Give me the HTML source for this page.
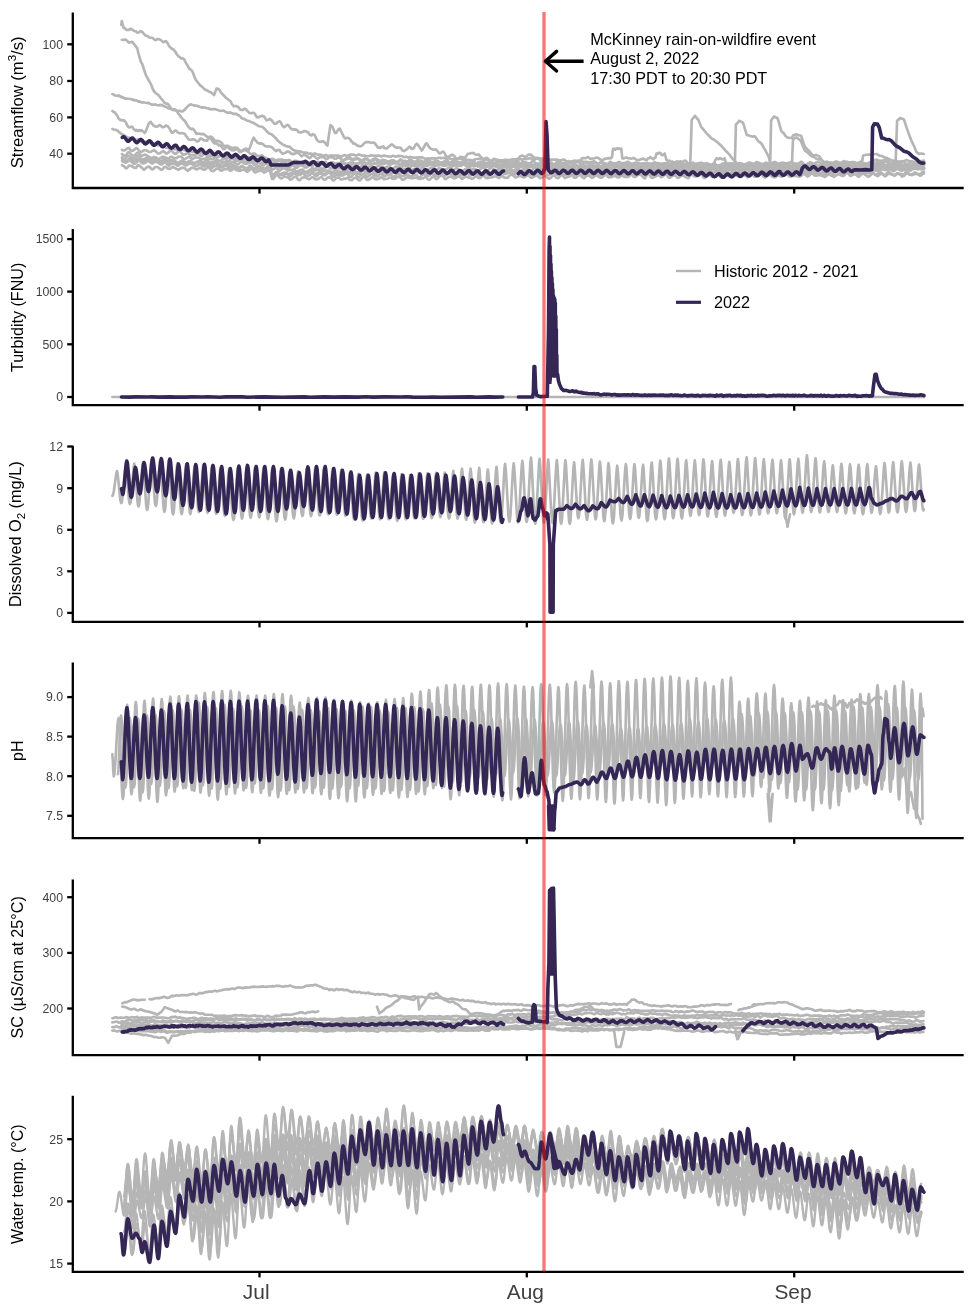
<!DOCTYPE html>
<html lang="en"><head><meta charset="utf-8"><title>Water quality time series</title>
<style>html,body{margin:0;padding:0;background:#fff}svg{display:block}</style></head>
<body>
<svg width="968" height="1306" viewBox="0 0 968 1306" font-family="'Liberation Sans', sans-serif">
<rect width="968" height="1306" fill="#fff"/>
<path d="M72.8,12.4 L72.8,188.0 L963.7,188.0" fill="none" stroke="#000000" stroke-width="2.3" stroke-linejoin="miter"/>
<line x1="67.2" y1="44.3" x2="72.8" y2="44.3" stroke="#000000" stroke-width="2.3"/>
<text x="63" y="48.6" text-anchor="end" font-size="12.3" fill="#404040">100</text>
<line x1="67.2" y1="81.0" x2="72.8" y2="81.0" stroke="#000000" stroke-width="2.3"/>
<text x="63" y="85.3" text-anchor="end" font-size="12.3" fill="#404040">80</text>
<line x1="67.2" y1="117.4" x2="72.8" y2="117.4" stroke="#000000" stroke-width="2.3"/>
<text x="63" y="121.7" text-anchor="end" font-size="12.3" fill="#404040">60</text>
<line x1="67.2" y1="153.7" x2="72.8" y2="153.7" stroke="#000000" stroke-width="2.3"/>
<text x="63" y="158.0" text-anchor="end" font-size="12.3" fill="#404040">40</text>
<line x1="259.5" y1="188.0" x2="259.5" y2="193.6" stroke="#000000" stroke-width="2.3"/>
<line x1="526.8" y1="188.0" x2="526.8" y2="193.6" stroke="#000000" stroke-width="2.3"/>
<line x1="794.2" y1="188.0" x2="794.2" y2="193.6" stroke="#000000" stroke-width="2.3"/>
<path d="M72.8,229.0 L72.8,405.1 L963.7,405.1" fill="none" stroke="#000000" stroke-width="2.3" stroke-linejoin="miter"/>
<line x1="67.2" y1="239.1" x2="72.8" y2="239.1" stroke="#000000" stroke-width="2.3"/>
<text x="63" y="243.4" text-anchor="end" font-size="12.3" fill="#404040">1500</text>
<line x1="67.2" y1="291.6" x2="72.8" y2="291.6" stroke="#000000" stroke-width="2.3"/>
<text x="63" y="295.9" text-anchor="end" font-size="12.3" fill="#404040">1000</text>
<line x1="67.2" y1="344.3" x2="72.8" y2="344.3" stroke="#000000" stroke-width="2.3"/>
<text x="63" y="348.6" text-anchor="end" font-size="12.3" fill="#404040">500</text>
<line x1="67.2" y1="397.0" x2="72.8" y2="397.0" stroke="#000000" stroke-width="2.3"/>
<text x="63" y="401.3" text-anchor="end" font-size="12.3" fill="#404040">0</text>
<line x1="259.5" y1="405.1" x2="259.5" y2="410.70000000000005" stroke="#000000" stroke-width="2.3"/>
<line x1="526.8" y1="405.1" x2="526.8" y2="410.70000000000005" stroke="#000000" stroke-width="2.3"/>
<line x1="794.2" y1="405.1" x2="794.2" y2="410.70000000000005" stroke="#000000" stroke-width="2.3"/>
<path d="M72.8,445.7 L72.8,621.8 L963.7,621.8" fill="none" stroke="#000000" stroke-width="2.3" stroke-linejoin="miter"/>
<line x1="67.2" y1="446.5" x2="72.8" y2="446.5" stroke="#000000" stroke-width="2.3"/>
<text x="63" y="450.8" text-anchor="end" font-size="12.3" fill="#404040">12</text>
<line x1="67.2" y1="488.2" x2="72.8" y2="488.2" stroke="#000000" stroke-width="2.3"/>
<text x="63" y="492.5" text-anchor="end" font-size="12.3" fill="#404040">9</text>
<line x1="67.2" y1="529.8" x2="72.8" y2="529.8" stroke="#000000" stroke-width="2.3"/>
<text x="63" y="534.1" text-anchor="end" font-size="12.3" fill="#404040">6</text>
<line x1="67.2" y1="571.3" x2="72.8" y2="571.3" stroke="#000000" stroke-width="2.3"/>
<text x="63" y="575.6" text-anchor="end" font-size="12.3" fill="#404040">3</text>
<line x1="67.2" y1="612.9" x2="72.8" y2="612.9" stroke="#000000" stroke-width="2.3"/>
<text x="63" y="617.2" text-anchor="end" font-size="12.3" fill="#404040">0</text>
<line x1="259.5" y1="621.8" x2="259.5" y2="627.4" stroke="#000000" stroke-width="2.3"/>
<line x1="526.8" y1="621.8" x2="526.8" y2="627.4" stroke="#000000" stroke-width="2.3"/>
<line x1="794.2" y1="621.8" x2="794.2" y2="627.4" stroke="#000000" stroke-width="2.3"/>
<path d="M72.8,662.4 L72.8,838.2 L963.7,838.2" fill="none" stroke="#000000" stroke-width="2.3" stroke-linejoin="miter"/>
<line x1="67.2" y1="697.1" x2="72.8" y2="697.1" stroke="#000000" stroke-width="2.3"/>
<text x="63" y="701.4" text-anchor="end" font-size="12.3" fill="#404040">9.0</text>
<line x1="67.2" y1="736.6" x2="72.8" y2="736.6" stroke="#000000" stroke-width="2.3"/>
<text x="63" y="740.9" text-anchor="end" font-size="12.3" fill="#404040">8.5</text>
<line x1="67.2" y1="776.2" x2="72.8" y2="776.2" stroke="#000000" stroke-width="2.3"/>
<text x="63" y="780.5" text-anchor="end" font-size="12.3" fill="#404040">8.0</text>
<line x1="67.2" y1="815.8" x2="72.8" y2="815.8" stroke="#000000" stroke-width="2.3"/>
<text x="63" y="820.1" text-anchor="end" font-size="12.3" fill="#404040">7.5</text>
<line x1="259.5" y1="838.2" x2="259.5" y2="843.8000000000001" stroke="#000000" stroke-width="2.3"/>
<line x1="526.8" y1="838.2" x2="526.8" y2="843.8000000000001" stroke="#000000" stroke-width="2.3"/>
<line x1="794.2" y1="838.2" x2="794.2" y2="843.8000000000001" stroke="#000000" stroke-width="2.3"/>
<path d="M72.8,879.5 L72.8,1055.1 L963.7,1055.1" fill="none" stroke="#000000" stroke-width="2.3" stroke-linejoin="miter"/>
<line x1="67.2" y1="897.2" x2="72.8" y2="897.2" stroke="#000000" stroke-width="2.3"/>
<text x="63" y="901.5" text-anchor="end" font-size="12.3" fill="#404040">400</text>
<line x1="67.2" y1="952.9" x2="72.8" y2="952.9" stroke="#000000" stroke-width="2.3"/>
<text x="63" y="957.2" text-anchor="end" font-size="12.3" fill="#404040">300</text>
<line x1="67.2" y1="1008.5" x2="72.8" y2="1008.5" stroke="#000000" stroke-width="2.3"/>
<text x="63" y="1012.8" text-anchor="end" font-size="12.3" fill="#404040">200</text>
<line x1="259.5" y1="1055.1" x2="259.5" y2="1060.6999999999998" stroke="#000000" stroke-width="2.3"/>
<line x1="526.8" y1="1055.1" x2="526.8" y2="1060.6999999999998" stroke="#000000" stroke-width="2.3"/>
<line x1="794.2" y1="1055.1" x2="794.2" y2="1060.6999999999998" stroke="#000000" stroke-width="2.3"/>
<path d="M72.8,1095.7 L72.8,1271.8 L963.7,1271.8" fill="none" stroke="#000000" stroke-width="2.3" stroke-linejoin="miter"/>
<line x1="67.2" y1="1139.2" x2="72.8" y2="1139.2" stroke="#000000" stroke-width="2.3"/>
<text x="63" y="1143.5" text-anchor="end" font-size="12.3" fill="#404040">25</text>
<line x1="67.2" y1="1201.4" x2="72.8" y2="1201.4" stroke="#000000" stroke-width="2.3"/>
<text x="63" y="1205.7" text-anchor="end" font-size="12.3" fill="#404040">20</text>
<line x1="67.2" y1="1263.6" x2="72.8" y2="1263.6" stroke="#000000" stroke-width="2.3"/>
<text x="63" y="1267.9" text-anchor="end" font-size="12.3" fill="#404040">15</text>
<line x1="259.5" y1="1271.8" x2="259.5" y2="1277.3999999999999" stroke="#000000" stroke-width="2.3"/>
<line x1="526.8" y1="1271.8" x2="526.8" y2="1277.3999999999999" stroke="#000000" stroke-width="2.3"/>
<line x1="794.2" y1="1271.8" x2="794.2" y2="1277.3999999999999" stroke="#000000" stroke-width="2.3"/>
<text x="256.2" y="1298.6" text-anchor="middle" font-size="20.9" fill="#404040">Jul</text>
<text x="525.4" y="1298.6" text-anchor="middle" font-size="20.9" fill="#404040">Aug</text>
<text x="793.0" y="1298.6" text-anchor="middle" font-size="20.9" fill="#404040">Sep</text>
<text transform="translate(23.3,102.4) rotate(-90)" text-anchor="middle" font-size="16.6" fill="#000">Streamflow (m<tspan dy="-7" font-size="11.5">3</tspan><tspan dy="7">/s)</tspan></text>
<text transform="translate(23.4,317.4) rotate(-90)" text-anchor="middle" font-size="16.1" fill="#000">Turbidity (FNU)</text>
<text transform="translate(21.0,534.2) rotate(-90)" text-anchor="middle" font-size="16.3" fill="#000">Dissolved O<tspan dy="3.5" font-size="11.5">2</tspan><tspan dy="-3.5"> (mg/L)</tspan></text>
<text transform="translate(23.4,750.6) rotate(-90)" text-anchor="middle" font-size="16.1" fill="#000">pH</text>
<text transform="translate(23.4,967.3) rotate(-90)" text-anchor="middle" font-size="16.15" fill="#000">SC (µS/cm at 25°C)</text>
<text transform="translate(23.4,1184.2) rotate(-90)" text-anchor="middle" font-size="16.0" fill="#000">Water temp. (°C)</text>
<path d="M122,149.8l1,.6 1,.1 2-.8 1-1.5 1,0 1-.3 1,1.8 2,1.1 1-.2 2-1.5 1-1 1,.2 1,1 1,1.6 2,1.2 2-1.1 1-.8 2,.1 2,.9 1,.8 2-.2 1-.8 1-.2 1-.7 2,1.5 2,1.9 2-.1 1-1 2-1.3 1,.4 2,2 1,0 2-1.6 1-1.2 2,.5 1,1.2 2,1.5 1-.2 2-2 1-.7 1,.2 3,3.6 1-.5 1,.3 1-.9 2-.6 3,2.2 1-.1 1,.3 1-.5 1-.2 1-.8 1,.4 1-.5 2,1.3 1,1 1-.2 2-1.9 1-.2 1,.8 1,1.3 1,.5 2-.4 1,.4 2-1.4 1-.4 2,1.5 1,.3 2-.1 1-.8 1,0 1-.6 2,1.5 1,1.3 2,.5 1-.1 1-.5 1-1.2 1-.9 1-.1 1,1.3 1,.1 1,.9 1-.3 1,.4 3-1.1 1,.6 1,0 1,.9 1,0 1,.7 1-.4 2-1.5 1,.1 2,1.7 2,2.1 1-.4 1-1.2 1-.6 2,.4 1-.2 2,1 2,.1 3-2.1 2,1.1 2,2 1,1.7 1,1.1 1-.9 1-.7 1-.2 1,.3 1,1 1,.4 1,.8 2-1.2 1-1.2 1-.6 2,1 1,1.4 1,.2 1-.4 2-2.1 1,0 1,.4 1,1.1 2,.6 1,.7 1,.4 1-.4 1-1 4,1 1,.5 1-.1 3-2.5 1,0 1,.3 1,1.7 2,1 1-.8 1-.2 1-.4 1-.7 2-.8 1,.6 2,2 1-.3 2-1.6 2,0 1,.5 1,.1 2,1.2 2-.7 1-1 2,.3 3,2.1 2-1.3 1-.9 2-.2 2,2.2 1,.4 1,.2 2-.5 1-.4 1-.9 1-.3 3,1.2 2-.6 1-1.5 1-.6 1-.1 2,2.4 1,1 1,0 3-2.3 1-.3 1,.2 1,.6 1,.3 1-.1 2-1 3-.8 1,0 2,1.9 1,.1 1-.7 2-.8 1-.2 1,.2 3,1.8 1-.5 2-1.6 1-.5 2-.3 1,.4 2,1.8 1,.4 3-2 1-1.3 1-.3 1,.5 1,1.1 1,.7 1,.3 1-.5 1-1.2 1-.3 1-.1 2,.6 1,.9 1,.4 1-.2 2-1.8 1-.5 1,.4 2,1.6 1,.2 1,1.1 1-.8 1-.4 1-1.5 2,.2 2,2.2 1,.2 1-.6 1-1.2 1-.7 1-.2 2,1.2 2,1.6 1,.1 3-3.9 1,.6 1,.3 1,1.5 1,.5 1,1.2 1-.1 1-.8 1-1.3 1-.9 1,0 1,.3 1,.7 1,1.2 2-.3 1-1.4 2-.5 1,.4 1,.8 1,0 1,1 1-.4 1,.3 2-2.4 1-.6 1,.3 1,2 1,1 1,.5 1-1 3-.7 2-1.1 1,1 1,1.6 1,.9 1-.2 2-2.6 2-.7 1,.8 1,.5 1,1.2 1,.2 1-.5 2-2.4 1-.3 1,.4 1,.7 2,.8 1-.4 1-.6 1-1.1 1,.1 1,.5 1,1.7 2,.6 2-.2 1-.6 2-.9 2-.2 2,1.9 1-.1 2-1.6 2,0 1,.4 1,.8 1,.3 1,.1 2-.7 1-1.3 1-.6 1,.5 1,1.7 1,.2 1,1.2 1-.8 1,.5 1-1.1 1-.1 2-.9 2,1.1 1,0 1,.6 1-.2 1,.5 1-1.6 1,.1 1,.5 1,1.5 1,.2 2-1.4 1-1.4 1-.9 1-.3 1,.6 1,1.1 1,.7 1,1.4 1,.4 1-.4 2-2.3 1-.3 1,.3 2,1.4 1-.3 1,.2 1-.1 3-1.8 2,.8 2,2.6 1,.1 2-2.6 1-.6 2,1.3 1,1 1,.4 1-.3 1-.8 1-1.5 2-.9 1,.9 1,.6 1,1.1 1,.5 1-.4 2-2.1 1,.2 2,2 2,1 1-.7 1,.1 2-2.4 1,.1 2,2.2 2-.1 1,.2 2-2 1-.4 1,.5 1,1 1,.7 1,1.3 2-.6 1-2 1-.9 1-.1 1,.5 1,1.2 2,.8 1-.2 2-1.2 1-.2 1,.1 1,.5 1,.2 2,1.2 2,.3 1-.5 2-1.7 1,0 1,.7 2,.5 2-.5 3-1.2 1,1.4 1,.9 1,1.6 2-.5 1-1.5 1-.6 1,.3 1,0 1,.8 1,.4 1,1 1-.2 1-.7 1-1.1 2-1 2,1 1,.8 1,.2 1-.3 1-1.3 2-.1 1,.9 1,.1 1,.5 2,.5 1-1.2 1-.7 2,.3 1,.6 1,.1 1,1.2 1,.3 3-2.3 1-.1 2,.6 1,.7 1,1.1 2-.5 1-1.7 1-.1 1-.5 1,0 2,1 1,1 1,.3 1-.6 1-1.1 1-.6 1,.4 1,1.3 2,.8 1-.5 2-.5 2-1.2 1-.2 1,.4 1,1.6 1,.4 1-.2 1-1.2 1-.6 1-.2 2-.2 1,.6 1,.2 2,0 1-.5 2-.5 2,.9 1,1 1,.6 1-.1 3-2.6 1-.4 2,.5 1,.6 2,.7 2-1.9 1-.4 1,.6 1,.1 1,1 2,.9 1-.2 3-1.8 1,.3 1,.8 1,.5 1,.9 1-.4 1-.9 1-1.4 1-.4 1,0 1,.4 1,1.1 2,1.1 1-.1 1-.6 1-1 1,0 5,1.4 1-.2 2-1.6 1-.2 1,.4 1,.8 1,.1 1,.3 1-.3 1,.4 2-1.3 1-.9 1,.5 3,3 2-.8 1-1.3 1-.3 1-.8 2,1.1 1,.9 1-.5 1-.2 1-.9 1-.1 1-.6 1,.4 1,.9 1,.4 1,.2 2-.4 2-1.4 1-.3 1,.6 1,1.3 2,1.2 2-1 2-2 2-.2 2,2 1,.2 1-.4 1-1.3 1-.3 1-.7 3,2.1 1,.1 2-.7 3-.5 2,.5 1,1 1-.2 1,.2 1-1 2-1 1,.8 2,1.9 2,.4 1-.5 1-.9 2-1 1,.5 1,.1 2,1 2-.8 1-.9 1,0 1-.7 1,.4 2,1.9 1,.1 1-1.4 1-.3 1-.9 1,.7 1-.4 1,1.1 1,.4 1,1.2 2-1.4 2-.9 2-.3 1,.7 1,1.2 1,.8 1-.2 1-1.7 1-.9 1,.3 1,1.1 1,.7 2,.4 3-2.1 1-.3 1,.9 1,.3 1,.7 1,.3 1,.9 1,.2 2-2.4 1-.2 2,.6 1,.8" fill="none" stroke="#B5B5B5" stroke-width="2.65" stroke-linejoin="round" stroke-linecap="round" />
<path d="M122,154l1,1 1,.6 1,0 1-.3 2-2.7 1-.4 1,.6 2,2.6 1,.6 1-.3 1-.6 2-2.3 1,0 1,.7 1,1.2 1,.9 1,.2 2-.9 1-.3 2,.9 4,2.7 1-.5 1-.1 1-.7 1,.6 1-.2 1,1.1 2,.8 1-1 1-.4 1-.8 1-.3 1,.2 4,1.6 1,.2 1-1.4 1-.5 1-.1 1,1 1,.1 1,.6 2-.5 1-1.1 1-.3 1,0 1,.2 1,.6 2,2.3 5-2.9 1,.4 1,1.3 1,.6 1-.3 1-.8 1-.5 2,.1 2,.4 1,.8 2,.7 1-.5 1,.3 2-.9 1-.8 1,.3 2,1.2 1,.1 1,.4 3-2.1 1,.3 3,3.6 2-.5 1-1.2 1-.3 1-.7 1,.1 1,.7 1,1.7 1,.7 1-.4 1-1.3 2-1.7 1,.5 2,1.9 1,.2 1,0 1-.4 1-.9 2-.6 2,1.6 1,1.1 1,.4 1-.5 1-1.2 1-.7 1-1.2 1,.7 1,.2 1,1.7 2,.8 2-1 1-.1 2,.9 1,.6 1,.2 1,.7 2-.9 2-1.5 1,0 2,1.4 1,.3 1,2.5 1,1.2 3-2.2 1,.2 1,.5 1,1.1 1,1.6 1-.8 1,.7 1-.9 1,.4 1-.6 2,.2 1,1.2 2-.1 1-.6 1-.9 1-.6 1,0 1,.4 1,1.2 1,.7 1-.1 2-1.9 1-.6 1-.2 1,.2 1,1.1 1,.2 1,.9 1,.1 1-.1 1-1.1 2-1.3 1,.7 1,1.2 1,1.9 1,.6 1-.6 2-2.1 1-.3 3,2 2,.2 1-.2 2-1.3 1-.4 2,.4 1,.5 1,1 2-.6 1-1.2 1-.1 1,.1 1,.7 1,0 1,.8 1-.2 1,.3 1-.6 1-.3 2,.2 1,.9 1,.5 2,.4 1-.2 1-1.3 1-.8 1-.3 1,1 2,.9 1-.3 2-.1 2-2.1 1-.1 1,.3 2,0 1,.8 1,.2 1-.2 1-.8 1,.1 1-.4 2,.7 1,.8 2-.6 1-.5 1-.8 1-.2 2,2 1,.4 1-.1 2,.5 1-1.3 2-.6 1,.6 1,.2 1,.9 1,.6 1-.3 3-2.1 1,.4 1-.2 1,.2 1,.4 1,0 1-.4 1-1.1 2-.4 1,.8 1,0 1,1.1 2,.7 2-2.5 1,.2 1-.2 1,.4 1,0 1,.9 1,0 1-.4 1-1 2-1.5 1,.3 2,1.7 2,.3 1-.5 2-1.8 1-.3 1,1.1 1,.4 1,1.2 1,0 2-1.4 1,0 1-.9 1,.4 1,0 1,1.1 1-.1 1,.5 1-.3 1,.2 1-1.1 2,0 1,.6 1,1.2 1,.1 1-.3 1-.9 3-.8 1,0 1,.5 1,.7 1,.3 1-1 2-1.3 2,.5 1,1 1,.4 1,1.4 2-1 2-3.5 1-.1 1,.9 1,2.2 1,.3 1,.8 1-.9 1-.1 1-2 2-.3 1,1.7 1,1 2,.5 2-.5 1-.6 2,0 2-.4 2,1.7 1,0 2-1.9 1,0 2,1.1 1,1.2 1,.3 1-.4 1-1.8 1-.9 1,0 2,1.9 1,.6 1,.3 3-1.3 1,.5 1-.7 1,.4 1,.2 1,.8 1,0 1-.9 2-.8 1-.2 2,1.1 1,1 1,.3 3-1.1 2-1.1 1-.2 2,.5 2,1.3 1,.3 1-1.2 1-.6 1-.1 1,.7 2,.7 1,.1 2-1.1 2-.6 1,.6 1,.1 1,.8 2-.1 1-.3 1-.8 1,.1 1-.2 1,.5 1,.2 2,.1 1-.4 1,.1 1-.8 1,.3 1,.1 1,.9 1,.3 1,.7 1,.3 1-.1 2-2.1 1,0 2,.9 2-.3 1,.4 3-1 1,.8 1,.3 1,.6 1,0 1,.6 2-1.6 2-.7 2,.8 2,1.4 1,.1 1-.3 3-2.5 2,.6 2,1.6 3-1.8 1,0 1-.3 3,1.8 1-.4 3-.2 2-.8 1,.3 1,.5 1,.9 2-.5 1-.7 3-.5 2,.8 1,1.1 1,.5 1-.7 2-1.7 2,1 1,.7 1,.3 2-.8 1-1.3 1-.5 1-.1 2,1.2 1,1.1 1,.4 1-.1 1-.9 2-.6 1-1 1-.1 3,3.1 1-.9 1-.4 1-1.4 1,.3 1,.1 1,1.1 1,.2 1,0 3-1.3 2,.7 1,.7 1,0 2,.4 1,.5 2-1.2 1-1.2 1-.7 2,.6 1,1.3 1,.5 1-.1 1-.9 1-.1 1-.6 2,.2 2,1.6 2,.4 1-1.2 2-1.6 4,2.9 1-.4 1-.6 1-1.2 1-.4 1,.1 3,2.5 1-.1 1-.8 2-2 2,.4 3,2.3 2-.2 1-.9 1,0 1-.4 2,1.2 1,.9 2-.3 1-1.2 1-.8 1-.3 1,.1 1,1.7 2,.8 1-.4 1,0 2-2.1 1-.3 3,2.6 1,.3 1-.3 1-1.4 2-1.6 1,.1 2,1 1,1.3 1,.9 1-.3 1-1 1-1.5 2,.5 1,.8 2,.7 2-.6 1-1.2 2-.7 3,2.4 2-.3 1-1.1 2-1 1,.4 1-.1 1,.8 1,0 1,1.1 1-1 1-.7 1-1.6 1,.9 1,.3 1,1.2 2,.5 4-1.1 1-.5 2,1 2,1.8 1-.1 1-.7 1-1.6 1-.8 3,1.7 2,.3 1,.5 1-1.7 2-.9 3,1.9 1,1.2 1-.1 2-2.3 1,.2 1,.4 1-.4 2,1.4 1,1.2 2-1.4 1-1.5 1,.1 1,.8 2,0 2,1.2 1-.8 1-1.4 1-.5 2,.4 3,1.9 1-.3 2-1.4 2,.5 4,2 5-2.3 1,.4 1,1 1,.5 1-.6 1-1.3 1-.7 1,0 1,.7 1,.1 1,.8 1,.2 1,.9 1-.6 2-1.7 1-1.2 2,.4 1,1.7 2,1.7 1-.6 1-1.2 1-.7 1-.4 2,1.3 1,.4 1,.2 1-.1 2-.9 3,.3 1-.4 1,.5 1,.2 1-.3 2-1.1 3,.3 1,1.1 2,.4 2-.5 2-1.2 1,.4 2,1.5 1,.4 1-.1 1-.6 1-.2 1-1.1 1-.6 1-.3 1,1.4 2,1.9 2-2.4 1-.9 2,.4 1,.7" fill="none" stroke="#B5B5B5" stroke-width="2.65" stroke-linejoin="round" stroke-linecap="round" />
<path d="M122,157.3l2,1.6 1-.2 1-.4 1-2.2 2-.4 1,1.7 2,1.5 1-.7 1,.5 2-.8 1-1.9 1-.1 1,.7 1,1.4 1,.7 2,.8 2-.7 1-.9 1-.4 2,.4 1,.5 2,1.6 1-.6 2-1.8 1,.4 1,.9 1,1.8 2,.4 1,0 2-1.4 1-1.2 1-.1 3,3.5 3-1.8 1,.5 2,.2 1,.7 2,2 1-.7 1-.2 1-1.1 1-.1 1-1.1 2,1.1 1,1.1 1,.2 2-.8 1-.9 1,.2 1-.1 1,.6 1,1.1 1,.3 2-.1 1-1.1 1-.2 1-.7 1-.1 1,.5 1,.8 1,.6 1-.1 1-1.4 2-1.7 1,1.3 2,1.9 1-.4 1,.4 2-.9 1-1.6 2,1.1 1,1.9 1,.7 1,0 2-1.3 2-.9 1,.1 1,.4 1,1.2 1,.7 1,.2 1,0 1-1.5 1-.7 1-.2 1,.8 1,.2 2,1.4 1,0 1-.7 1-1.2 1-.6 1-.1 2,1.5 1,.5 2-.1 1-.8 1,0 1-.4 2-.1 1,.9 1,1.3 1,.6 1-.7 2-2.1 2,.7 1,1.4 2,1 1-.3 1-1.2 1-.5 1-.2 1,1.8 2,1.4 1,1.2 1,2.3 1-.7 1-.4 1-1 1-.3 3,3.1 1-.2 2-1.8 1-.6 3,1 2,1.5 1-.3 2-.4 1,0 2-.7 1,.9 1,1.3 1,.3 1-.4 1-.8 1,.2 1-.8 2-.3 1,1.8 1,.7 1,.4 1-.9 1-.4 2-1.5 1-.4 1-.1 1,.9 1,.1 1,.4 3-1 3,1.1 1,.8 2-.5 1-.5 1,0 1,.3 2-.3 1,.5 1,1 1,.5 1-.5 1-1.3 1-.8 1,0 2,1.3 2,.3 1,.6 1-.2 1-.7 1-1.5 1-.3 1,.4 1,1.5 1,.7 1,.3 2-.6 2-1.6 1,.1 2,2.1 1,.2 1-.2 2-1.3 1-1 2,0 1,1.1 1,.4 1,1 1-.1 2-.9 1-1 1-.5 1-.2 2,2.3 1,0 2-1.8 2-1.2 1,.8 1,0 1,1.1 1,.1 1,.4 2-1.9 1-.4 2,.1 1,1 1,.4 1,1.3 2-.4 1-1 2-1.1 1-.2 1,.5 2,2.2 3-3.1 1-.2 1,.1 1,.9 1,1.6 1,.3 1-.3 1-.6 1-.3 1-.9 2-1 1,.5 1,1 2,.9 1-1 2-3 1,.1 2,2.3 2,1 1-.6 1-.3 1-1.1 1-.7 1,.3 1,0 1,.8 1,.1 1,.7 1,.2 1-1 1-.5 2,.3 1,.8 3,.3 1-.2 1-.5 1-1 1,0 1,.1 1,.9 2,1.1 1-.2 2-1.5 1,0 1,.8 1,1.2 2,.7 2-.4 1-.4 1-.9 2-.9 2,0 1,.5 1,1 1-.3 1-.7 1-.3 1,.1 2,1.5 1,1 3-2.6 2-1.1 1,.3 1,1.3 2,1.8 1-.4 2-2.4 1-.5 1,0 1,1.4 1,.4 1,.9 1-.4 1-.1 1-.4 1-1.1 1-.4 1,.4 1,1 1,.6 2,.5 1-.3 1-1.8 2-2 3,3.8 1,.7 1-.3 1-.8 2-1.1 1,0 1,.5 1,1.1 2-.1 1-1 3-.3 1,.2 2,1.5 1,.5 1-.3 3-2.4 1-.3 2,.8 1,1 1,.3 1,0 2-1.8 1-.3 2,.8 1,1.2 2,.9 1-1.3 2-1.5 5,2.9 1-1 1-.5 1-.9 3,1.3 1,1.2 1,.2 1-.3 1-1.5 2-.2 1,.3 1-.4 1,.3 1,1.5 2,1.6 1-1 1-1.6 1-.9 1-.3 2,2.2 2,1.5 2-1.4 1-1.2 1-.5 2,1.4 1,1.2 1,.5 1,0 2-1.4 1-1 1,0 1-.4 2,1.7 1,.3 1-.3 1-.9 1-.3 1-.6 1,.2 1,.5 1,1 1,.2 2-.2 3-1.3 2,.4 1,.4 2,.3 1-.1 3-1.7 1,.5 2,.4 1,0 1,.3 3-1.8 1,.3 3,1.3 1-.1 1,.4 3-1.8 2,1.1 1,1.1 1,.5 1,.3 1-.6 1-1.1 2-.7 1,1.1 1-.1 1,.7 1,.2 1-.1 1-.4 3-1.7 1,.6 1,1.2 1,.6 1,.2 1-.3 3-3.5 1,.7 2,2.3 1,.1 3-2.1 2-1.1 1,.2 3,2.7 3-2.8 2,.1 1,.8 1,1.4 1,.9 1-.3 1-1.3 2-1.1 1,.4 3,.9 2-.5 2-1.5 1-.1 1,.2 1,.6 2,.7 1,.6 1-.9 1-.5 1-1.3 1,.2 1,.5 2,1.5 1,.4 1-.7 1-.2 1-.9 1-.3 1,0 1,.5 1,1 1,.4 1-.1 1-.5 2-1.6 2-.4 1,.9 1,.2 1,.5 1,.2 1-.3 1-.7 1-1.5 2,.1 1,.8 1,.1 2,1.2 2-1.1 1-1.1 1,.8 1,.5 1,1.5 1-.3 1,.4 1-1.4 1-.2 1-.8 2-.8 1,.2 2,1.3 1,0 3-1.2 2,0 1,.5 1,1.3 1,.3 2-.3 1-.4 1-.7 1,.4 2,1.5 2,.2 2-.9 1-.9 1-.4 1,0 1,.2 1,.8 1,0 1,1.3 1,0 1,.3 1-1.2 1-.1 1,.4 2,1.7 2-.7 3-2.8 1,.3 1,1.2 2,1.6 1,.3 1-.1 1-1.6 1-1.1 2,.1 2,.9 2,.3 1-.3 1,0 2-.8 2,1.1 1,.3 1,0 1-.4 2-.1 2-.6 1-.1 1,.6 1,1.2 1,.4 1-.5 1-1.2 1-.5 1-.2 1,.6 1,.3 1,1.2 2,.6 3-2.2 1-.4 3,1.1 1,.6 3-1.2 1-1.3 1,.2 1-.1 1,1.7 1,0 1,.6 1-.2 1-1.1 2-1.2 1,.4 3,2.2 1-.6 1,.2 2-1.8 1-1.2 1,.6 2,2.1 2-.3 3-2.4 1,.3 2,2.5 1,.5 2-1 1-.1 1-.9 1,0 1,0 2,1.6 1,.2 1-.2 1-.7 1-.4 2-.1 1,.3 1,1.3 1,.4 1,0 1-1 1-.3 2-1.1 3,2.1 1,.2 1-.5 3-2.2 1,.2 1,1.1 1,1.7 1,.8 2-.8 1-1.3 2-.7 1-.1 1,.9 1,.2 1,.7 2-1.2 1-1 1,0 2,.3" fill="none" stroke="#B5B5B5" stroke-width="2.65" stroke-linejoin="round" stroke-linecap="round" />
<path d="M122,158.8l1-.2 1,1.1 2,1.1 1-.3 2-1.3 1,.2 1-.5 1,1.1 2,1.3 1-.8 2-1 2-.4 2,1.7 1,.2 1,.5 2-.4 1-1.5 1-.5 1,.2 2,2.1 1-.1 1,.9 1-1.2 1,.2 1-1 1-.2 1,0 1,.8 1,1.1 1,.6 2-1.1 1-.9 1-.3 2,0 1,1 1,1.4 1,.2 1-.9 1-.4 1-.9 1,.2 1-.4 4,2.7 1,.4 1-.9 2-1 2,.7 1,.8 1,.3 1,.1 1-1.4 2-1 1,.7 1,1.2 1,.6 1-.1 1-.3 1-.8 1-.3 1,0 1,1.1 1,.5 2,.7 1-.4 1-.1 1-.3 1,.3 2-1.6 1,.6 2,2.4 1,.1 1-.5 1-1.1 1-.5 1,0 1,.6 1,.2 1,1.1 1,.4 1,.8 1-.7 1-.2 1-.9 1,0 1-.5 1,.7 1,1.1 1,1.9 1-.3 1-1.2 1-1.7 4,1.7 3,1.7 2-1.6 1-.6 2,1.7 3,.7 1-.6 1-1.4 1-.6 1,.2 1,1.3 1,.7 1,.3 1-.1 3-1.9 1-.3 1,.9 1,.5 1,.9 1,0 1,.7 1-.3 2-1.5 1-.2 1,.3 1,.9 2,7.1 1,0 1-.6 2-2.5 2,.4 1,1.3 1,.4 1,.1 1-.8 1-.5 2-.3 1,.1 2,1.4 1,.2 1-.9 1-.1 2-1 1-.9 1-.1 2,2.2 1,0 1-.4 2-1.5 1-.4 2,.5 2,1.4 1,.2 2-1.2 1-.9 1-.4 1,.5 2,2.6 2,0 2-1.1 1-.7 1,.1 1,1 2,1.1 2-.5 2-.9 1-.7 1-.4 2,.9 1,.9 1-.2 1,.2 1-.9 3-.2 2,1.3 1,.2 1-1.2 1-.1 1-.4 2-.1 4,1.2 1,0 1-.1 1-1.2 2-1 1,1.3 1,.5 1,.9 2-.1 1-1 1-1.7 2-.5 1,1.4 1,.9 1,.5 1,0 4-2.8 1,.7 1,1.7 1,.8 1,.2 1-1.4 1-.3 3-1.6 1,.4 1,1.2 1,.8 1,.1 1-.8 1-1.3 1-.7 1,.3 1,.9 2,1.2 1,.1 1-.1 1-1 1-1.4 1-.6 1,0 2,1.8 1,.6 1,.2 2-.9 1-1.2 1-.9 1,.6 2,2.2 2,.3 2-.7 1-1.1 1-.1 1,.4 1,1.1 2,.6 1-.9 1,.6 1-.2 1,.6 2,.3 1,.6 2,.5 3-2.7 2,1.1 1,1.4 1,.9 1,.2 1-.9 1-1.8 1-.2 1-.6 1,.3 2,2.2 1,.7 1-.3 3-2.2 1-.2 1,.6 1,.2 2,1.9 1,.1 2-2.2 2-1.3 1,.2 1,1.1 1,1.8 1,.8 2-1.1 1-1.4 1-1 1,.4 1,1.5 1,.6 1,.3 1-.1 2-2.3 1-.7 1,.4 1,.8 1,0 1,.7 1,.1 1,.7 1-.9 2-.9 1-.2 3,3.1 1,.2 3-2.9 1-.7 1-.2 2,1.3 2,.8 2-1.6 1-1.4 1,.1 1,.8 1,1.4 1,.7 1-.3 3-2.8 1-.6 2,1.2 1,1.7 1-.2 1,.5 1-1.5 1-.5 1-1.2 1,0 1,0 1,.7 2,1.9 2-.5 1-1.2 1-.3 1,.4 1,0 1,.6 1-.5 1,.7 1-.2 1,1 1-.7 1,.3 1-.5 3,1.5 1,.3 1-.7 2-2.5 1-.6 1,0 1,1.2 1,.5 1,.1 2-.8 2-.6 1,.1 1-.3 2,1.1 2,0 1-.9 1-.4 1-.1 1,.3 3,1.7 1,1 1-1.3 1-.9 1-1.4 1,1.1 2,.5 1,.9 1-.2 1,.3 1-1.6 1-.7 1-.3 3,2.8 1,.2 2-.5 1-.8 2-.6 1,.2 1,.6 1,.9 2,.6 2-1 1-1 1,.6 1-.3 1,1.4 1,.3 1,.6 1-1.1 2-.3 1-1 1-.6 2,1.7 1,.5 1-.5 1,.6 1-.8 1-.2 1-1.2 2,1 1,1.2 2,0 1-.7 2-.9 1-.1 2,1.3 2,.9 2-1.3 1-1.1 2,.4 1,.8 2,2.3 1,.6 1-1.2 2-1.9 1,.2 1,0 1,.7 1,1 1,.7 1-.4 2-2.6 1,.1 1,.7 1,.2 1,.4 1-.1 1,.2 2-.8 2-1.4 1,.4 2,2.4 1,0 1-.5 3-2.3 1-.2 3,2.6 1,.1 1-.3 2-2 1,0 1,.4 2,.3 2,.8 1,.1 1-1 1,0 1-.6 1,.6 1,0 1,1.4 1,.4 2-1.3 1-1.2 1-.2 1-.1 1,.3 3,2.2 1-.3 1-1.3 1-.5 1,.3 1,.8 1-.3 2,.7 2,0 1-.8 1-.2 1-.7 2,.6 1,1 1,.5 1-.1 2-1.4 2-.2 2,.6 1,1.1 1,.2 1-.4 1-1.3 1-.5 1-.1 1,.2 1,.5 2,2.3 1,.3 1-.6 2-2.2 1,0 1,.4 1,.8 1-.1 1,.5 3-1.6 1-.3 2,.9 2,1.8 2-.5 1-1.6 1-.6 1-.2 2,1.4 2,1.9 1,0 1-.7 1-1.4 1,.2 2,1.4 3,.1 4-2.9 1,.3 1,1.1 2,.8 1,.1 1-.2 1-.8 1-1.4 1,.4 1,.1 1,.8 1,.3 1,1.3 1,0 2-2.4 1-.2 1,.9 3,0 1,.5 1,0 1-.4 1-1.2 1-.5 1-.1 1,1.6 1,1.1 1,.4 2-1.3 1-.3 1,.6 1-.5 1,.7 1-.5 1,.5 2-.7 2-1.7 1-.1 1,.3 1,1 1,.7 1,.5 1,.2 1-.5 1-.7 1-1.1 1-.3 2,1.1 1,1.1 1,.7 1,.4 1-1.2 1-1.8 1-.9 1,.2 1,1.1 1,.8 2,.7 1-.7 1-.2 2-1.4 2,.6 1,.8 1-.1 3-1.1 1,0 1-.5 3,1.7 3-.5 2-1 1,.4 1,1.4 2,1 1,0 1-.2 1-.5 1-2.3 1,.2 1-.2 4,3 1-.6 2-2.3 1-.7 1,.5 1,1 1,.6 1,0 1-.1 1-.7 2,0 2-.8 1,0 2,.9 1-.3 2-1.6 1,.4 2,1.1 2,1.5 1-.1 1-.6 1-1.2 2-1 2,2 2,.6 1-1.1 1-.2 1-1 2-.6 1,.6 2,1.7 1,.2 1-1.1 2-1.3 1-.4 3,1.4 3-.2 1-.8 2,.3" fill="none" stroke="#B5B5B5" stroke-width="2.65" stroke-linejoin="round" stroke-linecap="round" />
<path d="M122,160.9l1,.7 1,.2 1,.6 1,.3 1-.9 2-.9 1-.1 1,.2 2,2.3 1,.5 1-.1 2-1.7 1-1.2 1-.2 1,.6 2,2.1 1,.2 2-.6 2-1.5 1-.3 2,.9 1,1.1 1,.4 1-.2 2-1.6 1-.2 1,.4 1,.9 1,.4 1,.8 1,.4 1,0 1-1 1-.7 1-.4 1,.2 1,1.6 2,1.6 1-1 1-.6 2-.8 2,.6 1,.6 1,1 1,.1 1-.6 1-1.4 1,.1 1-.2 4,2 3-1.6 1-.3 1,.1 1,.4 3,1.9 1-.1 2-.7 1-1 1,0 1,.2 1,1.3 2,.9 2-1.5 1,.3 1-.1 2,.7 2,2 2-1.7 2-.2 1,.2 1-.6 1,1.3 2,.6 1-.4 1-.1 2-1.3 2-.2 1,1.1 1,.2 1,1 3-1 1-.6 4,2.5 1-.1 2-1.9 1-.3 1,.3 1,.9 1,1 1,1.6 2-.5 1-1.8 2-1.2 3,2.4 1,.3 1,0 2-1 1-.1 1,.1 1,.7 4,.2 1-.2 1-.6 2-.4 1,.7 2,6.7 2-.1 1-.3 1-.7 1-.1 1-.4 2,.8 2,.2 1-.4 1,0 1-.9 1,0 1,.2 2,2.3 1,.3 1-.4 1-1.2 2-1.4 1,.1 1,.8 1,.2 1,.6 2-.2 1-.7 1-1.2 1,.2 1,.7 1,1.4 1,.8 1-.1 3-1.2 1-1.3 1-.2 1-.6 1,1.8 2,1.5 1-.2 2-2 1-.5 1,.2 2,1.5 1-.1 1,.2 2-1.6 1-1 1-.1 1,.6 2,2.8 1,.9 1,0 2-2 1-.4 1,1 3-.2 1,.4 1-.1 3-2.1 1,.1 1,1 1,1.5 1,.8 1,.1 1-.9 2-2.5 1-.1 1,1.1 2,2.9 1-.2 2-2.1 2-.6 1-.4 1,.3 1,1.6 1,.7 1-.1 1-1 1-.5 1-1 1,0 1,.5 1,.9 1-.2 1,1.1 2-.3 1-1.6 2-.8 1,.8 1,.5 1,1.4 1-.3 1-.6 1-1 1,.3 1-.7 2,.5 1,1.4 1,.7 1,0 3-2.5 2-.2 1,.9 2,1.2 2-.3 1-.6 1-.2 1-.7 2,1.3 1,1.1 5-2 1,.2 1,.5 1,1.4 1,.7 1-.2 2-2.3 1-.5 1-.1 2,.9 1,.7 2-.2 1-.8 1-1.6 2,.1 1,1.2 2,1.2 2-.2 1-.9 2-.4 2,.5 1-.1 1,.8 2-1 1-.9 2,0 2,1 1,1.8 1,.2 1-.6 2-3.2 1,0 1,.2 1,1.2 1,.8 1,0 3-.6 1-.3 1-.6 1,.1 1,.9 1,.2 1,.5 1-.5 1-.2 1-1.6 1,0 1,.3 1,.6 1,1.1 2,.8 1-1.3 2-.9 2,.2 1,.4 1,.8 2,.3 1-1.4 2-2 1,.6 1,.3 4,2.6 1-.4 3-2.5 1,.1 1,.4 1,1.1 1-.1 1-.5 1-.9 1-.1 1,.2 2,1.1 1,.9 1,.2 1-.2 1-1.1 1-.5 1-.2 2,.8 1,.7 1,1.2 1,.1 1-.9 1-1.7 1-.5 1,.3 2,1.4 1,.5 1-.1 1-.6 1-1.2 1-.4 1-.9 3,1.6 2,1.5 1,0 2-1.7 1-.1 2,.7 1,1.1 1,.5 1-.1 1-.7 4-1.8 1,.4 2,1.6 1,.1 1-.6 1-1 1-.4 1,.4 1,.9 2,.9 2-.5 3-2.3 1-.5 1,.9 1,1.5 1,1.1 1,.2 1-1 1-.3 1-.9 1-.2 2,.8 1,1 1,.3 1-.2 2-1.5 2,0 3,1.4 1,0 1,.5 1,0 2-1.9 1-.2 2,2 2,.4 1-.2 1-.8 1-1.7 1-.5 1,.9 1,1.4 1,1.1 2-.5 3-1.5 1,0 2,1.1 1,.4 1-.2 1,.2 2-1.4 1-.5 4,2 1,0 1-.9 1-1.6 1,0 1-.9 1,.3 1,.8 1,1.5 1,.8 1-.1 2-1.2 2-.5 1,.3 2,2.8 1,.4 1-1.4 2-2.1 2,0 2,1.9 1-.3 1,.1 1-1.8 2-1.1 1,.3 3,1.8 2-.9 1-1.2 1-.2 1-.5 1,.8 1,.4 1,1.1 1,.6 1,0 2-2 1-1.5 2,.6 1,1.2 1,.7 1,.3 1,.7 1-.8 1-.2 1-.4 1,.1 1-.3 2,1.4 1,.3 2-2.2 1-.9 1-.4 1,.4 1,.7 2,3.3 1,0 2-2.4 2-.1 2,.4 2,1.8 1-.4 1-1.7 1-1.2 1-.1 3,2.2 1,.2 1-.9 2-1.2 1,0 1-.5 1,.6 1,.3 1,.8 2,.6 1-.3 2-1.5 1,.1 1,.7 1,1.4 2,.7 1-.4 1-.8 2-2.1 1,.1 1,.5 1,1.1 1,.7 1,0 1-.5 2-2.1 1,.3 2,1.8 2,1 1,0 2-2.5 1-.6 1,1.1 2,1.6 1-.4 1,.2 1-.2 1-1 1-1.5 1-.1 2,2.3 2,1.4 3-2.3 2-.3 1,.5 1,.9 1,.3 1-.3 1-.8 1-.4 1-1.1 1,.5 1-.5 1,1.3 1,.1 1,.8 1,.5 1,.3 1-.3 1-.9 2-.4 1,1 2,1.4 2-.7 1-1 2-1 2,.6 1,.7 2,.2 1-.9 1,.4 1-.4 1,.8 2,.1 2-.3 2-1 1-1.4 4,2.2 1-.1 1,.1 1-.5 1,.5 1-.1 1,.2 1-.4 3,1.4 1-.2 1-.7 1-1.1 1,.3 1-.5 1,.9 1,.2 1,.8 1-.6 2-2.1 2-.4 1,.3 1,.7 1,1.4 1,.3 1-.5 1-1.4 1,.2 1-.2 2,.9 1,1.4 1,.9 1-.7 2-2.5 2-.7 2,1 1,1.2 1,.4 1-.2 2-2.3 1,.2 2,1.3 1-.4 1,.5 1-.1 1,.4 1-1.1 2-.9 1,1.5 2,1.8 1-.2 2-.9 1-.7 1-.5 1,.1 3,2.5 1,0 1-.5 1-1.4 1-1 1-.1 1,.8 1,1.3 1,.6 3,.2 1-.6 1-.9 1-.1 2,.9 1-.3 1,.8 2-.1 2-2.6 1,.1 1,.6 1,1.5 1,.2 1,.7 1-.7 1,0 1-1.5 1-.3 1,.3 1,.9 3,.4 1-.5 1-1.2 1-.6 1-.1" fill="none" stroke="#B5B5B5" stroke-width="2.65" stroke-linejoin="round" stroke-linecap="round" />
<path d="M122,164.9l1,.9 1,.3 1,1.3 1,.9 1-.4 2-2.4 1,.4 1-.1 1,.6 1,.2 1,1.2 1-.1 1,.3 1-1.7 1-1 1,.1 2,1.6 3,2.9 1-1.1 3-2.2 2,.5 1,1.6 1,.5 1,.1 1-1.2 1-.8 1-.3 1,0 1,.3 3,2.5 1-.2 1-.9 1-1.5 1-.4 1,.2 1,1 1,.5 2,.5 1-1.1 1-.4 1-.9 1,1 1,.3 1,.9 1,.2 1,.8 2-.8 1-1.2 1,.1 1-.2 2,.4 1,1.6 2,1.2 1-1.6 1,.2 1-1.7 2-.1 1,.6 1,.1 1,1 1-.3 1,0 1-1 1-.4 1,.4 2,1.3 1,.4 1-.2 3-2.6 1,.2 2,3.1 1,.7 1,.2 2-1.2 1-.9 2-.6 1,.4 1,1.3 2,.5 1-1.3 3-.2 1-.7 1,.4 2,1.9 1-.3 1-.6 1-1.1 1-.1 1,0 1,1.3 4,.9 1-.9 1,.1 2-.7 2,1.4 1,1 1-.4 1-1.1 1-.5 1-1.2 1,.2 1,.9 1,1.9 1,.9 3-1.3 1-.2 1-.5 1-.2 1,.8 1,.1 1,1.4 1-.6 1-.2 1-1.3 1-.1 1,.3 1,.4 2,7.7 1,.2 1-1.1 2-2.9 1-.1 1,.6 1,1.3 1,1 1,.6 1-.1 2-1.9 1,.2 1,.5 1,.1 1,.4 1,.6 1,1.5 2-.7 2-1.9 2-.4 1,1.1 1,1.7 1,.6 1,0 1-1.4 1-.9 1-.4 2,.1 1,.2 2,1.2 1,.5 3-2 1-.1 1,.7 1,1.1 1,.4 3-1 1-.9 1-.5 1,.4 1,1.3 1,.8 1,0 1-.4 1-1.2 2-1 2,1.2 2,2.3 1,0 2-2.3 1-.6 2,.1 2,1.8 2-.4 1-.5 1,.3 2-1.1 1,.5 2,1.7 2,.1 1-.8 1-1.3 1-.3 1,0 3,2.8 1-.1 2-2.5 2-1.2 1,.7 2,2.6 1,0 1-.4 1-.6 2-1.6 1-.4 2,2 1,.4 1-.3 1,.1 2-1.2 1-1 3,2.3 4-.8 1-1 2,.2 1,.8 1,.3 1,.2 1-.2 1-.9 1-.6 2-.7 2,1.5 1,1.5 2,0 1-1.1 2-1.1 1-.1 1,.4 1,0 1,.6 1-.1 1,.1 2-.7 2,0 1,.9 2,.6 2-.8 1,0 2-1.3 1,.2 2,2.3 1,.3 1-.4 1-1 2-2.4 1,.7 2,2.4 1-.2 1-.7 1-1.2 2-1.7 1,0 1,1 2,2.6 1,.2 2-1.7 1-.6 1-.2 2,.6 2,1.2 2-.4 1-1.3 1-.1 1-.9 1,1.3 2,1.8 1-.4 1-.9 2-.9 1,.6 1-.3 1,.9 1-.2 1,1 2-.1 2-1.8 1-.4 1,.2 1,1.1 2,.5 3-2.3 1,.2 2,2 2,.1 1-.6 1,.2 4-1.1 2-.3 3,1.8 2-1.7 1-.5 2,1.5 2,.5 2-.2 1-1.7 2-1.5 1,.3 1,.6 2,2 1,.1 1-.7 1-.2 1-1.1 1,.6 1-.1 1,1 1,0 1,.5 1-.4 1-1.1 2-1.2 3,2.9 1,.1 1-.7 1-.4 1-.9 1,0 1-.5 1,1.2 1,.4 1,1.3 1-.4 1,0 1-1.2 2-.8 2,1.5 1,.9 1,.6 2-1 1-1.3 1-.8 1-.3 1,.4 1,1.7 2,.7 1-.8 1-1.2 2-1.3 3,3.2 3-1.3 1-.1 2-1.4 1,.1 1,.6 1,1.6 1,.2 1-.2 2-2.1 1-.5 1,0 3,2.7 1,.4 1-.7 1-1.3 1-.6 1-.1 2,.8 1,1.1 1,.4 1-.1 1-1 2-1.5 1,.7 1,.3 1,1 2,.6 1-.1 3-2.7 1-.1 1,1.1 2,1.6 1-.4 2-.1 1-.9 2-.5 2,1.6 2,.2 2-1.4 1-.4 1,.2 1,1.1 1-.1 1,.3 1-.5 1,.3 1-.4 1-1.2 2-.7 1,1.4 1,.9 1,0 1-.3 1-1 2-1 1-.1 1,.7 1,.3 1,1.6 1,.8 1,.5 2-3.8 1-1 1,.3 1,2 1,1.4 1,.6 2-.6 3-1.8 2-.1 1,.7 1,1.1 1-.2 3-2.9 1,.9 1,.1 1,1.8 1,.7 1,0 2-1.4 2-.6 1-.5 2,2.2 1,.6 1-.4 2-1.6 2-.4 1,.8 1,0 1,.9 2,.9 1-.7 1-1.6 1-1.2 1-.1 2,1.7 1,.3 3-.3 1-.9 2-1.3 1,.9 1,2 1,1 1,.1 1-1.8 2-2.3 1,0 1,.7 1,1.7 1,.2 1,.6 1-.3 2-1.4 1-1.5 2,1.6 1,1.3 1,.5 5-2.3 1,0 1,1 2,.6 1-.5 1,.1 2-.8 1,.1 1-.2 1,.6 1-.1 1,.6 1-.1 1-.5 1-1.1 1-.5 1,0 1,1.2 1,.7 1,1 1,0 3-3.4 2,1.5 1,1.1 1,.6 1-.5 2-1.8 2-.7 1,.1 1,.7 2,2.5 1,.4 1-.7 1-1.2 2-1.4 2,1.3 1,1 1,0 1,.8 2-.5 1-1.2 1-.2 3,.7 1,.5 1-.9 1-.3 1-.8 1-.5 1,.5 1,0 1,1.6 1-.1 1,.5 1-.9 1,.2 1-.5 1,.4 1-.3 1,.6 2,.4 1-.1 1-.6 1-.8 1-1.2 1-.2 1,.7 2,1.9 1,0 1-.5 2-2 1-.2 1,.3 1,1.2 1,.5 2-.1 3-.5 5,1.9 2-1.5 1-1.3 1,.2 3,1.7 1,.1 1,.8 1-.9 1-.3 1-1.2 2-.4 2,1.4 1,.1 1,.4 1-.5 1-.9 1-1.8 1-1 1,.8 1,1.8 1,1.1 1,.4 1-1.2 1,.2 1-.6 2,.3 2,2 1,0 1-.8 2-2.2 1,.2 1,0 1,.8 1,.2 1,1.4 2,.5 1-1.1 1-.7 1-1.5 2,.3 1,1.2 2,1 1,.2 1-1 2-1.4 1,.3 2,1.4 1,.9 1-.4 2-2 2-.2 1,.2 1,.3 1,.9 1,.5 1,.1 1-1.2 2-.7 2,.7 1,.7 1,1.4 1-.6 1-.1 2-2.1 1-.6 1,0 1,1 1,.5 1,0 1,.5 1-.6 2-.6 1-.1 1,.2 1,0 2,1.6 1-.2 2-1.7 1-.4" fill="none" stroke="#B5B5B5" stroke-width="2.65" stroke-linejoin="round" stroke-linecap="round" />
<path d="M121.3,25l.5-4 1.8,6.9 1,.1 2.1,1.9 2.1,.1 2.1-1.3 1,1 1.1,.4 1,.9 2.1,.4 1.1,1.2 1-.1 1.1-.3 1-1.2 2.1,1 1,1.4 2.1,2.1 1,.2 2.1,1 1,.8 3.2,.5 1,1.2 1.1,.7 1.1,.2 1-1 1.1,0 1.1,.2 1.1,.5 3.2,2.4 2.2-1.1 1.1,1 1.1,1.6 1.1,2.3 2.1,2.1 1.1,.8 1.1,.4 2.2,2.6 1.1,2.3 2.2,2.4 1.1,.6 1.1,1.3 1.1-.3 2.2,1.3 1.1,2.6 4.2,6.9 2.1,1.4 1.1,1.9 2,5.6 1.1,2.1 3.1,4 2.2,2.2 1.1,.7 2.2,2.3 3.2,1.5 1,.8 2.2,.8 3.2,2.8 2.4-6.5 1.1,0 1.1,.7 1,1 1.1,2.1 5.4,5.6 4.4,3.3 1.1,2.5 2.2,2.5 2.2-.2 1.1,.4 1.1,.6 2.2,2.7 1.1,.2 1.1,0 1.1-1 1.1-.3 1.1,.5 1.1,1.4 2.2,2.1 1.1,.5 1.1,.1 1.1-.6 1.1,0 1.1,1 2.1,3.5 1.1,.2 1-.2 1.1-1 2.1-.3 1.1,.2 1.1,1 2.1,3.2 1-.1 2.2-1.3 2.2,1.7 2.2,2.9 1.1,.3 1.1-.1 1.1-1.4 1.1-.6 1.1-.3 1.1,.9 2.2,4 1.1,.9 1.1-.6 1.1-1.2 1.1-.5 1.1,.3 2.2,3 1.2,.9 2.2,.5 1.1-.3 1.1,.6 1.1,.2 1.1,2 1.1,0 1.1,.5 1.1-.5 1.1-.2 1.1-.8 2.2,.1 1.1,1 1.1,0 1,2 1.1,.9 1.1,.4 1-1.3 1.1,.2 1.1,.7 2.1,4.6 1.1,1.3 1,.7 1.1,.2 3.2-.7 2.1,1.9 1.1,1.8 1,.6 3-20.4 1.1,.7 1.1,1.3 2.3,5.8 1.2,.1 2.5-3.9 1.2-.4 3.8,7.8 1.2,1.8 1.1,.1 1-.5 1.1-.1 1,.6 1.1,.7 1.1,2.3 1,.5 1.3,1.7 1.2-.1 2.5,2 1.1,.5 1,0 1.1,.4 1-.5 1.1-.6 1.1-1.5 2.3-1.7 2.5,0 1.2,.2 1.1,.6 3.1-.4 1.1,.9 3.2,4.3 1.1-.2 1,.4 1.1-1 1,0 1.1-.5 1.1,1.8 1,0 1.1,.4 2.1-1.9 1.1-.7 1-1.1 1.1-.6 1.1,.7 1.1,1.4 2.2,1.3 1.1-.2 3.3,.2 1.1,1.9 1.1,1.1 1.1,.4 3.3-2.2 2.2-2.3 1.1,.7 1.1,1.7 1.3-.2 1.2-1.3 1.3-2.6 1.2-1.2 1.2,1 3.8,5.9 1.2-1.7 2.5-4.6 1.2-1.1 2.1,3.3 2.2,2.3 1,.3 1.1,.5 2.1-.1 1.1,.1 3.2,3.8 1-.1 2.2-1.7 1,.4 1.1,1.3 1,2.2 1.1,1.3 1.1,.4 1-.5 1.1-.9 2.2-1.1 1.1,.5 1.1,.8 1.1,1.9 1.2,.8 1.1,0 1.1-.4 1.1-1.4 2.2,.1 1.1,.7 1.1,.4 2.2-2.4 1.1-1.9 2.3-.3 1.3-.4 1.2,.1 1.2-.3 1.3,1.6 2.5,.2 1.2-.4 3.7,4.5 1.2,.2 2.3-1 1.1-.1 1.1,.8 1.1,1.6 1.1,1 1.1,.2 1.1-1.5 1.1-.9 1-.2 1.1,.9 2.1,2.2 1.1-.1 1,.2 1.1-.3 1.1-.1 2.1-1.6 2.1,.6 1.1,1.6 1-.2 2.2-1.9 2.1-.7 1.1,.3 1-.3 1.1,.5 1-1.1 1.1-.1 2.1-2.4 1.1-.6 1.1-.3 1,.8 1.1,.1 1,.8 3.2-2.7 1.1,.3 1.1-.3 1.2,1.3 2.5,2 2.3,0 1,.5 1.1,.7 1.1,1.2 1,.9 1.1,.7 1.1-1.1 2.2,0 2.3,3.1 2.2,1.6 1.1-.1 1,.2 1.1-.8 2.1-1 1.1-.9 1.1-.3 2.1,.9 2.1,0 1.1-.5 1,.3 1.1-.5 1.1,.5 1-.6 1.1,.2 3.2-1.3 1,.1 1.1,.9 1.1,.2 1-.3 1.1-.4 1-1.1 1.1-.3 1.1,.3 1.2-1.1 1.3-1.8 3.1,.3 2.2-1.2 1,.2 1.1,1.1 1.1,.6 2.1-.5 2.1-.3 1.1-.6 2.1,.2 3.2,2.3 1,0 1.1-.3 1.1-.9 1,.1 1.1-.6 1.1,.1 1-.4 1.1,.3 1-.2 1.1-1 1.2-8.4 1.1,0 1,.8 1-1.1 1,.3 1.1-.5 1,.6 2-.3 1,9.8 1.1,.1 2.1-.9 1-.1 1.1,.6 2.1,.2 1.1,.4 1-.2 1.1-.5 1,0 1.1,.9 2.1,1.2 1-.1 1.1,.2 2-1.1 1-.1 1-.4 2,1.2 2,.1 1-1.6 1.1-.4 1-.9 1,1.3 1,.2 1,.8 1-1.4 1,.1 1.2-4.5 1.1,.5 1-1.1 1-.1 1,.5 1.1,1.7 1,.2 2-1.7 1.8,6.6 2,.8 1-.2 1,.7 1,.3 1-.1 1.1,1 1-.3 1,.3 1-1.2 3,.4 1.1-.5 2,.6 1-.4 1-.9 1,.1 2.1,2.6 1-.1 1,.2 1-.4 1.1,.1 1-.4 3.1,1.8 2.1-.6 1-.9 2.1-.3 1,.3 3.1,1.9 1-.1 1.1,.2 1-.4 1,.2 1.1-.3 1,.4 1-.2 1.1-.3 1.5-3.7 1.4-2.4 2.1,.9 1-.8 1-.2 1.1,1.1 1-.1 1,.2 1-1.2 1.3,5.7 1-.6 1-.2 2.1,1 1,.8 1.1-.2 2,.4 1.1,.6 1-.6 1-1.6 1.1,.3 2,1.9 1.1,.2 1-.5 1,.1 1.1-1 1,.4 1,0 3.1,1.3 2.1-.8 2,.2 2-.4 1,.4 2,.5 1-.3 1.1,.5 1-.6 1,0 1,.1 1,1.3 1,.4 1-.8 1-1.3 1,.2 3-.3 3.1,2.2 2-.4 1-1 1-.4 3.1,1.2 3.2-.2 1-.4 1.1-.9 1,.2 2.1,1 2.1-.6 3.2-1.5 1,.6 1.1,.2 1,1.1 2.1,.4 1-.5 1-.3 1-.8 3,1 4-.2 1,.4 1,0 2-1.2 1,.9 1,.5 1,.8 1-.8 1,.5 2-1.3 1-.5 1,1 2,1.3 1-.8 2-.3 1,.1 1,.7 2-.1 1-.8 2-.8 1,.3 1-.3 1,.9 1,0 1,.7 1-.7 1-.1 1,.2 1,.8 3-1.3 2,.2 2-.6 1,0 1,.5 3,2.3 2-.1 1-.5 1-.1 1,.1 1-.5 1-.1 1-1.1 1,.9 1,0 1,.6 1-.4 2-.4 2-.1 2-.9 1,1 2,1.3 3-.7 1-.6 2-.7 1,.5 2,1.5 1-.7 2-.7 2,.3 1-.2 1,.2 1,.5 1-.2 1,.7 1-.8 1,0 1-.8 1-.1 1,.3 1,.6 1-.2 1,.8 1,.1 1,1 2-2.2 1-.7 1,.6 1,1.1 2,.2 1-.2 1-.6 1,.6 1-.5 1,.8 1,0 1,.3 3,.1" fill="none" stroke="#B5B5B5" stroke-width="2.65" stroke-linejoin="round" stroke-linecap="round" />
<path d="M121.8,39.8l2.1,.2 1-.5 1.1,.3 1,.9 1.1,1.3 1,.6 2.1-.7 1-.1 2.5,3.1 1.3,1.9 1.2,1.2 1.2,5.4 2.5,8.5 1.3,2.1 3.7,11.1 5.1,9.2 1.1,3.1 1,2.3 1.1,1.8 1.1,1.2 3.1,2.3 3.3,4.3 1.1,1.1 1.1,1.7 2.2,1.6 1.1-.1 1.1,.9 3.3,4.5 1.1,.9 1.1,.3 1.1-.5 2.2,1.6 1.1,2.2 1.1,1.1 1.1,1.8 3.1,3.6 1,.5 4.3,6.8 2.2,1.9 1.1-.5 1,.2 2.2,3 1.1,1.9 1.1-.2 1.1,.2 1.1-.1 1.1,.4 2.2-.2 2.2,1.3 1.1,1 1.1,.7 1.1,.1 2.3-.4 1.1,.6 3.3,3.6 2.2,.1 1.1,.2 1.1,.4 2.2,1.4 1.1,1.9 1.1,1.1 1.1,.2 1.1-.4 1.1,.1 1.1,.3 3.3,1.8 1.1,.2 2.2-.5 2.2,.3 3.3,3 1.1,.2 1.1-.3 2.1-.9 2.1,.8 1,1 1,.6 1,1.2 2.1,.9 1-.7 1-.1 1,.2 2.1,2 1,.3 1,.1 1-.5 2.1-.3 3.1,2.8 1,.7 1.1,.1 1,.6 1-.2 1.1,.3 1-.9 1,0 1.1,.3 2,1.4 1.1-.4 1-.1 1-.5 1.1,.2 1-.2 1,.1 1.1,.8 1,1.2 1,.5 1.1-.6 1-1 2.1-.6 3.1,3.3 1-.7 1-.3 2.1,.5 1-.1 1.1-.6 1,.5 1,0 1.1,1.5 1,.1 1-.6 1.1-1.7 1-.5 3.1,2.6 1,1.2 1.1,.5 3-3.4 1,0 1,.4 1,1 1,.7 1,.4 2.1-.3 1-.7 2-.4 3,2.1 2-.4 1-1.1 1,.3 1-.5 1.1,.8 1-.3 2,1.4 1,0 1-.5 1-1.2 1-.6 1.2-1.9 1.2,0 2.4-1.9 1-.5 1,.3 2-1.8 1.1-.3 1,1.1 1,.8 1,0 1-.2 1,.4 2-.2 1.1-.5 1,.3 3,1.9 3-1.8 2.1-.2 1,.6 2,1.8 2-.4 1,.1 1-.6 2.1-1.7 2,1.5 2,.8 2,.3 2.1-.9 2,.7 1,.7 1-.4 1,.2 1-.2 1.1-.4 1-.7 1,0 2,1.9 1,.4 1,.1 3.1-3.2 2,1.9 1,1.5 2,.8 1-.2 3.1-4 2,.7 1,1.4 1,.9 1,0 2.1-1.2 2-.3 1-.4 1,.6 2,2 3.1-2.2 1-.1 2,.7 1,.9 1,.3 1,.9 1-.5 2.1-1.7 1-.2 1,.7 1-.2 1,.8 2,.3 1.1-.3 1-.7 1,0 1-.6 1,.1 3,1.7 1,0 1.1-.4 1-1.2 1-.4 1,.2 1,1.2 1,.8 1,.5 2.1-.6 1,0 1-.5 2,0 2,1.3 1,.2 1.1-.1 1-.9 2-1.2 3,2.8 2.1,0 3-2.3 2,.7 1,1.5 2,.5 1.1-1 1-.6 2-.7 3,1.1 1,.8 2.1,0 1-1.4 2-.9 3,2.8 1.1,0 2-.9 1,.1 1-1.1 2,.1 1,1 1,.2 1.1-.3 2-1.9 1-.1 1,1.3 2,1 1-.7 1.1,.3 2-.1 1-.9 2-.8 1,1.2 1,.4 4.1,.7 2-1 1,.7 1,.3 1.1,1.4 1-.1 1-.6 1-1 1,0 2,.6 1,0 1,.5 1.1-.7 1,.3 1-.4 1,.2 1-1.1 1-.1 3.1,2.3 1-.5 2-.4 3.1-1 1,1.2 2,1.2 1,0 1-.4 2.1-2.3 1,0 1,1.5 1,1.1 1,.5 2.1-.1 1-.8 2-.7 1,.7 1-.6 3.1,1.7 1,.1 1-1 2-1.1 1.1,.5 1,1.3 2,.7 2-1.3 1-1.3 1.1-.3 1,.3 2,1.6 2,.4 4.1-.8 2,0 1,.3 1,.1 1-.4 1,0 1-.9 1,.4 1-.2 2,2.4 1,.2 1-.2 4-3.2 1,.4 2,2.1 3-.2 3-1.2 1,1 1,.5 1,0 1-.6 2,.1 2-2.1 1-.4 1,.8 1,1.4 2,1.7 1-.4 3-1.8 1-.1 1,.3 1,1.1 2,.1 1-.6 3-1 2,1.5 2,.6 1-.4 1-.1 1-1.4 1-1 1,.3 2,1.9 1-.1 2-.8 1-.6 1-.2 2,.5 1,1.2 1-.3 1,1.2 1-1 1,.2 1-1 4,.7 2,.6 1-.1 2-2.2 1,.2 2,2 1,.7 1,.3 1-1.2 1,0 1-.8 1,.6 1-.7 2,.8 1,1 1,.6 1-.2 1-.5 1-1.1 1-.3 1-.5 1,1.1 1,.4 1,.8 1,0 1-1.2 1-.2 1-.9 1,.5 1-.9 1,.4 1,0 1,.7 1-.2 1,.7 1-.8 2,0 1,1.3 2,.4 1-1.1 2-1.6 2-.2 1,.2 2,1.6 1,.3 1-.6 3-.1 1-.4 1,.4 1,.7 1,.3 2-1.5 1,.3 1-.4 1,.9 1-.5 1,.6 3,.5 1-1.2 2-1.7 6,2.2 1-.8 1-1.3 2,.4 1,1.3 1,.5 1,.9 1,0 2-1.7 1-.3 2,0 3,1.5 2-.3 1-.8 2-.7 2,.2 3,1.3 1-.5 2-1.8 3,1.8 1,.3 2-.7 1-.9 1-.1 1-.5 1,.6 1,1.1 1,.5 1,0 1-.5 1,.6 3-2.2 2,2.1 1,.5 1,.1 2-2.3 1-.8 1,.6 3,1.2 1,.9 2-1 1-1 2-.1 1,1.1 1,.8 4,0 1-.4 1-.7 1,.2 1-.2 1,.9 1-.2 1,.7 1-1 2-1.6 1,.3 1,.9 2,1.1 1,0 3-.6 1,.1 1-.3 2,.4 1,.6 1-.3 1-.6 2-.3 1,.1 1-.4 1,.7 2,.5 2-.2 1,.1 1-1 1,0 1,.4 1,1.5 1,.2 1-.4 1-.8 2-.5 1-.1 3,.3 4-.2 1,.7 3,.3 1,.2 1,.4 2-.1 3-2.1 1,.2 1,.5 1,1.1 2,.3 1-1.2 1-.2 1-.7 1,.1 1-.3 1,.7 1,1.2 1,.7 1-.5 2-1.6 1-.3 2-.2 1,.8 1-.2 1,.3 1-.5 1,0 1-.4 2,1.2 1,.9 2,.9 1-.1" fill="none" stroke="#B5B5B5" stroke-width="2.65" stroke-linejoin="round" stroke-linecap="round" />
<path d="M112.4,94.1l1,.3 1.1,.8 2,.6 1.1,.1 1-.6 1,.8 1.1,.3 1,1.1 1-.4 1.1,.9 1,.2 1,.5 1.1-.1 1,.2 3.1,.2 1,.6 1.1,0 1,.8 1-.3 1.1,.5 1,0 1,1 1.1-.2 1,.7 1-.1 1.1,.6 1-.3 3.1,.7 2.1-.2 1,.8 2.1,1 1-.1 3.1,.1 1,.4 2.1,.4 1-.5 1.1,.2 1-.1 2.1,1.3 3.1,1.1 1,.9 4.1,1.2 2.1-.3 2.1,1.3 1.1,.3 2.1-.1 2.1,.8 1.1-.3 2.2-1.8 1.1-1.5 2.1-2 2.2-1.6 1.1,.5 2.2,.4 1,.6 1.1-.2 4.3,1.5 1,.1 1.1,.5 1-.5 2.1,.4 1,.6 2.1,.2 1,.7 1-.2 1.1,.5 1-.3 1,.2 1.1-.2 5.1,1.7 1.1,.2 2-.5 1.1,.2 1,.9 2.1,1 2,.1 1.1-.3 1,.6 1,.2 1.1,.7 1-.1 2.1,.1 1,.8 1,.3 1.1,1 1,.7 1,1.4 2.1,.8 1,.2 2.1,1.3 3.1,.9 1,.6 3.1,1.1 1.1,.9 4.1,2.4 3.1,.4 1,.8 2.1,2 1,1.3 2.1,2.1 1,.7 1.1,.2 2,1.2 2.2,2.3 1.1,.8 1.1,1.5 2.2,2.3 4.4,3.1 1,0 1.1,.9 2.1,.7 1.1-.1 1.1,.3 1,1.3 1.1,.8 1.1,1.1 3.1,1.1 1.1-.1 1.1,.3 1-.1 1,.4 1.1,.1 1,.6 2.1,.7 1-.5 1,.2 2.1,1.1 1-.3 1.1,.1 1,.4 2,0 1-.6 3,1.5 1,.1 1-.4 1.1,.1 2,1 1,0 1-.5 1-.3 1,.7 2,.6 2-.8 3.1,.5 1-.4 3,0 1,.5 2.2,.6 1.2-.7 2.4-.8 1,.4 2,.2 2.1-.9 1-.2 1,0 1,.2 1-.1 1,.6 1,.2 1-.2 1.1-.6 1-.3 2,1 2,.3 1-.3 1,.5 2.1,.4 3-.5 1-.5 3,.5 4.1-.3 2,.5 1,.5 1-.5 2.1-.5 1,.5 3,.4 1,.4 2.1-.4 1-.6 2,.2 1,.7 2-.4 1-.5 1,.5 1.1-.3 1,0 1,.3 1,.8 1,0 1-.4 1,.1 1,.5 1.1,0 1-.4 2,.3 1,.4 2-.1 1,.2 1.1-.2 1,.3 1-.5 3,.1 1,.2 2,1 1.1,.3 3-.5 1,.5 1-.6 1,.3 1-.5 1.1,.6 1-.4 1,.4 3-.9 1,0 1,.5 3.1-.5 2,.9 1,0 1-.3 1,0 1,.2 1.1,.6 1-.2 1,.2 1-.4 1,.3 1-.1 1,.3 3.1-.6 2,.4 1,1 2,.1 1-.7 3.1,.5 1-.1 1,.4 1,.2 3.1-1.3 3-.4 2,.6 1-.3 2,.6 1.1,.5 3-.5 2,.5 1,.6 1-.3 1.1,.2 1-.6 1,.1 1-.7 2,.3 2,.5 4.1-.3 2-.3 3,.4 2.1-.4 3,.1 1-.5 3.1,.6 2-.6 1-.1 1,.5 3-1 1.1-.1 1,.5 1-.5 1,.1 1-.6 4.1,1.5 1-.1 1-.7 1-.1 1-.6 1,.3 1-.2 2,.5 1.1-.1 1,.6 1,.1 1,.5 1-.1 1,.1 1-.2 1.1,.4 1-.4 1,.2 1-.4 1,.3 2.1-.1 3,.8 1,0 3.1-.9 1,.2 1,1.1 2,.6 1-.3 1,.6 2.1-.1 1-.5 3-.5 1.1,.6 2,.6 2-.4 2,.2 2.1,.6 1-.3 1,0 2,.4 2.1-.2 1,.5 1,.3 2-.1 2.1,.4 1,.4 2-.3 1-.6 1-.1 3,.6 1,.5 2,.3 1-.5 2-.5 2,.5 2-.3 2,.5 3-1 1,.6 1,.1 1-.3 2,0 1,.6 1-.1 1,.3 2,.1 1-.4 1,.1 4-.7 2,.6 1-.1 7-.3 1,.4 4,.3 1,.3 1-.3 1,.2 1-1 1,.2 1-.2 1,.7 1-.6 2,.7 1,.9 1-1 2-.5 1,0 2-.4 1,1 2,.1 1-.3 1,.3 1-.2 2,.4 1-.2 1,.1 1-.4 4,.7 2,0 2-.6 1,0 2,.6 .3-2.2 1.4-42.2 3.3-4.2 2.1,2.8 1.1,.8 3,7.5 4.2,4.9 1.1,1.5 1,.9 1.1,1.4 1.1,.7 1.1,1.5 3.3,2 3.3,2.4 4.4,4.1 4.4,5 3.3,3.3 3.2,4.4 2.1,2 1.1,1.4-1,.1 1-38.1 2.2-2 1.1-1.6 2.4,1.1 1.3,.7 1.2,3.4 2.5,8.6 1.1,.7 1.1,.1 3.2,1.1 1.1,.1 1.1-.3 1.1,.4 3.2,4.7 2.1,1.4 1.1,1.2 1,1.6 1,2.2 1.1,1.4 4.1,8.2 1.3,6 .9-42.8 2.8-4.1 3.7,1.8 1.2,3.8 2.5,9 1,1.1 1.1,.5 2,3 1.1,1 1,.8 2.2,.5 2.3-.2 1-2.4 3.2-1.2 2.5,1.1 2.4,.4 2.5,7.7 1.3,3.2 1,1.4 2.2,2.1 1,.6 3.2,4.4 1.1,.2 3.2-.2 2.1,1 1,.8 3.8,5.3 1.2,1 1-.2 1-.5 1,0 3.1,0 2,.4 1,0 1-.7 1-.2 1,0 1,.6 1-.1 3.1,1 1-.2 2-1.2 1-.4 1,.1 2,1 1.1,.1 3-.8 1,.6 1.1-.1 1,.6 1-.3 1.1,.7 1-.1 2.1,.7 3.1-.9 1,0 1,.5 2.1,.3 2.1,0 1,.3 1-.5 1.1,.2 1-.1 1,.3 1.1-.1 2,.2 2-.8 2,.5 1,.6 2,.3 1-.2 1-.5 2-.4 1,.4 1-.2 1,.1 1-.1 1,.4 3-1.2 4,1.6 2,.2 1-.5 2,0 1,.3 2.1-.2 1,.2 1-.2 1-.7 1-.1 2,.8 1-.3 1,.5 2-.3 1-.7 3,.4" fill="none" stroke="#B5B5B5" stroke-width="2.65" stroke-linejoin="round" stroke-linecap="round" />
<path d="M728,164l1,.3 1.1-.2 1,.2 1-.5 1.1,.1 1-.2 1,.5 2.1,.3 1-.6 2.1-.3 1,.1 1.1,.3 1,0 1,.2 1.1-.2 2,.1 1.1-.1 3.1,.2 2-.3 3.1,0 2-.4 1,0 1.1,.3 1,0 1,.3 3.1-.7 2,.3 2.1-.3 1,0 2,.6 1-.4 2.1-.3 1,.2 2-.1 2.1-.4 6.1,.4 1.1-.5 3.4-.5 1-23.1 2.1-1.4 1.1-.5 2.1,1.5 1,.6 1.1,.4 4.5,10.8 1,.6 2.2,1.7 2.1,2.2 2.1,1.4 1.1,.2 2.1,1.1 1.1,1 2.1,.4 1-.1 2.2,1.6 3.2,1.6 1,.9 1.1,.6 1-.3 1,0 2.1,.7 1-.3 2-.4 1,.2 3.1,0 4.1-.4 6.1,.4 9.2-.6 1,0 3.1,.6 1.2-8.3 3.2-.8 2.1-.1 1,.2 1.1-.4 1,.1 4.2-.5 1.1,0 1,.8 2.1,1 2.1,.2 2.1,1.2 3.1,.9 6.3,3.6 1.1,0 1,.3 1.5-41.3 1.1-.7 2.1-2 2.5,.9 1.2,.8 2.5,7.7 3.7,10.2 1.3,3.2 2.5,5.2 2.4,5.9 2.5,2 2.5-.4 1.2,.2 1.3,.3" fill="none" stroke="#B5B5B5" stroke-width="2.65" stroke-linejoin="round" stroke-linecap="round" />
<path d="M112.4,111l1,.8 1.1,.5 1,1 2.1,2.9 1,2.2 2.1,1.9 1-.2 1,.4 1.1-.4 2.1,2.2 1.1,2.8 1.1,1.6 1.1,.8 1.1-.6 1.1-.2 1.1,.4 1.1,2 1.1,.6 1.1,1.1 1.1-.9 1.1,1.1 1.1-.9 1.1,.7 1.1-.7 1.1,1 1.1,.5 1.1,1.4 1.1-1.5 3.1-8.1 2-1.5 1.1,1.8 2,2.1 2.1,.9 1-.1 1.1-.4 1.1-1.1 1.1,.3 2.2,1.8 1,0 1.1-.6 1.1-1.1 2.1,.8 2,2.8 1.1,2.2 1,1.4 1.1-.1 1.1-1.3 1.1-.8 1.1,.3 1.1,1.4 1.1,.6 1.1,.4 1.1-.2 1.1,.1 3.2,1 1.1,2 1,1.1 1.1,1.9 1.1,.6 1.1,.3 2.2-.7 1.1,.1 1.1,.4 2.2,1.7 1.1-.1 1.1-1.1 1.1-1.8 1.1,0 2.2,1.6 1.1,.3 2.2,.2 2.2-2.8 1.1-.1 3.3,4.7 1.1,1 1.1-.4 1.1,1 1.1,.1 1.1,1.5 1.1-.5 1.1,1.1 2.2,3 1.1-.1 1.1-1.4 1.1-.9 1.1,.1 1.1,1.5 1.1,.7 1.1,1 2.2,.3 1.1-.2 1.1-.8 1.2-.1 1.1,.4 1.1,1.7 1.1,.7 1.1-.3 3.3-2.7 1.1-.5 1.1,.2 1.1,1 1.1,.2 1.2-2.8 2.5-7.2 1.2-2.3 2.5,3.5 1.3,1.4 1.2,.7 1.1,.3 1.1-.3 2.2,.9 1.1,1.3 2.2,1 2.2-.3 2.2,.5 1.1,.6 3.3,3.3 1.1,.6 1.1-1.2 2.2-.1 1.1,2.1 2.1,1.7 2.1-.6 2.1-1.4 1.1-.3 1.1,.4 2.1,2.1 1,0 1.1,.3 3.1-1.6 2,.5 3.1,3.2 2-1.3 1-.4 5.1,3.5 1.1-.9 1-1.3 1-.7 2,1.4 1,1.1 1,.8 1,.2 2-1.4 2.1-.1 1-.5 2,1 1,1.6 1-.3 1-.6 1-1.5 3,.5 1.1,0 1,1 1,.3 1,.1 1-.9 1-.6 2,.7 2.4,1.9 1.2,.5 1.2-.5 2-2.1 1-.1 1,.3 2.1,1.3 1,.9 1,.2 1-.4 1-1.2 2-.8 2.1,1.5 1,1.3 2-.1 1-1.1 2-1 1,.9 1.1-.1 1,.9 2,1.2 1-.4 2-2.1 1-.1 1.1-.5 2,2.6 1,1.7 1,.2 3-3.1 1.1,.1 1,.4 1,0 1,1.1 1,.5 1,1 1-1.4 2.1-1.1 2-.1 2,1.8 1,.6 1-.8 1-.2 1-1.2 2-.6 2,2.1 1,.6 3.1-1 1,.3 2,1.4 2,1.1 2,0 2-3 1-1.2 1,.6 1,1.6 1,1.2 1,.6 3-2.3 1-.1 1.1,.3 1,.8 1,1.2 1,.4 1-.2 1-1.4 2-1.2 1-.2 1,.8 2,2.9 1,.3 1-.3 3-2.5 1-.5 1,0 1.1,.5 1,1.6 1,.6 1,.1 2-2.4 1,0 2,2.5 2,.2 2-1 1-1.6 1-.1 1,0 1,.8 1,.5 3.1,.7 2-.4 1-1.1 2,.4 2,1.9 1-.4 1-.2 1-.8 1,0 1-.4 1,.1 2,1.8 1,.2 3.1-1.1 1-.5 1-.2 1,.3 1,.6 3,.4 1-.3 1-.9 1-.3 1,.4 1,1.1 2,1.3 1-.1 1-1 2.1-1 2,0 1,1.2 2,1.1 1-.7 1,.4 1-.9 1-.4 1,0 2,1.6 1,.2 1-.5 1-.1 1-1.3 1-.5 1-1.2 1,1.1 1.1,.1 1,1.1 2,.7 1-.5 1-1.1 2-.8 1,1 2,2.6 1,0 1-.3 1-.8 2-.8 2,.4 1-.2 1.1,.6 1,.1 1,.8 1-1.5 1-.2 1-.9 1,1.2 1,.2 1.1,1.1 2,.3 2-1.3 1-.1 2.1,1 1,.8 2,.3 2-2 1.1-1.6 2,.8 1,1.9 1,1 1,.2 1-.4 1.1-1.3 1-.1 1-.9 1,.4 1,.6 1,1.6 1.1,1.1 1-.1 1-1.1 2-1.3 1,.1 1-.1 2.1,1.8 1,0 2-.9 2,0 1.1-.2 1,.1 1,1 2,.1 1-1 2.1-1.3 1,.2 3,1.9 1,.2 2-1.3 1-.3 4,1.3 1,1 1,.3 1-.9 2-2.3 2,0 1,.8 1,.4 1,.6 2,.3 1-.8 1-1.2 1-.5 1,.2 2,1.5 1,.4 1,.1 2-1.1 1,.1 4,2.7 1-.4 2-2.3 1-.8 1,.5 2,1.8 1,.2 1-.8 1,.4 1-.8 2-.5 1,.1 2,1.3 2,.7 1-.8 1-.3 1-.7 1,.1 1-.2 1,1.1 1,.3 1,1.2 1-1 1-.6 1-1.3 2,.1 1,.7 1-.2 1,.6 2,.1 1-1.1 2-1.1 1,1.5 1,.4 1,1.7 2,.1 1-1.3 1-1 2-1.1 1,.8 1,.1 1,1.2 1-1 1,.3 1-.3 1,.3 2-.7 1,.5 1,1 1,.5 1,.2 3-1.9 1-.4 1,.2 1,1.4 1,.4 1,1.1 1-.6 2-2.2 1-.5 1,.9 1,.1 1,.4 2,.1 1-.5 1-.2 1,.3 1-.2 1,.5 1-.4 2,.2 1,.9 1-.5 2-2.1 1,.6 1,.3 1,.6 1-.2 1,1.3 1,.1 1,0 1-1.1 1-.8 1,0 2,.8 2,.4 1-.3 1,0 1-1.3 2,.3 1,1.7 1,.4 1-.3 1-.8 1,0 2-.6 1-.6 2,1.1 3,.5 1,.4 1-.5 1-.8 1,0 2,1 1,0 2,.8 3-2.2 3,2.2 2-.7 1-.7 1-1.5 1-.1 1,.1 1,1.5 3,1.1 3-1.8 1,.2 1-.4 2,.7 1,1 2,.7 2-1.9 1-.6 3,1.7 1-.7 1-.2 1-.6 1,0 1,.3 1-.2 1,.2 3,1.5 2-.7 1-.8 1,0 2,1.2 3,.6 1-.7 1-1 1-.2 1-.1 3,1.8 1,.3 2-.2 1-.5 1-1 1,.1 1,.3 1,1.5 1-.2 1,.2 2-1.3 2-.9 2,.6 2,1.4 2-.6 2-.8 1,.2 3,1.3 2,.1 1-.5 2-.3 1-.7 2,.4 1,.8 1,0 1-.5 1,0 1-.5 2,0 2,1.7 1,.2 1-.4 1-.9 1-1.4 1-.9 1,.4 1,1 1,1.6 1,.8 1-.2 1-.8 3-.8 1-.8 1,.7 3,1 2-1 1-.9 2,.6 2,.9 3-.5 1-.9 2,.1 2,1.6 1,.4 1-.1 2-1.3 2-.4 2,.8 1-.2 1,.1 1-.1 1-.4 2-1.7 1,.4 1,1 1,.4 1,.8 1-.7 1,.6 1-1" fill="none" stroke="#B5B5B5" stroke-width="2.65" stroke-linejoin="round" stroke-linecap="round" />
<path d="M112.4,128.9l1.1,.6 2.1,.3 1,.5 1.1,.3 1.1,1.4 1,.5 1.3,1.2 2.5,1.2 1.2,.9 3.2,1.8 1,.1 2.2,1.3 1,.4 2.1,0 1,.7 3.1-.6 2,1.7 2,1.1 1.1-.3 1,0 1-.3 1,.7 1,.1 1.1,.5 1-.2 1,.2 1.1-.1 1,.4 2.1,.2 2,1.1 1.1,.8 3.1-.8 1,.5 2.1,1.6 2,1.1 2.1,.1 1-.3 2.1,.3 2.1,.5 2,1.1 1.1-.2 1,.4 1,0 1.1,.3 3.1-.7 1,.7 1,.1 1.1,.6 1-.2 1,.3 1.1-.1 1,.2 2,1 1.1,.1 2-.9 1.1,.7 1,.2 1,.3 2.1-.1 1,.8 1.1,.1 1,.6 1,.2 1.1-.4 2-.4 3.1,1.3 1.1,0 1-.4 2.1,.4 1,.9 1,.6 1.1,.3 1,.1 1-.7 4.2,1.1 1-.3 2.1,.2 1,.8 1-.5 1.1,0 2,.7 2.1,0 1,.9 1.1,.2 2-1.3 1.1,0 2,.1 3.1,1.1 1.1,0 1-.2 3.1,.6 1-.2 1,0 4.1,.9 2-.2 1-.5 2,.3 1,.6 1,.1 1.1-.1 1-.3 1,.1 1-.2 1,.2 4,.3 1.1,.4 1-.1 4,.9 1-.5 1-.1 1.1-.6 1,.2 1-.2 1,.6 1-.4 2,.2 1,.7 2.1-.3 2,1.4 1,.2 1-1.4 1-.3 1,.1 1.1,.9 1,.4 3,.3 1-.7 1,.6 1.1-.2 1,.3 1-.2 2,.7 1-.5 5.1-.5 1,.3 2.1-.3 2,.5 1,.6 2-.3 1.1-.6 2,.2 1,.9 2,1.2 2.1-1.7 1-.4 1,0 1,.8 2.1,.3 1-.3 1,.3 1-.1 1,.2 1-.7 1.1,.2 1-.3 1,.4 1,.1 1,.5 1.1,.1 1-.2 2-1.1 3.1,.4 2,.7 1,.1 2.1-.7 2,.2 1-.4 1.1-.1 1-.5 3,.9 1.1,.1 1-.4 1,.1 3,1.3 1-.6 2-.3 1,.3 1-.3 1,0 2-.3 2,.9 1,.1 1-.8 1-.3 1,0 1,.2 2-.1 1,.2 1,.5 1-.3 1,0 1-.3 1,.3 2,0 2,.8 1,.1 1-.3 3.1,1.2 1-.5 1-.2 1,.3 1-.1 1,.3 1-.4 1,.4 1-.6 1,.1 1-.4 2,.5 3-.3 1,.2 1,.6 1-.5 1,.8 1-.7 1,.7 1-.2 1,.3 2-1.1 1-.1 2,.9 2,.6 1-.5 1,0 1-.8 1,.3 1-.5 1,0 2,.5 1,.8 1-.6 2-.6 2,.6 2,0 1-.3 1,.6 3-.1 2.1,.6 3-.4 1-.6 2-.5 2,1.4 1,.3 3-.1 1,.2 2-.4 3-.1 2-.7 2,1.5 1,.6 1,.1 1-1 2.1,.4 1,.8 1-.6 2-.7 1,.5 1-.4 1,0 1-.4 1,.3 1,0 1,.5 2,.2 2-.5 1-.1 3.1,.4 2-.2 2-.8 4,1.2 1-.5 1,.6 1-.4 1,.4 2,.2 1-.1 2-1.1 1,.1 2.1,1.3 3-.4 1,.4 1-.2 1,0 1-.4 1,0 1-.4 3,.8 1-.3 2,.3 1,.4 3.1-1 1-.1 2,.6 1,.7 1,.4 1-.3 2.1-1 3,.6 1-.1 2.1,.9 1,.2 1-.3 3,.3 3.1-1.7 1-.1 3,1.6 3.1,.5 1-.4 2,.8 2.1,.4 1-.3 1,0 2-1 1,.2 1.1-.3 1,.9 1,.2 2,.1 1-.5 1,.5 1.1,0 1,.5 1-.3 2-.1 4.1,1.9 3-1.6 1,.3 2-.5 2,.6 1,0 1-.7 1,.4 2,.3 1-.5 3,.5 1-.2 1,.2 1-.2 2-.9 1,.2 1-.4 1,.1 3,1.7 1-1.1 2,.2 1,1.2 1-.1 1-.6 1-.4 1-.1 1,.1 1-.6 1,.4 1,.1 1,.9 1,0 1-.1 2-.9 2,.1 2,.7 1-.5 2,0 2,.6 1-.4 1,1 1-.3 1,.4 1-.6 1,.1 2-.8 1-.8 1,.4 1,0 1,.8 4-.3 1,.4 3-.2 1,.2 2-.6 1-.5 1,.6 1,.2 1,.7 1-1.1 1-.1 1-.6 1,.9 1,.5 1,.1 2-.5 1,.5 1-.4 1-.1 1-.3 1,.4 1-.3 3,.3 1-.4 2,0 1,.3 1-.2 4,.7 1-.5 2-.1 1,.2 1-.1 1-.9 1,.2 4,.2 1,.6 1-.2 1,.3 3,0 1,.2 1-.6 1-.1 1-.4 3,1.1 1,0 1-.6 1-.1 2,.4 1-.8 1,.1 2,.8 2,.2 2,.8 1-.3 1,.1 1-.9 1-.3 1-.8 1,1 2,.7 1-.8 1-.3 1-.7 1,.8 1,.2 1,.8 1-1 2,.1 2,.5 1-.3 2,.2 1,.4 1,0 2-.7 4,0 1-.3 2,.1 1,.7 6-.4 4,.5 2-.4 1,.4 2-.2 1-.7 1,.3 1-.3 1,.4 2,.2 2-.9 3,.3 2,0 2,1 3-1.2 1,.3 2,0 2,1.1 1-.1 2-.7 1,0 2-.7 1-.1 2,1.3 3-1.1 1,.6 1-.3 1,.4 1-.1 1,.4 1,0 2-.6 1,.1 2,.9 3-.6 1,.1 2,.8 1-.6 1-.1 1-.7 1,.2 1-.3 1,.6 1,.1 1,.4 1-.3 1,.1 1-.2 1,.1 1-.5 2,.1 1,.5 3-.4 2,.4 1,.4 1-.3 1,.4 1-1.3 1,.4 1-4.1 1-2 1-3.8 1,.5 1-.7 2-.1 1,.5 1,.2 1,.4 1-.2 1,.6 1-.9 2-.5 1,.1 1,.4 1-.6 1,.4 1-.2 1,.3 2,.2 5,1 2,.1 1-.5 1,.2 2-.1 2-1 1,0 2,.8 2,.2 2,.8 1-.3 4-.4 1-.4 2,.3 3-.6" fill="none" stroke="#B5B5B5" stroke-width="2.65" stroke-linejoin="round" stroke-linecap="round" />
<path d="M122.3,137.4l1-.7 .5,0 .5,.3 2.6,3.4 1,.9 .5,0 1-.7 2-2.3 .5-.2 .5-.1 1,.8 2,2.9 1.1,.9 .5,0 .5-.2 2.5-2.7 1-.3 1,.7 2.5,3.4 1.1,.4 1-.6 2-2.2 1-.4 1,.7 2.5,3.5 1,.4 1.1-.5 2-2.2 1-.4 1,.7 2.5,3.4 1,.5 1.1-.6 2-2.1 1-.4 1,.6 2.5,3.4 1.1,.5 1-.5 2-2.1 1-.4 1,.5 2.5,3.4 1.1,.4 1-.4 2-2.2 1-.4 1,.5 2.5,3.3 1.1,.5 1-.4 2-2.2 1-.4 1,.5 2.5,3.3 1.1,.5 1-.5 2-2.1 1-.4 1,.5 2.5,3.2 1.1,.5 1-.4 2-2 1-.5 1,.5 2.6,3.2 1,.5 1-.4 2-2 1-.4 1,.4 2.6,3.1 1,.6 1-.4 2-2 1-.4 1,.4 2.6,3.1 1,.5 1-.3 2-1.9 1-.5 1,.4 2.6,3 1,.6 1-.3 2-1.9 1-.5 1,.4 2.1,2.4 1,1 .5,.2 1-.3 2.1-2 1-.5 1.1,.5 2.6,3 1,.3 1.1-.5 2.1-2 1-.2 1.1,.6 2.1,2.4 1,.6 1-.3 1.6-1.4 1.2,2.1 1.3,3 17.3,0 5-2.5 9.8-.1 2.1-1.1 .5,.1 .5,.4 2.1,2.3 1,.3 1-.5 2-1.9 1.1-.3 1,.5 2.5,2.8 1.1,.3 1-.5 2-2 1-.3 1.1,.6 2,2.4 1,.7 1-.2 2.6-2.3 1-.2 1,.7 2.1,2.4 1,.6 1-.2 2.6-2.3 1-.2 1.1,.8 2.1,2.8 1,.7 1.1-.3 2-2 1-.5 1,.4 2.6,2.8 1,.4 1-.4 2-2.1 1-.5 1,.4 2.6,2.8 1,.4 1-.4 2.5-2.4 1-.1 1.1,.8 2,2.3 1,.4 1-.4 2.5-2.4 1-.1 1.1,.7 2,2.3 1,.4 1-.4 2-2 1-.6 1.1,.3 2.5,2.8 1,.5 1-.4 2.5-2.5 1.1-.1 1,.7 2,2.3 1,.4 1-.4 2-2.1 1-.6 1.1,.2 2.5,2.7 1,.4 1-.4 2.5-2.6 1.1-.2 1,.7 2,2.2 1,.5 1-.4 2.5-2.6 1.1-.2 1,.6 2,2.3 1,.5 1-.4 2.5-2.6 1.1-.2 1,.6 2,2.2 1,.5 1-.3 2.6-2.6 1-.3 1,.6 2,2.3 1,.5 1-.3 2.6-2.6 1-.3 1,.6 2,2.3 1,.5 1-.3 2.6-2.6 1-.3 1,.6 2,2.3 1,.6 1-.3 2.6-2.6 1-.3 1,.5 2,2.3 1,.6 1-.2 2.6-2.6 1-.4 1,.5 2.5,2.7 1,.2 1-.7 2-2.2 1-.4 1,.4 2.5,2.7 1.1,.3 1-.6 2-2.3 1-.5 1,.4 2.5,2.7 1,.3 1-.5 2-2.3 1-.5 1,.3 2.6,2.7 1,.4 1-.5 2.5-2.6 1-.2" fill="none" stroke="#352755" stroke-width="3.6" stroke-linejoin="round" stroke-linecap="round" />
<path d="M518.4,173.5l1.5-1.6 1-.1 .6,.2 2.5,2.5 1.1,0 1-.9 2.1-2.5 1-.4 1,.4 2.1,2.2 1,.5 1.1-.5 2-2.4 1.1-.7 1,.3 2.1,2.1 1,.8 .5,0 1.1-.6 1.2-3.8 .6-1 1-46.5 1,13.5 1.2,35 .5,.3 1.6,2.2 .5,.2 .5,0 1.1-.4 1.5-1.7 1-.4 1,.4 2.5,2.6 1,.2 1-.5 2-2.2 1.1-.5 1,.4 2.5,2.5 1,.3 1-.5 2-2.1 1-.6 1,.3 2.5,2.5 1,.4 1-.4 2.5-2.5 1-.2 1.1,.5 2,2.2 1,.4 1-.4 2.5-2.5 1-.3 1,.6 2,2.1 1,.6 1-.3 2.5-2.5 1-.4 1,.5 2.5,2.5 1,.2 1-.6 2-2.1 1-.4 1,.4 2.5,2.5 1,.3 1-.5 2-2.1 1-.5 1,.3 2.5,2.5 1,.4 1-.4 2.6-2.5 1-.2 1,.6 2,2.1 1,.5 1-.3 2.5-2.5 1-.3 1,.5 2,2.1 1,.6 1-.3 2.5-2.5 1-.3 1,.4 2,2.1 1,.7 1-.2 2.5-2.5 1-.4 1,.3 2.5,2.6 1,.3 1-.4 2-2.1 1-.6 1,.3 2.5,2.5 1,.5 1-.4 2-2.1 1-.6 1,.1 2.5,2.6 1,.5 1-.3 2.5-2.5 1-.3 1.1,.5 2,2.1 1,.6 1-.2 2.5-2.5 1-.4 1,.4 2.5,2.6 1,.3 1-.5 2-2 1-.4 .5,.1 1,.8 2,2.2 1,.4 1-.4 2.5-2.3 1.1-.1 1,.8 2,2.2 1,.5 1-.3 2.5-2.4 1-.1 1,.7 2,2.3 1,.5 1-.3 2.6-2.4 1-.2 1,.7 2,2.3 1,.5 .5,0 .5-.3 2.5-2.6 1-.4 1,.4 2.6,2.4 1,.1 1-.8 2-2.2 1-.4 1,.4 2.5,2.4 1.1,.1 1-.7 2-2.2 1-.5 1,.4 2.5,2.4 1,.2 1.1-.7 2-2.2 1-.5 1,.4 2,2 1,.6 1-.2 2.6-2.7 1-.5 1,.4 2.5,2.4 1,.2 1-.6 2-2.2 1-.5 1,.3 2.6,2.4 1,.3 1-.6 2-2.2 1-.6 1,.3-1-.3-.5,.2-2.5,2.6-1,.6-1-.3-2.6-2.4-1-.3-1,.5-2,2.3-1,.6-1-.2-2.5-2.5-1-.3-1,.5-2.6,2.6-1,.3-1-.6-2-2-1-.4-.5,.1 .5-.1 1,.4 2,2.1 1,.6 1-.2 2.5-2.6 1-.5 1,.3 2.5,2.5 1,.3 1-.5 2-2.2 1-.5 1,.2 2.5,2.5 1,.3 1-.4 2.6-2.6 1-.2 1,.5 2,2.1 1,.5 1-.4 2.5-2.6 1-.3 1,.4 2,2.1 1,.6 1-.3 2.5-2.6 1-.4 1,.4 2.5,2.4 1.2-2.7 1.3-4 1.5-1.5 1-.4 1,.4 2.6,2.7 1,.4 1-.4 2-2 1-.4 1,.4 2.6,2.7 1,.4 1-.4 2-2 1-.4 1,.3 2.1,2.3 1,.8 .5,.1 1-.4 2-2 1-.5 1,.3 2.6,2.7 1,.4 1-.4 2-2 1-.5 1,.3 2.6,2.7 1,.4 1-.3 2-2.1 1-.5 1,.3 1.6,1.6 1,.6 .5,0 1.2-1 1.3-.6 1.5-.2 5.1,.3 4.1-.4 4.1,.4 2.5-.2 .8-42.7 1.7-3.2 .5,0 2.7,.2 1.8,3.5 2.4,10.4 1.6,.2 3.2,1.4 1.1,.2 1.6-.2 1,.5 1.6,1.2 2.7,3.1 1.6,1.4 3.8,2 3.9,3.3 1.1,.5 2.2,.5 1.6,.8 3.7,3.5 4.3,2.8 2.2,2.6 1.7,.9 1.1,.4 2.2-.1" fill="none" stroke="#352755" stroke-width="3.6" stroke-linejoin="round" stroke-linecap="round" />
<path d="M112.4,397l811.6,0" fill="none" stroke="#B5B5B5" stroke-width="2.65" stroke-linejoin="round" stroke-linecap="round" />
<path d="M121.5,397l8,.1 6-.2 12.1,.1 4-.1 8,.2 10.1-.2 6,.2 2-.1 8,.1 6-.2 10.1,.1 6-.2 12,.4 6.1-.3 16,0 6,.3 16.1-.3 18,.3 22.1-.3 6,.3 14.1-.3 10,.2 10.1-.2 14,.2 8-.3 6.1,.3 12-.2 16.1,.1 6-.2 6,.3 14,.1 6.1-.2 8,.2 30.1-.3 6,.3 12.1-.3 6,.2 8-.1" fill="none" stroke="#352755" stroke-width="3.6" stroke-linejoin="round" stroke-linecap="round" />
<path d="M518.4,397l14.2,0 .8-5 .6-25.5 .8,0 .8,21.5 1,7.2 3.4,1.4 7.3-.4" fill="none" stroke="#352755" stroke-width="3.6" stroke-linejoin="round" stroke-linecap="round" />
<path d="M547.3,396.2l1.2-66.2 .6-80 .4-13 .2,76.2 .3-66.9 .2,56.9 .3-47.6 .2,70.5 .3-62 .2,84.7 .2-77.9 .3,84.8 .2-78.2 .3,86 .2-80 .2,79.7 .3-73.6 .2,86.4 .3-80.4 .2,80.4 .3-79 .2,79 .2-77.9 .3,77.9 .2-76.8 .3,76.8 .2-73.1 .2,73.1 .3-59.9 .2,59.9 .3-46.7 .2,46.7 .3-21.1 .2,21.1 .6-1.8 .8,6.2 1.2,4.2 1.9,4.1 2.2,1.8 2.6-.1 3.3,1.1 1.7-.3 .8-.4 .8,.1 .8,.7 .8,.3 1.6-.9 .8,.7 .8,.4 2.5,.5 1.6-.2 .8,.6 .8,.3 .8-.2 1.6,.4 .8-.2 1.7,.4 3.3,0 .8,.2 1.7-.3 .8,.4 .8,.1 .8-.2 1.7,0 1.6,.9 .8,.1 4.1-.8 1.6,.5 .8-.3 .8,0 2.4,.2 1.6,.4 1.6-.4 1.7,0 1.6,.7 .8-.3 2.4,.2 4.8-.3 1.6,.3 1.6-.3 2.4,.2 .8,.3 .8-.6 .8-.2 2.4,.8 1.6-.6 3.2,.6 2.4,.1 2.4-.5 1.6,.5 .8,0 1.6-.4 2.4,.4 1.6-.4 1.6,.3 .8-.2 .8,.2 1.6-.1 .8,.1 2.4-.3 1.6,.3 .8-.2 1.6,.4 1.6-.2 .8,.3 1.6-.3 .8,.1 1.6-.7 1.6,.8 .8,0 1.6-.4 1.6,.3 .8-.4 1.6,.5 .8,0 1.6,.3 1.6-.4 .8-.4 .8,.1 2.4,.8 4.8-.7 1.6,.5 1.6-.2 .8,.5 1.6-.8 2.4,.8 .8,.1 1.6-.7 2.4,.1 .8-.1 1.6,.3 .8-.2 .8,.2 .8-.3 .8-.1 .8,.2 2.4,.1 1.6,.6 1.6-1.2 1.6,.8 3.2-.8 1.6,1.3 .8-.6 .8,.1 1.6-.4 .8,.4 1.6-.5 .8,0 .8,.1 1.6,.6 1.6-.2 .8-.3 1.6,.4 .8-.6 .8,0 2.4,.4 .8-.5 .8,.2 .8,.7 .8-.4 .8,0 .8,.4 1.6,0 .8-.5 .8-.1 2.4,.3 .8-.6 1.6,.7 1.6-.3 1.6,.4 1.6-.6 2.4,.2 .8-.2 2.4,0 1.6,.1 1.6,.7 1.6-.1 .8-.2 3.2-.2 1.6-.4 2.4,.4 1.6-.4 1.6,.2 .8-.3 1.6,.5 1.6-.5 1.6,.7 2.4-.7 1.6,.4 3.2,0 .8-.3 .8,.6 .8,0 .8-.5 1.6,.1 .8,.4 1.6-.6 .8,.5 1.6,0 2.4-.6 1.6,.6 1.6,.2 2.5-.2 .8-.4 1.6,.2 .8-.1 .8,.6 1.6-.6 .8,.3 2.4-.2 .8,.4 .8-.3 .8-.5 .8,.6 .8,.3 1.6-.7 .8,.1 .8,.7 .8,.1 .9-.7 .8,0 2.4,.5 1.6-.1 1.6,.2 2.4-.7 3.2,.7 .8-.6 1.6,.2 1.6,0 .8-.2 1.7,.4 1.6-.1 .8-.4 .8-.2 3.2,.6 3.2-.5 .8,.7 .8,.4 .8-.6 1.6,.4 1.6-.1 1.6-.5 1.7,0 1.6-.2 .8,.3 1.6,0 .8,.4 .8-.3 1.6,0 .8-.4" fill="none" stroke="#352755" stroke-width="3.6" stroke-linejoin="round" stroke-linecap="round" />
<path d="M548.6,384 L549.1,250 L549.5,237 L550.8,262 L551.8,276 L553.4,296 L555.2,300 L556.3,330 L557.0,368 L556.6,376 L553.5,377 L552.6,372 L551.5,384 Z" fill="#352755"/>
<path d="M872.4,395.6l1.2-10.8 1.4-10.4 1.2,0 1.4,6.5 1.9,4.6 1.7,2.9 1.2,.8 1.1,1.6 1.1,.9 6.2,1.7 .8-.2 .9,.1 .9,.4 1.6-.1 2.5,.2 .9,.4 3.3-.1 .8,.4 .8,.2 1.7-.2 3.3,.6 .9-.2 .8,.3 3.3-.1 1.6,.3 1.7-.2 2.5,0 1.6-.4 3.3,.8" fill="none" stroke="#352755" stroke-width="3.6" stroke-linejoin="round" stroke-linecap="round" />
<path d="M112.4,495.8l.5-.6 1-4.5 2.1-15.2 .5-3 .5-1.5 .5,2.4 .6,4.5 2.1,21.4 .6,2.9 .5,.9 .6-1.1 1-8.1 2.2-24.4 .5-2.7 .6,2.8 .5,5.2 2.2,24.8 .5,3.3 .5,1.1 .6-1.2 .5-3.6 2.2-26.9 .5-5.7 .5-3 .6,3.2 .5,6 2.2,28.5 .5,3.8 .6,1.3 .5-1.3 .5-3.9 2.2-29 .5-6.2 .6-3.2 .5,3.4 .6,6.7 2.1,31.3 .5,4.2 .6,1.4 .5-1.5 .6-4.5 2.1-33.7 .6-7.1 .5-3.7 .5,3.4 .6,6.6 2.1,31.1 .6,4.1 .5,1.4 .5-1.3 .6-4 2.1-30.3 .6-6.4 .5-3.3 .6,3.7 .5,7.3 2.2,34.1 .5,4.6 .5,1.5 .6-1.5 .5-4.6 2.2-34 .5-7.2 .5-3.8 .6,4 .5,7.6 2.2,35.7 .5,4.8 .6,1.6 .5-1.5 .5-4.6 2.2-34.1 .5-7.3 .6-3.8 .5,3.8 .5,7.2 2.2,34 .5,4.5 .6,1.5 .5-1.5 .6-4.4 2.1-33.1 .6-7 .5-3.6 .5,3.6 2.2,33.3 1.1,11.2 .5,1.5 .5-1.5 .6-4.2 2.1-32.1 .6-6.9 .5-3.5 .6,3.4 .5,6.5 2.1,30.8 .6,4.1 .5,1.4 .6-1.4 .5-4.2 2.2-31.2 .5-6.7 .5-3.4 .6,3.4 .5,6.8 2.2,31.7 .5,4.2 .6,1.5 .5-1.4 .5-4.2 2.2-31.1 .5-6.7 .6-3.4 .5,3.5 2.2,32 1,10.7 .6,1.5 .5-1.4 .6-4.1 2.1-30.4 .5-6.4 .6-3.4 .5,3.5 .6,6.8 2.1,31.8 .6,4.2 .5,1.5 .5-1.5 .6-4.1 2.1-31.4 .6-6.7 .5-3.4 .6,3.7 .5,7.3 2.1,34.1 .6,4.5 .5,1.6 .6-1.6 .5-4.6 2.2-34.4 .5-7.3 .5-3.8 .6,3.7 .5,7.1 2.2,33.6 .5,4.4 .5,1.6 .6-1.6 .5-4.5 2.2-33.9 .5-7.2 .6-3.7 .5,3.6 .5,7.1 2.2,33.3 .5,4.4 .6,1.6 .5-1.6 .6-4.4 2.1-33.3 .5-7.1 .6-3.6 .5,3.6 .6,7.1 2.1,33 .6,4.4 .5,1.6 .5-1.6 .6-4.4 2.1-33.5 .6-7.2 .5-3.6 .5,3.8 .6,7.3 2.1,34.7 .6,4.6 .5,1.6 .6-1.6 .5-4.5 2.2-33.7 .5-7.2 .5-3.7 .6,3.9 .5,7.5 2.2,35.2 .5,4.7 .5,1.6 .6-1.6 .5-4.6 2.2-34.5 .5-7.4 .6-3.8 .5,3.7 .5,7.1 2.2,33.4 .5,4.4 .6,1.6 .5-1.5 .5-4.2 2.2-31.9 .5-6.8 .6-3.6 .5,3.5 .6,6.6 2.1,31.1 .6,4.1 .5,1.5 .5-1.5 .6-4.1 2.1-31.4 .6-6.6 .5-3.5 .5,3.3 .6,6.3 2.1,29.8 .6,3.9 .5,1.4 .6-1.5 1-10.6 2.2-31.7 .5-3.4 .6,3.4 .5,6.8 2.2,31.5 .5,4.2 .5,1.4 .6-1.5 .5-4.3 2.2-32.4 .5-6.9 .6-3.6 .5,3.6 .5,6.8 2.2,32 .5,4.2 .6,1.5 .5-1.4 .5-4.2 2.2-31.8 .5-6.7 .6-3.5 .5,3.4 .6,6.6 2.1,30.9 .5,4.1 .6,1.4 .5-1.4 .6-4 2.1-30.4 .6-6.4 .5-3.4 .5,3.4 .6,6.5 2.1,30.6 .6,4.1 .5,1.4 .6-1.4 .5-3.9 2.1-29.7 .6-6.3 .5-3.2 .6,3.3 2.1,30.7 1.1,10.2 .5,1.4 .6-1.3 .5-3.7 2.2-28.4 .5-6 .5-3.2 .6,3.4 .5,6.6 2.2,30.7 .5,4.1 .6,1.4 .5-1.4 .5-4 2.2-30.3 .5-6.5 .6-3.3 .5,3.4 .5,6.6 2.2,31.2 .5,4.1 .6,1.4 .5-1.4 .6-4.1 2.1-30.6 .6-6.5 .5-3.4 .5,3.2 .6,6.2 2.1,29.2 .6,3.9 .5,1.4 .5-1.4 1.1-10.3 2.2-30.7 .5-3.4 .6,3.4 .5,6.6 2.2,31 .5,4.1 .5,1.4 .6-1.4 .5-4.1 2.2-31.2 .5-6.7 .5-3.4 .6,3.4 2.1,31.4 1.1,10.6 .6,1.4 .5-1.3 .5-3.9 2.2-29.4 .5-6.3 .6-3.2 .5,3.4 .5,6.4 2.2,30.5 .5,4 .6,1.4 .5-1.4 .6-4.2 2.1-31.1 .6-6.6 .5-3.4 .5,3.3 .6,6.4 2.1,30 .6,4 .5,1.4 .5-1.4 .6-3.9 2.1-29.2 .6-6.2 .5-3.3 .6,3.2 .5,6.1 2.2,28.7 .5,3.8 .5,1.3 .6-1.4 1-10.1 2.2-30.3 .5-3.3 .6,3.4 .5,6.4 2.2,30.3 .5,4 .6,1.4 .5-1.4 .5-4 2.2-30.3 .5-6.5 .6-3.3 .5,3.3 .5,6.4 2.2,29.9 .5,3.9 .6,1.4 .5-1.4 .6-4 2.1-30.1 .5-6.4 .6-3.3 .5,3.2 .6,6.3 2.1,29.4 .6,3.9 .5,1.4 .5-1.4 .6-3.9 2.1-29.6 .6-6.4 .5-3.2 .6,3.3 .5,6.5 2.1,30.5 .6,4.1 .5,1.4 .6-1.5 .5-4.2 2.2-31.7 .5-6.7 .5-3.5 .6,3.5 .5,6.8 2.2,31.8 .5,4.2 .5,1.5 .6-1.6 .5-4.4 2.2-33.2 .5-7 .6-3.7 .5,3.7 .5,7.3 2.2,34 .5,4.5 .6,1.6 .5-1.6 .6-4.5 2.1-34 .5-7.3 .6-3.7 .5,3.9 .6,7.7 2.1,35.9 .6,4.7 .5,1.7 .5-1.7 .6-4.8 2.1-36.4 .6-7.8 .5-4 .5,4 2.2,36.5 1.1,12.2 .5,1.6 .6-1.6 .5-4.6 2.2-35.2 .5-7.4 .5-3.9 .6,3.9 .5,7.7 2.2,35.8 .5,4.8 .5,1.7 .6-1.8 .5-5 2.2-37.6 .5-8 .6-4.2 .5,4.1 .5,8 2.2,37.4 .5,4.9 .6,1.7 .5-1.8 .5-5.2 2.2-39.3 .5-8.3 .6-4.4 .5,4.3 .6,8.1 2.1,38.4 .6,5.1 .5,1.8 .5-1.8 .6-5.2 2.1-38.8 .6-8.2 .5-4.3 .5,4.3 .6,8.4 2.1,39.3 .6,5.3 .5,1.8 .6-1.9 .5-5.5 2.1-40.9 .6-8.7 .5-4.5 .6,4.5 .5,8.6 2.2,40.8 .5,5.4 .5,1.8 .6-1.9 .5-5.7 2.2-43 .5-9.1 .6-4.7 .5,4.8 .5,9.4 2.2,44 .5,5.9 .6,2 .5-2 .5-5.7 2.2-43.2 .5-9.2 .6-4.8 .5,4.7 .6,9 2.1,42.5 .5,5.6 .6,2 .5-1.9 .6-5.6 2.1-42 .6-8.9 .5-4.7 .5,4.7 2.2,42.5 1.1,14.3 .5,1.9 .6-1.9 .5-5.5 2.1-41.9 .6-8.9 .5-4.6 .6,4.7 .5,9 2.2,42.4 .5,5.6 .5,2 .6-2 .5-5.6 2.2-42.2 .5-9 .5-4.7 .6,4.7 .5,9 2.2,42.2 .5,5.6 .6,2 .5-1.9 .5-5.4 2.2-40.9 .5-8.7 .6-4.5 .5,4.1 .5,7.9 2.2,37.2 .5,4.9 .6,1.7 .5-1.7 .6-5.2 2.1-38.9 .6-8.3 .5-4.3 .5,4.4 .6,8.5 2.1,39.9 .6,5.3 .5,1.9 .5-1.9 .6-5.3 2.1-40.1 .6-8.5 .5-4.5 .6,4.4 .5,8.5 2.2,39.8 .5,5.3 .5,1.8 .6-1.7 .5-5.1 2.2-38.4 .5-8.2 .5-4.2 .6,4.3 .5,8.4 2.2,39.6 .5,5.3 .6,1.8 .5-1.8 1.1-13 2.1-38.9 .6-4.2 .5,4.4 .5,8.5 2.2,40 .5,5.3 .6,1.9 .5-1.8 .6-5.1 2.1-38.3 .6-8.1 .5-4.3 .5,4 .6,7.8 2.1,36.4 .6,4.9 .5,1.6 .5-1.7 .6-4.9 2.1-37.5 .6-8 .5-4.1 .6,4 .5,7.8 2.2,36.4 .5,4.8 .5,1.7 .6-1.7 .5-4.8 2.2-36.4 .5-7.8 .5-4 .6,3.9 .5,7.6 2.2,35.8 .5,4.8 .6,1.6 .5-1.6 .5-4.7 2.2-35.4 .5-7.5 .6-3.9 .5,4.1 .5,8 2.2,37.4 .5,5 .6,1.7 .5-1.7 .6-5.2 2.1-38.9 .5-8.3 .6-4.3 .5,4.1 .6,8.1 2.1,37.7 .6,5 .5,1.8 .5-1.8 .6-5.2 2.1-39 .6-8.3 .5-4.3 .6,4.3 .5,8.3 2.1,38.9 .6,5.2 .5,1.8 .6-1.9 .5-5.3 2.2-40.5 .5-8.6 .5-4.4 .6,4.4 .5,8.4 2.2,39.8 .5,5.3 .5,1.8 .6-1.8 .5-5.2 2.2-39.6 .5-8.5 .6-4.3 .5,4.3 .5,8.5 2.2,39.7 .5,5.3 .6,1.8 .5-1.8 .6-5.1 2.1-38.6 .5-8.3 .6-4.2 .5,4.1 .6,7.8 2.1,37 .6,4.9 .5,1.7 .5-1.7 .6-4.9 2.1-37 .6-7.9 .5-4 .5,4 .6,7.7 2.1,36.5 .6,4.9 .5,1.6 .6-1.7 1-12.6 2.2-37.4 .5-4.1 .6,4.2 .5,8.1 2.2,38.1 .5,5.1 .5,1.7 .6-1.7 .5-4.9 2.2-36.9 .5-7.8 .6-4.1 .5,4.1 .5,7.9 2.2,37.1 .5,4.9 .6,1.7 .5-1.8 .5-5 2.2-37.9 .5-8.1 .6-4.1 .5,4.1 .6,7.9 2.1,37.1 .6,5 .5,1.7 .5-1.7 .6-4.7 2.1-35.8 .6-7.7 .5-3.9 .5,3.7 .6,7.3 2.1,33.9 .6,4.5 .5,1.6 .6-1.7 1-12.1 2.2-36.1 .5-4 .6,4.1 .5,8 2.2,37.3 .5,5 .5,1.7 .6-1.7 .5-5.1 2.2-38.5 .5-8.2 .6-4.2 .5,4.3 .5,8.2 2.2,38.5 .5,5.1 .6,1.8 .5-1.8 .5-5 2.2-38.2 .5-8.1 .6-4.2 .5,4.1 .6,8 2.1,37.6 .5,5 .6,1.8 .5-1.7 .6-4.9 2.1-36.9 .6-7.8 .5-4 .5,3.9 .6,7.7 2.1,36 .6,4.8 .5,1.7 .6-1.7 .5-4.7 2.1-35.6 .6-7.5 .5-3.9 .6,3.9 .5,7.5 2.2,35.5 .5,4.8 .5,1.6 .6-1.6 1.1-11.9 2.1-35.5 .5-3.9 .6,4.3 .5,8.2 2.2,38.7 .5,5.2 .6,1.8 .5-1.9 .5-5.2 2.2-39.4 .5-8.3 .6-4.4 .5,4 2.2,36.9 1,12.4 .6,1.7 .5-1.7 .6-4.9 2.1-36.9 .6-7.9 .5-4 .5,3.9 .6,7.7 2.1,35.8 .6,4.8 .5,1.6 .5-1.7 .6-5.1 2.1-38.2 .6-8.1 .5-4.2 .6,4.1 .5,8 2.2,37.7 .5,5 .5,1.7 .6-1.6 .5-4.8 2.2-35.7 .5-7.6 .5-3.9 .6,4 .5,7.6 2.2,36.1 .5,4.8 .6,1.6 .5-1.5 .5-4.5 2.2-34 .5-7.3 .6-3.7 .5,3.7 .5,7.2 2.2,33.7 .5,4.4 .6,1.6 .5-1.4 .6-4.1 2.1-31 .6-6.7 .5-3.4 .5,3.5 .6,6.6 2.1,31.1 .6,4.1 .5,1.4 .5-1.4 1.1-10.9 2.2-32.3 .5-3.6 .6,3.6 2.1,33.1 1.1,11.2 .5,1.5 .6-1.5 .5-4.3 2.2-32.6 .5-6.9 .5-3.6 .6,3.6 .5,6.9 2.2,32.6 .5,4.3 .6,1.5 .5-1.5 .5-4.3 2.2-32.2 .5-6.9 .6-3.5 .5,3.6 .5,7 2.2,32.9 .5,4.3 .6,1.5 .5-1.5 .6-4.4 2.1-33.4 .5-7.1 .6-3.6 .5,3.5 2.2,32.7 1.1,11 .5,1.4 .5-1.4 .6-4.1 2.1-31 .6-6.6 .5-3.4 .6,3.5 .5,6.7 2.1,31.7 .6,4.2 .5,1.5 .6-1.6 .5-4.5 2.2-33.9 .5-7.2 .5-3.7 .6,3.6 .5,7 2.2,33 .5,4.4 .5,1.5 .6-1.5 .5-4.5 2.2-33.5 .5-7.1 .6-3.7 .5,3.6 .5,7.2 2.2,33.4 .5,4.4 .6,1.5 .5-1.5 .6-4.5 2.1-34 .5-7.3 .6-3.7 .5,3.7 .6,7.2 2.1,33.7 .6,4.5 .5,1.5 .5-1.5 .6-4.3 2.1-32.9 .6-7 .5-3.6 .5,3.6 2.2,32.5 1.1,10.9 .5,1.4 .6-1.4 .5-4.1 2.2-31 .5-6.6 .5-3.4 .6,3.4 .5,6.5 2.2,30.5 .5,4.1 .5,1.4 .5-1.1" fill="none" stroke="#B5B5B5" stroke-width="2.65" stroke-linejoin="round" stroke-linecap="round" />
<path d="M785.5,514.4l2,12.4 2.5-12.4" fill="none" stroke="#B5B5B5" stroke-width="2.65" stroke-linejoin="round" stroke-linecap="round" />
<path d="M121.5,488.7l1.2,5.7 .5-1.1 1-7.9 1.6-17.8 .5-4.5 .5-2 .6,2.2 .5,4.8 1.7,19.4 1.1,8.6 .6,1.2 .5-1 .5-2.8 2.1-20.2 .5-4 .5-1.9 .6,1.7 .5,3.5 2.3,17.9 .5,2.4 .6,.9 .5-1 .5-3 2.1-21.2 .5-4.2 .5-1.9 .6,1.8 .6,3.9 2.2,19.7 .6,2.7 .5,.9 .5-1.1 .6-3.1 2-22.8 .6-4.4 .5-2.1 .5,2.1 .6,4.5 2.2,22.9 .6,3.2 .6,1.1 .5-1.1 .5-3.1 2.1-22.5 .5-4.4 .5-2 .6,2.3 .5,4.9 2.3,25 .5,3.5 .6,1.2 .5-1.2 .5-3.4 2.1-24.9 .5-4.9 .5-2.2 .6,2.5 .5,5.4 2.3,27.3 .5,3.8 .6,1.3 .5-1.1 .5-3.3 2.1-23.9 .5-4.7 .5-2.2 .6,2.6 .6,5.4 2.2,28 .6,3.8 .5,1.4 .5-1.4 .6-3.9 2-28.2 .6-5.5 .5-2.6 .5,2.7 .6,5.9 2.2,29.9 .6,4.1 .6,1.4 .5-1.4 .5-4 2.1-29.3 .5-5.7 .5-2.7 .6,2.8 .5,6.1 2.3,30.9 .5,4.2 .6,1.5 .5-1.5 .5-4.3 2.1-31.2 .5-6.1 .5-2.8 .6,2.8 .5,6.1 2.3,31.3 .5,4.3 .6,1.4 .5-1.4 .5-4.2 2.1-30.4 .5-5.9 .5-2.8 .6,2.8 .6,6.2 2.2,31.2 .6,4.3 .5,1.5 .5-1.4 .6-4.2 2-30.4 .5-6 .6-2.8 .5,3 .6,6.2 1.7,25.3 1.1,11.2 .5,1.5 .6-1.5 .5-4.2 2.1-30.7 .5-6 .5-2.9 .5,2.8 .6,5.8 2.3,29.9 .5,4.1 .6,1.4 .5-1.5 .5-4.3 2.1-31.5 .5-6.2 .5-2.9 .6,2.7 .5,5.9 2.3,29.9 .5,4.1 .6,1.4 .5-1.4 .5-4.2 2.1-30.4 .5-6 .5-2.7 .6,2.7 .6,6 2.2,30.4 .6,4.2 .5,1.4 .5-1.4 .6-4.1 2-29.5 .5-5.8 .6-2.7 .5,2.8 .6,5.9 2.2,30.4 .6,4.2 .5,1.4 .6-1.4 .5-4.2 2-30.4 .6-5.9 .5-2.8 .5,2.8 .6,5.9 2.2,30.4 .6,4.2 .6,1.4 .5-1.4 .5-4.2 2.1-30.4 .5-5.9 .5-2.8 .6,2.8 .5,5.9 2.3,30.4 .5,4.2 .6,1.4 .5-1.3 .5-4 2.1-29.1 .5-5.7 .5-2.7 .6,2.5 .6,5.4 2.2,27.4 .6,3.8 .5,1.3 .5-1.2 .6-3.6 2-26.3 .5-5.1 .6-2.4 .5,2.3 .6,5 1.7,20 1.1,8.8 .5,1.3 .6-1.2 .5-3.2 2-23.8 .6-4.6 .5-2.2 .5,2.1 .6,4.5 2.2,22.9 .6,3.1 .6,1.1 .5-1.3 .5-3.7 2.1-26.8 .5-5.3 .5-2.4 .6,2.6 .5,5.8 2.3,29.2 .5,4.1 .6,1.4 .5-1.5 .5-4 2.1-29.4 .5-5.8 .5-2.7 .6,2.8 .5,6 2.3,30.4 .6,4.2 .5,1.5 .5-1.5 .5-4.2 2.1-30.4 .5-6 .6-2.8 .5,2.9 .6,6.1 2.2,31.2 .6,4.3 .5,1.5 .6-1.4 .5-4.2 2-29.8 .6-5.9 .5-2.7 .5,2.7 .6,5.9 2.2,29.9 .6,4.1 .6,1.4 .5-1.3 .5-4 2.1-28.7 .5-5.6 .5-2.7 .6,2.7 .5,5.9 2.3,29.6 .5,4.1 .6,1.4 .5-1.3 .5-4 2.1-28.4 .5-5.6 .5-2.6 .6,2.9 .5,6.2 2.3,31.7 .5,4.4 .6,1.5 .5-1.4 .5-4.1 2.1-29.5 .5-5.8 .5-2.7 .6,2.7 .6,5.8 1.7,23.2 1.1,10.3 .5,1.5 .5-1.5 .6-4 2-29.5 .6-5.8 .5-2.7 .5,2.6 .6,5.6 2.2,28.7 .6,4 .6,1.3 .5-1.4 .5-4.1 2.1-29.8 .5-5.9 .5-2.7 .6,2.7 .5,5.9 2.3,29.8 .5,4.1 .6,1.4 .5-1.4 .5-4.2 2.1-30.4 .5-5.9 .5-2.8 .6,2.8 .5,5.9 2.3,30.4 .5,4.2 .6,1.4 .5-1.4 .5-4.1 2.1-29.9 .5-5.8 .5-2.8 .6,2.8 .6,5.8 2.2,29.9 .6,4.1 .5,1.4 .5-1.3 .6-4 2-28.7 .6-5.7 .5-2.6 .5,2.6 .6,5.7 1.7,22.6 1.1,10.1 .6,1.3 .5-1.3 .5-4 2.1-28.7 .5-5.6 .5-2.6 .6,2.6 .5,5.6 2.3,28.7 .5,4 .6,1.3 .5-1.4 .5-4 2.1-29.5 .5-5.8 .5-2.7 .6,2.6 .5,5.6 2.3,28.7 .5,4 .6,1.3 .5-1.3 .5-3.9 2.1-28.4 .5-5.6 .5-2.6 .6,2.5 .6,5.2 2.2,26.7 .6,3.7 .5,1.3 .5-1.3 .6-3.7 2-27.1 .5-5.3 .6-2.4 .5,2.4 .6,5.1 2.2,26.2 .6,3.6 .5,1.2 .6-1.2 .5-3.5 2.1-25.4 .5-5 .5-2.3 .5,2.2 .6,4.9 2.3,24.5 .5,3.4 .6,1.2 .5-1.2 .5-3.3 2.1-24 .5-4.7 .5-2.2 .6,2.3 .5,5 2.3,25.7 .5,3.5 .6,1.2 .5-1.1 .5-3.4 2.1-24.5 .5-4.8 .5-2.3 .6,2.3 .6,5 2.2,25.4 .6,3.5 .5,1.2 .5-1.1 .6-3.3 2-23.7 .5-4.7 .6-2.2 .5,2.4 .6,5.2 2.2,26.1 .6,3.6 .5,1.3 .6-1.2 .5-3.4 2-24.5 .6-4.8 .5-2.2 .5,2.3 .6,4.9 2.2,25.1 .6,3.5 .6,1.2 .5-1.2 .5-3.3 2.1-24.2 .5-4.8 .5-2.2 .6,2.3 .5,4.8 1.7,19.4 1.1,8.5 .6,1.2 .5-1.1 .5-3.1 2.1-22.5 .5-4.5 .5-2 .6,2.2 .6,4.7 2.2,24.1 .6,3.4 .5,1.1 .8-2.8" fill="none" stroke="#352755" stroke-width="3.6" stroke-linejoin="round" stroke-linecap="round" />
<path d="M518.4,520.7l.3-.3 .3-.8 1.6-7.6 .3-.9 .7-.7 .3-1.1 1.5-10 .4-1.1 .3-.4 .3,.4 .3,1.2 1.2,6.7 .6,1.4 1.1,7.4 .3,.9 .3-.7 .3-1.8 1.3-12 .3-1.9 .4-.6 .3,.6 .3,1.7 1.2,12.6 .7,4.3 .3,.6 .3,.1 1,1.2 .4,.1 .6-.5 1.3-2.5 .6-.5 .4-.5 .6-3.9 1.2-11.2 .4-1.6 .3-.5 .3,.4 .3,1.3 .9,5.8 .3,1.2 .6,.9 .3,1.1 1.2,5.9 .3,.4 .3-.2 .9-1.9 .7-.8 .3,1 .7,4.5 .4,.9" fill="none" stroke="#352755" stroke-width="3.6" stroke-linejoin="round" stroke-linecap="round" />
<path d="M547.8,514 L549.9,545 L550.1,612.3 L553.1,612.3 L553.3,545 L554.6,526 L555.6,511 L556.8,510.5" fill="none" stroke="#352755" stroke-width="3.6" stroke-linejoin="round" stroke-linecap="round"/>
<rect x="550" y="547" width="3.2" height="65" fill="#352755"/>
<path d="M556.8,510.1l1.4-.8 5.3,0 1.1-.8 2.2-2.9 3.2,2.5 1,.4 1.1-.1 1.1-1 2.2-3.2 2.7,3.3 1.6,1.2 1,0 .6-.3 2.8-2.8 3.1,4.4 1.1,.7 .5,.1 .6-.2 1.1-1.1 2.2-3.6 3.2,2.5 1,.4 1.1-.2 1.1-1.4 2.2-4.6 3.2,3.7 1,.7 .6,0 .5-.2 1.1-1.5 2.2-5.1 3.2,1.4 1.1,.2 1-.1 1.2-.8 2.2-2.5 3.1,3.5 1.1,.6 .5,.1 .6-.2 1.1-1.4 2.2-4.6 3.2,6.7 1,1.1 .5,.1 .6-.3 1.1-2.1 2.2-7.1 3.2,9.4 1,1.6 .6,.2 .5-.3 1.1-2.6 2.2-8.3 3.2,10.1 1.1,1.6 .5,.3 .5-.4 1.1-2.6 2.3-8.6 3.1,10.1 1.1,1.7 .5,.3 .6-.4 1.1-2.6 2.2-8.7 3.2,10.2 1,1.7 .5,.3 .6-.4 1.1-2.6 2.2-8.8 3.2,9.8 1,1.6 .6,.3 .5-.4 1.1-2.8 2.2-9.1 3.2,9.8 1.1,1.7 .5,.2 .5-.4 1.1-2.7 2.3-9.2 3.1,10.2 1.1,1.7 .5,.2 .6-.4 1.1-2.9 2.2-9.6 3.1,11.2 1.1,1.9 .5,.3 .6-.5 1.1-3.2 2.2-10.6 3.2,12.4 1,2 .6,.3 .5-.5 1.1-3.5 2.2-11.5 3.2,13.2 1,2.2 .6,.3 .5-.4 1.1-3.3 2.3-10.8 3.1,12.2 1.1,2 .5,.3 .6-.4 1.1-3 2.2-9.9 3.1,11.2 1.1,1.8 .5,.3 .6-.4 1.1-3.2 2.2-10.4 3.2,11.6 1,1.9 .5,.2 .6-.4 1.1-3.2 2.2-10.6 3.2,11.8 1,1.9 .6,.3 .5-.4 1.1-3.3 2.3-10.8 3.1,11.9 1.1,2 .5,.2 .5-.4 1.2-3.4 2.2-11.3 3.1,12.4 1.1,2.1 .5,.3 .6-.5 1.1-3.6 2.2-11.7 3.2,13 1,2.1 .5,.3 .6-.5 1.1-3.7 2.2-12.2 3.2,13.5 1,2.2 .6,.3 .5-.5 1.1-3.9 2.2-12.8 3.2,14.3 1.1,2.4 .5,.3 .5-.6 1.2-4.1 2.2-13.7 3.1,15.2 1.1,2.6 .5,.3 .6-.5 1.1-4 2.2-13 3.2,14.6 1,2.4 .5,.3 .6-.5 1.1-3.8 2.2-12.4 3.2,13.9 1,2.3 .6,.3 .5-.5 1.1-3.7 2.2-12.3 3.2,13.8 1.1,2.3 .5,.3 .5-.5 1.2-3.7 2.2-12.2 3.1,13.8 1.1,2.3 .5,.3 .6-.5 1.1-3.7 2.2-12.3 3.2,13.9 1,2.3 .5,.3 .6-.5 1.1-3.7 2.2-12.4 3.2,13.9 1,2.3 .6,.3 .5-.5 1.1-3.8 2.2-12.4 3.2,13.8 1.1,2.3 .5,.3 .5-.5 1.1-3.7 2.3-12.3 .8,1.2" fill="none" stroke="#352755" stroke-width="3.6" stroke-linejoin="round" stroke-linecap="round" />
<path d="M869.3,487.6l.4,.7 .3,2 1,7.3 .3,.7 .7,.5 1.6,3.8 .4,.5 .9,.4 1.6,1.4 1.2-.1 2.8-1.3 2.2-.5 2.8-1.9 2.1-.5 2.8-1.8 .9-.3 .7,0 .9,.4 2.8,1.9 1.2,.2 1.3-1.1 2.1-2.9 1-.7 .6,0 .9,.3 2.8,2 1.2,.1 .7-.5 .6-.8 2.1-3.9 .7-.7 .6-.2 .3,.1 .6,.7 2.2,4.7 .3,.3 .6,0 .6-.5 .7-1 2.1-4.5 .6-.8 .7-.3 .3,.2 .6,1.2 1.9,6.7 .6,1.2 .3,.1" fill="none" stroke="#352755" stroke-width="3.6" stroke-linejoin="round" stroke-linecap="round" />
<path d="M112.3,754.2l.5,5.6 .5,11.2 .5,5.5 .5-1.7 1.1-12.9 2.1-37 .6-5 .5-1.8 .5,3.1 .6,8.8 2.1,57.2 .6,8.7 .5,3.1 .6-3.6 .5-10.2 2.1-66.5 .6-10.2 .5-3.6 .6,3.4 .5,9.7 2.2,63.2 .5,9.7 .5,3.4 .6-3.5 .5-10 2.2-65.2 .5-10 .5-3.5 .6,3.7 .5,10.7 2.2,69.7 .5,10.7 .6,3.7 .5-3.8 .5-10.8 2.2-70.5 .5-10.8 .6-3.8 .5,3.7 .5,10.6 2.2,69.1 .5,10.6 .6,3.7 .5-3.8 .6-10.8 2.1-70.7 .6-10.9 .5-3.8 .5,4 .6,11.2 2.1,73 .6,11.2 .5,3.9 .5-3.9 .6-11.1 2.1-72.7 .6-11.2 .5-3.9 .6,3.7 .5,10.4 2.2,68 .5,10.4 .5,3.7 .6-3.7 .5-10.7 2.2-69.7 .5-10.7 .5-3.8 .6,3.6 .5,10.3 2.2,67.1 .5,10.3 .6,3.6 .5-3.6 .5-10.4 2.2-67.4 .5-10.3 .6-3.6 .5,3.5 .5,9.9 2.2,65 .5,9.9 .6,3.5 .5-3.5 .6-10.1 2.1-65.4 .6-10.1 .5-3.5 .5,3.6 .6,10.2 2.1,67 .6,10.2 .5,3.6 .5-3.6 .6-10.2 2.1-66.9 .6-10.2 .5-3.6 .6,3.7 .5,10.5 2.2,68.6 .5,10.5 .5,3.7 .6-3.8 .5-10.8 2.2-70.3 .5-10.8 .5-3.8 .6,3.9 .5,11.1 2.2,72.6 .5,11.1 .6,3.9 .5-3.9 .5-11.2 2.2-73.3 .5-11.2 .6-4 .5,4.1 .5,11.7 2.2,76 .5,11.6 .6,4.1 .5-4.1 .6-11.8 1.6-59.2 1-29.3 .6-4.2 .5,4 1.1,27.9 1.6,56.3 .6,11.2 .5,3.9 .5-3.9 .6-11.2 2.1-73.1 .6-11.2 .5-4 .6,3.9 .5,11.2 2.1,72.4 .6,11.1 .5,3.9 .6-3.9 .5-10.9 2.2-71.4 .5-11 .5-3.8 .6,3.7 .5,10.6 1.6,53.4 1.1,26.5 .5,3.8 .6-3.6 1.1-25.6 1.6-51.6 .5-10.2 .6-3.6 .5,3.7 .5,10.4 2.2,68.1 .5,10.5 .6,3.7 .5-3.7 .6-10.5 2.1-68.4 .5-10.5 .6-3.6 .5,3.7 .6,10.5 2.1,68.7 .6,10.6 .5,3.7 .5-3.7 .6-10.5 2.1-68.6 .6-10.5 .5-3.7 .5,3.8 .6,10.9 2.1,70.5 .6,10.9 .5,3.8 .6-3.9 .5-11 2.2-71.8 .5-11 .5-3.9 .6,3.9 .5,11.2 2.2,72.9 .5,11.1 .5,4 .6-3.9 .5-11.2 1.6-56 1.1-27.9 .6-3.9 .5,3.8 1.1,26.9 1.6,54.3 .5,10.8 .6,3.8 .5-3.8 .5-10.6 2.2-69.4 .5-10.6 .6-3.7 .5,3.7 .6,10.4 1.6,52.8 1.1,26.2 .5,3.7 .5-3.4 1.1-24.3 1.6-49 .6-9.7 .5-3.5 .5,3.5 .6,9.7 2.1,63.5 .6,9.8 .5,3.4 .6-3.6 .5-10.2 2.1-66.8 .6-10.2 .5-3.6 .6,3.6 .5,10.3 2.2,67.3 .5,10.3 .5,3.6 .6-3.6 .5-10.3 2.2-67.4 .5-10.4 .6-3.6 .5,3.7 .5,10.4 2.2,68.1 .5,10.4 .6,3.7 .5-3.7 .5-10.5 2.2-68.3 .5-10.5 .6-3.6 .5,3.8 .6,11 1.6,55.2 1,27.5 .6,3.8 .5-3.7 1.1-26.9 1.6-54 .6-10.7 .5-3.8 .5,3.7 .6,10.7 2.1,69.6 .6,10.7 .5,3.7 .6-3.7 .5-10.6 2.1-68.9 .6-10.6 .5-3.7 .6,3.8 .5,10.9 2.2,71.2 .5,10.9 .5,3.8 .6-3.8 .5-10.9 2.2-71.2 .5-10.9 .5-3.8 .6,3.8 .5,10.9 2.2,71.1 .5,10.9 .6,3.8 .5-3.7 .5-10.8 2.2-69.9 .5-10.7 .6-3.8 .5,3.6 .5,10.3 2.2,67.3 .5,10.4 .6,3.6 .5-3.6 .6-10.2 2.1-66.5 .6-10.1 .5-3.6 .5,3.5 .6,9.9 2.1,64.5 .6,9.9 .5,3.5 .5-3.6 .6-10 1.6-50.3 1.1-25 .5-3.5 .6,3.4 1,24.8 1.7,49.8 .5,9.9 .5,3.5 .6-3.6 .5-10.2 2.2-66.3 .5-10.2 .5-3.6 .6,3.6 .5,10 2.2,65.6 .5,10 .6,3.6 .5-3.6 .5-10.1 2.2-66.2 .5-10.1 .6-3.6 .5,3.8 .5,10.6 2.2,69.5 .5,10.7 .6,3.7 .5-3.8 .6-10.7 2.1-70.2 .6-10.8 .5-3.7 .5,3.7 .6,10.7 2.1,69.9 .6,10.8 .5,3.7 .5-3.9 .6-11.2 1.6-56.3 1.1-28 .5-3.9 .6,3.8 1,27.1 1.7,54.6 .5,10.9 .5,3.8 .6-3.9 .5-11.1 2.2-72.3 .5-11.1 .5-3.9 .6,3.9 .5,11.1 2.2,72.6 .5,11.2 .6,3.9 .5-4 .5-11.3 2.2-73.7 .5-11.4 .6-3.9 .5,3.7 .5,10.7 2.2,69.4 .5,10.7 .6,3.7 .5-3.8 .6-10.9 1.6-54.8 1-27.2 .6-3.8 .5,3.8 1.1,27.2 1.6,54.8 .6,10.9 .5,3.8 .5-3.9 .6-11.2 2.1-72.7 .6-11.1 .5-4 .6,4.4 .5,12.3 2.1,80.5 .6,12.3 .5,4.3 .6-4.3 .5-12.4 2.2-80.9 .5-12.4 .5-4.3 .6,4.2 .5,11.9 2.2,78.1 .5,12 .5,4.2 .6-4.2 .5-11.8 2.2-77.4 .5-11.9 .6-4.1 .5,4 .5,11.4 2.2,74.8 .5,11.4 .6,4.1 .5-4 .6-11.4 1.6-57 1-28.3 .6-4 .5,4.1 1.1,28.8 1.6,58 .6,11.5 .5,4.1 .5-4.1 .6-11.8 2.1-76.7 .6-11.7 .5-4.1 .5,4.2 .6,11.9 2.1,77.7 .6,11.9 .5,4.2 .6-4.2 .5-11.8 2.2-77.4 .5-11.8 .5-4.2 .6,4.2 .5,12.1 2.2,78.7 .5,12.1 .5,4.2 .6-4.3 .5-12.3 2.2-79.9 .5-12.3 .6-4.3 .5,4.5 .5,12.6 2.2,82.5 .5,12.7 .6,4.4 .5-4.4 .5-12.6 2.2-82.1 .5-12.6 .6-4.4 .5,4.4 .6,12.5 2.1,81.4 .6,12.5 .5,4.4 .5-4.3 .6-12.3 2.1-80.5 .6-12.4 .5-4.3 .5,4.3 .6,12.2 2.1,79.6 .6,12.2 .5,4.3 .6-4.2 .5-12.1 2.2-78.8 .5-12.1 .5-4.2 .6,4.2 .5,11.8 1.6,59.6 1.1,29.6 .5,4.2 .6-4.2 1.1-29.4 1.6-59.4 .5-11.8 .6-4.1 .5,4.1 .5,11.7 2.2,76.6 .5,11.7 .6,4.1 .5-4.2 .5-12.1 2.2-78.7 .5-12.1 .6-4.2 .5,4.2 .6,12 2.1,78.4 .5,12.1 .6,4.2 .5-4.2 .6-12 2.1-78 .6-12 .5-4.2 .5,4.1 .6,11.7 2.1,76.2 .6,11.6 .5,4.1 .6-4 .5-11.4 1.6-57.3 1.1-28.5 .5-4 .6,4.3 1,30.8 1.7,61.9 .5,12.3 .5,4.3 .6-4.4 .5-12.7 2.2-82.4 .5-12.6 .5-4.5 .6,4.4 .5,12.4 1.6,62.4 1.1,31 .6,4.3 .5-4.4 1.1-31.6 1.6-63.7 .5-12.7 .6-4.4 .5,4.4 .6,12.8 2.1,82.9 .5,12.8 .6,4.4 .5-4.3 .6-12.3 2.1-80.5 .6-12.3 .5-4.3 .5,4.2 .6,12.3 1.6,61.4 1.1,30.5 .5,4.3 .5-4.4 1.1-30.8 1.6-62 .6-12.4 .5-4.3 .6,4.4 .5,12.4 2.2,81.4 .5,12.5 .5,4.4 .6-4.5 .5-12.7 2.2-83.2 .5-12.8 .5-4.5 .6,4.6 .5,13 2.2,85 .5,13 .6,4.6 .5-4.5 .5-12.8 1.7-64.7 1-32 .6-4.6 .5,4.6 1.1,32.6 1.6,65.5 .5,13.1 .6,4.5 .5-4.6 .6-13.3 2.1-86.5 .6-13.3 .5-4.7 .5,4.6 .6,12.9 1.6,64.9 1.1,32.2 .5,4.6 .5-4.5 1.1-32.1 1.6-64.6 .6-12.8 .5-4.5 .6,4.4 .5,12.8 2.2,83.3 .5,12.7 .5,4.5 .6-4.6 .5-12.9 1.6-65.2 1.1-32.3 .5-4.6 .6,4.5 1.1,31.9 1.6,64.4 .5,12.8 .6,4.5 .5-4.6 .5-12.9 2.2-84.3 .5-12.9 .6-4.5 .5,4.6 .5,13.4 2.2,87.1 .5,13.3 .6,4.7 .5-4.7 .6-13.4 2.1-87.2 .5-13.4 .6-4.7 .5,4.7 .6,13.5 2.1,87.6 .6,13.4 .5,4.8 .5-4.8 .6-13.5 2.1-88.3 .6-13.6 .5-4.7 .6,4.8 .5,13.8 2.1,90.1 .6,13.8 .5,4.9 .6-4.9 .5-14 2.2-90.8 .5-14 .5-4.9 .6,4.9 .5,13.6 2.2,89.3 .5,13.7 .5,4.8 .6-4.8 .5-13.5 2.2-88.4 .5-13.6 .6-4.7 .5,4.6 .5,13.1 2.2,85.6 .5,13.1 .6,4.6 .5-4.5 .6-12.8 2.1-83.4 .5-12.8 .6-4.5 .5,4.4 .6,12.6 1.6,62.9 1.1,31.3 .5,4.4 .5-4.5 1.1-32 1.6-64.3 .6-12.8 .5-4.5 .5,4.5 .6,12.9 2.1,84.1 .6,12.9 .5,4.5 .6-4.4 .5-12.3 2.2-80.8 .5-12.4 .5-4.4 .6,4.2 .5,12.1 1.6,60.5 1.1,30.1 .5,4.3 .6-4.1 1.1-29.2 1.6-58.7 .5-11.6 .6-4.1 .5,4.1 .5,12 2.2,77.8 .5,11.9 .6,4.2 .5-4.4 .5-12.6 2.2-82.4 .5-12.7 .6-4.4 .5,4.5 .6,12.7 2.1,82.8 .6,12.7 .5,4.5 .5-4.5 .6-13 2.1-84.5 .6-12.9 .5-4.6 .5,4.6 .6,12.9 2.1,84.4 .6,13 .5,4.5 .6-3.6 .5-10.3 2.2-67.3 .5-10.4 .5-3.6 .6,3.6 .5,10.3 1.6,51.6 1.1,25.6 .5,3.6 .6-3.7 1.1-26.4 1.6-53.3 .5-10.5 .6-3.8 .5,3.7 .5,10.6 2.2,68.8 .5,10.5 .6,3.7 .5-3.9 .5-11.1 2.2-72.5 .5-11.1 .6-3.9 .5,3.5 .6,10.2 2.1,65.9 .5,10.1 .6,3.6 .5-3.6 .6-10.1 1.6-50.8 1.1-25.2 .5-3.6 .5,3.7 1.1,26.5 1.6,53.2 .6,10.6 .5,3.7 .6-4 .5-11.5 2.1-75.2 .6-11.5 .5-4 .6,3.9 .5,11.2 2.2,73.1 .5,11.2 .5,3.9 .6-3.4 .5-9.7 2.2-63.5 .5-9.7 .5-3.4 .6,3.8 .5,10.7 2.2,70 .5,10.7 .6,3.8 .5-3.6 .5-10.2 2.2-66.7 .5-10.2 .6-3.6 .5,3.7 .6,10.7 2.1,69.3 .5,10.7 .6,3.7 .5-3.8 .6-10.9 2.1-71.1 .6-10.9 .5-3.9 .5,3.8 .6,10.8 1.6,54.1 1.1,26.9 .5,3.8 .5-3.9 1.1-27.8 1.6-55.9 .6-11.1 .5-3.9 .6,4.2 .5,12.2 2.2,79.6 .5,12.2 .5,4.3 .6-4.1 .5-11.8 2.2-76.8 .5-11.8 .5-4.1 .6,3.8 .5,11 2.2,71.9 .5,11.1 .6,3.8 .5-3.9 .5-11.1 1.7-56 1-27.8 .6-4 .5,4.1 1.1,29.2 1.6,58.7 .5,11.7 .6,4.1 .5-4.3 .6-12.2 2.1-79.6 .6-12.1 .5-4.3 .5,4.1 .6,11.9 2.1,77.4 .6,11.9 .5,4.2 .5-4 .6-11.4 2.1-74.2 .6-11.4 .5-4 .6,3.2 .5,9.2 2.2,60.3 .5,9.2 .5,3.2 .6-3.2 .5-9.3 1.6-46.6 1.1-23.2 .5-3.2 .6,3.4 1.1,24.1 1.6,48.5 .5,9.7 .6,3.3 .5-3.6 .5-10.2 1.6-51.6 1.1-25.6 .6-3.6 .5,3.4 1.1,23.9 1.6,48.3 .5,9.6 .6,3.3 .5-3.3 .6-9.7 2.1-62.7 .5-9.6 .6-3.4 .5,3.6 .6,10 2.1,65.7 .6,10.1 .5,3.5 .5-3.9 .6-11 2.1-71.8 .6-11 .5-3.9 .6,4 .5,11.2 1.6,56.7 1.1,28.1 .5,4 .6-3.7 1-26.6 1.7-53.4 .5-10.7 .5-3.7 .6,3.8 .5,10.9 2.2,71.2 .5,10.9 .5,3.8 .6-4 .5-11.5 2.2-74.8 .5-11.5 .6-4 .5,4.3 .5,12.3 2.2,80.3 .5,12.3 .6,4.3 .5-4.5 .6-12.8 2.1-83.2 .5-12.8 .6-4.5 .5,5 .6,14.2 2.1,92.7 .6,14.2 .5,5 .5-4.7 .6-13.3 2.1-87.1 .6-13.3 .5-4.7 .5,4.9 .6,13.9 1.6,69.9 1.1,34.7 .5,4.8 .6-4.7 1-33.6 1.7-67.6 .5-13.4 .5-4.8 .9,13.2 1,111.7" fill="none" stroke="#B5B5B5" stroke-width="2.65" stroke-linejoin="round" stroke-linecap="round" />
<path d="M440,705.9l.5,3.1 .5,8.7 2,57.1 .5,8.7 .5,3.1 .5-3.1 .6-8.6 2.1-56.5 .6-8.7 .5-3 .6,2.9 .5,8.2 2.1,53.6 .6,8.3 .5,2.9 .6-3 .5-8.3 2.2-54.3 .5-8.3 .5-2.9 .6,2.9 .5,8.2 2.2,53.8 .5,8.3 .5,2.9 .6-2.7 .5-7.7 2.2-50.3 .5-7.7 .6-2.7 .5,2.5 .5,7.2 2.2,46.4 .5,7.2 .6,2.5 .5-2.6 .6-7.2 2.1-47 .5-7.2 .6-2.5 .5,2.6 .6,7.3 2.1,47.6 .6,7.3 .5,2.6 .5-2.5 .6-7.1 2.1-46.2 .6-7.1 .5-2.5 .5,2.6 .6,7.3 2.1,47.7 .6,7.3 .5,2.6 .6-2.4 .5-6.6 2.2-43.2 .5-6.6 .5-2.3 .6,2.2 .5,6.1 2.2,40.1 .5,6.1 .5,2.2 .6-2.2 .5-6.1 1.6-30.7 1.1-15.3 .6-2.2 .5,2.2 1.1,15.6 1.6,31.2 .5,6.3 .6,2.1 .5-2.1 .5-6.1 1.7-30.5 1-15.2 .6-2.1 .5,2 1.1,14.3 1.6,28.7 .6,5.8 .5,2 .5-2.1 .6-5.9 2.1-38.7 .6-5.9 .5-2.1 .5,2.3 .6,6.5 2.1,42.5 .6,6.6 .5,2.3 .6-2.3 .5-6.5 2.2-42.3 .5-6.5 .5-2.3 .6,2.3 .5,6.5 2.2,42.3 .5,6.4 .5,2.3 .6-2.2 .5-6.4 2.2-41.4 .5-6.3 .6-2.3 .5,2.3 .5,6.3 2.2,41.4 .5,6.3 .6,2.2 .5-2.1 .5-6.1 1.7-30.5 1-15.2 .6-2.1 .5,2.1 1.1,14.5 1.6,29.2 .5,5.9 .6,2 .5-2.1 .6-5.9 2.1-38.9 .6-6 .5-2 .5,2 .6,6 2.1,38.8 .6,6 .5,2.1 .6-2 .5-5.5 2.1-36.5 .6-5.6 .5-1.9 .6,1.9 .5,5.6 1.6,27.9 1.1,13.8 .5,2 .6-2 1.1-14.5 1.6-29.1 .5-5.8 .5-2 .6,2.2 .5,6.3 2.2,40.9 .5,6.3 .6,2.2 .5-2.3 .5-6.3 2.2-41.6 .5-6.3 .6-2.2 .5,2 .6,5.7 2.1,37.4 .5,5.7 .6,2 .5-1.9 .6-5.3 2.1-34.7 .6-5.4 .5-1.8 .5,1.8 .6,5.1 2.1,33.5 .6,5.1 .5,1.8 .5-1.8 .6-5.2 1.6-26 1.1-12.9 .5-1.8 .6,1.8 1,13.1 1.7,26.3 .5,5.2 .5,1.8 .6-1.9 .5-5.4 2.2-35.3 .5-5.5 .5-1.9 .6,2 .5,5.5 2.2,36 .5,5.5 .6,1.9 .5-1.9 .5-5.4 2.2-35.3 .5-5.4 .6-1.9 .5,1.8 .5,5.2 2.2,33.7 .5,5.2 .6,1.8 .5-1.7 .6-4.7 2.1-30.9 .6-4.8 .5-1.6 .5,1.6 .6,4.6 2.1,30.2 .6,4.7 .5,1.6 .5-1.6 .6-4.7 1.6-23.6 1.1-11.7 .5-1.6 .6,1.7 1,12.5 1.7,25.2 .5,5.1 .5,1.7 .6-1.7 .5-4.9 2.2-32 .5-4.9 .5-1.7 .6,1.6 .5,4.8 2.2,30.9 .5,4.8 .6,1.6 .5-1.7 .5-5.1 1.6-25.2 1.1-12.5 .6-1.8 .5,1.7 1.1,11.6 1.6,23.5 .5,4.6 .6,1.7 .5-1.7 .6-4.7 2.1-30.6 .5-4.7 .6-1.7 .5,1.8 .6,4.9 2.1,32.3 .6,5 .5,1.7 .5-1.8 .6-5.1 2.1-33.6 .6-5.2 .5-1.8 .6,1.7 .5,4.9 2.1,31.8 .6,4.8 .5,1.7 .6-1.6 .5-4.8 2.2-30.9 .5-4.7 .5-1.7 .6,1.7 .5,4.6 1.6,23.6 1.1,11.7 .5,1.6 .6-1.7 1.1-12.1 1.6-24.4 .5-4.8 .6-1.7 .5,1.7 .5,4.9 2.2,31.9 .5,4.9 .6,1.7 .5-1.8 .6-5.4 2.1-34.8 .5-5.3 .6-1.9 .5,2 .6,5.7 2.1,36.9 .6,5.6 .5,2 .5-1.9 .6-5.4 2.1-35 .6-5.4 .5-1.9 .5,1.9 .6,5.2 1.6,26.1 1.1,13 .5,1.8 .6-2 1-14 1.7-28.3 .5-5.6 .5-2 .6,2 .5,5.5 2.2,35.9 .5,5.6 .5,1.9 .6-1.9 .5-5.3 2.2-34.8 .5-5.3 .6-1.9 .5,1.8 .5,5.3 2.2,34.1 .5,5.2 .6,1.9 .5-1.8 .5-5.1 2.2-33.3 .5-5.1 .6-1.8 .5,1.7 .6,4.9 1.6,24.6 1.1,12.2 .5,1.7 .5-1.8 1.1-12.8 1.6-25.8 .6-5.2 .5-1.8 .5,1.8 .6,5.2 2.1,33.7 .6,5.1 .5,1.8 .6-1.9 .5-5.7 2.2-36.9 .5-5.6 .5-2 .6,2.2 .5,6.1 2.2,40.3 .5,6.1 .5,2.2 .6-2.1 .5-6 1.6-30 1.1-15 .6-2.1 .5,2.3 1.1,16.3 1.6,32.7 .5,6.5 .6,2.2 .5-2.3 .5-6.8 2.2-44.2 .5-6.8 .6-2.3 .5,2.4 .6,7 2.1,45.5 .5,7 .6,2.4 .5-2.5 .6-7.1 2.1-46.5 .6-7.2 .5-2.5 .5,2.6 .6,7.4 2.1,48 .6,7.4 .5,2.6 .6-2.6 .5-7.3 2.1-47.7 .6-7.3 .5-2.6 .6,2.7 .5,7.7 2.2,49.8 .5,7.6 .5,2.7 .6-2.7 .5-7.5 1.6-38 1.1-18.9 .5-2.7 .6,2.6 1.1,18.7 1.6,37.4 .5,7.5 .6,2.6 .5-2.6 .5-7.6 2.2-49 .5-7.6 .6-2.6 .5,2.9 .6,8.4 2.1,54.4 .5,8.4 .6,2.9 .5-2.9 .6-8.4 2.1-54.4 .6-8.3 .5-3 .5,3 .6,8.3 1.6,41.8 1.1,20.7 .5,3 .5-3 1.1-21 1.6-42.4 .6-8.4 .5-3 .6,3 .5,8.4 1.6,42.5 1.1,21.1 .5,3 .6-3 1-21 1.7-42.3 .5-8.4 .5-2.9 .6,2.9 .5,8.4 2.2,55 .5,8.5 .6,2.9 .5-3 .5-8.5 2.2-55.5 .5-8.6 .6-2.9 .5,3 .5,8.6 2.2,56 .5,8.6 .6,3 .5-3 .6-8.6 2.1-56 .6-8.5 .5-3 .5,3 .6,8.6 2.1,56.5 .6,8.6 .5,3.1 .5-3.1 .6-8.6 2.1-56.6 .6-8.7 .5-3 .6,3 .5,8.8 2.2,56.8 .5,8.7 .5,3.1 .6-3.2 .5-9.2 2.2-59.7 .5-9.2 .5-3.2 .6,3.1 .5,8.7 2.2,56.9 .5,8.8 .6,3 .5-3 .5-8.6 2.2-56.1 .5-8.6 .6-3 .5,2.9 .5,8.3 2.2,54.2 .5,8.3 .6,2.9 .5-2.9 .6-8.4 2.1-54.8 .5-8.3 .6-3 .5,2.7 .6,7.8 2.1,50.8 .6,7.8 .5,2.7 .5-2.8 .6-7.8 2.1-50.9 .6-7.8 .5-2.7 .6,2.7 .5,8 2.1,51.8 .6,8 .5,2.8 .6-2.9 .5-8.3 2.2-53.9 .5-8.2 .5-2.9 .6,2.8 .5,8.2 2.2,53 .5,8.1 .5,2.9 .6-2.8 .5-7.7 2.2-50.4 .5-7.8 .6-2.7 .5,2.7 .5,7.4 2.2,48.8 .5,7.5 .6,2.6 .5-2.6 .6-7.5 2.1-48.7 .5-7.4 .6-2.7 .5,2.7 .6,7.7 2.1,49.8 .6,7.7 .5,2.6 .5-2.6 .6-7.4 2.1-48.2 .6-7.4 .5-2.6 .5,2.6 .6,7.5 2.1,48.7 .6,7.5 .5,2.6 .6-2.7 .5-7.6 1.6-38.5 1.1-19.1 .5-2.7 .9,7.6" fill="none" stroke="#B5B5B5" stroke-width="2.65" stroke-linejoin="round" stroke-linecap="round" />
<path d="M118,774.2l.5-3.9 1.5-40.1 .5-10.7 .5-4 .5,2.8 .6,7.8 2.1,50.8 .6,7.8 .5,2.8 .6-2.7 .5-7.6 2.1-49.4 .6-7.6 .5-2.7 .6,2.7 .5,7.5 2.2,49.4 .5,7.5 .5,2.7 .6-2.6 .5-7.4 2.2-48.5 .5-7.5 .5-2.6 .6,2.8 .5,8 2.2,52 .5,8 .6,2.8 .5-2.9 .5-8.3 2.2-54.4 .5-8.4 .6-2.9 .5,2.6 .6,7.4 2.1,48.4 .5,7.4 .6,2.6 .5-2.6 .6-7.5 2.1-48.6 .6-7.4 .5-2.6 .5,2.6 .6,7.7 2.1,49.9 .6,7.7 .5,2.7 .5-2.9 .6-8 2.1-52.5 .6-8 .5-2.9 .6,2.9 .5,8.4 2.2,54.3 .5,8.3 .5,2.9 .6-2.9 .5-8.5 2.2-55 .5-8.4 .5-3 .6,2.9 .5,8.2 2.2,53.6 .5,8.2 .6,2.9 .5-3 .5-8.2 2.2-54.1 .5-8.3 .6-2.9 .5,3 .5,8.5 2.2,55.3 .5,8.5 .6,3 .5-3 .6-8.4 2.1-55.1 .6-8.4 .5-3 .5,3.1 .6,8.7 2.1,57 .6,8.8 .5,3 .5-3.3 .6-9.6 2.1-62.3 .6-9.6 .5-3.3 .6,3.1 .5,9 2.1,58.4 .6,8.9 .5,3.2 .6-3 .5-8.5 2.2-55.2 .5-8.4 .5-3 .6,3.1 .5,8.8 1.6,44.4 1.1,22 .6,3.1 .5-3 1.1-21.7 1.6-43.6 .5-8.7 .6-3.1 .5,3.1 .5,8.7 2.2,56.8 .5,8.7 .6,3 .5-3.2 .6-9.1 2.1-59.3 .5-9.1 .6-3.1 .5,3.1 .6,8.8 1.6,44.6 1.1,22.2 .5,3.1 .5-3 1.1-21.1 1.6-42.5 .6-8.4 .5-3 .6,3 .5,8.5 2.1,55.5 .6,8.5 .5,3 .6-3.1 .5-8.8 2.2-57.1 .5-8.8 .5-3.1 .6,3.1 .5,8.9 2.2,57.7 .5,8.9 .5,3.1 .6-3 .5-8.4 2.2-55 .5-8.4 .6-3 .5,2.8 .5,8 2.2,51.7 .5,7.9 .6,2.8 .5-2.8 .6-7.9 1.6-39.8 1-19.7 .6-2.8 .5,3 1.1,21 1.6,42.5 .6,8.4 .5,3 .5-3.2 .6-8.9 2.1-58.3 .6-9 .5-3.1 .5,3.2 .6,9 1.6,45.5 1.1,22.5 .5,3.2 .6-3.1 1-22 1.7-44.3 .5-8.8 .5-3.1 .6,3.1 .5,9 2.2,58.3 .5,9 .5,3.1 .6-3.2 .5-9.1 2.2-59.3 .5-9.1 .6-3.2 .5,3.2 .5,9 2.2,59.1 .5,9.1 .6,3.2 .5-3.2 .5-9 2.2-59.1 .5-9 .6-3.2 .5,3.1 .6,8.9 2.1,58.3 .6,8.9 .5,3.1 .5-3 .6-8.5 2.1-55.8 .6-8.5 .5-3 .5,2.9 .6,8.5 2.1,55.3 .6,8.5 .5,3 .6-3 .5-8.4 2.2-55.2 .5-8.5 .5-3 .6,3 .5,8.3 1.6,42.1 1.1,20.9 .5,2.9 .6-2.9 1.1-20.6 1.6-41.4 .5-8.2 .6-2.9 .5,2.9 .5,8.3 2.2,53.9 .5,8.3 .6,2.9 .5-3 .5-8.7 2.2-56.4 .5-8.6 .6-3 .5,3 .6,8.8 2.1,56.9 .5,8.7 .6,3.1 .5-3 .6-8.6 2.1-56 .6-8.6 .5-3 .5,2.9 .6,8.5 1.6,42.3 1.1,21.1 .5,2.9 .6-2.9 1-20.5 1.6-41.5 .6-8.2 .5-2.9 .6,2.9 .5,8.4 2.2,54.8 .5,8.4 .5,3 .6-3 .5-8.4 2.2-55.1 .5-8.4 .5-3 .6,2.8 .5,8.2 1.6,40.9 1.1,20.4 .6,2.8 .5-3 1.1-21.3 1.6-43.1 .5-8.5 .6-3.1 .5,3.1 .5,8.9 2.2,57.6 .5,8.8 .6,3.1 .5-3.1 .6-8.7 2.1-57.2 .6-8.7 .5-3.1 .5,3.1 .6,8.8 2.1,57.3 .6,8.8 .5,3.1 .5-3 .6-8.5 2.1-55.1 .6-8.4 .5-3 .6,3.1 .5,8.7 1.6,43.8 1.1,21.8 .5,3.1 .6-3 1-21.3 1.7-42.9 .5-8.5 .5-3 .6,3 .5,8.4 2.2,55.2 .5,8.4 .6,3 .5-3.1 .5-9 2.2-58.2 .5-8.9 .6-3.1 .5,3.1 .5,8.9 2.2,57.8 .5,8.9 .6,3.1 .5-3.1 .6-8.8 2.1-57.6 .6-8.9 .5-3.1 .5,3.1 .6,8.9 2.1,57.6 .6,8.8 .5,3.1 .5-3.1 .6-9 2.1-58.3 .6-9 .5-3.1 .6,3.2 .5,9.1 2.2,59.5 .5,9.1 .5,3.2 .6-3.1 .5-8.9 2.2-58.1 .5-8.9 .5-3.1 .6,2.9 .5,8.3 2.2,54.4 .5,8.3 .6,2.9 .5-3.1 .5-9 1.6-45 1.1-22.3 .6-3.2 .5,3.1 1.1,22.1 1.6,44.4 .5,8.8 .6,3.1 .5-3 .5-8.7 2.1-56.8 .6-8.7 .5-3.1" fill="none" stroke="#B5B5B5" stroke-width="2.65" stroke-linejoin="round" stroke-linecap="round" />
<path d="M812.3,706.7l1.1-.9 1.1,.4 1.1,.8 2.2-3 1.1,.6 1.1-.4 1.1-.9 1.1,1 1.1,.5 1.1-.4 1.1,.9 1.1,.4 1.1-.4 1.1,1.3 1.1,1.9 1.1-.4 1.1,1.8 1.1-.7 1.1-2.4 1-1.4 1.1,0 1.1-.6 2.1-3.7 1,.1 1.1,1.6 1.1,1 1-.9 1.1,.1 1.1,1.8 1,2.7 1.1-1.1 1.1-3.5 2.2,.8 1.1-1.8 2.2,.2 2.2-2.7 1.1,.8 1.1,1.1 1.1-.7 1.1,.8 2.2,1.1 1.2,1.3 1.1-.7 1.1,.3 2.2-1.9 1.1,.7 4.4-4.3 1.1,.4 1.1-1.4 2.5,.3 1.2-.2 1.2,1.6" fill="none" stroke="#B5B5B5" stroke-width="2.65" stroke-linejoin="round" stroke-linecap="round" />
<path d="M899.1,764.1l1.6,7.6 .9,5.6 1-2 1.9-6.8 3.3,30.5 .8-1.7 .8-2.7 .8-1.5 .8-.9 3,16.3 .9,.5 .9,1.4 2.7,6.8 .8,1.3 1.6,5.3" fill="none" stroke="#B5B5B5" stroke-width="2.65" stroke-linejoin="round" stroke-linecap="round" />
<path d="M767.7,793.9l2,27.3 1.9-22.3" fill="none" stroke="#B5B5B5" stroke-width="2.65" stroke-linejoin="round" stroke-linecap="round" />
<path d="M768.6,788.9l2,32.3 2-27.3" fill="none" stroke="#B5B5B5" stroke-width="2.65" stroke-linejoin="round" stroke-linecap="round" />
<path d="M590.3,687.3l1.8-16.1 1.7,16.1" fill="none" stroke="#B5B5B5" stroke-width="2.65" stroke-linejoin="round" stroke-linecap="round" />
<path d="M121.3,761.7l1.3,18 .5-2.8 1.1-19.4 1.6-39.2 .6-7.8 .5-2.7 .5,2.7 .6,7.7 1.6,38.5 1.1,19.1 .5,2.7 .6-2.4 1-16.4 1.6-33.2 .6-6.6 .5-2.3 .6,2.3 .5,6.6 2.2,43 .5,6.6 .5,2.3 .6-2.4 .5-6.8 2.2-44.8 .5-6.9 .5-2.4 .6,2.4 .5,6.7 2.2,43.9 .5,6.8 .6,2.3 .5-2.6 .5-7.5 2.2-49.2 .5-7.5 .6-2.7 .5,2.7 .5,7.7 2.2,50 .5,7.7 .6,2.7 .5-2.7 .6-7.4 2.1-48.3 .6-7.4 .5-2.6 .5,2.6 .6,7.2 2.1,47.5 .6,7.3 .5,2.5 .5-2.8 .6-7.9 2.1-51.7 .6-8 .5-2.7 .6,2.8 .5,8.1 2.2,52.6 .5,8 .5,2.9 .6-2.9 .5-8.1 2.2-52.6 .5-8.1 .5-2.8 .6,2.9 .5,8.3 2.2,54.4 .5,8.4 .6,2.9 .5-2.9 .5-8.4 2.2-54.8 .5-8.4 .6-2.9 .5,3 .5,8.5 2.2,55.6 .5,8.6 .6,3 .5-3.1 .6-8.8 2.1-57 .6-8.7 .5-3.1 .5,3.1 .6,8.6 2.1,56.1 .6,8.6 .5,3.1 .5-3 .6-8.6 2.1-55.9 .6-8.5 .5-3.1 .6,3.1 .5,8.7 2.2,56.7 .5,8.7 .5,3 .6-3 .5-8.8 2.2-57 .5-8.7 .5-3.1 .6,3 .5,8.6 2.2,56.2 .5,8.7 .6,3 .5-3.1 .5-8.6 2.2-56.6 .5-8.7 .6-3 .5,3.1 .5,9 2.2,58.2 .5,8.9 .6,3.1 .5-3.1 .6-8.9 2.1-57.9 .5-8.8 .6-3.2 .5,3.1 .6,8.8 2.1,57.1 .6,8.8 .5,3 .5-3.1 .6-8.8 2.1-57.4 .6-8.8 .5-3.1 .6,3 .5,8.6 2.1,55.7 .6,8.5 .5,3 .6-3 .5-8.5 2.2-55.8 .5-8.5 .5-3 .6,3 .5,8.5 2.2,55.7 .5,8.5 .5,3 .6-3 .5-8.6 2.2-56.2 .5-8.6 .6-3 .5,3 .5,8.6 2.2,56.2 .5,8.6 .6,3 .5-3 .5-8.5 2.2-55.7 .5-8.6 .6-3 .5,3.1 .6,8.6 2.1,56.5 .6,8.7 .5,3 .5-3 .6-8.8 2.1-56.9 .6-8.7 .5-3.1 .5,2.8 .6,8 2.1,52.2 .6,8 .5,2.8 .6-2.6 .5-7.4 2.2-48.3 .5-7.4 .5-2.6 .6,2.8 .5,8 2.2,51.8 .5,8 .5,2.8 .6-2.6 .5-7.1 2.2-46.7 .5-7.2 .6-2.5 .5,2.6 .5,7.5 1.7,37.5 1,18.6 .6,2.6 .5-2.4 1.1-17.5 1.6-35.3 .5-7.1 .6-2.4 .5,2.4 .6,6.8 2.1,44.4 .6,6.8 .5,2.3 .5-2.8 .6-8.2 2.1-53.4 .6-8.2 .5-2.8 .5,2.7 .6,7.6 2.1,50.1 .6,7.7 .5,2.7 .6-2.9 .5-8.2 1.6-41 1.1-20.4 .5-2.9 .6,2.8 1,19.9 1.7,40.2 .5,7.9 .5,2.8 .6-2.7 .5-8 2.2-51.9 .5-7.9 .6-2.8 .5,2.7 .5,7.9 2.2,50.9 .5,7.9 .6,2.7 .5-2.7 .5-7.7 1.7-38.6 1-19.2 .6-2.7 .5,2.7 1.1,19.2 1.6,38.6 .5,7.7 .6,2.7 .5-2.7 .6-7.7 2.1-50.1 .6-7.6 .5-2.7 .5,2.8 .6,7.9 2.1,51.7 .6,7.9 .5,2.8 .6-2.7 .5-7.8 2.1-50.9 .6-7.8 .5-2.8 .6,2.9 .5,8 2.2,52.7 .5,8 .5,2.9 .6-2.8 .5-7.9 2.2-51.4 .5-7.9 .5-2.8 .6,2.7 .5,7.8 1.6,39.1 1.1,19.4 .6,2.8 .5-2.7 1.1-19.2 1.6-38.7 .5-7.7 .6-2.7 .5,2.8 .6,7.7 2.1,50.6 .5,7.7 .6,2.8 .5-2.8 .6-7.8 2.1-51 .6-7.8 .5-2.8 .5,2.8 .6,7.9 2.1,51.3 .6,7.9 .5,2.8 .5-2.8 .6-7.9 2.1-51.4 .6-7.9 .5-2.8 .6,2.8 .5,7.8 2.2,51.2 .5,7.8 .5,2.8 .6-2.7 .5-7.7 2.2-50.2 .5-7.7 .5-2.7 .6,2.7 .5,7.8 2.2,50.8 .5,7.8 .6,2.7 .5-2.7 .5-7.7 1.7-38.8 1-19.3 .6-2.7 .5,2.7 1.1,19.5 1.6,39.2 .5,7.8 .6,2.8 .5-2.7 .6-7.7 2.1-50.1 .6-7.7 .5-2.7 .5,2.8 .6,7.7 2.1,50.6 .6,7.8 .5,2.7 .5-2.7 .6-7.6 1.6-38.3 1.1-19.1 .5-2.6 .6,2.7 1,19.1 1.7,38.7 .5,7.6 .5,2.7 .6-2.6 .5-7.6 2.2-49.2 .5-7.6 .5-2.6 .6,2.7 .5,7.7 2.2,50 .5,7.7 .6,2.7 .5-2.4 .5-6.9 2.2-44.6 .5-6.8 .6-2.4 .5,2.5 .5,7.4 1.7,36.8 1,18.3 .6,2.6 .5-2.6 1.1-18.3 1.6-36.7 .5-7.4 .6-2.5 .5,2.6 .6,7.7 2.1,49.7 .6,7.6 .5,2.7 .5-2.6 .6-7.5 2.1-48.3 .6-7.4 .5-2.6 .6,2.7 .5,7.5 2.1,49.3 .6,7.6 .5,2.6 .6-2.6 .5-7.4 2.2-48.3 .5-7.4 .5-2.6 .6,2.7 .5,7.5 2.2,49.2 .5,7.5 .5,2.7 .6-2.6 .5-7.3 2.2-47.6 .5-7.2 .6-2.6 .5,2.6 .5,7.6 2.2,49.2 .5,7.5 .6,2.7 .5-2.6 .5-7.3 2.2-47.4 .5-7.3 .6-2.5 .5,2.5 .6,7.3 2.1,47.8 .6,7.3 .5,2.5 .5-2.5 .6-7.1 2.1-46.7 .6-7.2 .5-2.5 .5,2.5 .6,7.2 1.6,36 1.1,17.8 .5,2.5 .6-2.4 1-17.7 1.7-35.5 .5-7 .5-2.5 .6,2.5 .5,7.3 1.6,36.7 1.1,18.1 .5,2.6 .6-2.6" fill="none" stroke="#352755" stroke-width="3.6" stroke-linejoin="round" stroke-linecap="round" />
<path d="M518.4,788.9l.3,.3 .3,.8 1.5,6.1 .3,.3 .4-.7 .9-8.9 1.5-23.2 .7-5 .3-.7 .3,.6 .6,4.5 1.5,21 1,8.1 .3,.6 .3-.4 .3-1 2.2-15.6 .6-2.5 .3-.4 .3,.4 .6,2.7 1.6,12.7 .9,4.9 .3,.4 2.5-.5 .3-.8 .7-6 1.6-23 .3-2.4 .3-.8 .4,.8 .3,2.1 1.3,15.7 .7,5.5 .9,1.6 1.3,4.4 .9,1.6 1.1,6 .3,.8 .3,1.8 1.4,24.1 .3,1.8 .4,.3 .7,1.4 .4,.3 2.2,0-.7,1.2 .3-3 .7-14.9 .6-5.6 .8-11.9 .4-2.5 .9-.7 1.9-2.9 .3-.3 1.6-.2 2.5-.9 2.1-.4 3.1-1.8 2.5-.5 3.7-1.7 1.6-.5 1.2,.2 2.2,2.1 .6,.4 .6-.1 1-1.1 1.5-3 .6-.7 .3,0 1,.6 2.1,3.3 .3,.2 .7,0 .6-.5 .6-.9 2.2-4.2 .6-.8 .6-.2 .3,.1 .6,.6 1.9,3.5 .6,.7 .3,0" fill="none" stroke="#352755" stroke-width="3.6" stroke-linejoin="round" stroke-linecap="round" />
<path d="M548.6,806 L549.3,829.6 L553.4,829.6 L554.0,806 Z" fill="#352755" stroke="#352755" stroke-width="3.6" stroke-linejoin="round"/>
<path d="M597,780l.7,.3 .5-.3 1.1-2.2 1.6-4.5 .5-.8 .6-.4 .5,.3 .6,.7 1.6,3.4 1.1,1.7 .5,.3 .5-.4 1.1-2.9 1.6-5.7 .6-1.1 .5-.4 .6,.3 .5,1.2 2.1,7.4 .6,1.1 .5,.4 .6-.5 .5-1.5 2.2-9.7 .5-1.4 .5-.6 .6,.5 .5,1.4 2.2,8.8 .5,1.3 .5,.5 .6-.6 .5-1.8 2.2-11.4 .5-1.7 .6-.6 .5,.5 .5,1.8 2.2,11 .5,1.7 .6,.6 .5-.7 .6-2.1 2.1-13.7 .5-2.1 .6-.7 .5,.7 .6,2.2 2.1,14 .6,2.2 .5,.7 .5-.8 .6-2.5 2.1-15.8 .6-2.4 .5-.8 .5,.8 .6,2.4 2.1,15.9 .6,2.4 .5,.9 .6-1 .5-2.8 2.2-18.1 .5-2.7 .5-1 .6,1 .5,2.9 2.2,19 .5,2.9 .5,1 .6-1.1 .5-3 2.2-19.7 .5-3 .6-1.1 .5,1.1 .5,3.2 2.2,20.5 .5,3.2 .6,1.1 .5-1.1 .5-3 2.2-20 .5-3 .6-1.1 .5,1.1 .6,3.1 1.6,15.6 1.1,7.8 .5,1.1 .5-1 1.1-6.9 1.6-13.9 .6-2.8 .5-1 .5,1 .6,2.9 2.1,18.6 .6,2.8 .5,1 .6-1.1 .5-3.3 2.2-21.3 .5-3.2 .5-1.2 .6,1.1 .5,3.2 1.6,15.7 1.1,7.8 .5,1.1 .6-1.1 1.1-7.4 1.6-15 .5-3 .6-1 .5,1 .5,2.9 2.2,19.1 .5,3 .6,1 .5-1.1 .5-3.3 2.2-21.1 .5-3.2 .6-1.2 .5,1.2 .6,3.3 2.1,21.4 .5,3.3 .6,1.2 .5-1.2 .6-3.3 2.1-21.6 .6-3.4 .5-1.1 .5,1.2 .6,3.4 2.1,22.6 .6,3.4 .5,1.2 .6-1.1 .5-3.3 2.1-21.6 .6-3.3 .5-1.2 .6,1.2 .5,3.1 1.6,16 1.1,7.9 .5,1.1 .6-1.1 1.1-8.3 1.6-16.6 .5-3.3 .5-1.2 .6,1.2 .5,3.2 2.2,21.2 .5,3.3 .6,1.1 .5-1.1 .5-3.3 1.7-16.4 1-8.2 .6-1.1 .5,1.1 1.1,8.3 1.6,16.7 .5,3.3 .6,1.2 .5-1.2 .6-3.4 2.1-21.9 .6-3.4 .5-1.2 .5,1 .6,2.9 2.1,18.4 .6,2.8 .5,1 .5-1 .6-2.8 1.6-14.3 1.1-7.1 .5-1 .6,.8 1,6.1 1.7,12.3 .5,2.5 .5,.8 .6-.9 .5-2.5 2.2-16.8 .5-2.6 .5-.9 .6,1 .5,2.8 2.2,18.6 .5,2.8 .6,1 .5-1 .5-3 2.2-19 .5-2.9 .6-1.1 .5,1.1 .5,2.9 2.2,19 .5,3 .6,1 .5-1.1 .6-3 2.1-19.8 .6-3 .5-1.1 .5,1 .6,2.9 2.1,19 .6,2.9 .5,1 .5-1.1 .6-3.1 2.1-20.2 .6-3.1 .5-1.1 .6,1.1 .5,2.9 2.2,19.3 .5,3 .5,1 .6-1.2 .6-3.5 1.7-15.6 .5-3.5 .6-1.2" fill="none" stroke="#352755" stroke-width="3.6" stroke-linejoin="round" stroke-linecap="round" />
<path d="M799.9,745.3l.3,.5 .3,1.5 1.6,11.4 .3,.5 .9-.5 2.8-4.2 .9-.7 .7,.1 .6,1 .6,2 2.2,9.1 .6,1.6 .6,.5 .3-.2 .7-2 2.2-14.3 .6-2.8 .3-.8 .4-.2 .3,.1 .6,1.1 2.1,8 .6,1.6 .6,.6 .6-.4 .6-1.1 2.2-6.6 .6-1.5 .6-.7 .3-.1 .7,.2 2.1,2.7 1,.5 .3,1.2 1,11.5 .3,3.1 .3,1.1 .4-.6 .3-1.9 1.7-16.3 .3-1.9 .3-.6 .3,.4 .7,3 1.8,16.5 .6,3 .3,.4 .3-.4 .7-3.2 1.8-17.4 .6-3.1 .4-.5 .3,.3 .3,.7 .6,2.9 2.5,18.6 .6,2.8 .3,.8 .3,.2 .3-.4 .6-3.1 1.9-17 .6-3.1 .3-.4 .3,.2 .4,.7 .6,2.6 2.8,18.5 .6,1.8 .3,.2 .3-.4 .9-6.2 1.6-15.8 .6-3.4 .3-.5 .3,.3 .3,.8 .7,3 2.4,19.4 .7,3 .3,.8 .3,.3 .3-.5 .6-3.8 1.9-20.3 .6-3.7 .3-.5 .3,.2 .3,.6 1.7,6.3 .6,1.6 .3,.2 .4,2.9 1,24 .4,2.9 .3,1.3 .8,6.3 .3,1.3 .4-.6 .3-1.5 1.3-8.7 .6-1.1 .3-1.3 1.5-10.1 1-1.2 1.2-3.5 .6-.8 .4-4.3 .7-21.1 .4-4.3 .4-1.5 1-12.9 .4-1.5 1.9,1 .4,1.1 1.2,17 .4,3.1 .6,3.5 .8,11.6 .4,2.4 .3-.4 .6-3.4 2.1-22.7 .6-3.3 .3-.5 .3,.5 .4,1.3 .6,4.8 2.2,24.4 .7,3.3 .3,.5 .3-.4 .3-1.1 .6-4.3 2.5-27.7 .6-4.2 .3-1.1 .3-.4 .4,.4 .6,3.6 2.1,24.2 .6,3.5 .3,.5 .3-.3 .3-.9 .7-3.5 2.2-19.3 .9-4.4 .3-.4 .3,.4 .6,2.6 2.1,19.2 .6,3.8 .3,1 .3,.3 .4-.4 .6-2.9 1.6-12.7 .6-2.9 .3-.4 .6,.2 1.9,1.8 1,.5" fill="none" stroke="#352755" stroke-width="3.6" stroke-linejoin="round" stroke-linecap="round" />
<path d="M112.4,1018.2l1-.1 2-.9 1,0 1,.7 1,.1 2-.5 1,.1 1,.3 2-.2 2-.6 2,.5 2,.1 1-.6 2,.2 1,.4 1-.4 2-.4 1,.9 1-.1 1,.1 1-.4 3,.4 1-.4 1,.3 1-.3 1,.4 1-.2 1,.4 1-.2 2-.9 1,0 1,.6 1,.2 4,0 1-.2 2,0 2,.5 1-.1 1,.4 2-.1 1-.8 1-.3 1,.2 1-.5 1,.2 1-.3 1,.7 2,.2 1-.2 3,.7 1-.1 3,.8 2-.1 1-.5 3-.2 1-.3 1,0 3,1.3 2-.3 1-.6 2-.2 1,.5 2,0 1-.2 2,.8 2-.6 2,.4 2,0 1-.4 2,0 1,.4 1-.2 1-.6 1,.2 1-.5 1,.5 1-.3 3,.7 3-.3 2,.8 2-.2 2-.5 2,1.2 1,.3 1-.1 2-1 1,.5 1-.1 1,.6 2,.8 1-.7 2-.5 2,.3 1,.5 2,.3 2-1.6 2,.1 1,.8 1,.2 2-.3 1-.6 2,.9 1-.4 2-.1 1,.7 1-.7 1,.4 1-.1 1,.6 1-.7 1,.1 1-.4 1,.1 1-.3 2-.1 2,.3 1,.5 3-1.1 2,.1 5,1.2 2-.2 1-.5 1-.3 1,.1 1,.3 1,.6 1-.3 1-.1 1-.6 1-.2 1,.1 1,.3 2,.9 2-1 3-.6 1,.4 1,.7 4-1 1,.7 1-.5 1,.3 1-.7 1,.2 1,.5 1-.2 7,.4 3-.7 1,.1 1-.2 1-.2 1-.6 1,.5 1-.1 1,.7 1-.3 1,.4 1-.3 3-.2 2,.1 1-.3 2,.3 1,.4 1-.2 1-.6 1-.3 1,.2 1-.5 1,.1 1-.5 1,.8 1,0 1,.3 2-.5 2-.2 2-.5 2,.3 1,.5 1,.1 3-.1 2-.6 1,0 1,.5 1-.2 1-.8 1,.1 1,.4 1,.8 1-.2 2-.9 1-.6 3,.9 1-.7 1-.4 1-.2 1,.2 1-.5 1,.2 2,.9 1,.1 1-.4 2,0 1-.3 4,.4 1-.3 1,.2 1-.2 1,.4 4-.7 2,.2 2,.7 1,.1 1-.2 1-.6 1-.1 1,0 1,.3 2-.1 1,.2 1-.2 3,.4 2-.6 1,.1 2,.6 2,.2 1-.5 2-.1 1,0 1,.3 1-.1 1,.1 1-.5 2-.2 1,.1 1-.3 1,.2 1,.5 1,0 1,.4 1-.4 1,.6 1-.6 1,.5 1-.5 1,.2 2-.1 2-1 2,.4 2-.5 2,1 1,0 2-.9 1,.6 1-.2 1,.4 1-.3 1,0 1-.5 1-.2 1,.7 2,0 1-.5 1,.2 1-.1 1-.5 1-.1 2,.6 1-.4 1,.1 1-.6 1,.3 1-.3 1,.7 1-.4 1,.8 1-.4 1,.2 1-1.3 2,0 1,.2 1-.6 1-.2 2,1.3 2-.4 1-.7 1,.6 1-.3 1,.6 1-.5 2,0 1-.2 1,.4 2-.4 1-.5 3,.3 1-.7 3,.9 1-.1 1-1 2-.5 1,.8 4-.3 1-.5 6,.4 1-.7 1,0 1,0 1,.7 1,.2 3-.3 1-.2 1-.7 4,1 1-.6 2-.1 1,.4 1-.5 1-.2 2,.3 1,0 2-.7 1,.1 1-.5 1,0 1-.2 1-.6 3-.6 1,.5 1,.1 1-.7 2-.5 1,.7 2-.3 2,.4 1-.1 1,.5 1,0 1,.8 1-.7 1,0 1-.6 1,.7 1-.4 1,.9 1-.2 1,.1 1-.4 1,.6 2-.8 2,0 1-.9 1,.2 1-.1 1,.4 4-.9 3,1.5 1-.4 3-.1 1-.8 1,.2 1,.9 1,.5 2-.7 1-.1 3,.2 3,.6 4-.2 1,.3 1-.3 1,.3 1-.1 2,.2 1-.7 1,.1 1-.3 1,.6 1,.1 2-.1 2,.2 2-.4 3,.5 1-.2 1,.2 1-.3 2,.4 1-.2 2,1.2 2-.2 1-1 1,.5 1-.1 1,.9 1-.7 1,.2 1-.5 1,.4 1,0 1,.6 1-.2 1-.7 3,.2 3-1.1 1,.1 3,1.4 3-.4 1,.1 2-.4 1,.8 2,.8 1-.7 1,.2 1-.5 1,.2 1-.3 1,.2 2-.2 2,1.3 2-.7 1-.2 2,0 1,.3 2,.2 1-.7 2,.1 1,.9 1-.7 2,.1 4,1.1 1,.1 5,0 1-.7 1,.2 1,.6 1,.2 1-.2 1,.2 3-.5 2,1 1-.6 1-.1 2,.8 1-1 2,.2 1,.4 1-.8 2,.3 1,.5 1-.3 2,.1 1,.7 1-.6 2,0 1,.8 1-.1 2-.6 2,.1 3-.5 1,.7 2,.7 1-.6 1,.3 1,0 1-.4 2,.4 1,.4 1-.3 2,.1 2,.4 1,0 1-.1 1-.6 1,.9 1,0 1,.5 1-.5 2,0 2-.7 2-.1 2,.7 1,.1 1,.5 2-.5 2-.1 1,.2 2-.3 1,.3 1-.2 3,1 2-.5 1,.5 1-.4 1,.3 1-1 2,1.2 3-1.1 1,1 1-.3 1,.4 1-.6 1,0 1-.6 4,0 2-.3 1-.6 2,.5 1,.6 1,.2 2-.1 2,.5 1-.5 2,0 1,.5 1-.3 2-.8 1-.9 1,.3 1,0 1,.3 1-.1 3,.7 3-.8 1-.6 2-.5 1,.1 1-.5 4,.2 1,.5 2,.4 1-.5 1,.1 1-.7 1,.5 1,.2 1,.6 1-.2 1,.5 3-1.1 1,.3 3,.5 1-.4 1-.1 1-.5 2,.4 1,.5 1-.6 1-.1 1-.8 1,1 1-.1 1,.3 1-.6 2,.4 3-.5 2,.6 2-.5 1,0" fill="none" stroke="#B5B5B5" stroke-width="2.65" stroke-linejoin="round" stroke-linecap="round" />
<path d="M121.5,1021.4l1,.2 2,0 2-.9 1-.7 1-.1 3,.4 1,0 1,.3 1-.1 2-.6 2,0 1,.5 5-.8 2,.3 1,1 1,.3 2-.9 2,.2 1-.3 2,.9 1,.1 1-.1 1,.4 2,.2 1-.3 1-.8 2,.5 1,.7 1-.2 1,.5 1-.7 1-.3 1-.7 1,.1 1,.6 2,.1 1-.4 1,.2 1-.1 1,.5 2,.2 1-.8 1-.2 1,.1 1,.8 1-.4 1,0 1-.6 4,.7 2-.5 1-.5 2-.5 2,.8 1,.2 1-.6 1,.2 1-.1 1,.2 1-.2 1,.3 4-.8 1,.2 2-.3 1,.1 2-.5 1-.5 1,.2 1,.8 1,.5 2-.6 2,.6 1-.4 5,.1 3-.2 1,.3 1,.7 2-.3 1-.6 1,.1 1-.2 1-.6 1,.1 1-.2 1,.6 1-.6 1-.2 1,0 3,1.3 2-.2 1,.4 1-.2 2,.3 1-.4 2-.1 2,.3 1,.3 1,0 1-1 1-.7 2,1.3 1,.2 3-.3 3-.6 2-.1 1-.5 1,.5 1,.1 1,.4 1-.6 1-.1 3,.5 1-.4 1,.3 1-.2 1,.4 3,.2 1-.7 1-.2 1-.8 3,1 1-.1 1-.5 1,0 2,.2 1,.4 2-.1 1,.4 3-.2 1-.4 1,.1 3,1 1-.3 1,.5 2-.4 1-.5 1,.7 1,0 1,.1 1-.3 2,.2 1-.6 2-.3 2,.4 2,.6 1-.3 1-.1 1,.6 1-.3 3,.2 1-.5 1-.1 1,.2 1,.7 1-.3 1,.1 1-.3 1,.3 2-.2 1,.4 2-.4 1-.5 1,.3 1-.4 1,.2 1-.5 1,0 1,.4 1,.7 3-.8 1,.6 2,0 1-.5 1,.4 1-.4 2,.2 1,.4 1-.2 2,.4 2,.2 1-1.3 2,.4 1,1 2-.3 1,.3 2-.6 1-.6 1,.3 3-.7 1,.3 3-.6 1,0 1,.6 1,1 1-.4 2-1.2 2,.2 1-.3 2,.4 1,.4 1-.5 1,.3 3-1 3-.2 3,.6 2,.1 2,.5 2,0 1-.9 1,0 2,.4 2,.3 1-.3 1,.6 1-.4 1,.3 1-.7 1,.5 1-.3 1,.1 1-.3 2,.5 1-.1 1,.2 2-.6 4,.4 1,.5 1-.1 5,.5 2-1.1 1,.1 1,.6 1-.1 2-.9 2,1.2 1,.2 1-.4 1-.1 2,.6 2-.3 2,.3 1-.2 1-.6 1-.1 1,.8 1,.3 1-.1 1-.6 3-1 1,.3 3-.8 2,1.1 3-1.1 2,0 3,.7 2-.4 2,.5 2-.8 2-.5 2-.2 1,.7 3-.1 3-1.4 5,1.1 1,0 1-.7 1,.2 3-.7 2,.5 1-.2 1-.6 2-.2 1,.7 1,.2 1,.6 1,.1 3-.8 1,.3 1-.1 2-.8 1,.6 1,.3 1,.9 1-.4 1,.1 1-.9 1-.2 1,.3 2-.4 2-1.1 3-.1 2,.3 1,.6 2,.1 1-.1 1-.8 3,0 1-.3 1-.5 1,.3 1-.1 1,.3 2-.2 1-.6 1,.1 1-.6 1-.2 1,.1 1,.8 1-.1 2-1 1-.3 1,.3 3-.4 2,.1 1,.7 2,.6 1-.9 1-.4 2,.4 1,.5 2,.2 2-.9 1,.6 1,.1 1,.7 1-.6 1,.6 1-.6 1-.1 1-.4 1,.6 2-.3 1-.8 1-.4 1,.2 1,.4 1,.1 2,1.1 1-.4 1-.1 1,.3 1,.1 2-1.2 2,.2 1-.4 1,.4 2,.2 2-1.4 1,.1 1,.5 1-.1 1,.3 1,.6 1,.2 1-.2 1,.5 1,.1 1,.5 1-.4 1,.3 2-1 1-.8 2,1.3 2-.5 1,.1 2,.8 2-.3 1,.2 1,.5 1,0 2-.8 1,0 1,.5 1-.1 1,.8 1-.1 1,.4 2,.2 1-.2 1,.2 1-.4 1,.7 1-.5 1,.4 1-.2 1,.5 1,.1 2-.8 1-.1 2,.7 2-.2 1,.1 3-.5 3,.2 1-.7 1-.1 3,.7 1-.5 1,.5 1-.7 1,.4 1-.2 1,.5 1-.1 1,.1 3-.4 4,.2 2-.1 2,.6 1-.1 1-.7 1,.3 2-.4 2,.8 1-.3 2,0 1,.4 1-.7 1,.3 2,.2 2-.6 2,.6 3-.1 3,.8 1-.4 2,.7 1-.3 2,.1 1-.5 1-.2 2,1 1,0 1-.8 1-.4 3,2 2-1.7 1-.6 1,.1 1,.5 1-.1 1,.6 1-.1 1,.2 1-.1 2,.5 4-1.1 2,.9 1,1.1 1,.7 3-.6 4,1.1 1,.4 1,.2 1-.3 1-.1 1-.7 1,.7 1-.2 1,.7 2-.2 1-.7 1,.8 1-.1 1,.4 1-.1 3,.6 1-.9 3-.7 1,.5 1,.1 1,.4 1-.9 1,.4 1,0 1,.3 2-.7 2-.3 1,.4 1-.2 1-.6 1,.1 1-.3 1,1.2 1,.2 1-.3 1,.1 1,.6 1,0 1-.3 1-.6 1,.1 1-.3 1-.7 1-.4 2,1.2 1,.3 2,0 1,.7 1,.1 1-.7 1-.3 1-.6 1,.5 1-.1 1,.1 2-1 1,0 2,1 1-.1 3-1.7 2-.5 1,.1 1,.7 1,.3 5-.7 2-.4 2-.1 1,.4 2-.2 1,.2 1-.4 1,.4 1,.1 3-.7 2,.3 1-.5 2-.4 1,.5 1,.1 1-.5 4,.2 2-.1 1,.4 1,.1 1,.7 2-.6 3,.4 1-.5 1-.1 3,.4 2-.1 1,.5 1-.2 1,.8 1-.2 2-1.1 5-.5" fill="none" stroke="#B5B5B5" stroke-width="2.65" stroke-linejoin="round" stroke-linecap="round" />
<path d="M112.4,1022.3l2-.2 2-.6 1,.3 1,.6 3,.7 1,.5 1-.2 1-.7 2-.3 1,.4 1-.1 1,.8 2-.1 1-.8 1-.3 2,0 1,.3 1-.7 2,.7 1,1 1-.2 1-.5 3-.7 2-.1 2,.3 1-.5 1-.1 1-.5 1-.1 1,.4 3-.6 1,.8 2,.3 1-.4 1,.5 1-.7 3,.5 2-.2 2,.7 3-1.2 1,0 1-.3 2,.2 2,.7 1,.7 1-.7 2-.7 1,.5 1,0 1,.5 3-.7 3,1.1 1-.2 2,.6 2,.2 1-.8 2-.3 2,.8 2,.3 1-.1 1,.1 3-.5 2,.1 1-.6 2,.1 1,.6 2-.2 2,.1 1,.2 2-.2 1-.6 1-.2 2,.2 1,.5 1-.1 4,.6 1-.5 1-.1 1,.4 1-.1 1,.5 1-.2 1,.4 1-.2 3,.8 1-.2 1,.2 1-.7 1,.4 1-.6 2,.5 1-.6 2,0 1,.3 2-.3 2-.1 1,.4 3-.6 2,.3 3,.8 1-.1 1,.3 1-.5 1,.2 1-.2 1,.2 1-.3 2-.2 2,.7 1-.3 2,0 1-.3 3,.5 1-.6 3,0 2-.4 2,.2 1,.3 3-.6 2,.2 1-.1 1,.3 1-.1 1,.2 1-.7 1,.1 1-.3 3,.7 1-.4 1,0 1-.4 1,.7 3,.1 2,.3 2-.2 3,.6 3-.6 3-.2 2-1 1,0 2,.9 1,0 3-.5 2,0 5-.9 2,.6 1,.1 2-.2 1,.5 1-.3 1,.1 2-.2 1,.2 3-1.3 1-.1 1,.6 1,.2 1-.2 1-.8 2-.4 3,1.8 2-.7 3-.1 1-.3 2,.6 1,.1 1-.1 1-.7 1-.3 2,.9 2-.2 1,.4 2-.2 1-.7 3,0 1-.4 2,1.1 1-.1 1,.6 1-.4 1,.5 2-.3 4,.5 1-.5 2-.2 1,.2 1-.2 1,.3 1,0 3,.6 2-.1 1-.7 1,.5 1-1 1,.2 1-.5 1,.6 2-.6 2,.5 1,.7 1,.4 1,.8 1,0 1-.3 1-.7 1,.7 1,.1 1,.4 2-.5 1-.5 1,0 1-.3 3-.1 1,.8 1-.4 4,.9 1-.7 1,.3 1-.3 1,.5 1-.6 1,.3 4-.5 1,.6 2,.1 2,.5 1-.2 1-.5 1-.2 1,.4 1-.5 1,.4 1-.5 1,.1 1-.5 3,.5 2-1 1-.2 1,.4 2-.3 1,.3 2-.3 1-1 1,.1 1-.2 1,.8 2-.2 3-1.5 1-.1 2,.2 3-.2 2,.6 1-.2 1,.3 1-.4 1,.1 1-.1 1-.6 2-.1 1,.6 2,.2 2-.9 1,0 1-.3 2,.1 2,.9 1,.1 2-.6 2,0 1,.6 2-.3 1-.5 2-.2 3,0 1,.7 1,0 1-.1 1-1 2-1 1,.1 3,1.7 3-1.3 2,1.3 1,.3 2-.4 2-.1 3,1 3-.3 1-.3 1,0 1-.3 1,.3 1-.5 1,0 2,.5 1-.3 1,.3 1,.7 1,.2 1-.1 2-1.4 2,.9 1,0 2-.4 1,.6 1-.1 2,.8 2-1.1 1-.3 1,.3 2,.3 1-.5 2,0 1,.8 1,.3 1-.3 1,.1 2-.6 1,.2 1-.1 1-.5 2-.5 1,.1 1,.5 1-.2 2,.3 2-.4 2,.1 1-.3 1,.1 1-.2 1,.2 1-.4 2,.2 1,.7 1-.1 1-.8 1-1.3 1,.2 2,1.3 3-.4 1,.3 1-.1 1,.8 1-.1 3-1.5 2,1.4 1,0 1-.6 2-.2 1,.2 1-.2 1,.4 1-.3 1-.5 1-.1 2,.2 1,.7 2,.6 1-.5 2-.1 1-.6 1,.4 1-.8 1,.5 1,.3 2-.5 3,.3 3-.8 1-.1 1,.5 3-.8 2,.1 2,.6 2-.2 2,.3 1-.3 2,0 2-.7 1,.2 1-.1 1,.6 1-.1 1,.1 2,.6 1-.4 1,0 1-.4 3,.1 1-.3 2,.1 1,.3 1,0 1,.2 2,.8 1-.7 2,0 2,.2 1-.1 3,.1 1-.3 1,.8 2,1 1-.7 2,.4 1,.6 2-.3 1-.6 2,.1 1,.3 2-.2 1,.1 1-.2 1,.2 2-.1 2-.8 1,0 1,.4 1,.9 1,.1 3,.1 1,.1 1-.4 2,0 1,.3 1,.7 2,.5 1,.6 1,.1 1,.5 1-.7 1-.1 1-1 1,0 1,.9 1,.1 1,.5 3,.5 1-.6 1,.4 1-.4 4,1.5 1-.6 1,.4 1-.5 1,.5 1,.1 1,.7 3-1.4 1,.2 1,0 2-1 3,.7 2,.9 1,0 1-1 1,.6 2,.1 1-.4 2,0 2,1.2 1,.1 1-.8 1-1.1 1-.2 1,.4 2,.2 2-1.4 2-.3 1,.1 1-.5 1-.3 2,.1 3,1.4 1-.3 2,.7 1-.3 1,.7 1-.5 1,0 1-.7 2,.4 2-.6 1,.1 1,.5 3-.2 1,.2 1-.7 1-.2 2-1.2 3,.3 2,.8 2-.1 1-.4 1,.1 1-.2 3,.5 3-.6 1,.2 1-.1 2-.5 1-.5 1,.2 1-.3 1,.6 2-.6 1,.1 1,.6 1,.2 3-.8 1-.5 1,.3 1,0 1,.4 1-.4 2,0 1,.6 5-.4 6,.3 1,.4 1-.2 2,.5 1-.1 3,1.2 1,0 1-.6 1-.1 2,.9 2,.5 1-.4 1-.9 1-.3 1,.1 3,1.5 1-.4 1,0 1-.5" fill="none" stroke="#B5B5B5" stroke-width="2.65" stroke-linejoin="round" stroke-linecap="round" />
<path d="M121.5,1025.4l2,.3 1-.2 1,0 1-.8 2-.8 1,.7 2,.2 2-.2 1,.3 2-.2 2,.4 1,.5 1-.5 2-.3 2,.2 1-.3 1,.4 1-.8 1,.6 1-.1 1,.7 1,0 2-.5 1-.7 6,.9 2-.2 1-.3 1,.2 1-.4 2,.6 1,.7 1-.1 2-1 1,.2 2,.9 1,.1 3-.5 3,1.1 1-.7 1-.2 1,.1 1,.6 2-.4 1-.4 1,.5 1-.1 2,.5 3-.5 1,.6 1-.5 1,0 1-.5 1,.3 1-.5 2-.2 6,.6 5-.3 2,.3 1-.6 1-.1 1,.1 1,.5 1-.1 2-.5 2,.3 1,.7 1,.2 1-.6 1,0 1,.2 3-1.3 1,.5 2-.4 1,.4 2,0 2,.7 2-.3 2-1.2 2,0 1,.8 2,.3 1-.7 2-.7 1,.4 1,0 1,.7 1,.4 1-.3 1-.7 1-.3 2,.1 1-.3 2,.4 1,.7 1-.3 1-.1 2-.8 1-.2 2,0 1-.5 2,.3 1,.7 1-.5 1,.5 1-.2 1,.4 1-.9 1,.4 1-.4 1,.1 1-.2 2,.5 2,.2 1,.7 1-.5 2-.6 3,.5 1,.4 1-.1 1,.6 2-.2 1-.8 1-.2 2,.9 1,.2 1-.1 2-.8 2,1 1-.1 1-.6 2-.6 1,0 1,.2 2,1.1 1-.1 2-.8 2,.7 2-.2 1-.3 2-.1 2,1.1 1,.2 1-.7 1-.1 2,.7 2-.7 4,.2 2-.2 1-.5 1-.1 2,.5 1-.1 1-.3 1,.3 1-.2 1,.6 1-.3 1,.5 2,.2 2-1.5 1,0 3,1.9 1,.4 3-.8 1,.4 2-.9 1-.2 2,.8 4-.8 2,.2 1-.3 1,.1 2,.8 1-.3 1-.6 2-.4 1,.4 1-.3 1,.8 1,.3 2-.8 1,.6 1-.1 1-.5 1,0 1,.6 1,0 1-.4 3-.2 1,.2 1,.6 1,.3 1-.6 3-.7 1,.2 1-.2 1,.3 2-.5 1,.1 1-.3 1,.5 1-.8 1,.8 1,0 1,.4 6-.4 2-.8 2-.2 2,.3 1,.8 1-.2 1,.5 1-.4 4,.4 1-.4 1-.6 1,.4 1,.1 1,.3 1-.3 1-.9 2-.5 3,.6 1,0 1-.9 2,.5 1,.5 1-.2 1-.4 2-.2 1,.6 1,.3 1-.3 1-.5 2,0 1,.5 1-.3 1,.1 1-.2 1-.6 1-.1 1,0 2,.9 1-.3 1,.1 1-.6 2,0 3,.2 1,.6 1-.2 1,.3 1-.7 1,.6 1-.7 1,0 1-.4 1,.8 2-.2 3,.9 2-.9 1-.1 1-.4 2-.2 1,.5 4-.1 1-.1 2-.9 2,.8 1,.1 1-.3 3,.4 2-.5 1,.4 2,.1 1-.2 2,.5 1-.3 1-.7 1-.2 1,0 1,.6 3-.8 3,.4 1-.3 2,.4 1,.3 3-.2 1,.7 3,.1 2-.2 1-.6 1-.3 1,.5 1,.9 1,.3 1,0 1-.8 2,.3 1,.5 3-.3 1,.4 1-.3 1,.3 1-.1 1,.3 1-.1 1-.8 1-.5 1-.2 4,.6 1,0 2,.5 1,.1 2-.9 2-.1 2,.6 1-.8 1,.1 1,.1 1,.6 1-.3 2-.1 3-.7 3,1.4 2,.5 1-.6 1,.3 1-.6 1,.4 1-.7 1-.1 1,.5 1-.2 1,.4 1,0 2-.5 1,0 2,.7 1,0 1,.4 4-.2 2-.5 1-.4 3,1.2 3-1 3,.8 1-.3 1-1.2 2-.4 1,.7 3,1.2 1-.1 2-1.4 1-.1 1,.7 1-.1 2-.8 1,.6 1,.2 1-.3 1-.8 1,.4 1-.1 1,.2 2-.9 1,.5 1,.9 1,.5 1-.1 2-1.5 2,.4 1,.5 2,.2 1-.1 1,.4 1-.3 1,.1 1-.5 1,.1 1,.7 2,.5 1,.8 1-.2 1,.1 1-1.3 1,.5 1-.1 1,.9 1-.7 3-.4 2-1 2,.5 2,.8 2,.5 1-.7 1-.3 1,.1 1,.8 3-1 1,.6 1,.1 1,.4 3-.6 2,1.1 1-.3 1-.7 1-.1 1,1 1,.2 2-1 1-.3 1,.1 2-.7 1,.6 1,.2 2-.4 1,.1 2-.7 2,.8 1,0 2,.8 3-1.3 1,.7 1,.3 2,.2 1,.1 2-.7 1,.2 2,1.5 3-.5 1-.5 2,.3 1,.7 1,.4 1-.1 2,.2 1-.1 1-.4 2,.6 1,0 1-.4 1,.2 2,1.3 1-.5 1,.2 2-.3 1,.3 1-.5 1,.1 1-.6 1,.2 1-.1 1-.4 2,.3 1,.5 1,0 2-.7 1,.3 1-.3 1,.7 1-.4 1,0 1-.7 2,.2 1,.3 5-1.4 1-.5 1-.1 1-.5 4,0 1,.3 1,.6 2,.3 1-.4 1,.3 1-.2 2,.1 1-.1 1-.7 1,.2 1-.3 1,.1 1-.3 2,.7 1-.4 3,0 1-.2 1-.4 1-.1 3,.9 2,.9 1-.3 1-.7 1-.4 1,0 1,.6 1-.3 1,.4 1-.5 2-.6 1,.6 1-.2 2-.8 2,1.5 2-.9 2,.1 1-.1 2-.8 1,.5 1-.2 2,.1 2,.3 1-.4 1,.6 1-.7 1-.1 1-.5 2,.4 2-.2 1,.7 4-1.2 2,.3 1,.9 3-.2 1,.2 1,.9 2,.9 1-.8 2-.5 1,.5 1-.4 2,0 1,.4 1-.3 1,.2 3-.4 1,.1 1,.8 1,.3 1-.1 1,.1 1,.9 2,.1 1-.4 2,.6 1,0 1,.4 1-.5 1-.2 1-.5 1,.1" fill="none" stroke="#B5B5B5" stroke-width="2.65" stroke-linejoin="round" stroke-linecap="round" />
<path d="M112.4,1027l1,.3 1-.1 1-.7 1-.3 2,1 1,.2 3-1.1 1,0 2,.6 2,.1 3-.1 2-.6 3,0 2,.5 4-.8 2-.9 1,.4 1-.2 1,.3 1-.4 1,.3 1-.4 3,1.2 1-.1 1-.6 1-.2 1,.9 1,0 1-.3 1-.6 2,.5 1,0 1,.5 2,.5 1-.2 1,.6 2-.4 2,0 1,.4 1-.2 1,.2 1-.4 1-.1 2,.6 2,.1 3-.2 1-.3 1,.1 1-.2 1,.6 2,.2 2-1.3 3,1.2 2,.5 1,.2 1-.4 1,.2 1-.1 1,.5 2,.5 1-.9 1,.6 1-.7 1,.4 1-.6 2,.4 1-.6 1-.1 1-.6 2,0 2-.3 2,0 3,.4 2,.1 2,.9 1,0 3-1.2 1-.1 2,.6 1-.3 1,0 1,.4 1,0 2-.7 4,.8 1,.7 1-.6 1,.1 1-.4 1,.2 1-.5 1,0 1-.3 1,.2 2,1.4 3-1.9 2-.2 1,.1 1,.5 2-.7 1,0 1,.6 1-.5 1-.2 1-.7 1,.3 2-.4 1,.1 1,.3 1,.1 2-.3 2,0 2,.5 2-.5 2,.3 1-.1 1-.5 1,.4 2,.2 2-1.1 2-.2 2,1.2 1,.8 1,.1 2-.8 1,.2 1-.1 3,.5 1-.7 3,1.5 4-.7 1,.5 1,.1 1,.5 1-.3 1-.5 1,.3 1-.5 2,0 1,.2 1-.1 1-.6 3,1.5 1-.6 2-.4 1,.6 2,.8 2-.1 1,.2 2-.5 1-.6 3,.3 2-.1 1,.3 2-.6 2,.4 1,.8 1-.1 1,.3 3-.8 1-.1 3,.9 1,0 1,.4 2-.3 1,.2 1-.3 1,.3 1-.5 1,.1 1-.4 1,.2 1-.1 2,.3 1-.2 2,.2 1,.3 1-.2 1-.9 1-.4 1,.6 2,.9 2-.2 1,.5 1,.1 1,.7 1-.9 2-.3 1,.1 2-1.1 1,.5 1,.2 1,0 2-.8 1,.3 2-.1 2,.4 2-.4 1,.2 2-.2 1-.4 1,.4 3-.8 1,.1 1,.4 3-.5 1,.1 1,.6 1-.2 1,.6 2,0 2-.4 1,.3 1-.2 2,.2 2,.5 2-.7 1-.1 1,.6 3-.4 2,.4 1-.3 1,.1 1-.2 1,.1 1-.3 1,.3 1,.1 3-.4 2,.2 2-.4 3,.8 1-.1 1,.1 1-.5 1,.2 1-.3 1,.3 1-.1 1,.5 1-.2 1,.3 1-.3 1,.4 1,0 1-.4 4-.4 1-.5 1,.2 1-.1 1,.5 1-.5 2-.4 2,.6 1,0 1,.6 1-.2 1,.1 2-.7 2,0 1-.4 2-.1 1,.5 1-.5 2-.3 1,.4 2-.1 1,.3 2,.2 1-.4 3-.3 1,.1 1-.4 3-.5 2,.9 1,.1 2-.6 2-.2 1,.6 2-1 1-.7 2,.7 1,.7 3-.7 1,.6 1-.1 1,.2 1-.7 1,.2 2-.5 1,.2 4-1 2,1.1 2,.7 3-1.5 1,.5 2,.2 1-1 1-.1 1-.5 4,.5 2-.4 1,.1 1,.8 2,.2 1-.4 2,.9 1-.3 1,.1 1-.3 1,.2 4-.5 2,.3 1,.9 1-.4 1,0 1,.2 1,0 1,.5 1,.1 1,.5 2-1.2 1-.3 1,.4 1,.1 1,.3 4-.9 3,1 2-.8 1,0 1-.1 1,.2 1-.7 2,.3 1-.5 1,.1 1,.5 1-.2 1,.7 1,.1 1,.3 1-.7 1,0 4-1 1,.7 2,.2 1-.3 1,.3 2,.2 2-.5 1-.9 1,0 2,.6 1,.1 1-.5 1,.1 1-.6 1-.1 1,.5 1,0 1,.6 3-.9 4,1.4 2,.5 2-.1 2-1.3 1,0 1,.6 1,.1 2-1.2 2,.2 1-.2 1,.1 1-.4 1,.5 1-.4 1,.4 1-.3 2-.1 1,.7 1-.2 1,.6 1-.8 1,.1 1-.5 1,.5 1-.2 3,.9 3-.9 1,.5 1-.3 1,.7 1-.5 1,0 1-.7 1-.1 1,.4 1,.2 1,.6 1-.5 2,.1 1,.4 2-.4 1,.4 1-.7 2,.1 1,1.1 1-.1 1,.2 1-.2 1,.2 3-.7 2,.5 2-.1 2,.2 3-.3 1,.1 2,1.1 1-.5 2-.2 1,.2 1-.6 1-.2 3,.6 4-.6 2,.2 1-.6 1-.1 1-.5 1,.3 3,1.5 1-.3 1-.8 1,.2 1-.1 1,.9 1-.2 1,0 2-1.3 1,.2 1,.6 1,.2 1,.7 1-.2 3,1.6 2,0 1-.6 2,.1 1,.3 1-.2 1,.2 5,.3 2-.5 3,1 2-.6 1,0 1,.5 1-.2 1,.5 1-.4 2-.5 1,.6 1,0 1-.5 1,.8 1-.1 1,.4 1-.7 2-.3 3,2.2 2,0 2-.9 1-.1 1-.4 1,.5 2-.5 1,.1 1-.3 3,.7 1,.5 1-.5 1,.4 1-.4 1,.2 1-.6 1-.1 2,.2 1-.3 1-.7 1,.8 1,.4 2,.4 1,.9 1-.1 1-.4 1-.7 1,.3 1-.5 2-.3 1,.1 2,.9 1,0 2-.6 4,.5 1,.6 1,.1 1-1 1-.3 2,.6 2-.3 2,.4 5-1.7 1,.6 1,.1 1,.5 2,0 2,.5 2-.5 1-.7 2,.5 1,0 2-.9 1,.4 1-.4 1,.3 1-.9 2,.5 2-1.1 1-.1 1,.3 1-.1 2,.3 1,.4 2-1 3,.5 2-.1 1,.3 2-.5 2,.5 1-.2 1-.7 2,1 1,.7 1-.5 1,.4 2-.5 1-.5 2-.1 1,.2 1-.1 1,.3" fill="none" stroke="#B5B5B5" stroke-width="2.65" stroke-linejoin="round" stroke-linecap="round" />
<path d="M121.5,1028.6l1-.3 1,.1 3,.9 3-.6 1,.6 2,.3 2-.5 3-.3 1,.2 1,.4 2,.2 4,1 1-.3 2-.4 3,.2 1,.3 7-.9 1,.4 2,.5 2-.2 1,.8 2,.9 1-.1 1,.4 1-.5 1,0 1-.3 1,.7 1,.1 1-.2 1-.5 2-.4 1,.5 1-.5 1,.4 1-.4 1,.5 1-.1 1-.6 1,.1 1-.3 3,.1 1,.6 1,.1 3-.7 1,.2 4-.2 1-.6 1,.2 1-.4 2-.5 1,.1 1,.3 1-.3 1,.5 1-.1 1,.2 1-.4 1,0 1,.7 1,.2 1-.2 1-.5 1-.2 1,.1 1-.4 3,.2 1,.4 1-.4 2-.3 3,.5 1-.1 1-.7 2-.8 1,0 1,1 1,.1 1,.6 2-1.1 2-.7 1,.5 2-.1 1,.2 1-.2 2,.1 1,.6 1-.2 2-1.7 2,1.2 1-.2 1-.6 1,.2 2,0 1-.2 1,.5 1-.1 1,.8 1-.2 1,.2 1-.9 2-.2 1,.6 3-.5 1-.1 2,.5 1,.1 1,0 1-.5 2,.9 2,.2 1-.4 1,.1 2-.6 3,1.1 1-.2 1-.6 1,.4 1-.1 2,.2 2-.6 1,.2 1,.6 1,.2 2-.3 1-.4 2,.7 2,.3 1-.4 1,.7 1-.1 1,.4 1-1 1-.3 1-.6 1,.3 1,.6 1,.1 1,.4 1-.6 2-.3 2,.4 4,.1 1,.2 2-.8 1,0 1,.5 2,.6 1-.2 1-.5 2-.1 1,.6 1-.3 1,0 3-.7 1,.1 1,.5 2-.1 1-.3 1,.2 1-.4 1,.3 1-.1 1,.6 1,.1 2-.5 1,.1 1-.4 1,.3 1-.7 2-.1 2,1.2 1,.2 3-.7 2,0 3-1.1 2,.3 1,.6 1-.3 2-.1 2,.3 3-1.1 1-.2 1,.3 1-.1 3,.7 1-.3 1,.3 1-.3 1,.4 1-.5 1,.5 3-.1 1,.4 1,0 3-1.3 1,.3 1-.1 1,.6 2-.2 1,.2 3-.1 3,.4 2,.6 1,0 1-.5 1,.2 1,0 2-.7 2-.1 2-.7 3,.5 1,.8 2,.1 1-.5 1-.1 2,.7 2-1.3 1-.2 1,1.1 2,.5 1-.4 1,0 1-.2 3,.4 1-.2 2,.4 2-.2 1,.3 3-.8 2,0 1-.3 2-.1 1,1.2 1,.1 1,.5 1-.8 2,0 2,.1 2,.8 1-.2 1,.2 1-.5 2,.1 1,.4 1-.5 1,.3 2,.1 2-.8 1,.2 3-.2 1,.5 1,.1 2-.4 1,.3 1-.3 1-.6 1,0 1-.3 1,.7 1-.5 1,.4 1-.6 2,1.1 1-.1 1,.1 1-.6 2-.2 2,.1 1-.3 1-.1 1,.8 1,.4 1-.3 1-.8 1,.7 1-.4 1-.1 1-1.1 1,.6 1,0 1,.5 1,0 3,1.1 1-1.1 2-.7 1,.8 1-.5 1,.3 1-.3 1,.9 2-.7 1-.8 2,.1 1-.3 1,.4 1,.7 1,.1 1-.5 3,.3 1-.5 2,1.2 2,.2 2-.2 3,1.3 2-1 1-.7 6,0 3-1.1 1,.3 1-.2 1,.4 3,.4 1,.6 1-.3 1,.2 1-.3 1,.8 2-1.1 1,.5 1-.4 1,.1 1-.4 1,.5 2,.2 1,.8 1-.7 1,.2 1-.4 1,.6 2-.6 3,.8 1-.1 3,.5 1-.2 1,.2 1-.1 1,.1 1-.5 2-.3 1,.1 2-.4 1,.6 1-.5 1,.7 2-.3 1-.9 1-.1 2,.2 2-.8 2,1.1 3-.6 2,.9 1-.4 2-1.6 1-.2 2-.1 1,.3 2-.2 1,.4 1-.2 1,.4 1-.3 1,.4 1-.1 1-.6 2,.1 3-.4 1,.5 2,.1 1-.2 2,.5 1-.1 1-.6 2,.2 1,.5 1-.1 1,.6 1-.7 3-1.2 2,1.2 3,.2 1,1.2 2-.2 1-.9 1,0 2-.7 4,.3 3-.4 2,1.2 1-.2 3-1.3 3,.4 1,.4 1-.3 1,.5 1-.1 2,.5 1-.5 1,0 1-.5 1,.2 1-.6 1,.3 1-.2 2,.3 3,.1 1,.3 1-.1 1-.4 2,0 1,.7 2,1 1-.2 1-1.1 2-.4 1,1.1 1,.2 1,.6 4-.6 2,.1 1,.9 1-.6 1-.1 1-.6 1,.5 1,.1 1-.3 1,.1 1,.1 1,.6 1,.1 2,1.2 3,.7 1,0 1-.4 1-.2 2,.6 1-.4 1,.4 1-.4 3,.6 2-.5 1-.6 1,.1 1-.4 2,.1 1,.4 1-.1 2,.8 2,.3 1-.3 1,.1 3-.9 1,.3 1,0 1,.4 1-.2 1,.7 1,.3 2,0 1-.3 1,.3 2-.8 1,.2 2,1.1 3-.6 1,0 1-.6 2,.2 2,.9 3-1.1 2,.4 1-.3 1,.4 1-.5 2,.2 1-.6 2-.4 1,.6 1-.1 3-.9 1,.2 1-.5 1-.7 1,.2 1,.9 1,.4 2-.4 2,.4 1-.7 1-.3 2,0 2-.4 1,.2 1,.4 2-.3 2,0 2-1.1 1,.4 1,.8 3-.5 2,0 3,.7 1-1.1 1,.9 1-.3 1,.5 1-.4 2,.8 1-.9 1-.4 1-.4 1,.1 1-.5 2,.2 1,.5 2,.4 2-1.1 4,.7 1-.1 1,.3 2,.3 1,.6 1,.1 1-.2 1-.5 2,.1 1,.3 1-.3 2-.1 2-.4 1-.5 2,0 1,.2 2-.4 2,.2 3,1.7 4-1.2 3,.9 2-.9 1-.1 1-.5" fill="none" stroke="#B5B5B5" stroke-width="2.65" stroke-linejoin="round" stroke-linecap="round" />
<path d="M112.4,1030.6l1,.1 1-.3 2,1 1,.1 1-.5 1-.2 2,.7 1-.6 2-.3 1,.3 4,0 1-.1 1,.2 1-.1 1,.2 4-.6 2,.1 1,.5 1,.1 5-.3 2,.4 3,.5 2,.1 1,.2 2-.1 1-.9 1-.2 2,1 1,.1 1-.6 1-.2 1,.1 2,1.4 1-.1 2-1.2 3,.7 2-.2 1-.5 1,.1 1,.5 2,.4 2-.3 1-.4 1,.1 1-.5 2,0 1,.3 1-.3 3,.5 2-.3 1,.6 1-.4 1,.1 1-.9 2-.1 1,.2 2-.5 2,.8 1,.7 2-.2 1-.3 1,.5 3-.7 1,.1 1,.3 1-.8 2,.1 1,.3 3-.5 2,0 2,.5 1-.4 5,.1 1-.1 1,.1 1-.5 1,.1 1-.2 2,.7 1,0 1-.5 1,.1 1-.3 1,.6 1-.5 1-.2 3,.7 1-.3 3,.6 1-.4 1,0 3,.6 2-.5 1-.5 2-.3 4,.3 1-.4 1,0 1,.1 1,.5 2-.5 1-.5 2,.4 1,.6 1-.4 1,.5 1-.2 1,.3 1-.3 2,.5 2-.8 1-.1 1,.6 1,.2 1-.3 2-.2 6,.9 1-.4 2-1.3 1,.5 2,.6 2-.5 1,.2 1-.2 1,.5 1-.1 1,.2 3-.2 1,.2 1,.4 2,.2 1-.7 2-.5 2,.4 2,.7 1,.1 1-.1 1,.2 2-.7 4,.3 3-1 1-.1 1,.2 3,.3 2-.7 1,.2 2,1.2 3-.7 1,.4 1-.4 1,.2 1-.4 1,.4 1,0 3-.8 2,.8 2-.1 1-.4 2,.1 1,.5 2,.3 1-.4 2-.1 3,.2 3,.8 1-.3 2-1.1 4-.3 1,.7 1,.5 1,.1 1-.6 1,.1 1-.4 2,.3 1,.3 2-.2 1,.2 3-1.1 1,.2 1,.6 3-.1 1,.3 1-.1 3,.2 2-.5 3-.3 3,.7 2-.2 2,.6 2-.3 1-.6 1,0 1-.4 1,.5 2,0 2-.5 2-.2 3,1.2 2,.5 2-1.2 1,.2 2,.7 2-.7 2-.1 2,.1 2,.6 2-.8 3-.5 2,.6 1,.1 4-.1 3,.3 3-.2 1-.4 1,.5 1-.3 1,.5 1-.4 1,0 1-.2 2,.5 1-.2 1-.6 1-.2 1,.1 1-.1 1,.7 1-.1 1,.5 1-.4 1,.3 1,0 2-2.2 1-.2 2,.8 1-.3 3,.5 1-.8 2,0 1,.9 1-.2 1,.4 1-.3 1,.1 1-.5 1-.1 2,.3 3-1 2,.9 1,.2 1-.6 2-.6 1,.3 1,0 1,.4 3-.2 1,.2 1,0 2,.6 2-.2 1-.4 1,.5 1-.6 1-.1 1-.4 2,0 2,.5 2-.3 2,.2 1-.2 1,.4 1-.4 2,.7 1,0 1,.2 1-.2 1,.2 1-.4 1,.2 1,.7 2,.4 1-.2 1,.2 1-.3 1,.3 2,.3 1-.1 1-.4 2-.1 1,.7 1,.1 1,.3 2-.1 1-.3 2,0 1,.3 1-.6 1,.5 1,0 1,.7 2-.3 1-.7 2,.3 1,.6 2-1.2 2-.1 1,.5 3,0 1-.4 2,.4 3-1 3,.7 2-1.1 1-.1 2,1.4 2-.4 2,.2 1-.4 1-.8 1,.3 2,.8 1-.6 3-.2 1-.7 2-.3 3,1.4 1-.4 1-.2 1,.7 1,.2 1,0 2-.6 1,.2 1-.3 1,0 1-.8 1,.1 1,.7 1,.3 3-.7 1,.6 1,.3 1-.3 2,.1 1-.1 2-1.3 2,.2 1-.5 2,.7 1-.6 1,.3 1-.2 1,.7 2-.2 2,.3 1,.5 1-.3 2-.1 1,.9 1-.2 1,.5 3,.7 1-.6 1,.6 1-.2 1,.3 1-.4 8,.2 1,.2 1,.5 2,.1 1-.6 1,.1 1-.4 2-.1 2,.3 1,.7 1-.2 1,.3 2-.5 1-.5 2,.2 1,.3 1-.8 2,.1 2,1.6 2,0 1-.4 1,.1 1-.4 4-.4 2,1.1 1,0 1,.3 1-.9 1,.2 1-.1 2,.8 1,.1 3-.7 1,.2 1,.5 1-.6 1,.2 1-.2 1,.5 2-.6 1,0 1,.6 2,.4 1-.3 2,.5 1,0 2-.3 4,.2 2,.8 2,.2 2,0 1-.3 2,.5 1-.2 1-.6 2,.1 3-.3 1,.3 1-.1 1,.1 2,1.2 2,.1 1-.2 1,.2 1-.3 2-.1 1,.4 3-.6 2,.2 1-.5 2,.1 3-.4 2,.9 4,0 3-1 2-.3 1,.8 1-.4 4-.5 4,.3 1,.3 2-.3 1-.4 1,0 4,.5 2-.2 1,.2 1-1 1-.1 1-.7 1,.3 1,.6 1,.1 1-.2 2,.7 1,.7 1-.8 1,0 1-.3 2,.3 3-.5 1,.1 1,.3 2-.1 2-.4 2-.2 1,.3 1-.3 1,0 1-.5 1-.1 2,1.2 1,0 1-.3 1,.2 2-.7 1-.2 1-.4 1,.1 1-.5 2,.4 3-.5 1,.9 1-.2 1,.1 1,.4 1-.3 1,.1 1-.2 1,.5 1,.3 1,.2 1-.1 1,.4 2-.4 1-.6 1,.1 1,.6 2-.9 1,0 1,.4 1,.1 1-.4 1-.2 3,.1 1,.6 1-.6 1,.3 1-.6 1,.9 1-.3 1,.2 1,0 1,.3 2-.7 1-.1 1,.5 2,.1 1-.6 2,.1" fill="none" stroke="#B5B5B5" stroke-width="2.65" stroke-linejoin="round" stroke-linecap="round" />
<path d="M122.3,1003.4l1.1-.7 2.2-.6 1.1,.1 2.2-.9 1.1-.6 1.1-.3 1.1-.6 1.1-.3 2,.2 1.1,.4 1-.1 1,.4 3.1-.7 1.1,.1 2-.1" fill="none" stroke="#B5B5B5" stroke-width="2.65" stroke-linejoin="round" stroke-linecap="round" />
<path d="M149.6,999.1l2.1,.3 2-.5 1.1-.5 2-.4 1.1,.3 1-.4 1,.3 1.1-.6 1-.1 1-.5 1.1-.3 3.1,1.2 1-.1 1-.2 1.1-.9 2-1 1.1,.5 1-.3 1-.1 1.1-.5 2,.4 3.1-.6 1.1,.1 1-.2 3.1,.4 6.2-1.6 2,.4 1.1,.6 1-.3 2.1-1.4 2,0 1.1,.3 1-.6 1-.1 1.1-.6 1,.2 2.1-.7 2-.1 1.1,.3 2-.8 1.1-.1 1,0 1,.5 1.1-.2 1-.4 3.1-.6 1-.5 1.1,.1 3.1-.7 2,.4 1.1-.5 1,0 1-.5 2.1,.6 1-.6 1.1-.3 1-.6 2.1-.1 2,.3 1.1,.5 1-.5 1,0 1.1-.5 1,.3 3.1-.2 4.1-.8 3.1,.4 1.1-.2 2,.1 3.1-.5 1.1,.4 2,.1 2.1-.4 3.1-.1 1-.3 1.1,.3 1-.1 1-.4 2.1-.2 1,.2 1.1,0 3.1,.9 3.1-.7 1,.2 1-.1 2.1-.7 3.1,1.4 1,0 1.1,.5 1,.1 2.1-.1 3,.1 2.1-.3 2-1.2 2.1-.4 1,.1 1-.3 1,.1 1-.3 1.1,.3 1-.5 2-.3 2.1,1 1.1,.3 1.1,.7 1,.1 3.2,1.7 1.1,.3 1.1-.3 2.1,.8 1,.8 2-.8 1,.3 1.1,.7 1-.1 1-.8 1-.5 1,.3 1.1,.7 1-.1 1-.4 2.1,.1 1,.6 1-.1 1,.1 1.1-.3 3.1,1.6 2,.5 1.1,.2 1-.7 3.1,1 1-.5 1.1,0 1,.3 1,.8 1.1-.3 2,.1 1.1,.5 3.1-.7 1,.9 2.1,.3 1-.1 2.1,.9 2-.4 1.1-.1 2,.5 1.1-.3 2-.1 4.2,.7 2,1.1 2.1,.3 4.1-1.1 1.1,.8 1-.1 1,.7 2.1,.2 1-.5 2.1-.1 6.2,1.2 1,0 2.1-1.1 1-.1 1,.2 1.1,.8 6.2-.4 2,.4 1.1,.5 2-.1 1.1-.3 1,.1 1,.2 1.1,.7 1,.1 1-.1 1.1-.5 2-.4 2.1,.5 2.1,.1 1,.4 3.1,.2 1,.5 2.1,.3 1-.1 2.1-.7 1,0 6.2,1.2 1.1,.6 2-.1 1.1-.6 2,1 2.1,0 1-.4 1.1,.5 1,0 1,.4 1.1-.4 2,.3 1.1,.8 2,.1 1.1-.3 4.1,1.1 3.1-.6 2.1,1.2 1-.1 2.1,.4 1,.5 1-.6 1.1-.1 1,.1 1,.8 3.1-.6 2.1,.7 2.1-.7 1-.1 2.1,.7 2-.6 2.1,.3 1,.4 1.1,0 1-.3 1,.1 1.1-.2 1,.5 2.1,.3 3.1-.7 2,1 1.1,.3 3.1-.4 2,.3 2.1,.8 2.1-.4 1-.5 1,.4 1.1-.6 1,.2 1-.2 1.1,.7 1,0 1,.4 2.1,0 2-.6 2-.3 3.1,.6 2,.7 3-.8 2.1,.2 1-.7 1,.2 3-.6 3,1.2 2,0 2.1-1 2,.5 1-.1 1-.6 1-.2 1-.5 1,0 1-.4 1,.5 2-.2 2,.1 1.1-.3 3-.3 1-.4 3,.8 1-.5 3,0 3,.8 2-.5 1.1-.7 1,.4 2,.3 1-.4 2,.5 1,.5 1-.1 1,.3 1-.1 1-.7 1,.2 1-.4 1,1.1 1-.3 1,.2 2-.6 2.1,.5 1-.1 1-.4 3,.8 1.2-1.5 2.5-2.1 1.2-1.5 1.1,.1 1.1-.4 2.1,.8 1.1,1.6 1,.2 1.1,.7 1-.3 2.1,.1 1,1 1,.6 2.1,.1 2.1,1.1 2,.1 1.1,.4 1,0 1-.4 3.1,.6 2.1,0 2.1,.6 3.1-.7 1,.1 3.1-.8 1,.5 1.1,0 1,.5 1,.2 1.1-.2 1-.5 1,0 1.1,.2 1,.9 3.1-.6 2.1,.5 1-.5 1-.2 2.1,.5 1,.6 1.1-.1 2,.2 3.1-.7 2.1,.1 1-.1 1.1-.3 1-.1 1-.6 1.1-.2 1,0 2.1,.8 2-1 1.1-.1 2,.4 1.1-.4 1,0 1-.4 1.1,0 1-.2 1,.2 1-.3 2.1-.1 2,.8 4.1-.1 2,.2 1.1-.1 2-1 1,0" fill="none" stroke="#B5B5B5" stroke-width="2.65" stroke-linejoin="round" stroke-linecap="round" />
<path d="M738.4,1010.2l2-1 2-.1 2.1-.8 1,.2 1-.4 1.1,0 1-.9 1,.4 1-.6 1-.2 1.1-.6 2-.8 1-.1 2.5-1.1-1.1,.7-2.1-.2-1.1-.4-1.1,.6 3.1-.3 2.1,0 1-.3 3.1-.3 1,.2 3.1-1 2.1,0 1-.2 1.1,.2 1-.2 1,.2 1.1-.2 1,.6 2.1-.7 1-.6 2.1-.1 1.1,.3 2.1-.1 1.1-.4 4.1,.7 1,1 1,.4 2.1,.4 3,1.7 1.1,.2 3,1.3 1,.7 1.1,.1 1,.6 2.1-.1 1-.6 2.1-.1 2,.5 2.1,.3 3.1,1.6 1,0 1.1-.4 1,.1 1-.5 1,.2 1.1-.3 1,.3 1,.7 1.1-.1 1,.4 1-.3 3.1-.3 3.1,.5 1.1-.1 3.1,.5 1,.6 1-.4 1.1,0 1-.5 2.1,.3 3.1-.7 1,0 3.1-.8 1,.7 2.1,.9 1-.4 1,.1 2-.8 1-.1 2.1,.4 1-.2 3,1.1 1,.1 1-.3 1.1,0 1-.2 1,.1 2-.3 2,.1 1-.2 2.1,.7 1,.6 1,.1 3-.1 2.1-.6 1-.2 1,.1 1,.6 1,0 2-.4 1-.3 2.1,.2 2,.9 1,.1 2-.6 3.1,0 3-.3 2,.8 3.1-.2 1,.5 2-.2 1-.7 2.1,.4 1,.6 2-.9 2,.1 3.1-.7 1,.9" fill="none" stroke="#B5B5B5" stroke-width="2.65" stroke-linejoin="round" stroke-linecap="round" />
<path d="M122.3,1006.7l2.1,.2 1.1,.5 1.1,.1 1,.7 3.2,1.2 1.1,.1 2.1-.7 1.1,.3 2.1,1.2 1,.1 2.1-1 1,.2 1.1,.3 1,.8 1,0 1.1,.5 4.1,.7 1.1,.5 1,.1 1.1,.6 1-.1 2.2,.9 1,1 2.2-1.5 1-1 1.1-.4 2.1-2.8 1.1-1.9 1.1-.1 1.1,.8 4.4,1.4 1.1,.6 1.1,.3 1.1,1 1,.1 2.1-.8 1,.4 1.1,.8 1,.2 2.1-.1 2,.3 1.1-.3 3.1,.6 1-.2 1,.4 2.1,0 1-.6 3.1,.7 3.1,1 1-.4 1.1,0 1,.3 1,.7 1.1,.2 6.2,.1 2,.9 1.1,.3 1-.3 3.1,.5 1-.3 2.1-.1 1,.2 1.1-.3 3.1,.8 1-.4 3.1,.1 4.1-1 2.1,.4 1-.1 2.1,.1 1-.4 1.1,.3 1,0 1,.5 1.1-.3 2,.4 1.1,.6 1-.6 1,.1 4.2-.7 1,.7 4.1-.1 2.1,.3 2.1,.8 2-.7 1.1-.7 1,.3 1,.6 2.1,.7 1,0 2.1-1 1-.7 1.1,.4 1-.3 1,.4 1.1-.3 1-.1 1-.8 1.1-.3 2,0 1.1,.3 1-.3 4.1,.1 6.2-1.5 1.1-.1 1-.7 1-.1 2.1,.1 1,.6 2.1,.4 1-.6 2.1-.7 1,.3 1.1-.6 1,0 1.1-.3 1,.4 1.1,.2 2.1-.2 1.1-.5" fill="none" stroke="#B5B5B5" stroke-width="2.65" stroke-linejoin="round" stroke-linecap="round" />
<path d="M377,1006.7l2.5,6.7 1.1-1.1 2.2-1.3 1.1-.9 1.1-1.3 2.2-1.7 1.1-.2 3.2-1.7 1-1.2 1.1-.6 1-1.2 3.1-1.7 3.1-3.2 1-.8 3.7,1.8 2.2,.2 2.2,.4 2.2,.9 2.1-.2 1.3-1.5 1.2-.1 1.2-1.2 1.3,12.7 1.2-2.6 3.7-4.6 5-7.8 1.1-.5 1-.2 1.1,.4 2.1,.4 1.1-1.1 1-.4 3.2,3 1.1,.5 1.1,1.3 1,.7 1.1,1.1 2,.7 3.1,1.8 1.1,0 2-.7 1.1,.1 2,1.8 1.1,.3 2.1,1.2 3.2,3.3 1.1,.8 2.1,.4 1-.1 2.2,2.3 1,1.5 2.2,1.1 1.1-.5 1.1,0 1.1-.4 1.1,.1 1.1-.3 3.3,.3 1.1-.2 2,.6 3.1,.4 1.1,.4 1-.1 3.1,.4 2.1,.9 1.1-.1 1.1-.7 2.2-.6 3.3-2.7 2.2-1 1,.4 1.1-.3 3.2-.4 1.1,.4 1-.2 1.1,.5 1.1-.8 5.3-.4 1,.4 1,.6 1.1-.1 2-1.4 4.2,.8 3.1-.1 2,1.5 2.1-.2 1-.4 1.1,.5 1-.8 1,0 1.1,.1 1,.8 1,.5 1.1-.9 1,.4 1,.2 1,1.5 1.1-.4 1,.1 1-.3 1.1,.1 2-.1 1.1,.3 4.1-.3 1,0 3.1,.8 2.1-.4 1-.5 3.1,.6 1-.4 1.1-1 1-.3 2.1-.2 2-1.3 1.1-.3 2,.2 2.1-.7 3.1-1.5 1-.9 2.1-.1 1,.1 1.1-.2 1-.7 1.2,.7 3.7,3.4 2.1-.1 2.1,.2 2.1,.8 1.1,.7 2,.5 3.2,.1 1-.4 1.1,.4 1,.8 1.1-.2 1,.5 1-.6 1.1,.3" fill="none" stroke="#B5B5B5" stroke-width="2.65" stroke-linejoin="round" stroke-linecap="round" />
<path d="M122.3,1031.9l1,.7 1,.1 1,.1 1.1-.5 2,.1 1,.4 1,.7 1,.3 3-.6 1,.6 2.1,.1 1-.3 1,.7 1,0 1,.5 1-.1 1,.4 1,0 1.1-.4 3,.9 2.1,.1 3.1,1.2 3.2,.3 1.1,.6 2.1,0 1.1-.4 3.2,.1 1.2,1.4 2.5,4 3.7-7 2-.3 2,.1 2.1-.5 3-1.4 3,.3 3.1-1.3 2-.3 1,.2 1-.2 2-1.4 1-.1 1,.4 1.1,0 1-.3 1,.2 1-.4 1,.2 1-.2 2.1,.6 3.1-1.4 2.1,.5 2-.5 3.1,.6 1.1-.2 1,.2 2.1-.4 1-.8 2.1-.2 1,.5 1-.2 3.1-1.2 2.1,.1 2.1,1.1 1,.1 3.1-.9 2.1,.5 2-.7 1.1,.2 1,.6 1,0 1.1-1.3 1-.2 1,.1 1.1,.6 5.1-.1 2.1,.1 2.1-.4 3.1,.6 1-.1 1,.5 2.1-.5 1-.1 1.1,.6 1,1 3.1-.4 1,.3 1.1,.5 1,.1 1,.6 2.1-.2 1-.7 3.1-1.4 1.1,.2 1-.2 1,.4 2.1-.2 1-.7 2.1-.2 2.1-.6 1-.1 1,.5 3.1-1.3 2.1,.8 2.1-.5" fill="none" stroke="#B5B5B5" stroke-width="2.65" stroke-linejoin="round" stroke-linecap="round" />
<path d="M613.9,1029.4l2.5,17.4 4.2,0 3.7-15.4" fill="none" stroke="#B5B5B5" stroke-width="2.65" stroke-linejoin="round" stroke-linecap="round" />
<path d="M735.4,1030.7l2,8.6 3.9-8.6" fill="none" stroke="#B5B5B5" stroke-width="2.65" stroke-linejoin="round" stroke-linecap="round" />
<path d="M734.9,1031.9l3,6.9 3-6.9" fill="none" stroke="#B5B5B5" stroke-width="2.65" stroke-linejoin="round" stroke-linecap="round" />
<path d="M122.3,1031.9l1-.3 .6,.5 .5-.1 .5-.5 2.5-.1 1.1-1.1 1.5-.4 .5,.2 .5-.2 .6,0 .5,.3 .5-.2 1-.1 1,.3 .5-.2 .6,.1 2.5-1.3 .5,.3 1.1-.5 1.5,.4 1.1-.5 1.5,.2 1-.5 1.6-1 1,.6 1.1-.8 1,.4 1,.1 1,.3 1-.6 .5-.1 .5,.3 .5-.4 1.6,.1 1-.5 .5-.1 1,.6 1.5,.3 1-.1 1-.6 .5,.2 .5-.1 1.6-.7 .5,.3 .5-.2 1,.3 1,0 2,.6 1-.4 .5,.2 1.1-1.2 .5,.5 1,.2 .5,.4 .5-.9 .5,.1 .5,.5 .5,0 .5,.2 1-.2 .5,.1 1-.5 .5,.2 .6-.1 1-.3 1-.6 .5,.1 .5,.2 .5,.6 .5,.1 .5-.4 .5,0 .5,.6 .5,.1 1,0 1-.7 .6,.1 1-.6 .5,.1 1,.6 1.5-.5 .5,.1 .5,.6 1-.1 .5,.3 .5-.3 .5-.6 1.1,0 .5,.4 .5-.1 .5-.6 .5,.2 1-.2 2,.8 .5-.4 1,.6 1.6-.3 .5,.1 1-.6 1,.1 1,.4 .5-.3 .5,.5 2,.2 .5,.4 .5,.1 1.1-.7 2.5,.2 2-.5 .5,.5 .5,.1 3.6-.3 .5,.1 1-.3 .5,.5 1,.1 .5,.2 1,0 .5-.3 1,.2 .5-.3 1.1,.4 .5,0 1.5-.4 1-.7 1,.7 .5,.1 .5-.2 1.5,.3 .5-.1 1.1,.6 .5-.7 .5-.1 .5,.2 .5,0 1-.9 .5,.5 .5,.2 .5-.6 1.5,1.2 1-.3 1.6,0 1,.6 1-1 .5,.1 1-.5 1,.1 .5,.5 .5,0 .5-.4 1,.1 1.6-.1 1,.2 .5-.3 2-.7 1,.4 1,0 1,.3 1.6-.3 .5-.5 .5-.1 .5,.8 .5-.3 .5-.6 .5,.2 2-.5 1,.2 2,1.1 .6-.1 .5,.2 .5-.2 .5-.9 .5-.5 1.5,.3 .5-.3 1,.1 .5-.2 1.6,.5 1-.4 .5,.3 .5,.1 1-.2 2.1-.9 1,.1 1-.3 .5,.5 1.5,.5 1-.6 .6,.2 .5,0 .5-.6 .5-.3 .5,.1 1-.6 1,.4 1-.4 1.6,.8 1,.1 1-.5 1,.2 2.1-.5 1.5,.6 1-.3 .5,.2 .6-.3 .5,.2 .5-.2 .5,0 .5,.5 1-.5 .5,.1 1.6-.3 1,.5 .5-.4 1,.9 .6-.2 1,.9 .5-.1 .5,.5 .5-.2 .6-.7 .5,.2 .5-.4 1.5,.3 .6,.5 1-.6 .5,.6 1,.3 1.1,.7 .5,0 .6-.4 1.6,0 .5-.4 .5-.1 .5,.2 .5-.4 1,.2 .5-.3 .5,.1 .6,.5 1,.4 1-.4 1.5,0 2-.8 1.5,.2 1.5,.6 .5-.2 1,.8 .5-.1 .5-.5 1-.1 1.5-.7 1,.3 .5-.2 1.5,.1 1,.7 .5-.2 1,.2 .5-.5 1,.6 1-.7 1-.1 1,.3 1-.5 .5,0 2.6,1.3 .5,.1 .5-.7 1,.2 1-1.2 .5,0 .5,.6 1-.3 1,.4 1-.2 1,.8 1-.3 .5,.2 .5-.1 .5-.4 1,.2 1.5-1.1 .5,0 3.1,1.3 .5-.4 1.5,.3 .5-.5 1-.3 1-.8 .5,.5 1-.3 1,1 1.1-.3 .5,.5 1-.4 1,.2 1-.6 1,0 1-.6 1,.3 .5,.4 .5,.1 .6-.3 1,.4 1,.9 1-1 1-.6 1.5,.3 .5-.4 2.6,.4 .5,.6 1-.4 .5,.3 .5,0 1.5-.9 1-.2 1-1.1 .5,0 .5,.8 .5,.3 .5-.2 1.1,.9 1,.2 .5,.3 .5-.3 .5-.6 1.5,0 1-.6 .5,0 .5,.4 1-.1 .6,.3 .5,0 1,.7 1.5-.6 .5-.6 1,.7 .5-.6 1-.5 1,.6 2.1,.4 .5,.4 1,.1 1,.7 1-1.2 .5,.2 .5-.4 .5,0 .5,.4 .5-.3 .5,.2 .5-.3 3.1,1.9 1.5-.1 .5-.5 2.5-.9 .5,.3 .5-.1 .6,.2 1.5,1.4 1,.2 .5,.5 1.1-.5 .5,.3 1-1.4 .6,.5 2-.6 1.1,1.7 1,.9 1.1-.5 1,.5 1.1-1.1 .5-.2 1.1-1.4 .5,0 1.1-.5 .5,0 .5,.5 1.1,0 .5,.2 3.5-3.3 .5,0 1-.3 1,.2 1,.9 .5-.1 1,1.2 .5-.1 .5,.1 .5-.2 1.1-.8 2-.6 1-.6 2,1.8 3,.8 1-1.1 1-.4 .5-.1 .5,.2 .5-.3 .5,0 1,1.2 1.5,.7 1,.1 .5,.4 2-1.5 1.5-.4 1.5-.1 .5,.6 1,.2 2.1,2 .5-.3 .5-.9 1-.8 1-.2 .5-.5 1.5,.7 1,1 .5,.2" fill="none" stroke="#352755" stroke-width="3.6" stroke-linejoin="round" stroke-linecap="round" />
<path d="M518.4,1018.4l.4,.6 1.2,1.1 .8,.4 .4,.6 .9-.1 .4,.2 .8-.1 2.1,1.1 .4,0 .9,.3 .4-.1 1.2,.6 1.8-.4 .9-.1 .4-.2 .9,0 .8-16 .9-1.7 1.1,1.5 1,14.7 1.3,.2 .4,.4 .4,.1 .9-.4 .4,.5 .4,0 .5-.2 .4,.2 .8-.3 .5,.3 .8,0 .9,.4 1.2-.4 1.3,.4 .4,.5 .5,.1 .7-34.3 1-25.6 .7-72.4 .5-.3 1.5-1.5 .5-.2 .9,.2 .5-.3 1.7,88.6 1.2,31.6 1,3.3 .8,1.2 1.3,2.5 1.7,.4 .4,.4 .9-.2 1.2,1.5 2.5,1.2 .9-.1 .4,.3 1.7-1.2 .8,.4 .4,0 .8,.5 1.6,1.6 .9,.2 .8-.5 1.2,.3 2-1.8 .8,.4 .4-.1 1.2,.4 .8,.8 1.3,.8 .8,.3 .8-.3 2-1.1 .4-.5 1.2,.1 .8,.6 .4-.2 .4,.1 .4,.5 1.7,.9 1.2-.1 1.6-1.2 .8-.1 .8-.5 1.6,.3 1.6,1.7 1.7,.4 1.2-.3 .4-.5 2-1.1 .8,.3 .8,.8 .4-.1 .4,.1 .4,.6 1.7,1.3 .4-.2 .8,.1 1.6-1.4 .8,.1 .8-.9 .8,.7 1.3,.7 .4,.6 1.7,.7 2.9-1.8" fill="none" stroke="#352755" stroke-width="3.6" stroke-linejoin="round" stroke-linecap="round" />
<path d="M548.6,975 L549.6,890 L553.5,888 L554.6,975 Z" fill="#352755" stroke="#352755" stroke-width="1.5" stroke-linejoin="round"/>
<path d="M620,1021.1l1.2-.4 1.1,0 2,1.3 1.1,.4 .5,0 1-.2 1-1 2.5-1.1 1,.5 2.5,1.7 1.5-.3 1.1-1.1 1-.2 .5-.5 1-.3 .5,.2 2.5,1.6 1.5,.5 3-2.1 1.5-.6 2.6,2.2 1,.4 1.5-.6 1-.8 .5-.2 .5,0 1-.7 1,.4 1.1,1.1 1.5,.7 .5,.5 1.5-.1 1.5-1 1.5-.5 2.6,1.2 1.5,1.4 .5-.2 1,.5 1.5-1.5 1-.7 .5,0 1.6,.9 .5,.7 1.5,1.3 1.5,.4 2.1-1.1 .5,.1 1.1-.4 2,2 1.1,1.5 .5,.4 .5-.1 1,.3 2.1-1.5 1.5-.8 1.1,1 2.6,1.9 1.5-.7 2.6-2.3 .5-.2 2.1,1.3 2.1,2.1 .5,0 .5-.4 1-.1 .6-.5 1-.4 1.6,0 2.6,2.9 1.1-.2 1.7-1.3 1.7-1.8" fill="none" stroke="#352755" stroke-width="3.6" stroke-linejoin="round" stroke-linecap="round" />
<path d="M742.9,1030.8l1.6-1.7 .6-1.1 1.1-.7 1.6-2.2 .6,.1 .5-.2 1.1-1.6 .5-.4 .5-.2 .6,0 .5,.3 .5-.2 .5,.2 .6,.4 1,.3 1.6-.7 2.5-1.7 .5,.3 .5-.2 1.1,.2 .5,.2 2,1.6 .5,.1 1-.8 .5-.1 .5-.7 1-.3 .5-.4 1.1,0 1,.2 .5,.3 .5,.8 1,0 .5,.8 .5,.1 1-.4 2.1-2.1 .5-.2 .5,.2 1-.4 1,1.3 2.5,1.2 1-.2 .6-.4 .5,0 1-.8 .5,0 1-.4 1.5,.8 1,1.4 1.5,.7 .5,0 1.6-.8 .5-.4 .5-.7 .5-.3 2,1.1 1,.2 1,1.2 .5,.2 2.1-.5 1-.1 .5-.8 1.5-.5 1,.5 1,1.4 1.5,.4 1,.5 2.6-1.6 1-.5 1,0 .5,.3 1,1.7 1,.4 .5,.5 2.6-.7 1-.8 .5,.1 1-1 1,1.2 .5,.2 2,1.9 1.1-.2 .5,.2 1.5-1.1 .5-.7 .5-.4 1,.4 1,.1 1,.8 2.6,1.1 1-1 .5-.1 2-1.5 .5,.1 .5,.6 1,.4 .5,.5 1,.3 1.1,.5 1-.4 1.5-1.1 .5-.7 .5-.4 1.5,.2 .5,.6 1,0 1.5,1.2 1.1-.1 .5-.2 1,.2 1-1.5 1-.8 1.5,.7 1.1,1.4 .5,.1 .5-.3 1,.8 1-.6 .5,0 .5-.3 .5-.7 1-.6 1.1,0 .5-.4 .5,.1 1,1.6 .5,.3 .5,.1 .5,.5 .5-.1 1.1-.5 .5-.7 .5-.3 1,.1 .5-.2 1,.1 1.1,1 1.7,.7 1.7,1.1 1.7,10.2 1-.6 1.1-1.1 .5-.3 1.5-.6 .5,.1 .5-.2 .5-.5 .5-.1 1.1-.9 1-.3 1-1.1 .5-.1 .5,0 1.1,.3 1.5-.4 1,.4 1-.1 1.1-.4 1.5-.3 1.6-.6 .5-.5 1,.6 .5-.1 .5-.3 1,.7 .6-.3 1,0 2-1.1 1,.1 1-.2 1.6,.3 2.5-.7 .5,.3 1-.3 .5,.1 1-.7 .5-.1 .5,.2 1.1-.7 .5,0 1,.5 1-.2 .5,.2 1-.5 .5,.2 1-.2 1.1-.8 2-.2" fill="none" stroke="#352755" stroke-width="3.6" stroke-linejoin="round" stroke-linecap="round" />
<path d="M123.9,1196.4l.5-1.5 .6-4.5 1.7-19.9 .5-4.4 .6-1.6 .5,1 .5,3 2.7,26.2 .5,2.9 .5,1.1 .6-1.4 .5-3.6 1.7-16.4 .5-3.7 .6-1.3 .5,.8 .5,2.2 2.7,19.3 .5,2.2 .5,.7 .6-1.2 .5-3.4 1.7-15.4 .6-3.4 .5-1.2 .5,.9 .6,2.7 2.6,23.9 .5,2.7 .6,.9 .5-1.9 .6-5.2 1.6-23.8 .6-5.2 .5-1.9 .6,.6 .5,1.7 2.6,15.3 .6,1.8 .5,.6 .5-1.4 .6-3.9 1.7-17.7 .5-3.9 .6-1.4 .5,.7 .5,1.8 2.7,16.2 .5,1.8 .5,.7 .6-1.8 .5-4.9 1.7-22.1 .5-4.9 .6-1.8 .5,.9 .5,2.4 2.7,21.4 .5,2.4 .5,.8 .6-1.4 .5-4 1.7-18 .6-4 .5-1.4 .5,.7 .6,2.2 2.6,19.3 .5,2.2 .6,.7 .5-1 .6-2.9 1.6-13 .6-2.9 .5-1 .6,.8 .5,2.5 2.6,21.6 .6,2.4 .5,.9 .5-1.4 .6-4 1.7-17.7 .5-3.9 .6-1.4 .5,1 .5,2.9 2.6,26.2 .6,2.9 .5,1.1 .6-1.6 .5-4.3 1.7-19.3 .5-4.3 .6-1.5 .5,.9 .5,2.5 2.7,22.7 .5,2.6 .5,.9 .6-2.1 .5-5.8 1.7-26.1 .6-5.8 .5-2.1 .5,1 .6,2.9 2.6,25.8 .5,2.9 .6,1 .5-1.7 .6-5 1.6-22.2 .6-4.9 .5-1.8 .6,1.2 .5,3.4 2.6,29.9 .5,3.4 .6,1.2 .5-2 .6-5.5 1.6-24.8 .6-5.6 .6-1.9 .5,.8 .5,2.5 2.6,21.8 .6,2.4 .5,.9 .6-1.8 .5-4.9 1.7-22 .5-4.9 .6-1.8 .5,1.1 .5,3.4 2.7,29.1 .5,3.3 .5,1.2 .6-1.5 .5-4 1.7-18.1 .5-4 .6-1.5 .5,.9 .6,2.5 2.6,22.1 .5,2.5 .5,.8 .6-1.4 .6-4.1 1.6-18.2 .6-4 .5-1.4 .6,.7 .5,2 2.1,14.9 1,5.2 .6,.7 .5-1.1 .6-2.9 1.6-13 .6-3 .6-1 .5,.6 .5,1.8 2.6,15.4 .6,1.8 .5,.6 .5-1.7 .6-4.8 1.7-21.5 .5-4.8 .6-1.7 .5,.7 .5,2 2.7,18 .5,2 .5,.7 .6-1.9 .5-5.4 1.7-24.1 .5-5.3 .6-1.9 .5,.8 .6,2.5 2.6,21.6 .5,2.4 .5,.9 .6-1.4 .6-3.8 1.6-17.4 .6-3.9 .5-1.3 .6,1 1,7.5 2.1,21.7 .5,3 .6,1 .5-1.4 .6-3.8 1.6-17.2 .6-3.8 .5-1.3 .6,.8 .5,2.4 2.6,21 .6,2.3 .5,.9 .5-1.4 .6-3.7 1.7-16.6 .5-3.7 .6-1.4 .5,.9 .5,2.3 2.1,17.3 1.1,6 .5,.8 .6-1.1 .5-3.2 1.7-14.4 .5-3.2 .6-1.1 .5,.8 .5,2.3 2.7,20.3 .5,2.3 .5,.8 .6-.9 .5-2.6 1.7-11.5 .6-2.6 .5-.9 .5,.6 .6,1.8 2.6,15.3 .5,1.7 .6,.6 .5-1.3 .6-3.6 1.6-16.1 .6-3.5 .5-1.3 .6,.8 .5,2.3 2.6,20.6 .6,2.4 .5,.8 .5-1 .6-2.8 1.7-12.7 .5-2.8 .6-1 .5,1.1 .5,3.1 2.7,27.6 .5,3.2 .5,1 .6-1.6 .5-4.6 1.7-20.6 .5-4.6 .6-1.7 .5,.9 .5,2.4 2.7,21.6 .5,2.5 .5,.8 .6-1.8 .5-5.2 1.7-23.5 .6-5.2 .5-1.8 .5,.9 .6,2.5 2.6,22.7 .5,2.6 .6,.9 .5-1.4 .6-3.8 1.6-17.1 .6-3.8 .5-1.3 .6,.5 .5,1.5 2.6,13.3 .6,1.5 .5,.6 .5-1.1 .6-2.9 1.7-12.9 .5-2.9 .6-1.1 .5,.5 .5,1.3 2.7,11.8 .5,1.3 .5,.5 .6-1.2 .5-3.2 1.7-14.4 .5-3.2 .6-1.1 .5,.8 .5,2.5 2.7,21.7 .5,2.4 .5,.9 .6-.9 .5-2.6 1.7-11.5 .6-2.5 .5-.9 .5,.3 .6,1 2.1,7.2 1,2.5 .6,.4 .5-1.5 .6-4.1 1.6-18.6 .6-4.1 .5-1.5 .6,1.1 .5,2.9 2.1,21.5 1.1,7.5 .5,1 .5-1.2 .6-3.2 1.7-14.7 .5-3.3 .6-1.2 .5,1 .5,2.9 2.6,25.6 .6,2.9 .5,1 .6-1.4 .5-3.7 1.7-17.1 .5-3.7 .6-1.4 .5,.7 .5,2.1 2.7,18.1 .5,2 .5,.8 .6-.9 .5-2.5 1.7-11.1 .6-2.5 .5-.8 .5,.6 .6,1.9 2.6,16.4 .5,1.8 .6,.7 .5-.9 .6-2.4 1.6-10.8 .6-2.5 .5-.8 .6,.6 .5,1.9 2.6,16.8 .5,1.9 .6,.7 .5-1 .6-2.7 1.6-12 .6-2.7 .6-1 .5,.7 .5,2 2.6,17.3 .6,1.9 .5,.7 .6-1.3 .5-3.6 1.7-16.3 .5-3.6 .6-1.3 .5,.3 .5,.8 2.7,7.3 .5,.8 .5,.3 .6-1.1 .5-3.2 1.7-14.2 .5-3.1 .6-1.1 .5,.6 .6,1.9 2.6,16.6 .5,1.9 .5,.7 .6-1.2 .6-3.2 1.6-14.5 .6-3.3 .5-1.1 .6,.6 .5,1.8 2.6,16 .5,1.8 .6,.7 .5-1 .6-2.9 1.6-12.6 .6-2.8 .6-1 .5,.8 1,5.5 2.1,16 .6,2.2 .5,.8 .5-1.1 .6-3.2 1.7-14.4 .5-3.2 .6-1.1 .5,.7 .5,2.1 2.7,18.2 .5,2 .5,.7 .6-1 .5-2.8 1.7-12.8 .5-2.8 .6-1.1 .5,.7 .6,1.8 2.6,16.1 .5,1.9 .5,.6 .6-.9 .6-2.6 1.6-11.7 .6-2.7 .5-.9 .6,.6 .5,1.5 2.1,11.2 1,3.9 .6,.5 .5-.8 .6-2.3 1.6-10.5 .6-2.3 .5-.8 .6,.5 .5,1.5 2.6,13.4 .6,1.5 .5,.6 .5-.9 .6-2.5 1.7-11.3 .5-2.5 .6-.9 .5,.6 .5,1.9 2.1,13.3 1.1,4.7 .5,.6 .6-.8 .5-2.1 1.7-9.7 .5-2.2 .6-.8 .5,.7 .5,1.8 2.7,15.8 .5,1.8 .5,.6 .6-.9 .5-2.7 1.7-11.9 .6-2.6 .5-.9 .5,.4 .6,1.5 2.1,10.4 1,3.6 .6,.5 .5-.6 .6-1.7 1.6-7.6 .6-1.7 .5-.6 .6,.4 .5,1.3 2.6,11.2 .6,1.3 .5,.5 .5-1 .6-2.9 1.7-12.6 .5-2.8 .6-1 .5,.5 .5,1.6 2.7,14 .5,1.6 .5,.6 .6-1 .5-2.7 1.7-12.2 .5-2.7 .6-.9 .5,.5 .5,1.7 2.7,14.4 .5,1.7 .5,.5 .6-1 .5-2.9 1.7-13.2 .6-3 .5-1 .5,.8 .6,2.5 2.6,21.6 .5,2.5 .6,.8 .5-.9 .6-2.5 1.6-11.2 .6-2.5 .5-.8 .6,.6 .5,2 2.1,14.2 1.1,5 .5,.6 .5-.8 .6-2.2 1.7-10.2 .5-2.3 .6-.8 .5,.5 .5,1.6 2.7,13.6 .5,1.6 .5,.5 .6-1 .5-3 1.7-13.4 .5-3 .6-1.1 .5,.5 .5,1.4 2.7,12.2 .5,1.4 .5,.5 .6-.9 .5-2.3 1.7-10.7 .6-2.3 .5-.9 .5,.7 1.1,4.9 2.1,14 .5,1.9 .6,.7 .5-.9 .6-2.4 1.6-10.7 .6-2.4 .5-.9 .6,.6 .5,1.5 2.6,13.1 .6,1.5 .5,.5 .5-.6 .6-1.7 1.7-7.6 .5-1.7 .6-.6 .5,.2 .5,.7 2.6,6 .6,.6 .5,.3 .6-.8 .5-2.1 1.7-9.3 .5-2.1 .6-.7 .5,.4 .5,1.1 2.7,10.5 .5,1.2 .5,.4 .6-.9 .5-2.4 1.7-11.1 .6-2.4 .5-.9 .5,.5 .6,1.4 2.1,10.1 1,3.6 .6,.4 .5-.8 .6-2.2 1.6-10.1 .6-2.2 .5-.8 .6,.4 .5,1.2 2.6,10.6 .5,1.2 .6,.4 .5-1 .6-2.8 1.6-12.6 .6-2.8 .6-1 .5,.5 .5,1.7 2.6,14.5 .6,1.6 .5,.6 .6-.8 .5-2.3 1.7-10.3 .5-2.3 .6-.9 .5,.6 .5,1.5 2.7,13.8 .5,1.6 .5,.5 .6-.8 .5-2.2 1.7-10.1 .5-2.3 .6-.8 .5,.6 .6,1.6 2.6,14.4 .5,1.7 .5,.5 .6-.8 .6-2.3 1.6-10.5 .6-2.3 .5-.9 .6,.5 .5,1.5 2.6,12.8 .5,1.5 .6,.5 .5-.7 .6-2 1.6-9 .6-2 .6-.7 .5,.3 .5,1.1 2.6,9.5 .6,1.1 .5,.4 .5-.7 .6-1.8 1.7-8.1 .5-1.8 .6-.7 .5,.6 .5,1.5 2.7,13.4 .5,1.6 .5,.5 .6-.8 .5-2.3 1.7-10.4 .5-2.3 .6-.8 .5,.6 .6,1.7 2.6,15.3 .5,1.7 .5,.6 .6-.9 .6-2.6 1.6-11.9 .6-2.6 .5-.9 .6,.6 .5,1.8 2.6,15.7 .5,1.8 .6,.7 .5-1 .6-2.7 1.6-12 .6-2.7 .5-1 .6,.6 .5,1.6 2.6,14.3 .6,1.6 .5,.5 .5-.9 .6-2.8 1.7-12.1 .5-2.7 .6-1 .5,.7 .5,2.1 2.7,18.7 .5,2.1 .5,.7 .6-.9 .5-2.6 1.7-11.8 .5-2.6 .6-.9 .5,.5 .5,1.6 2.7,13.7 .5,1.6 .5,.5 .6-.8 .5-2.4 1.7-10.6 .6-2.4 .5-.8 .5,.6 1.1,4.2 2.1,12.2 .5,1.7 .6,.5 .5-.7 .6-2.1 1.6-9.2 .6-2.1 .5-.7 .6,.5 .5,1.4 2.6,12.5 .6,1.4 .5,.5 .5-.8 .6-2.2 1.7-10.1 .5-2.3 .6-.8 .5,.6 .5,1.7 2.1,12.6 1.1,4.4 .5,.6 .6-.7 .5-1.9 1.7-8.6 .5-2 .6-.7 .5,.8 .5,2.1 2.2,15.2 1,5.3 .5,.7 .6-.7 .5-2 1.7-8.7 .6-1.9 .5-.7 .5,.6 .6,1.6 2.6,14.7 .5,1.7 .6,.6 .5-.9 .6-2.4 1.6-10.7 .6-2.3 .5-.9 .6,.6 .5,1.8 2.6,15.5 .6,1.7 .5,.7 .5-1.1 .6-2.8 1.7-12.9 .5-2.8 .6-1 .5,.8 .5,2.4 2.7,21.1 .5,2.4 .5,.9 .6-1.3 .5-3.4 1.7-15.4 .5-3.5 .6-1.2 .5,.5 .5,1.4 2.7,12.7 .5,1.5 .5,.5 .6-1.1 .5-3.2 1.7-14.1 .6-3.1 .5-1.2 .5,.8 .6,2.4 2.1,17 1,5.9 .6,.8 .5-1.1 .6-3.2 1.6-14.4 .6-3.1 .5-1.2 .6,.7 .5,2.1 2.6,18 .6,2 .5,.8 .5-1.5 .6-4 1.7-18 .5-4 .6-1.4 .5,.7 .5,2 2.6,17.5 .6,2 .5,.7 .6-.7 .5-2 1.7-8.8 .5-2 .6-.7 .5,.5 .5,1.3 2.7,11.5 .5,1.3 .5,.5 .6-.9 .5-2.4 1.7-10.8 .6-2.4 .5-.9 .5,.5 .6,1.2 2.6,10.8 .5,1.2 .6,.5 .5-.6 .6-1.7 1.6-7.5 .6-1.7 .5-.6 .6,.5 1,4.1 2.1,11.5 .5,1.6 .6,.6 .5-.7 .6-1.7 1.6-7.9 .6-1.8 .6-.6 .5,.4 1,3.4 2.1,9.8 .6,1.3 .5,.5 .6-.8 .5-2.3 1.7-10.1 .5-2.2 .6-.8 .5,.6 .5,1.7 2.7,14.8 .5,1.7 .5,.6 .6-.8 .5-2.1 1.7-9.6 .5-2.2 .6-.7 .5,.4 .6,1.4 2.6,12.3 .5,1.4 .5,.5 .6-1.5 .6-4.1 1.6-18.4 .6-4.1 .5-1.5 .6,.7 .5,2.1 2.6,18.1 .5,2 .6,.8 .5-.8 .6-2 1.6-9.3 .6-2 .6-.8 .5,.9 1,6 2.1,17.4 .6,2.4 .5,.8 .5-.7 .6-2.1 1.7-9.5 .5-2.1 .6-.8" fill="none" stroke="#B5B5B5" stroke-width="2.4" stroke-linejoin="round" stroke-linecap="round" />
<path d="M123.9,1208.6l.6-1.6 .5-4.7 1.7-21 .6-4.6 .5-1.7 .5,.8 .6,2.5 2.6,22 .5,2.5 .6,.8 .5-1.8 .6-5.2 1.6-23.4 .6-5.2 .5-1.9 .6,1 .5,2.8 2.6,25 .6,2.8 .5,1 .5-1.3 .6-3.7 1.7-16.7 .5-3.7 .6-1.3 .5,1.2 1.1,9.1 2.1,26.1 .5,3.6 .5,1.2 .6-1.7 .5-4.7 1.7-21.2 .5-4.7 .6-1.7 .5,.7 .5,1.8 2.7,16.4 .5,1.9 .5,.6 .6-1.6 .5-4.5 1.7-20.4 .6-4.5 .5-1.6 .5,.9 .6,2.4 2.6,21.5 .5,2.4 .6,.8 .5-1.6 .6-4.8 1.6-21.3 .6-4.7 .5-1.7 .6,.9 .5,2.7 2.6,23.8 .6,2.7 .5,.9 .5-1.6 .6-4.6 1.7-20.7 .5-4.6 .6-1.6 .5,.9 .5,2.5 2.7,22.3 .5,2.5 .5,.9 .6-1 .5-2.7 1.7-12.2 .5-2.7 .6-.9 .5,1.1 1.1,7.8 2.1,22.8 .5,3.1 .5,1.1 .6-1.4 .5-3.9 1.7-17.5 .6-3.9 .5-1.4 .5,.9 1.1,6.8 2.1,19.5 .5,2.7 .6,.9 .5-1.6 .6-4.4 1.6-20.1 .6-4.5 .5-1.6 .6,.7 .5,2.1 2.6,18.1 .6,2.1 .5,.7 .5-2.1 .6-5.8 1.7-26 .5-5.8 .6-2 .5,.8 .5,2.2 2.7,20 .5,2.3 .5,.8 .6-2.1 .5-6 1.7-26.7 .5-6 .6-2.1 .5,1 .5,2.9 2.7,25.4 .5,2.9 .5,1 .6-2.1 .5-5.8 1.7-26 .6-5.7 .5-2.1 .5,1 .6,2.9 2.6,25.9 .5,2.9 .6,1 .5-2.4 .6-6.7 1.6-30.2 .6-6.8 .5-2.4 .6,1.3 .5,3.5 2.6,31.3 .5,3.6 .6,1.2 .5-1.2 .6-3.3 1.6-15.1 .6-3.4 .6-1.2 .5,1.1 .5,3 2.6,26.5 .6,3 .5,1 .6-1.4 .5-3.9 1.7-17.4 .5-3.9 .6-1.4 .5,1 .5,3.1 2.7,27 .5,3.1 .5,1.1 .6-1.8 .5-4.9 1.7-21.9 .6-4.9 .5-1.7 .5,1.3 .6,3.7 2.6,32.6 .5,3.7 .5,1.2 .6-1.8 .6-5.2 1.6-23.3 .6-5.1 .5-1.9 .6,1 .5,2.8 2.6,24.6 .5,2.8 .6,1 .5-1.5 .6-4.2 1.6-18.8 .6-4.1 .6-1.5 .5,1 .5,3.1 2.6,26.7 .6,3 .5,1 .6-1.4 .5-3.9 1.7-17.7 .5-3.9 .6-1.4 .5,1 1.1,7.7 2.1,22.2 .5,3.1 .5,1 .6-1.5 .5-4.2 1.7-19.1 .5-4.2 .6-1.6 .5,.9 .6,2.3 2.6,20.5 .5,2.3 .5,.8 .6-1.8 .6-5.3 1.6-23.5 .6-5.2 .5-1.8 .6,.8 .5,2.4 2.6,21.4 .5,2.4 .6,.9 .5-1.5 .6-4.2 1.6-18.6 .6-4.2 .5-1.5 .6,.6 .5,1.8 2.6,15.6 .6,1.8 .5,.6 .5-1.2 .6-3.2 1.7-14.3 .5-3.2 .6-1.2 .5,.8 1.1,5.5 2.1,16 .5,2.2 .5,.7 .6-1.5 .5-4.1 1.7-18.8 .5-4.2 .6-1.5 .5,.9 .6,2.5 2.6,22 .5,2.5 .5,.9 .6-1.4 .5-3.9 1.7-17.3 .6-3.9 .5-1.4 .5,.9 .6,2.5 2.6,22.5 .5,2.5 .6,.9 .5-1.9 .6-5.5 1.6-24.4 .6-5.4 .5-2 .6,1.1 .5,3 2.6,26.8 .6,3 .5,1.1 .5-1.7 .6-4.8 1.7-21.5 .5-4.8 .6-1.7 .5,1.1 .5,3.2 2.7,28.3 .5,3.2 .5,1.1 .6-1.3 .5-3.8 1.7-16.8 .5-3.8 .6-1.3 .5,.5 .5,1.6 2.7,13.6 .5,1.6 .5,.5 .6-1.1 .5-3 1.7-13.5 .6-3 .5-1.1 .5,.6 1.1,4 2.1,11.6 .5,1.6 .6,.6 .5-1.3 .6-3.6 1.6-16.3 .6-3.6 .5-1.3 .6,.9 .5,2.4 2.6,21.3 .6,2.4 .5,.9 .5-1.1 .6-2.8 1.7-13 .5-2.9 .6-1.1 .5,.9 1,6.6 2.2,18.9 .5,2.6 .5,.9 .6-1.8 .5-4.9 1.7-22.3 .5-5 .6-1.7 .5,.8 .5,2.3 2.7,20.1 .5,2.3 .5,.8 .6-1.4 .5-3.7 1.7-16.7 .6-3.7 .5-1.3 .5,.8 .6,2.1 2.6,19 .5,2.2 .6,.7 .5-1.4 .6-3.8 1.6-17.3 .6-3.9 .5-1.3 .6,.9 .5,2.7 2.6,23.5 .6,2.7 .5,.9 .5-1.5 .6-4.2 1.7-18.8 .5-4.2 .6-1.5 .5,.6 .5,1.7 2.7,15.4 .5,1.7 .5,.6 .6-1.1 .5-3 1.7-13.6 .5-3 .6-1.1 .5,.7 .5,1.7 2.7,15.8 .5,1.8 .5,.6 .6-1.2 .5-3.3 1.7-14.7 .6-3.3 .5-1.2 .5,.7 .6,1.9 2.6,17.3 .5,1.9 .6,.7 .5-1.1 .6-3.2 1.6-14.1 .6-3.1 .5-1.1 .6,.6 .5,1.7 2.6,14.9 .5,1.7 .6,.6 .5-1 .6-2.6 1.6-11.9 .6-2.6 .6-1 .5,.7 .5,2 2.6,17.4 .6,2 .5,.7 .6-1.1 .5-3.1 1.7-13.9 .5-3.1 .6-1.1 .5,.5 .5,1.5 2.7,12.9 .5,1.5 .5,.5 .6-1.1 .5-3.3 1.7-14.5 .6-3.2 .5-1.2 .5,.8 .6,2.2 2.6,19.4 .5,2.2 .5,.7 .6-1 .6-2.8 1.6-12.8 .6-2.8 .5-1 .6,.8 1,5.6 2.1,16.1 .5,2.2 .6,.7 .5-.7 .6-2.1 1.6-9.4 .6-2.1 .6-.7 .5,.5 .5,1.4 2.6,12.8 .6,1.4 .5,.5 .6-.6 .5-1.7 1.7-7.6 .5-1.7 .6-.6 .5,.6 1.1,4.1 2.1,11.9 .5,1.6 .5,.6 .6-1.1 .5-3.2 1.7-14.3 .5-3.2 .6-1.1 .5,.6 .6,1.9 2.6,16.7 .5,1.9 .5,.7 .6-.7 .6-1.9 1.6-8.4 .6-1.9 .5-.7 .6,.7 .5,2 2.6,17.9 .5,2 .6,.7 .5-.7 .6-1.9 1.6-8.7 .6-1.9 .5-.7 .6,.7 1,5.6 2.1,16.1 .6,2.2 .5,.8 .5-1.1 .6-3 1.7-13.4 .5-3 .6-1.1 .5,.5 .5,1.5 2.7,12.9 .5,1.5 .5,.5 .6-1.2 .5-3.3 1.7-14.9 .5-3.4 .6-1.2 .5,.5 .6,1.3 2.6,11.3 .5,1.3 .5,.4 .6-.9 .5-2.7 1.7-12 .6-2.7 .5-1 .5,.5 .6,1.5 2.6,12.9 .5,1.5 .6,.5 .5-1 .6-2.7 1.6-12.2 .6-2.8 .5-.9 .6,.6 .5,1.8 2.6,15.9 .6,1.8 .5,.6 .5-1.1 .6-2.9 1.7-13.4 .5-2.9 .6-1.1 .5,.7 .5,2.1 2.1,15.2 1.1,5.2 .5,.8 .6-.9 .5-2.3 1.7-10.6 .5-2.3 .6-.9 .5,.6 .5,1.6 2.7,14.2 .5,1.6 .5,.6 .6-1.2 .5-3.4 1.7-15.1 .6-3.4 .5-1.2 .5,.7 .6,2 2.6,17.8 .5,2 .6,.7 .5-1 .6-2.9 1.6-12.9 .6-2.9 .5-1 .6,.5 .5,1.5 2.6,13 .6,1.5 .5,.5 .5-1 .6-3 1.7-13.4 .5-2.9 .6-1.1 .5,.7 .5,2 2.7,17.8 .5,2 .5,.7 .6-1.2 .5-3.4 1.7-15.3 .5-3.4 .6-1.3 .5,.8 .5,2.1 2.2,15.2 1,5.2 .5,.8 .6-.6 .5-1.5 1.7-7 .6-1.6 .5-.5 .5,.3 .6,1.1 2.6,9.1 .5,1 .6,.4 .5-.8 .6-2.3 1.6-10.2 .6-2.3 .5-.8 .6,.5 .5,1.4 2.1,9.9 1.1,3.5 .5,.4 .5-.6 .6-1.8 1.7-8.1 .5-1.8 .6-.7 .5,.4 .5,1.2 2.7,10.2 .5,1.2 .5,.4 .6-1.2 .5-3.1 1.7-14.1 .5-3.1 .6-1.2 .5,.5 .5,1.4 2.7,12.4 .5,1.4 .5,.5 .6-.8 .5-2.2 1.7-9.9 .6-2.2 .5-.7 .5,.6 .6,1.7 2.1,12.5 1,4.4 .6,.6 .5-.8 .6-2.2 1.6-10 .6-2.3 .5-.8 .6,.7 .5,1.7 2.1,13 1,4.5 .6,.7 .5-.7 .6-1.9 1.6-8.5 .6-1.9 .6-.7 .5,.6 .5,1.6 2.6,14.8 .6,1.7 .5,.6 .6-.9 .5-2.3 1.7-10.7 .5-2.4 .6-.8 .5,.4 .5,1.2 2.7,10.7 .5,1.2 .5,.4 .6-.9 .5-2.5 1.7-11 .6-2.5 .5-.9 .5,.7 .6,2 2.1,14.4 1,5.1 .5,.6 .6-.7 .6-2.2 1.6-9.8 .6-2.2 .5-.7 .6,.6 .5,1.8 2.6,16 .5,1.8 .6,.6 .5-.9 .6-2.6 1.6-11.7 .6-2.6 .6-.9 .5,.8 .5,2.3 2.6,20.8 .6,2.3 .5,.9 .6-1.2 .5-3.4 1.7-15.2 .5-3.4 .6-1.2 .5,.5 .5,1.4 2.7,12.1 .5,1.4 .5,.5 .6-1.4 .5-3.7 1.7-16.8 .5-3.7 .6-1.3 .5,.7 .6,2 2.6,17.8 .5,2.1 .5,.7 .6-1.1 .6-3.1 1.6-13.8 .6-3.1 .5-1.1 .6,1 1,7.2 2.1,20.7 .5,2.8 .6,1 .5-1 .6-3 1.6-13.1 .6-2.9 .5-1 .6,.4 .5,1.5 2.6,12.6 .6,1.4 .5,.5 .5-1 .6-2.7 1.7-12.3 .5-2.7 .6-1 .5,.4 .5,1.4 2.7,11.5 .5,1.4 .5,.4 .6-.8 .5-2.4 1.7-10.6 .5-2.4 .6-.8 .5,.3 .6,1.1 2.6,9.4 .5,1.1 .5,.4 .6-.7 .5-1.8 1.7-8.3 .6-1.8 .5-.7 .5,.6 1.1,4.7 2.1,13.3 .5,1.9 .6,.6 .5-1 .6-2.8 1.6-12.4 .6-2.8 .5-1 .6,.5 .5,1.4 2.6,12.7 .6,1.4 .5,.5 .5-.9 .6-2.7 1.7-12.3 .5-2.7 .6-.9 .5,.6 .5,1.9 2.7,16.8 .5,1.9 .5,.7 .6-1.2 .5-3.1 1.7-14.1 .5-3.2 .6-1.1 .5,.7 .5,2 2.7,17.4 .5,2 .5,.7 .6-1.1 .5-3.1 1.7-14.1 .6-3.1 .5-1.2 .5,.8 .6,2.2 2.6,19.1 .5,2.2 .6,.7 .5-.8 .6-2.3 1.6-10.6 .6-2.3 .5-.9 .6,.8 1,5.7 2.1,16.3 .6,2.2 .5,.8 .5-1.4 .6-3.9 1.7-17.7 .5-3.9 .6-1.4 .5,.7 .5,2.2 2.7,18.8 .5,2.2 .5,.7 .6-1 .5-2.9 1.7-12.9 .5-2.9 .6-1 .5,.9 1.1,6.2 2.1,17.8 .5,2.5 .5,.8 .6-1.2 .5-3.4 1.7-15.4 .6-3.4 .5-1.2 .5,.7 .6,2.3 2.6,19.6 .5,2.2 .6,.8 .5-.8 .6-2.2 1.6-9.9 .6-2.2 .5-.7 .6,.5 .5,1.6 2.6,13.9 .6,1.5 .5,.6 .5-.9 .6-2.4 1.7-10.8 .5-2.4 .6-.8 .5,.4 .5,1.4 2.7,11.6 .5,1.3 .5,.4 .6-.7 .5-2 1.7-9 .5-2 .6-.7 .5,.6 .5,1.7 2.1,12.6 1.1,4.4 .5,.6 .6-.4 2.8-7.4 .5-.4 .5,.5 1.1,3.6 2.1,10.3 .5,1.4 .6,.5 .5-.8 .6-2.3 1.6-10.4 .6-2.3 .5-.8 .6,.6 1,4.7 2.1,13.2 .5,1.8 .6,.7 .5-.9 .6-2.5 1.6-11.2 .6-2.5 .6-.9 .5,.5 .5,1.2 2.6,10.7 .6,1.3 .5,.4 .6-1.2 .5-3.3 1.7-15 .5-3.3 .6-1.2 .5,.7 .5,1.9 2.7,17.5 .5,2 .5,.7 .6-1.1 .5-2.9 1.7-13.4 .6-2.9 .5-1.1 .5,.8 .6,2.4 2.6,21 .5,2.4 .5,.8 .6-.7 .6-2 1.6-9 .6-2.1 .5-.7" fill="none" stroke="#B5B5B5" stroke-width="2.4" stroke-linejoin="round" stroke-linecap="round" />
<path d="M123.3,1211.1l.5-1.7 .6-4.8 1.7-21.3 .5-4.7 .6-1.7 .5,.9 .5,2.5 2.7,22.2 .5,2.5 .5,.9 .6-1.3 .5-3.6 1.7-16.2 .5-3.6 .6-1.3 .5,.8 .5,2.2 2.7,19.8 .5,2.2 .5,.8 .6-1.4 .5-3.8 1.7-17.5 .6-3.8 .5-1.4 .5,.9 .6,2.7 2.6,23.8 .5,2.6 .6,1 .5-1.6 .6-4.3 1.6-19.3 .6-4.2 .5-1.6 .6,.8 .5,2.2 2.6,19.9 .6,2.2 .5,.8 .5-1.4 .6-3.9 1.7-17.5 .5-3.9 .6-1.4 .5,.6 .5,1.8 2.7,15.2 .5,1.7 .5,.6 .6-1.9 .5-5.3 1.7-23.8 .5-5.3 .6-1.9 .5,.6 .5,1.8 2.7,15.6 .5,1.7 .5,.7 .6-1.4 .5-4 1.7-17.6 .6-3.9 .5-1.4 .5,1 .6,2.7 2.6,24 .5,2.7 .6,1 .5-1.3 .6-3.6 1.6-16.4 .6-3.6 .5-1.3 .6,1.2 1,8.4 2.1,24.2 .6,3.3 .5,1.2 .5-1 .6-2.9 1.7-12.8 .5-2.8 .6-1 .5,.9 1,7.2 2.1,20.7 .6,2.9 .5,.9 .6-1.2 .5-3.3 1.7-15.2 .5-3.4 .6-1.2 .5,1 1.1,7.2 2.1,20.7 .5,2.8 .5,1 .6-2.1 .5-5.9 1.7-26.4 .6-5.9 .5-2.1 .5,1.1 .6,3 2.6,26.9 .5,3 .6,1.1 .5-1.4 .6-4 1.6-17.8 .6-4 .5-1.4 .6,1.1 .5,3.1 2.6,27.4 .5,3.1 .6,1.1 .5-1.9 .6-5.2 1.6-23.5 .6-5.2 .6-1.9 .5,.9 .5,2.4 2.6,21.4 .6,2.4 .5,.9 .6-1.8 .5-5.1 1.7-22.6 .5-5 .6-1.8 .5,.9 .5,2.4 2.7,21.1 .5,2.4 .5,.8 .6-1.6 .5-4.5 1.7-20.2 .5-4.5 .6-1.6 .5,.9 1.1,6.7 2.1,19.2 .5,2.6 .5,.9 .6-1.6 .6-4.3 1.6-19.6 .6-4.3 .5-1.6 .6,.6 .5,1.7 2.6,14.9 .5,1.7 .6,.6 .5-1.8 .6-4.9 1.6-22.1 .6-4.9 .6-1.7 .5,.9 .5,2.7 2.6,23.7 .6,2.7 .5,.9 .5-1.9 .6-5.3 1.7-23.9 .5-5.3 .6-1.9 .5,.8 .5,2.2 2.7,19.6 .5,2.2 .5,.8 .6-1.3 .5-3.7 1.7-16.5 .5-3.7 .6-1.3 .5,.8 .6,2.5 2.6,21.9 .5,2.5 .5,.8 .6-1.5 .6-4.3 1.6-19.2 .6-4.2 .5-1.6 .6,1.1 .5,3 2.6,26.7 .5,3 .6,1 .5-1.5 .6-4.5 1.6-19.8 .6-4.5 .5-1.5 .6,.8 .5,2.6 2.6,22.3 .6,2.5 .5,.9 .5-1.3 .6-3.4 1.7-15.4 .5-3.4 .6-1.2 .5,.7 .5,2 2.7,17.5 .5,2 .5,.7 .6-1.4 .5-3.7 1.7-16.6 .5-3.7 .6-1.4 .5,.8 .5,2.3 2.2,16.3 1,5.7 .5,.8 .6-.8 .5-2.2 1.7-10 .6-2.2 .5-.8 .5,.6 .6,1.7 2.6,15.3 .5,1.7 .6,.6 .5-1.6 .6-4.5 1.6-20.3 .6-4.5 .5-1.6 .6,.7 .5,1.9 2.6,16.7 .6,1.9 .5,.7 .5-1.2 .6-3.2 1.7-14.6 .5-3.3 .6-1.1 .5,1 .5,2.7 2.7,24.6 .5,2.8 .5,1 .6-1.7 .5-4.8 1.7-21.3 .5-4.8 .6-1.7 .5,.8 .5,2.1 2.7,19.2 .5,2.2 .5,.8 .6-1.5 .5-4 1.7-18.1 .6-4.1 .5-1.4 .5,.9 .6,2.6 2.6,23.3 .5,2.7 .6,.9 .5-1 .6-2.8 1.6-12.4 .6-2.8 .5-.9 .6,.5 .5,1.5 2.6,13.5 .6,1.5 .5,.6 .5-1.3 .6-3.7 1.7-16.4 .5-3.6 .6-1.3 .5,.6 .5,1.8 2.7,15.9 .5,1.7 .5,.7 .6-1.2 .5-3.3 1.7-14.7 .5-3.2 .6-1.2 .5,.9 .5,2.7 2.1,19.4 1.1,6.7 .5,.9 .6-.5 .5-1.7 1.7-7.2 .6-1.6 .5-.6 .5,.6 .6,1.6 2.6,14.7 .5,1.6 .6,.6 .5-1.5 .6-4.2 1.6-18.9 .6-4.3 .5-1.5 .6,1.4 .5,4.1 2.1,29.3 1.1,10.2 .5,1.4 .5-1.7 .6-5 1.7-22.1 .5-4.9 .6-1.8 .5,1.2 .5,3.3 2.6,29.4 .6,3.3 .5,1.2 .6-1.5 .5-4.3 1.7-19.1 .5-4.2 .6-1.5 .5,.6 .5,1.8 2.7,16.1 .5,1.8 .5,.6 .6-1.5 .5-4.2 1.7-19 .6-4.2 .5-1.5 .5,.5 .6,1.6 2.6,13.6 .5,1.6 .6,.5 .5-1 .6-2.7 1.6-12.3 .6-2.7 .5-1 .6,.7 .5,2 2.6,17.7 .5,2 .6,.7 .5-1.4 .6-3.9 1.6-17.6 .6-4 .6-1.4 .5,.6 .5,1.8 2.6,15.5 .6,1.8 .5,.6 .6-1.1 .5-2.9 1.7-13 .5-2.9 .6-1 .5,.3 .5,.8 2.7,7.5 .5,.9 .5,.3 .6-1.2 .5-3.1 1.7-14.1 .5-3.2 .6-1.1 .5,.6 .6,1.6 2.6,14.1 .5,1.6 .5,.6 .6-.9 .6-2.4 1.6-10.8 .6-2.4 .5-.9 .6,.6 1,4.2 2.1,12 .5,1.7 .6,.6 .5-1 .6-2.9 1.6-12.6 .6-2.8 .6-1 .5,.9 .5,2.5 2.1,18.8 1.1,6.6 .5,.9 .5-1 .6-2.5 1.7-11.4 .5-2.6 .6-.9 .5,.8 .5,2.4 2.7,21 .5,2.4 .5,.8 .6-1.1 .5-2.9 1.7-13.2 .5-2.9 .6-1 .5,.4 .6,1.5 2.6,12.4 .5,1.5 .5,.4 .6-.6 .6-2 1.6-8.6 .6-2 .5-.7 .6,.6 .5,1.6 2.6,14 .5,1.6 .6,.5 .5-.5 .6-1.6 1.6-7 .6-1.6 .5-.5 .6,.6 1,4.1 2.1,12.1 .6,1.6 .5,.6 .5-.9 .6-2.3 1.7-10.7 .5-2.4 .6-.9 .5,.7 .5,1.8 2.7,16.1 .5,1.9 .5,.6 .6-.9 .5-2.4 1.7-10.8 .5-2.4 .6-.8 .5,.6 .5,1.9 2.7,16.5 .5,1.9 .5,.6 .6-1 .5-2.8 1.7-12.8 .6-2.8 .5-1.1 .5,.4 .6,1.2 2.6,10.1 .5,1.1 .6,.4 .5-1.1 .6-3.1 1.6-13.9 .6-3.1 .5-1.1 .6,.5 .5,1.4 2.6,12.4 .6,1.4 .5,.5 .5-1 .6-2.7 1.7-12.1 .5-2.7 .6-1 .5,.5 .5,1.5 2.7,13.4 .5,1.5 .5,.5 .6-.9 .5-2.7 1.7-11.8 .5-2.6 .6-.9 .5,.6 .5,1.6 2.7,14.9 .5,1.7 .5,.6 .6-.9 .5-2.6 1.7-11.4 .6-2.5 .5-.9 .5,.6 1.1,5 2.1,14.1 .5,1.9 .6,.7 .5-.8 .6-2.2 1.6-9.8 .6-2.2 .5-.8 .6,.4 .5,1.1 2.6,9.5 .6,1.1 .5,.4 .5-.5 .6-1.5 1.7-6.6 .5-1.5 .6-.5 .5,.7 .5,2 2.7,17.4 .5,2 .5,.7 .6-.6 .5-1.7 1.7-7.5 .5-1.7 .6-.6 .5,.4 .5,1.1 2.7,10 .5,1.1 .5,.4 .6-.7 .5-2 1.7-8.9 .6-2 .5-.7 .5,.7 .6,1.9 2.6,17 .5,1.9 .6,.7 .5-1.3 .6-3.4 1.6-15.6 .6-3.5 .5-1.2 .6,.6 .5,1.7 2.6,14.9 .6,1.7 .5,.5 .5-.8 .6-2.3 1.7-10.6 .5-2.3 .6-.9 .5,.4 .5,.9 2.6,8.6 .6,.9 .5,.4 .6-1 .5-2.8 1.7-12.3 .5-2.8 .6-.9 .5,.5 .5,1.7 2.7,14.3 .5,1.6 .5,.6 .6-1.1 .5-3.1 1.7-14 .6-3.1 .5-1.2 .5,.6 .6,1.5 2.6,13.3 .5,1.5 .6,.5 .5-1.3 .6-3.5 1.6-16 .6-3.6 .5-1.3 .6,.4 .5,1.1 2.6,9.3 .5,1.1 .6,.3 .5-1.1 .6-3.3 1.6-14.7 .6-3.2 .6-1.2 .5,.6 .5,1.8 2.6,15.5 .6,1.8 .5,.6 .6-.9 .5-2.6 1.7-11.5 .5-2.5 .6-.9 .5,.6 .5,1.9 2.7,16.4 .5,1.8 .5,.7 .6-.9 .5-2.3 1.7-10.7 .5-2.4 .6-.8 .5,.5 .6,1.7 2.6,15 .5,1.7 .5,.6 .6-.9 .6-2.3 1.6-10.6 .6-2.3 .5-.9 .6,.5 .5,1.3 2.6,11.3 .5,1.3 .6,.4 .5-.7 .6-2 1.6-9 .6-2 .6-.7 .5,.5 .5,1.5 2.6,13.2 .6,1.5 .5,.5 .5-.6 .6-1.5 1.7-7.2 .5-1.6 .6-.6 .5,.6 1.1,3.8 2.1,11 .5,1.5 .5,.6 .6-.6 .5-1.6 1.7-7 .5-1.6 .6-.5 .5,.8 .6,2.2 2.6,20 .5,2.3 .5,.7 .6-.8 .6-2.4 1.6-10.9 .6-2.4 .5-.9 .6,.9 1,6 2.1,17.4 .5,2.4 .6,.9 .5-.9 .6-2.6 1.6-11.5 .6-2.5 .5-.9 .6,.5 .5,1.6 2.1,11.7 1.1,4 .5,.6 .5-1 .6-2.6 1.7-11.9 .5-2.6 .6-.9 .5,.5 .5,1.5 2.7,13.3 .5,1.5 .5,.6 .6-1.1 .5-2.9 1.7-13.1 .5-3 .6-1 .5,.6 .5,1.6 2.7,14.6 .5,1.6 .5,.6 .6-1 .5-2.9 1.7-13.2 .6-2.9 .5-1 .5,.4 .6,1.4 2.6,11.9 .5,1.4 .6,.4 .5-.6 .6-2 1.6-8.6 .6-2 .5-.7 .6,.6 1,4 2.1,11.4 .6,1.6 .5,.5 .5-1.1 .6-3 1.7-13.6 .5-3 .6-1.1 .5,.5 .5,1.5 2.7,12.6 .5,1.5 .5,.5 .6-1 .5-2.8 1.7-12.3 .5-2.8 .6-.9 .5,.7 .5,2.2 2.7,19.6 .5,2.2 .5,.8 .6-1 .5-2.7 1.7-12.3 .6-2.7 .5-1 .5,.7 .6,2.1 2.6,18.8 .5,2.1 .6,.8 .5-.8 .6-2.2 1.6-9.8 .6-2.1 .5-.8 .6,.6 .5,1.7 2.6,15 .6,1.7 .5,.6 .5-.9 .6-2.5 1.7-11 .5-2.5 .6-.8 .5,.7 .5,2.3 2.7,19.5 .5,2.2 .5,.8 .6-1.2 .5-3.2 1.7-14.4 .5-3.2 .6-1.2 .5,.6 .5,1.8 2.1,12.5 1.1,4.3 .5,.6 .6-.8 .5-2.1 1.7-9.5 .6-2.2 .5-.7 .5,.5 .6,1.4 2.6,12.9 .5,1.5 .6,.5 .5-1.4 .6-4 1.6-17.7 .6-4 .5-1.4 .6,.7 .5,1.8 2.6,16.6 .6,1.8 .5,.7 .5-1.1 .6-3.2 1.7-14.1 .5-3.1 .6-1.1 .5,.7 1,5 2.1,14.5 .6,2 .5,.7 .6-1.1 .5-3 1.7-13.6 .5-3 .6-1.1 .5,.5 .5,1.2 2.7,11.2 .5,1.3 .5,.4 .6-.8 .5-2.4 1.7-10.5 .6-2.4 .5-.8 .5,.4 .6,1.3 2.6,11.7 .5,1.3 .6,.4 .5-.6 .6-2 1.6-8.7 .6-1.9 .5-.7 .6,.4 .5,1.4 2.6,11.9 .5,1.4 .6,.5 .5-.7 .6-1.7 1.6-8 .6-1.8 .6-.6 .5,.5 .5,1.4 2.6,12.8 .6,1.5 .5,.5 .6-.7 .5-2.1 1.7-9.1 .5-2 .6-.7 .5,.7 .5,2 2.7,17.8 .5,2 .5,.7 .6-.9 .5-2.5 1.7-11.4 .5-2.6 .6-.9 .5,.6 .6,1.6 2.6,14.5 .5,1.7 .5,.6 .6-1.1 .6-3 1.6-13.5 .6-2.9 .5-1.1 .6,.8 .5,2.3 2.6,20.5 .5,2.3 .6,.8 .5-1.1 .6-3 1.6-13.7 .6-3.1 .6-1.1 .5,.8 .5,2.3 2.6,20.4 .6,2.3 .5,.8 .5-.7 .6-1.9 1.7-8.7 .5-2 .6-.7" fill="none" stroke="#B5B5B5" stroke-width="2.4" stroke-linejoin="round" stroke-linecap="round" />
<path d="M124.1,1210.1l.5-1.5 .6-4.1 1.7-18.8 .5-4.2 .6-1.5 .5,.9 .5,2.6 2.7,22.5 .5,2.5 .5,.9 .6-1.4 .5-3.9 1.7-17.7 .5-4 .6-1.4 .5,.7 .5,2.1 2.7,18.3 .5,2 .5,.8 .6-1.5 .5-4.2 1.7-18.7 .6-4.2 .5-1.5 .5,1 .6,2.8 2.6,25.1 .5,2.9 .6,1 .5-1.9 .6-5.4 1.6-24 .6-5.3 .5-1.9 .6,.8 .5,2.3 2.6,20.3 .6,2.3 .5,.8 .5-1.8 .6-5.3 1.6-23.5 .6-5.2 .6-1.9 .5,.5 .5,1.5 2.6,12.5 .6,1.4 .5,.5 .6-1.7 .5-4.7 1.7-21.2 .5-4.8 .6-1.7 .5,1 .5,2.7 2.7,23.7 .5,2.7 .5,.9 .6-1.2 .5-3.5 1.7-15.9 .6-3.5 .5-1.2 .5,.9 .6,2.7 2.6,23.6 .5,2.7 .5,.9 .6-1.5 .6-4.1 1.6-18.6 .6-4.1 .5-1.5 .6,1.3 .5,3.7 2.6,32.9 .5,3.7 .6,1.3 .5-1.4 .6-3.9 1.6-17.9 .6-3.9 .6-1.4 .5,.9 .5,2.6 2.1,19.1 1.1,6.7 .5,.9 .6-1 .5-3 1.7-13.3 .5-2.9 .6-1.1 .5,.9 .5,2.6 2.7,22.7 .5,2.6 .5,.9 .6-2 .5-5.5 1.7-24.8 .5-5.5 .6-2 .5,1.3 .6,3.9 2.6,34.2 .5,3.9 .5,1.4 .6-2.2 .6-5.9 1.6-26.8 .6-5.9 .5-2.2 .6,1 .5,2.6 2.6,22.9 .5,2.6 .6,1 .5-1.8 .6-5.1 1.6-22.5 .6-5 .6-1.8 .5,.9 .5,2.7 2.6,23.9 .6,2.8 .5,.9 .5-1.8 .6-5 1.7-22.4 .5-4.9 .6-1.8 .5,1.1 .5,3.2 2.7,28.3 .5,3.2 .5,1.1 .6-1.4 .5-3.9 1.7-17.5 .5-4 .6-1.3 .5,.7 .6,2.2 2.6,19.4 .5,2.2 .5,.8 .6-1.6 .6-4.4 1.6-19.8 .6-4.4 .5-1.5 .5,.8 .6,2.5 2.6,21.8 .5,2.5 .6,.8 .5-1.8 .6-5.1 1.6-22.9 .6-5.1 .5-1.8 .6,.9 .5,2.6 2.6,22.6 .6,2.6 .5,.9 .5-1.4 .6-3.9 1.7-17.6 .5-3.9 .6-1.4 .5,.7 .5,1.9 2.7,17.4 .5,2 .5,.6 .6-1.7 .5-4.8 1.7-21.5 .5-4.8 .6-1.7 .5,.9 .5,2.5 2.7,22.3 .5,2.5 .5,.9 .6-1.2 .5-3.3 1.7-14.9 .6-3.3 .5-1.2 .5,1 1.1,7.6 2.1,21.8 .5,3 .6,1 .5-1.4 .6-4.1 1.6-18.4 .6-4.1 .5-1.4 .6,.9 .5,2.6 2.6,22.9 .6,2.5 .5,.9 .5-1.6 .6-4.5 1.7-20.4 .5-4.6 .6-1.6 .5,1 .5,2.9 2.7,25.3 .5,2.9 .5,1 .6-1 .5-2.8 1.7-12.5 .5-2.8 .6-.9 .5,.6 .5,1.8 2.7,16.2 .5,1.8 .5,.7 .6-1 .5-2.6 1.7-11.8 .6-2.6 .5-.9 .5,.9 .6,2.6 2.6,23.2 .5,2.6 .6,.9 .5-1.3 .6-3.5 1.6-16 .6-3.5 .5-1.3 .6,.9 .5,2.6 2.6,23.1 .6,2.6 .5,1 .5-1.4 .6-3.7 1.7-16.7 .5-3.8 .6-1.3 .5,.9 .5,2.4 2.7,21.9 .5,2.5 .5,.8 .6-1.9 .5-5.5 1.7-24.6 .5-5.5 .6-1.9 .5,.7 .5,2.3 2.7,19.7 .5,2.3 .5,.8 .6-1.3 .5-3.4 1.7-15.3 .6-3.4 .5-1.2 .5,.5 .6,1.4 2.6,12.2 .5,1.4 .6,.5 .5-1.3 .6-3.8 1.6-16.9 .6-3.7 .5-1.4 .6,.6 .5,1.8 2.6,15.3 .6,1.8 .5,.6 .5-1.3 .6-3.5 1.6-15.6 .6-3.5 .6-1.3 .5,.5 .5,1.3 2.6,11.6 .6,1.3 .5,.4 .6-1.1 .5-3.2 1.7-14.3 .5-3.2 .6-1.1 .5,.9 .5,2.5 2.7,22.7 .5,2.5 .5,.9 .6-1.1 .5-3 1.7-13.5 .6-3 .5-1.1 .5,.7 .6,1.9 2.6,16.4 .5,1.9 .5,.6 .6-1.3 .6-3.9 1.6-17.5 .6-3.9 .5-1.4 .6,1 .5,3.1 2.6,27 .5,3.1 .6,1 .5-1.5 .6-4.5 1.6-19.9 .6-4.5 .6-1.5 .5,1.1 .5,3.2 2.6,28.7 .6,3.3 .5,1.1 .6-1.2 .5-3.3 1.7-14.7 .5-3.3 .6-1.2 .5,.7 .5,1.8 2.7,15.7 .5,1.8 .5,.7 .6-1.3 .5-3.6 1.7-16 .5-3.5 .6-1.3 .5,.7 .6,1.9 2.6,17 .5,1.9 .5,.7 .6-1.1 .6-3.1 1.6-13.8 .6-3.1 .5-1.1 .6,.8 1,5.8 2.1,16.7 .5,2.3 .6,.8 .5-1.3 .6-3.4 1.6-15.4 .6-3.4 .6-1.3 .5,.7 .5,2.1 2.6,18 .6,2 .5,.7 .5-.9 .6-2.5 1.7-11.3 .5-2.5 .6-.9 .5,.5 .5,1.3 2.7,12.2 .5,1.4 .5,.5 .6-1.1 .5-3.1 1.7-14 .5-3.1 .6-1.1 .5,.7 .6,1.9 2.6,16.6 .5,1.9 .5,.7 .6-1.2 .6-3.3 1.6-15.1 .6-3.3 .5-1.2 .5,.5 .6,1.5 2.6,13 .5,1.4 .6,.6 .5-1.1 .6-2.8 1.6-13 .6-2.9 .5-1 .6,.9 .5,2.4 2.6,21.7 .6,2.5 .5,.8 .5-1 .6-3 1.7-13.5 .5-3 .6-1.1 .5,.5 .5,1.3 2.7,11.6 .5,1.4 .5,.4 .6-1 .5-2.8 1.7-12.5 .5-2.8 .6-1 .5,.4 .5,1.3 2.7,11.5 .5,1.3 .5,.4 .6-.9 .5-2.6 1.7-11.8 .6-2.6 .5-.9 .5,.4 .6,1.2 2.6,10.9 .5,1.3 .6,.4 .5-1 .6-2.6 1.6-11.8 .6-2.7 .5-.9 .6,.5 .5,1.5 2.6,13.2 .6,1.5 .5,.5 .5-1 .6-2.8 1.7-12.6 .5-2.8 .6-1 .5,.6 .5,1.8 2.7,16.1 .5,1.8 .5,.7 .6-.8 .5-2.3 1.7-10.2 .5-2.3 .6-.8 .5,.5 .5,1.4 2.7,11.9 .5,1.3 .5,.5 .6-.9 .5-2.4 1.7-10.8 .6-2.4 .5-.9 .5,.8 .6,2 2.6,18.3 .5,2.1 .6,.7 .5-1.1 .6-2.9 1.6-13.4 .6-3 .5-1 .6,.3 .5,1.1 2.6,9 .6,1 .5,.4 .5-.7 .6-2 1.7-9.2 .5-2 .6-.7 .5,.7 .5,2 2.7,17.4 .5,2 .5,.7 .6-1 .5-3 1.7-13 .5-2.9 .6-1.1 .5,.6 .5,1.7 2.7,14.5 .5,1.7 .5,.6 .6-.9 .5-2.4 1.7-10.8 .6-2.4 .5-.9 .5,.6 .6,1.6 2.1,11.9 1,4.1 .6,.5 .5-.5 .6-1.5 1.6-6.5 .6-1.5 .5-.5 .6,.4 .5,1.2 2.6,10.6 .6,1.2 .5,.4 .5-.6 .6-2 1.6-8.6 .6-1.9 .6-.7 .5,.6 .5,1.6 2.6,14.1 .6,1.6 .5,.6 .6-.8 .5-2.4 1.7-10.5 .5-2.4 .6-.8 .5,.6 .5,1.9 2.7,16.9 .5,2 .5,.6 .6-.9 .5-2.6 1.7-11.8 .6-2.7 .5-.9 .5,.7 .6,2.1 2.6,18 .5,2.1 .5,.7 .6-1 .6-2.8 1.6-12.6 .6-2.8 .5-1 .6,.4 .5,1.3 2.1,9.1 1,3.1 .6,.4 .5-.4 .6-1.3 1.6-5.8 .6-1.3 .6-.5 .5,.3 .5,1 2.6,8.4 .6,.9 .5,.3 .6-.7 .5-2.1 1.7-9.3 .5-2 .6-.8 .5,.5 .5,1.3 2.7,11.6 .5,1.4 .5,.4 .6-.8 .5-2.4 1.7-10.5 .5-2.4 .6-.8 .5,.5 .6,1.5 2.6,13.2 .5,1.5 .5,.5 .6-1 .6-2.8 1.6-12.7 .6-2.8 .5-1 .6,.2 1,1.5 2.1,4.2 .5,.6 .6,.2 .5-.9 .6-2.6 1.6-11.4 .6-2.6 .6-.9 .5,.6 .5,1.7 2.6,15.2 .6,1.7 .5,.6 .5-.7 .6-1.9 1.7-8.6 .5-1.9 .6-.7 .5,.7 1.1,4.9 2.1,14.1 .5,2 .5,.7 .6-.8 .5-2.1 1.7-9.6 .5-2.1 .6-.8 .5,.7 1.1,4.8 2.1,13.8 .5,1.9 .5,.6 .6-1 .6-3 1.6-13.4 .6-3 .5-1 .5,.5 .6,1.6 2.6,14.3 .5,1.6 .6,.6 .5-.9 .6-2.3 1.6-10.6 .6-2.3 .5-.8 .6,.5 .5,1.4 2.6,12.6 .6,1.5 .5,.5 .5-.8 .6-2.3 1.7-10 .5-2.2 .6-.8 .5,.7 .5,2 2.7,18 .5,2 .5,.8 .6-1.2 .5-3.3 1.7-14.6 .5-3.2 .6-1.2 .5,.8 .5,2 2.7,18.4 .5,2.1 .5,.7 .6-.7 .5-2.1 1.7-9.5 .6-2.1 .5-.7 .5,.5 .6,1.6 2.6,13.7 .5,1.5 .6,.5 .5-.8 .6-2.6 1.6-11.2 .6-2.5 .5-.9 .6,.6 .5,2 2.6,17.5 .6,1.9 .5,.7 .5-.7 .6-2.1 1.7-9.5 .5-2.1 .6-.7 .5,.8 .5,2.5 2.7,21.7 .5,2.4 .5,.9 .6-1 .5-2.7 1.7-12.2 .5-2.7 .6-1 .5,.4 .5,1 2.7,9.3 .5,1 .5,.4 .6-.7 .5-2.1 1.7-9.1 .6-2.1 .5-.7 .5,.4 .6,1.3 2.6,11.1 .5,1.3 .6,.4 .5-.4 .6-1.1 1.6-5 .6-1.1 .5-.4 .6,.4 1,3.3 2.1,9.4 .6,1.3 .5,.4 .5-.9 .6-2.7 1.7-12.1 .5-2.7 .6-1 .5,.5 .5,1.4 2.7,12.3 .5,1.4 .5,.4 .6-.7 .5-2 1.7-9.1 .5-2 .6-.7 .5,.5 .5,1.6 2.7,14.4 .5,1.6 .5,.6 .6-1.1 .5-2.9 1.7-13.4 .6-3 .5-1.1 .5,.5 .6,1.4 2.6,12.4 .5,1.4 .6,.4 .5-1.1 .6-3 1.6-13.9 .6-3.1 .5-1.1 .6,.8 .5,2.4 2.1,17.5 1.1,6 .5,.9 .5-.9 .6-2.6 1.6-11.5 .6-2.6 .6-.9 .5,.8 .5,2.2 2.6,19.9 .6,2.2 .5,.8 .6-.9 .5-2.6 1.7-11.6 .5-2.6 .6-.9 .5,.8 .5,2.4 2.1,17.6 1.1,6.1 .5,.8 .6-.8 .5-2.3 1.7-10.3 .6-2.2 .5-.9 .5,.8 .6,2.1 2.6,18.7 .5,2.2 .5,.7 .6-1.1 .6-3.1 1.6-14 .6-3.2 .5-1.1 .6,.9 .5,2.6 2.6,22.4 .5,2.6 .6,.8 .5-1.3 .6-3.8 1.6-16.9 .6-3.8 .6-1.3 .5,.6 .5,1.8 2.6,16.2 .6,1.8 .5,.6 .6-1.1 .5-3 1.7-13.9 .5-3.1 .6-1.1 .5,.3 .5,.9 2.7,7.5 .5,.8 .5,.3 .6-.8 .5-2.5 1.7-10.9 .5-2.5 .6-.9 .5,.5 .6,1.1 2.6,10.3 .5,1.1 .5,.4 .6-.8 .6-2.4 1.6-10.6 .6-2.4 .5-.9 .6,.4 .5,1 2.6,8.7 .5,1 .6,.3 .5-.8 .6-2.4 1.6-10.6 .6-2.4 .6-.8 .5,.4 .5,1.2 2.6,10.5 .6,1.2 .5,.5 .5-.6 .6-1.7 1.7-7.4 .5-1.7 .6-.6 .5,.7 1.1,4.6 2.1,13.4 .5,1.9 .5,.6 .6-.9 .5-2.7 1.7-11.8 .5-2.6 .6-1 .5,.6 .6,1.6 2.6,14.1 .5,1.6 .5,.6 .6-1.2 .6-3.2 1.6-14.5 .6-3.2 .5-1.2 .5,.8 .6,2.2 2.6,19.8 .5,2.2 .6,.8 .5-1 .6-3 1.6-13.4 .6-2.9 .5-1.1 .6,.8 .5,2.3 2.1,16.7 1.1,5.8 .5,.8 .5-.4 .6-1.4 1.7-6.2 .5-1.3 .6-.5" fill="none" stroke="#B5B5B5" stroke-width="2.4" stroke-linejoin="round" stroke-linecap="round" />
<path d="M115.5,1211.4l.6-1 .5-2.7 1.7-12.1 .5-2.7 .6-1 .5,.7 .6,2.1 2.6,18.1 .5,2 .5,.7 .6-1.6 .6-4.5 1.6-20.2 .6-4.5 .5-1.6 .6,1 .5,2.9 2.6,25.7 .5,2.9 .6,1 .5-1.8 .6-5.3 1.6-23.5 .6-5.3 .6-1.8 .5,.7 .5,2.3 2.6,20 .6,2.3 .5,.8 .5-1.7 .6-4.6 1.7-20.9 .5-4.6 .6-1.7 .5,1 .5,2.7 2.1,20 1.1,6.9 .5,.9 .6-1.5 .5-4.4 1.7-19.7 .5-4.3 .6-1.6 .5,.9 .6,2.6 2.6,22.7 .5,2.6 .5,.9 .6-1.8 .6-4.9 1.6-22.2 .6-4.9 .5-1.8 .6,.8 .5,2.2 2.6,19.4 .5,2.1 .6,.8 .5-1.4 .6-4 1.6-17.9 .6-4 .5-1.5 .6,1.2 .5,3.5 2.6,30.3 .6,3.4 .5,1.2 .5-1.4 .6-4.1 1.7-18.3 .5-4 .6-1.5 .5,.7 .5,2.1 2.7,18.3 .5,2.1 .5,.7 .6-1 .5-2.6 1.7-11.9 .5-2.7 .6-.9 .5,1 .5,2.9 2.7,25.8 .5,3 .5,1 .6-1 .5-2.8 1.7-12.6 .6-2.8 .5-1 .5,1.2 1.1,8.7 2.1,25.1 .5,3.4 .6,1.2 .5-1.8 .6-5.1 1.6-23.1 .6-5.1 .5-1.8 .6,1.1 1,8.2 2.1,23.7 .6,3.3 .5,1.1 .5-2.4 .6-6.6 1.7-30 .5-6.7 .6-2.4 .5,1.4 .5,3.8 2.7,33.9 .5,3.9 .5,1.3 .6-2.5 .5-7 1.7-31.6 .5-7 .6-2.5 .5,.8 .5,2.3 2.7,20.9 .5,2.4 .5,.8 .6-2.3 .5-6.7 1.7-29.8 .6-6.7 .5-2.4 .5,1 .6,2.7 2.6,23.8 .5,2.7 .6,.9 .5-2.1 .6-6 1.6-26.8 .6-5.9 .5-2.2 .6,1.2 .5,3.3 2.6,29.6 .6,3.3 .5,1.2 .5-1.5 .6-4.2 1.7-18.9 .5-4.1 .6-1.5 .5,.8 .5,2.5 2.1,18.3 1.1,6.3 .5,.9 .6-1.4 .5-4 1.7-17.6 .5-4 .6-1.4 .5,.8 .5,2.2 2.7,19.4 .5,2.2 .5,.7 .6-1.8 .5-5.2 1.7-23.3 .6-5.1 .5-1.9 .5,.9 .6,2.6 2.6,23.2 .5,2.6 .6,.9 .5-1.7 .6-5 1.6-22.3 .6-5 .5-1.7 .6,.8 .5,2.6 2.6,22.8 .6,2.5 .5,.9 .5-1.4 .6-3.9 1.7-17.9 .5-3.9 .6-1.4 .5,1.1 1,8.2 2.1,23.5 .6,3.2 .5,1.1 .6-1.5 .5-4.5 1.7-19.8 .5-4.4 .6-1.6 .5,1.1 .5,3.1 2.7,27.7 .5,3.1 .5,1.1 .6-1.8 .5-5.2 1.7-23.2 .6-5.2 .5-1.8 .5,.8 .6,2.5 2.6,21.6 .5,2.5 .6,.8 .5-1.8 .6-5.3 1.6-23.7 .6-5.2 .5-1.9 .6,.8 .5,2.3 2.6,20.1 .5,2.2 .6,.8 .5-1 .6-2.9 1.6-13.2 .6-3 .6-1 .5,.8 1,6.2 2.1,17.6 .6,2.4 .5,.9 .6-1.1 .5-2.9 1.7-13.2 .5-3 .6-1 .5,.7 .5,2.3 2.7,19.5 .5,2.2 .5,.7 .6-1.1 .5-3.3 1.7-14.8 .5-3.3 .6-1.1 .5,.9 .6,2.7 2.6,24.2 .5,2.7 .5,.9 .6-1.4 .6-3.9 1.6-17.7 .6-3.9 .5-1.4 .6,1.2 .5,3.4 2.6,30.2 .5,3.4 .6,1.2 .5-1.7 .6-4.8 1.6-21.8 .6-4.8 .6-1.7 .5,.7 .5,2.2 2.1,15.6 1.1,5.5 .5,.7 .5-1 .6-2.9 1.7-12.9 .5-2.9 .6-1 .5,.7 .5,1.8 2.7,16 .5,1.8 .5,.6 .6-1.5 .5-4.2 1.7-19 .5-4.2 .6-1.5 .5,.5 .6,1.4 2.6,12.7 .5,1.4 .5,.5 .6-1.4 .6-4 1.6-17.8 .6-4 .5-1.4 .6,.6 .5,1.8 2.6,15.7 .5,1.8 .6,.7 .5-1.3 .6-3.6 1.6-16.2 .6-3.6 .5-1.2 .6,.8 1,6.4 2.1,18.2 .6,2.5 .5,.8 .5-1.1 .6-3.2 1.7-14.6 .5-3.2 .6-1.2 .5,.7 .5,1.9 2.7,16.9 .5,1.9 .5,.7 .6-1.4 .5-4 1.7-17.7 .5-3.9 .6-1.4 .5,1 .5,2.9 2.7,25.3 .5,2.9 .5,1 .6-1.5 .5-4.3 1.7-19 .6-4.3 .5-1.5 .5,1.3 1.1,9.4 2.1,27 .5,3.7 .6,1.3 .5-1.3 .6-3.4 1.6-15.7 .6-3.5 .5-1.3 .6,.7 .5,1.8 2.6,16 .6,1.8 .5,.7 .5-.8 .6-2.1 1.7-9.4 .5-2.1 .6-.8 .5,.4 .5,1.3 2.7,11.2 .5,1.3 .5,.4 .6-1 .5-3 1.7-13.3 .5-3 .6-1 .5,.8 .5,2.3 2.2,17 1,5.9 .5,.8 .6-.8 .5-2.4 1.7-10.7 .6-2.3 .5-.9 .5,.8 .6,2.3 2.6,20.2 .5,2.3 .6,.8 .5-1.1 .6-2.9 1.6-12.9 .6-2.9 .5-1.1 .6,.6 .5,1.5 2.6,13.5 .6,1.5 .5,.6 .5-1 .6-2.8 1.7-12.3 .5-2.7 .6-1 .5,.7 .5,2 2.7,17.9 .5,2 .5,.7 .6-1.4 .5-4.1 1.7-18.5 .5-4.1 .6-1.5 .5,.7 .5,2.1 2.7,18.3 .5,2 .5,.7 .6-1.2 .5-3.3 1.7-15.1 .6-3.4 .5-1.2 .5,.8 .6,2.4 2.1,17.1 1,5.9 .6,.8 .5-.9 .6-2.7 1.6-12 .6-2.7 .5-.9 .6,.7 .5,2 2.6,18.3 .6,2 .5,.7 .5-1.3 .6-3.8 1.7-17.2 .5-3.8 .6-1.3 .5,.4 .5,1.3 2.6,11.4 .6,1.3 .5,.4 .6-1.2 .5-3.2 1.7-14.8 .5-3.3 .6-1.2 .5,.5 .5,1.6 2.7,13.7 .5,1.6 .5,.5 .6-1 .5-3 1.7-13.2 .6-2.9 .5-1.1 .5,.5 .6,1.5 2.6,12.8 .5,1.5 .6,.5 .5-.9 .6-2.5 1.6-11.2 .6-2.5 .5-.9 .6,.7 1,5.7 2.1,16.1 .5,2.2 .6,.8 .5-1 .6-2.7 1.6-12.3 .6-2.7 .6-1 .5,.5 .5,1.6 2.6,14.1 .6,1.6 .5,.6 .6-1.3 .5-3.5 1.7-15.7 .5-3.5 .6-1.3 .5,.6 .5,1.6 2.7,13.9 .5,1.6 .5,.5 .6-.8 .5-2.4 1.7-10.7 .5-2.4 .6-.8 .5,.4 .6,1.2 2.6,10.8 .5,1.2 .5,.4 .6-1 .6-2.6 1.6-12.1 .6-2.7 .5-.9 .6,.7 .5,2 2.6,18.1 .5,2.1 .6,.7 .5-1 .6-2.7 1.6-12.2 .6-2.8 .6-.9 .5,.7 .5,1.9 2.6,17.2 .6,2 .5,.7 .5-.8 .6-2.2 1.7-9.7 .5-2.2 .6-.8 .5,.5 .5,1.3 2.7,11.6 .5,1.3 .5,.5 .6-.7 .5-1.9 1.7-8.4 .5-1.9 .6-.7 .5,.6 .6,1.6 2.1,11.5 1,4 .5,.6 .6-.6 .6-1.4 1.6-6.6 .6-1.5 .5-.5 .6,.5 .5,1.3 2.6,12.2 .5,1.4 .6,.5 .5-1.2 .6-3.5 1.6-15.7 .6-3.5 .5-1.2 .6,.5 .5,1.7 2.6,14.9 .6,1.7 .5,.5 .5-1 .6-2.9 1.7-12.9 .5-2.9 .6-1 .5,.6 1.1,4.5 2.1,12.9 .5,1.8 .5,.6 .6-1.1 .5-3.3 1.7-14.5 .5-3.2 .6-1.1 .5,.7 .5,2 2.7,17.8 .5,2.1 .5,.7 .6-1 .5-2.6 1.7-12 .6-2.6 .5-1 .5,.5 .6,1.4 2.6,12.1 .5,1.3 .6,.5 .5-.8 .6-2.2 1.6-10.2 .6-2.2 .5-.8 .6,.7 .5,2 2.6,17.4 .6,2 .5,.7 .5-1 .6-2.6 1.7-12.1 .5-2.7 .6-.9 .5,.5 .5,1.5 2.7,13.2 .5,1.5 .5,.6 .6-.9 .5-2.3 1.7-10.6 .5-2.4 .6-.8 .5,.3 .5,.9 2.7,8.5 .5,1 .5,.3 .6-1.3 .5-3.5 1.7-15.8 .6-3.6 .5-1.2 .5,.7 .6,2.2 2.1,15.6 1,5.4 .6,.7 .5-.8 .6-2.5 1.6-11 .6-2.5 .5-.9 .6,.6 .5,1.4 2.6,13.3 .6,1.4 .5,.6 .5-.7 .6-1.8 1.7-8 .5-1.8 .6-.7 .5,.7 .5,1.9 2.7,16.5 .5,1.9 .5,.6 .6-1.1 .5-3.1 1.7-14.2 .5-3.1 .6-1.2 .5,.4 .5,1 2.7,9.1 .5,1 .5,.4 .6-.8 .5-2.1 1.7-9.5 .6-2.1 .5-.7 .5,.5 .6,1.8 2.1,12.4 1,4.3 .6,.6 .5-.9 .6-2.5 1.6-11.3 .6-2.6 .5-.9 .6,.6 .5,1.7 2.6,15 .6,1.7 .5,.6 .5-1 .6-2.6 1.7-12 .5-2.7 .6-.9 .5,.8 .5,2.2 2.6,19.9 .6,2.3 .5,.8 .6-.9 .5-2.6 1.7-11.6 .5-2.6 .6-1 .5,.8 .5,2.1 2.7,18.4 .5,2 .5,.8 .6-1.3 .5-3.4 1.7-15.3 .6-3.4 .5-1.3 .5,.7 .6,1.8 2.6,15.7 .5,1.8 .6,.6 .5-1 .6-2.8 1.6-12.8 .6-2.8 .5-1 .6,.8 1,5.9 2.1,16.9 .5,2.4 .6,.8 .5-1.3 .6-3.8 1.6-16.6 .6-3.7 .6-1.3 .5,.5 .5,1.5 2.6,13.8 .6,1.5 .5,.6 .6-.6 .5-1.6 1.7-7.1 .5-1.6 .6-.6 .5,.5 .5,1.5 2.7,13.4 .5,1.5 .5,.5 .6-.6 .5-1.6 1.7-7.5 .5-1.7 .6-.5 .5,.6 1.1,4.5 2.1,13 .5,1.8 .5,.7 .6-.9 .6-2.5 1.6-11.3 .6-2.5 .5-.9 .6,.6 .5,1.5 2.6,13.5 .5,1.6 .6,.5 .5-.8 .6-2.3 1.6-10.5 .6-2.3 .6-.8 .5,.6 .5,2 2.6,17 .6,2 .5,.6 .5-.9 .6-2.6 1.7-11.8 .5-2.6 .6-.9 .5,.8 .5,2.4 2.7,21.1 .5,2.4 .5,.9 .6-1.2 .5-3.1 1.7-14.2 .5-3.2 .6-1.1 .5,.7 .6,2 2.6,17.7 .5,2 .5,.7 .6-1 .6-3 1.6-13.3 .6-3 .5-1 .6,.9 .5,2.6 2.6,23.5 .5,2.6 .6,.9 .5-1.2 .6-3.5 1.6-15.8 .6-3.5 .5-1.2 .6,.8 .5,2.2 2.6,20.2 .6,2.2 .5,.8 .5-1.1 .6-3.1 1.7-13.8 .5-3.1 .6-1.1 .5,.8 .5,2.1 2.7,18.7 .5,2.1 .5,.8 .6-1.2 .5-3.2 1.7-14.6 .5-3.3 .6-1.1 .5,.7 .5,2.1 2.7,19 .5,2.1 .5,.8 .6-1.1 .5-3.1 1.7-13.9 .6-3.1 .5-1.1 .5,.5 .6,1.4 2.6,12.6 .5,1.5 .6,.5 .5-1.1 .6-3.1 1.6-13.9 .6-3 .5-1.1 .6,.6 .5,1.7 2.6,15.2 .6,1.7 .5,.6 .5-.9 .6-2.3 1.7-10.7 .5-2.4 .6-.8 .5,.3 .5,.8 2.7,7.8 .5,.8 .5,.3 .6-.8 .5-2.2 1.7-10.2 .5-2.3 .6-.8 .5,.5 .5,1.6 2.7,13.8 .5,1.6 .5,.5 .6-.7 .5-2.2 1.7-9.7 .6-2.1 .5-.8 .5,.6 1.1,4.1 2.1,11.8 .5,1.7 .6,.5 .5-.9 .6-2.5 1.6-11.5 .6-2.5 .5-.9 .6,.7 .5,2.1 2.6,18.5 .6,2.1 .5,.7 .5-1 .6-2.9 1.7-12.9 .5-2.9 .6-1.1 .5,.6 .5,1.6 2.7,14.3 .5,1.6 .5,.5 .6-.9 .5-2.7 1.7-12.2 .5-2.7 .6-1 .5,.5 .5,1.5 2.7,12.8 .5,1.4 .5,.5 .6-1 .5-2.8 1.7-12.8 .6-2.9 .5-1 .5,.9 .6,2.4 2.1,17.7 1,6.1 .6,.9 .5-.7 .6-1.9 1.6-8.7 .6-1.9 .5-.7" fill="none" stroke="#B5B5B5" stroke-width="2.4" stroke-linejoin="round" stroke-linecap="round" />
<path d="M124.1,1231.9l.6-1.4 .5-3.9 1.7-17.8 .5-3.9 .6-1.4 .5,.6 .5,1.8 2.7,16 .5,1.9 .5,.6 .6-1.6 .5-4.4 1.7-19.7 .5-4.4 .6-1.5 .5,.5 .6,1.3 2.6,12.1 .5,1.3 .5,.5 .6-.9 .6-2.5 1.6-11.5 .6-2.6 .5-.9 .6,1.1 1,8 2.1,23.1 .5,3.1 .6,1.1 .5-1.5 .6-4.2 1.6-18.7 .6-4.2 .5-1.5 .6,.7 .5,2 2.6,17.2 .6,2 .5,.7 .5-1.8 .6-4.8 1.7-21.9 .5-4.9 .6-1.7 .5,.7 .5,2.1 2.7,18.6 .5,2.1 .5,.7 .6-1.6 .5-4.4 1.7-20 .5-4.4 .6-1.6 .5,.7 .6,1.8 2.6,16.6 .5,1.9 .5,.6 .6-1.1 .5-3.3 1.7-14.5 .6-3.2 .5-1.2 .5,.8 .6,2.1 2.6,18.5 .5,2.1 .6,.8 .5-.8 .6-2.2 1.6-9.7 .6-2.2 .5-.7 .6,1.1 1,8.2 2.1,23.8 .6,3.2 .5,1.2 .5-1.5 .6-4.2 1.7-18.9 .5-4.2 .6-1.5 .5,1.2 1.1,9.2 2.1,26.2 .5,3.6 .5,1.3 .6-1.5 .5-4.3 1.7-19.2 .5-4.3 .6-1.5 .5,1 1.1,7.4 2.1,21.4 .5,2.9 .5,1 .6-2 .5-5.8 1.7-26 .6-5.8 .5-2 .5,.8 .6,2.3 2.6,20.3 .5,2.4 .6,.8 .5-2.3 .6-6.3 1.6-28.2 .6-6.3 .5-2.2 .6,1 .5,3.1 2.6,27.2 .6,3.1 .5,1.1 .5-2.3 .6-6.5 1.7-28.9 .5-6.5 .6-2.3 .5,1.2 .5,3.3 2.7,29.2 .5,3.3 .5,1.2 .6-1.8 .5-5 1.7-22.7 .5-5.1 .6-1.8 .5,.8 .5,2.4 2.7,20.6 .5,2.4 .5,.8 .6-1.5 .5-4.1 1.7-18.7 .6-4.1 .5-1.5 .5,.9 1.1,6.8 2.1,19.5 .5,2.7 .6,.9 .5-1.4 .6-4.1 1.6-18.5 .6-4.1 .5-1.4 .6,.6 .5,2 2.6,17 .6,2 .5,.6 .5-1.5 .6-4.2 1.7-19.1 .5-4.2 .6-1.5 .5,1.2 .5,3.4 2.7,30.1 .5,3.5 .5,1.2 .6-2.2 .5-5.9 1.7-26.6 .5-5.9 .6-2.1 .5,.7 .5,2.1 2.7,18.5 .5,2.1 .5,.8 .6-1.5 .5-4.1 1.7-18.3 .6-4.1 .5-1.5 .5,1 1.1,6.8 2.1,19.7 .5,2.7 .6,.9 .5-1.7 .6-4.8 1.6-21.7 .6-4.8 .5-1.8 .6,1.2 .5,3.3 2.6,29 .5,3.3 .6,1.1 .5-1.3 .6-3.6 1.6-16.3 .6-3.6 .6-1.3 .5,.7 .5,1.9 2.6,16.6 .6,1.9 .5,.7 .6-1.4 .5-4 1.7-17.7 .5-4 .6-1.4 .5,.9 .5,2.4 2.7,21.5 .5,2.4 .5,.9 .6-1.4 .5-4 1.7-17.8 .6-4 .5-1.4 .5,.7 .6,2.1 2.1,15.2 1,5.3 .5,.8 .6-.6 .6-1.7 1.6-7.7 .6-1.7 .5-.6 .6,.8 1,6.1 2.1,17.5 .5,2.4 .6,.8 .5-1.2 .6-3.3 1.6-15.2 .6-3.3 .6-1.2 .5,.8 .5,2.3 2.6,20.6 .6,2.3 .5,.8 .6-1.3 .5-3.6 1.7-16.3 .5-3.6 .6-1.3 .5,1.1 .5,3.1 2.7,27.7 .5,3.2 .5,1 .6-2 .5-5.6 1.7-25.3 .5-5.7 .6-2 .5,.8 .6,2.3 2.6,20.1 .5,2.2 .5,.8 .6-1.7 .6-4.7 1.6-21.5 .6-4.8 .5-1.7 .6,.9 .5,2.5 2.6,22.4 .5,2.6 .6,.9 .5-1.3 .6-3.5 1.6-15.6 .6-3.5 .5-1.3 .6,.6 .5,1.5 2.6,13.6 .6,1.6 .5,.5 .5-1.1 .6-3.2 1.7-14.1 .5-3.1 .6-1.1 .5,.4 .5,1.2 2.7,10.9 .5,1.3 .5,.4 .6-1.2 .5-3.2 1.7-14.6 .5-3.2 .6-1.2 .5,.9 .6,2.6 2.6,22.9 .5,2.6 .5,.9 .6-.7 .5-2.1 1.7-9.3 .6-2.1 .5-.7 .5,.5 .6,1.6 2.6,14.3 .5,1.6 .6,.6 .5-1.3 .6-3.6 1.6-16.1 .6-3.6 .5-1.2 .6,.9 .5,2.5 2.6,22.6 .6,2.6 .5,.9 .5-1.3 .6-3.6 1.7-16.3 .5-3.6 .6-1.3 .5,1 .5,2.8 2.7,24.8 .5,2.8 .5,1 .6-1.7 .5-4.8 1.7-21.5 .5-4.8 .6-1.7 .5,.7 .5,1.8 2.7,16.1 .5,1.9 .5,.6 .6-1.3 .5-3.5 1.7-15.7 .6-3.5 .5-1.3 .5,.7 .6,1.8 2.6,16 .5,1.8 .6,.7 .5-1.2 .6-3.1 1.6-14.1 .6-3.2 .5-1.1 .6,.6 .5,1.7 2.1,12.3 1.1,4.2 .5,.6 .5-.9 .6-2.6 1.7-11.7 .5-2.6 .6-.9 .5,.5 .5,1.4 2.7,12.5 .5,1.4 .5,.5 .6-.8 .5-2.3 1.7-10.3 .5-2.3 .6-.8 .5,.4 .5,1.2 2.7,10 .5,1.1 .5,.4 .6-1.1 .5-2.9 1.7-13.4 .6-3 .5-1 .5,.5 .6,1.6 2.6,14.1 .5,1.6 .6,.5 .5-.8 .6-2.6 1.6-11.2 .6-2.5 .5-.9 .6,.7 1,4.7 2.1,13.8 .6,1.8 .5,.7 .5-1 .6-2.8 1.7-12.4 .5-2.8 .6-1 .5,.6 .5,1.7 2.7,15 .5,1.7 .5,.6 .6-.5 .5-1.5 1.7-6.8 .5-1.5 .6-.6 .5,.8 .5,2.1 2.7,18.6 .5,2.1 .5,.8 .6-1.3 .5-3.5 1.7-15.8 .6-3.5 .5-1.2 .5,.5 .6,1.5 2.6,13 .5,1.5 .6,.5 .5-.8 .6-2.3 1.6-10.2 .6-2.2 .5-.8 .6,.7 .5,2.1 2.1,15.4 1,5.4 .6,.7 .5-.7 .6-2.2 1.6-9.9 .6-2.2 .6-.8 .5,.6 .5,1.8 2.6,15.3 .6,1.8 .5,.6 .6-.8 .5-2.1 1.7-9.7 .5-2.1 .6-.8 .5,.7 .5,2.1 2.7,18.6 .5,2.1 .5,.7 .6-1.1 .5-3.2 1.7-14.2 .6-3.2 .5-1.1 .5,.7 .6,2.1 2.6,18.4 .5,2.1 .5,.7 .6-1.1 .6-3.1 1.6-14.1 .6-3.1 .5-1.1 .6,.3 .5,.9 2.6,8.2 .5,1 .6,.3 .5-.6 .6-1.6 1.6-7.2 .6-1.6 .6-.6 .5,.4 1,2.9 2.1,8.4 .6,1.1 .5,.4 .6-.7 .5-2.2 1.7-9.6 .5-2.2 .6-.8 .5,.6 .5,1.7 2.7,14.5 .5,1.7 .5,.5 .6-.8 .5-2.2 1.7-10.1 .5-2.3 .6-.8 .5,.6 .6,1.6 2.6,14 .5,1.6 .5,.6 .6-1 .6-2.7 1.6-12.2 .6-2.8 .5-.9 .6,.4 .5,1.1 2.6,10.3 .5,1.2 .6,.4 .5-.5 .6-1.6 1.6-7.1 .6-1.5 .5-.6 .6,.4 .5,1.2 2.6,10.6 .6,1.2 .5,.5 .5-.5 .6-1.1 1.7-5.2 .5-1.1 .6-.4 .5,.7 .5,2.1 2.7,18.2 .5,2.1 .5,.7 .6-1 .5-2.7 1.7-12.3 .5-2.7 .6-1 .5,.6 .6,1.7 2.6,14.7 .5,1.6 .5,.6 .6-1.1 .5-3 1.7-13.8 .6-3.1 .5-1.1 .5,.6 .6,1.6 2.6,14.2 .5,1.6 .6,.5 .5-1 .6-2.9 1.6-13.2 .6-2.9 .5-1 .6,.5 .5,1.4 2.6,12.4 .6,1.4 .5,.5 .5-.6 .6-1.8 1.7-7.8 .5-1.8 .6-.6 .5,.3 .5,1 2.7,8.2 .5,.9 .5,.3 .6-.5 .5-1.3 1.7-5.9 .5-1.4 .6-.4 .5,.4 .5,1.3 2.7,11.4 .5,1.3 .5,.5 .6-.8 .5-2.2 1.7-9.9 .6-2.2 .5-.8 .5,.4 .6,1.2 2.6,10.8 .5,1.3 .6,.4 .5-1.1 .6-3 1.6-13.6 .6-3 .5-1.1 .6,.4 .5,1 2.6,8.8 .6,1 .5,.4 .5-.7 .6-2 1.7-8.7 .5-2 .6-.7 .5,.8 .5,2 2.7,18.4 .5,2.1 .5,.7 .6-1.1 .5-3 1.7-13.8 .5-3 .6-1.1 .5,.5 .5,1.4 2.7,12.7 .5,1.4 .5,.5 .6-.6 .5-1.7 1.7-7.5 .6-1.7 .5-.6 .5,.6 1.1,4.2 2.1,12.3 .5,1.6 .6,.6 .5-1.2 .6-3.3 1.6-14.9 .6-3.3 .5-1.2 .6,.5 .5,1.4 2.6,12.6 .6,1.5 .5,.5 .5-.8 .6-2.2 1.7-9.8 .5-2.2 .6-.8 .5,.4 .5,1.3 2.7,11.4 .5,1.3 .5,.4 .6-.7 .5-2.1 1.7-9.4 .5-2.1 .6-.8 .5,.7 .5,1.7 2.7,15.7 .5,1.8 .5,.6 .6-1 .5-2.7 1.7-12.3 .6-2.8 .5-1 .5,.6 .6,1.6 2.6,14.1 .5,1.6 .6,.6 .5-.8 .6-2 1.6-9.4 .6-2 .5-.8 .6,.6 .5,1.8 2.6,15.3 .5,1.7 .6,.6 .5-1.1 .6-3.2 1.6-14.3 .6-3.2 .6-1.2 .5,.6 .5,1.8 2.1,12.5 1.1,4.3 .5,.6 .6-.5 .5-1.4 1.7-6.3 .5-1.5 .6-.5 .5,.5 .5,1.5 2.7,13.1 .5,1.5 .5,.5 .6-1.2 .5-3.5 1.7-15.6 .6-3.5 .5-1.2 .5,.6 .6,1.7 2.6,14.9 .5,1.6 .5,.6 .6-.7 .6-2.2 1.6-9.9 .6-2.2 .5-.7 .6,.4 .5,1.5 2.6,12.7 .5,1.4 .6,.5 .5-.7 .6-2.1 1.6-9.3 .6-2.1 .6-.8 .5,.6 1,4.4 2.1,12.5 .6,1.7 .5,.6 .6-.9 .5-2.4 1.7-10.7 .5-2.4 .6-.9 .5,.5 .5,1.3 2.7,11.4 .5,1.3 .5,.4 .6-.7 .5-2 1.7-9 .5-2 .6-.7 .5,.6 .6,1.5 2.6,13.8 .5,1.6 .5,.6 .6-1.1 .6-2.9 1.6-12.9 .6-2.9 .5-1.1 .6,.7 .5,2.1 2.1,14.8 1,5.1 .6,.7 .5-.8 .6-2.3 1.6-10.2 .6-2.3 .5-.8 .6,.6 .5,1.8 2.6,16.2 .6,1.8 .5,.7 .5-1.4 .6-3.6 1.7-16.5 .5-3.6 .6-1.3 .5,.8 .5,2.4 2.1,17.1 1.1,6 .5,.8 .6-.9 .5-2.5 1.7-11 .5-2.5 .6-.9 .5,.8 .6,2.4 2.6,21.1 .5,2.4 .5,.8 .6-1.1 .5-3.4 1.7-14.8 .6-3.3 .5-1.2 .5,.8 .6,2.2 2.6,19.6 .5,2.2 .6,.8 .5-1.3 .6-3.6 1.6-16.1 .6-3.6 .5-1.2 .6,.6 .5,1.9 2.6,16.7 .6,1.9 .5,.6 .5-1.6 .6-4.4 1.7-20 .5-4.5 .6-1.6 .5,.7 .5,1.9 2.7,16.7 .5,2 .5,.6 .6-1.1 .5-3 1.7-13.7 .5-3.1 .6-1.1 .5,.5 .5,1.3 2.7,11.4 .5,1.3 .5,.5 .6-.4 .5-1.2 1.7-5.2 .6-1.2 .5-.4 .5,.5 1.1,3.4 2.1,10 .5,1.3 .6,.5 .5-.7 .6-2 1.6-8.9 .6-2 .5-.7 .6,.4 .5,1.3 2.6,11 .6,1.3 .5,.4 .5-.7 .6-1.9 1.7-8.6 .5-1.9 .6-.7 .5,.5 1,3.7 2.2,10.7 .5,1.5 .5,.5 .6-.7 .5-2 1.7-8.7 .5-1.9 .6-.7 .5,.6 .5,1.7 2.7,15.4 .5,1.7 .5,.6 .6-.7 .5-1.9 1.7-8.9 .6-1.9 .5-.7 .5,.4 .6,1.4 2.6,11.6 .5,1.4 .6,.4 .5-.9 .6-2.4 1.6-11.2 .6-2.5 .5-.9 .6,.5 .5,1.6 2.6,14 .6,1.5 .5,.6 .5-1.3 .6-3.5 1.7-15.7 .5-3.5 .6-1.3 .5,.8 .5,2.3 2.1,16.5 1.1,5.7 .5,.8 .6-.6 .5-1.7 1.7-7.8 .5-1.7 .6-.6" fill="none" stroke="#B5B5B5" stroke-width="2.4" stroke-linejoin="round" stroke-linecap="round" />
<path d="M124.5,1236.6l.5-1.3 .6-3.7 1.6-16.5 .6-3.7 .5-1.3 .6,.5 .5,1.6 2.6,14.1 .6,1.6 .5,.6 .5-1.4 .6-3.8 1.6-17.3 .6-3.8 .6-1.4 .5,.5 .5,1.6 2.6,13.3 .6,1.5 .5,.5 .6-1 .5-2.9 1.7-12.8 .5-2.9 .6-1 .5,.7 1.1,5.3 2.1,15 .5,2.1 .5,.7 .6-1.7 .5-4.9 1.7-21.9 .6-4.9 .5-1.7 .5,.7 .6,1.9 2.6,16.9 .5,2 .5,.6 .6-1.6 .6-4.4 1.6-19.8 .6-4.4 .5-1.6 .6,.7 .5,2.2 2.6,19 .5,2.1 .6,.8 .5-1.6 .6-4.4 1.6-19.5 .6-4.4 .6-1.6 .5,.8 .5,2.3 2.6,20.1 .6,2.2 .5,.8 .6-1.1 .5-3.2 1.7-14.4 .5-3.2 .6-1.1 .5,.6 .5,1.7 2.7,15.3 .5,1.8 .5,.6 .6-1.1 .5-3.1 1.7-13.8 .5-3 .6-1.1 .5,1.1 .6,3.4 2.6,29.2 .5,3.3 .5,1.2 .6-1.4 .6-3.8 1.6-17.3 .6-3.8 .5-1.4 .6,1.1 .5,3.2 2.6,28.1 .5,3.2 .6,1.1 .5-1.7 .6-4.7 1.6-21.2 .6-4.7 .6-1.7 .5,1.1 .5,3.4 2.6,29.9 .6,3.4 .5,1.1 .5-1.8 .6-5 1.7-22.7 .5-5 .6-1.8 .5,.9 .5,2.7 2.7,23.8 .5,2.6 .5,1 .6-1.9 .5-5.4 1.7-24.2 .5-5.4 .6-1.9 .5,.9 .6,2.6 2.6,22.9 .5,2.6 .5,.9 .6-1.9 .6-5.4 1.6-24.3 .6-5.5 .5-1.9 .5,1.3 .6,3.8 2.6,33 .5,3.8 .6,1.3 .5-2.3 .6-6.2 1.6-27.9 .6-6.3 .5-2.2 .6,1.2 .5,3.3 2.6,29.3 .6,3.4 .5,1.1 .5-1.2 .6-3.4 1.7-15.4 .5-3.4 .6-1.2 .5,1.1 .5,3.2 2.1,23.3 1.1,8.2 .5,1.1 .6-1.4 .5-3.7 1.7-16.9 .5-3.8 .6-1.3 .5,.8 .5,2.3 2.7,20.2 .5,2.3 .5,.8 .6-1.7 .5-4.5 1.7-20.6 .6-4.6 .5-1.6 .5,1 .6,2.8 2.6,24.9 .5,2.8 .6,1 .5-1.8 .6-5.1 1.6-23.1 .6-5.2 .5-1.8 .6,.7 .5,2.1 2.6,18.7 .6,2.1 .5,.7 .5-1.5 .6-4.2 1.7-18.8 .5-4.2 .6-1.5 .5,1 .5,2.8 2.1,20.5 1.1,7.1 .5,1 .6-1.4 .5-3.9 1.7-17.5 .5-3.9 .6-1.3 .5,.9 .5,2.8 2.7,24.7 .5,2.8 .5,.9 .6-1.7 .5-4.7 1.7-21.3 .6-4.7 .5-1.7 .5,.6 .6,1.9 2.6,16.1 .5,1.9 .6,.6 .5-1.2 .6-3.3 1.6-14.9 .6-3.3 .5-1.2 .6,.5 .5,1.5 2.6,12.8 .6,1.4 .5,.5 .5-1.4 .6-3.9 1.7-17.6 .5-3.9 .6-1.4 .5,.5 .5,1.4 2.7,12.5 .5,1.4 .5,.5 .6-.9 .5-2.5 1.7-11.1 .5-2.5 .6-.9 .5,.9 1.1,6.1 2.1,17.8 .5,2.5 .5,.8 .6-1.4 .5-3.9 1.7-17.5 .6-3.9 .5-1.4 .5,.9 .6,2.5 2.6,22.6 .5,2.5 .6,.9 .5-1.9 .6-5.4 1.6-24.3 .6-5.4 .5-1.9 .6,1 .5,2.7 2.6,24.1 .6,2.7 .5,1 .5-1.5 .6-4 1.6-18.1 .6-4.1 .6-1.4 .5,.8 .5,2.3 2.6,20.1 .6,2.3 .5,.8 .6-1.8 .5-5.1 1.7-22.8 .5-5.1 .6-1.8 .5,.8 .5,2.3 2.1,16.5 1.1,5.7 .5,.8 .6-1 .5-2.9 1.7-12.9 .6-2.9 .5-1 .5,.6 .6,2 2.6,17.6 .5,2 .5,.7 .6-1.3 .6-3.6 1.6-16 .6-3.6 .5-1.3 .6,.5 .5,1.3 2.6,11.6 .5,1.3 .6,.5 .5-.9 .6-2.6 1.6-11.5 .6-2.5 .6-1 .5,.8 .5,2 2.6,18.4 .6,2.1 .5,.7 .6-.8 .5-2.4 1.7-10.5 .5-2.3 .6-.8 .5,.8 1.1,5.7 2.1,16.6 .5,2.3 .5,.8 .6-1.1 .5-3.2 1.7-14.2 .5-3.2 .6-1.1 .5,.9 1.1,6.9 2.1,19.7 .5,2.7 .5,.9 .6-1.4 .6-4.1 1.6-18 .6-4.1 .5-1.4 .6,.9 .5,2.7 2.6,23.9 .5,2.7 .6,.9 .5-1.8 .6-5 1.6-22.7 .6-5.1 .6-1.8 .5,.6 .5,1.8 2.1,12.5 1.1,4.4 .5,.6 .5-.8 .6-2.3 1.7-10.3 .5-2.3 .6-.9 .5,.6 .5,1.6 2.7,13.9 .5,1.6 .5,.6 .6-1.1 .5-3.2 1.7-14 .5-3.1 .6-1.2 .5,.8 .6,2.3 2.6,20.2 .5,2.2 .5,.8 .6-1.1 .6-3 1.6-13.8 .6-3 .5-1.1 .5,.5 .6,1.6 2.6,13.8 .5,1.5 .6,.6 .5-1.2 .6-3.4 1.6-15 .6-3.3 .5-1.2 .6,.5 .5,1.6 2.6,13.9 .6,1.5 .5,.6 .5-1.1 .6-3.1 1.7-13.7 .5-3.1 .6-1.1 .5,.8 1.1,5.8 2.1,16.8 .5,2.3 .5,.8 .6-1.1 .5-2.9 1.7-12.9 .5-2.9 .6-1.1 .5,.6 .5,1.6 2.7,14.3 .5,1.6 .5,.6 .6-1.2 .5-3.2 1.7-14.2 .6-3.2 .5-1.2 .5,.5 .6,1.5 2.6,12.7 .5,1.5 .6,.5 .5-1 .6-2.9 1.6-12.9 .6-2.8 .5-1.1 .6,.7 .5,1.8 2.6,16.3 .6,1.9 .5,.6 .5-1 .6-2.9 1.7-13.1 .5-3 .6-1 .5,.6 .5,1.7 2.7,14.8 .5,1.7 .5,.5 .6-.7 .5-2.2 1.7-9.6 .5-2.2 .6-.7 .5,.5 .5,1.5 2.7,13.5 .5,1.5 .5,.6 .6-.7 .5-1.7 1.7-7.8 .6-1.8 .5-.6 .5,.4 .6,1 2.6,9.2 .5,1 .6,.4 .5-.7 .6-2 1.6-8.9 .6-2 .5-.7 .6,.7 .5,2.1 2.6,18.3 .6,2.1 .5,.7 .5-.8 .6-2.1 1.7-9.7 .5-2.1 .6-.8 .5,.7 .5,2.1 2.7,17.9 .5,2.1 .5,.7 .6-.9 .5-2.4 1.7-10.9 .5-2.5 .6-.8 .5,.5 .5,1.5 2.7,13.1 .5,1.5 .5,.5 .6-1.1 .5-3.1 1.7-13.7 .6-3.1 .5-1.1 .5,.4 .6,1.1 2.6,9.6 .5,1.1 .6,.3 .5-1 .6-2.8 1.6-12.7 .6-2.8 .5-1 .6,.4 .5,1.3 2.6,11.2 .6,1.2 .5,.5 .5-.8 .6-2.3 1.6-10.2 .6-2.2 .6-.8 .5,.5 .5,1.7 2.6,14.8 .6,1.7 .5,.6 .6-.8 .5-2.4 1.7-10.4 .5-2.3 .6-.8 .5,.4 .5,1 2.7,9.1 .5,1 .5,.4 .6-.6 .5-1.7 1.7-7.6 .6-1.7 .5-.6 .5,.5 1.1,3.3 2.1,9.7 .5,1.4 .5,.4 .6-.5 .6-1.5 1.6-6.8 .6-1.5 .5-.5 .6,.4 1,3.3 2.1,9.4 .5,1.3 .6,.4 .5-.5 .6-1.7 1.6-7.4 .6-1.7 .6-.6 .5,.6 .5,1.5 2.6,13.9 .6,1.5 .5,.6 .6-.7 .5-1.8 1.7-8.2 .5-1.8 .6-.7 .5,.8 .5,2.1 2.7,18.4 .5,2.1 .5,.7 .6-1.1 .5-3 1.7-13.3 .5-3 .6-1.1 .5,.7 .6,1.9 2.6,16.7 .5,1.8 .5,.7 .6-.8 .6-2.3 1.6-10.2 .6-2.2 .5-.8 .6,.3 .5,1 2.6,8.7 .5,1 .6,.4 .5-.7 .6-1.7 1.6-7.9 .6-1.7 .6-.6 .5,.5 .5,1.5 2.6,13.3 .6,1.5 .5,.5 .5-1 .6-2.8 1.7-12.8 .5-2.8 .6-1 .5,.7 .5,2.1 2.7,18.4 .5,2.1 .5,.7 .6-1.2 .5-3.2 1.7-14.5 .5-3.2 .6-1.2 .5,.4 .6,1 2.6,9.4 .5,1.1 .5,.3 .6-.8 .6-2.3 1.6-10.5 .6-2.4 .5-.8 .5,.7 .6,1.9 2.6,17 .5,1.9 .6,.6 .5-.7 .6-2 1.6-9.3 .6-2.1 .5-.7 .6,.4 .5,1.2 2.6,10.3 .6,1.2 .5,.4 .5-.8 .6-2.3 1.7-10.4 .5-2.3 .6-.8 .5,.8 .5,2.2 2.7,20 .5,2.3 .5,.8 .6-1.1 .5-2.9 1.7-13.2 .5-3 .6-1 .5,.4 .5,1.2 2.7,10.6 .5,1.2 .5,.4 .6-.8 .5-2.3 1.7-10.2 .6-2.3 .5-.8 .5,.6 1.1,3.7 2.1,10.9 .5,1.5 .6,.5 .5-.7 .6-1.8 1.6-8.5 .6-1.9 .5-.7 .6,.5 .5,1.4 2.6,12.3 .6,1.3 .5,.5 .5-.9 .6-2.6 1.7-11.8 .5-2.6 .6-.9 .5,.6 .5,1.8 2.7,16 .5,1.8 .5,.7 .6-1 .5-2.6 1.7-12 .5-2.7 .6-1 .5,.6 .5,1.7 2.7,15.1 .5,1.8 .5,.6 .6-.9 .5-2.4 1.7-10.9 .6-2.4 .5-.8 .5,.7 .6,2 2.1,14.7 1,5.1 .6,.7 .5-.7 .6-2.1 1.6-9.4 .6-2.1 .5-.8 .6,.7 .5,2 2.6,17.4 .6,2 .5,.6 .5-1.2 .6-3.3 1.7-15.1 .5-3.3 .6-1.2 .5,.4 .5,1.2 2.7,10.3 .5,1.2 .5,.4 .6-.9 .5-2.5 1.7-11.2 .5-2.5 .6-.9 .5,.6 .5,1.5 2.1,11.4 1.1,3.9 .5,.6 .6-.5 .5-1.5 1.7-6.6 .6-1.4 .5-.6 .5,.5 .6,1.4 2.6,12.4 .5,1.4 .6,.5 .5-.8 .6-2.2 1.6-9.9 .6-2.2 .5-.8 .6,.4 .5,1.4 2.6,11.7 .6,1.3 .5,.5 .5-.9 .6-2.4 1.6-11 .6-2.5 .6-.8 .5,.4 .5,1.3 2.6,11.2 .6,1.3 .5,.4 .6-.7 .5-2.1 1.7-9.3 .5-2 .6-.8 .5,.6 1.1,3.8 2.1,10.9 .5,1.5 .5,.5 .6-1 .5-2.9 1.7-12.7 .6-2.8 .5-1 .5,.4 .6,1.4 2.6,11.8 .5,1.4 .5,.4 .6-.9 .6-2.5 1.6-11.3 .6-2.6 .5-.9 .6,.8 .5,2.4 2.6,20.6 .5,2.3 .6,.9 .5-1.2 .6-3.1 1.6-14.3 .6-3.1 .6-1.1 .5,.7 .5,2.1 2.6,18.3 .6,2.1 .5,.7 .6-1.2 .5-3.4 1.7-15.5 .5-3.4 .6-1.2 .5,.5 .5,1.7 2.7,15.1 .5,1.7 .5,.6 .6-.9 .5-2.4 1.7-10.6 .5-2.4 .6-.9 .5,.8 .6,2.3 2.6,20.1 .5,2.3 .5,.7 .6-1.3 .6-3.8 1.6-16.9 .6-3.7 .5-1.4 .6,.6 .5,1.8 2.6,15.3 .5,1.7 .6,.6 .5-.8 .6-2.4 1.6-10.7 .6-2.4 .6-.8 .5,.5 .5,1.4 2.6,12.9 .6,1.4 .5,.6 .5-.9 .6-2.3 1.7-10.5 .5-2.4 .6-.8 .5,.5 .5,1.2 2.7,11.4 .5,1.3 .5,.4 .6-.7 .5-2.1 1.7-9.4 .5-2.1 .6-.8 .5,.6 .6,1.8 2.1,12.9 1,4.5 .5,.6 .6-.4 .6-1.2 1.6-5.5 .6-1.2 .5-.4 .5,.5 1.1,3.8 2.1,11 .5,1.5 .6,.5 .5-.7 .6-1.8 1.6-8.3 .6-1.9 .5-.7 .6,.7 1,5 2.1,14.4 .6,2 .5,.7 .5-.8 .6-2.1 1.7-9.6 .5-2.2 .6-.7 .5,.4 .5,1.4 2.7,12.2 .5,1.3 .5,.5 .6-1.2 .5-3.3 1.7-15.1 .5-3.4 .6-1.2 .5,.7 .5,1.9 2.7,16.8 .5,1.9 .5,.7 .6-1 .5-2.6 1.7-11.9 .6-2.6 .5-1 .5,.7 .6,2.1 2.1,14.8 1,5.1 .6,.7 .5-.5 .6-1.4 1.6-6.4 .6-1.4 .5-.5" fill="none" stroke="#B5B5B5" stroke-width="2.4" stroke-linejoin="round" stroke-linecap="round" />
<path d="M124.1,1251.8l.6-1.3 .5-3.9 1.7-17.1 .5-3.9 .6-1.3 .5,.9 .5,2.5 2.7,22.5 .5,2.5 .5,.9 .6-1.5 .5-4.1 1.7-18.5 .6-4.2 .5-1.4 .5,.7 .6,2.2 2.6,19.4 .5,2.2 .6,.8 .5-1.3 .6-3.8 1.6-16.8 .6-3.8 .5-1.3 .6,1.1 .5,3.3 2.6,28.5 .5,3.2 .6,1.1 .5-1.7 .6-4.8 1.6-21.7 .6-4.8 .6-1.7 .5,.6 .5,1.8 2.6,16.1 .6,1.8 .5,.7 .6-1.6 .5-4.3 1.7-19.6 .5-4.3 .6-1.6 .5,.6 .5,1.9 2.7,16 .5,1.9 .5,.6 .6-1.4 .5-3.8 1.7-17.2 .6-3.9 .5-1.3 .5,.7 .6,1.9 2.6,17.4 .5,2 .5,.7 .6-1.4 .6-4 1.6-18 .6-4 .5-1.4 .6,.6 .5,1.7 2.6,15 .5,1.7 .6,.6 .5-.8 .6-2.3 1.6-10.2 .6-2.3 .6-.8 .5,1 1,7.6 2.1,21.9 .6,3 .5,1 .6-1.2 .5-3.4 1.7-15.3 .5-3.4 .6-1.2 .5,1 1.1,7.4 2.1,21 .5,2.9 .5,1 .6-1.6 .5-4.5 1.7-20.1 .5-4.5 .6-1.6 .5,1 .6,2.9 2.6,25.5 .5,2.9 .5,1 .6-2 .6-5.3 1.6-24.2 .6-5.4 .5-1.9 .6,1.1 .5,3 2.6,26.5 .5,3 .6,1 .5-2 .6-5.7 1.6-25.6 .6-5.7 .5-2.1 .6,.6 .5,1.5 2.6,13.5 .6,1.5 .5,.5 .5-1.8 .6-5.4 1.7-23.8 .5-5.3 .6-1.9 .5,.9 .5,2.4 2.7,21.8 .5,2.5 .5,.9 .6-2.1 .5-5.9 1.7-26.3 .5-5.9 .6-2.1 .5,1.1 .6,3.3 2.6,28.7 .5,3.2 .5,1.2 .6-1.7 .5-4.7 1.7-20.9 .6-4.7 .5-1.7 .5,.8 .6,2.2 2.1,16.1 1,5.5 .6,.8 .5-1.2 .6-3.4 1.6-15.2 .6-3.3 .5-1.2 .6,.7 .5,2 2.6,18 .6,2 .5,.7 .5-1.4 .6-3.9 1.7-17.7 .5-3.9 .6-1.4 .5,.8 .5,2.3 2.7,20.7 .5,2.4 .5,.8 .6-2.1 .5-6 1.7-26.8 .5-5.9 .6-2.2 .5,.8 .5,2.2 2.7,19.3 .5,2.2 .5,.7 .6-1.2 .5-3.5 1.7-15.6 .6-3.5 .5-1.2 .5,.9 1.1,6.5 2.1,18.7 .5,2.6 .6,.9 .5-1.3 .6-3.8 1.6-17.1 .6-3.8 .5-1.3 .6,.7 .5,2.1 2.6,18.7 .6,2.1 .5,.8 .5-1.2 .6-3.5 1.7-15.4 .5-3.4 .6-1.3 .5,.8 .5,2.3 2.7,19.8 .5,2.3 .5,.7 .6-1.7 .5-4.8 1.7-21.6 .5-4.8 .6-1.7 .5,.9 .5,2.6 2.7,22.9 .5,2.7 .5,.9 .6-1.6 .5-4.4 1.7-19.7 .6-4.4 .5-1.6 .5,.7 .6,2.1 2.6,18.6 .5,2.1 .6,.7 .5-.9 .6-2.6 1.6-11.9 .6-2.6 .5-.9 .6,.9 1,6.7 2.1,19.4 .6,2.7 .5,.9 .5-1 .6-3 1.7-13.5 .5-2.9 .6-1.1 .5,1.1 1,8 2.2,23.1 .5,3.2 .5,1.1 .6-1.6 .5-4.5 1.7-20.3 .5-4.5 .6-1.7 .5,1.1 .5,3 2.7,26.4 .5,3 .5,1 .6-1.6 .5-4.7 1.7-20.8 .6-4.6 .5-1.7 .5,.9 .6,2.7 2.6,23.2 .5,2.7 .6,.9 .5-1.6 .6-4.4 1.6-19.7 .6-4.3 .5-1.6 .6,.6 .5,1.8 2.6,15.8 .5,1.7 .6,.7 .5-1 .6-2.9 1.6-12.7 .6-2.8 .6-1.1 .5,.7 1,4.7 2.1,13.5 .6,1.8 .5,.7 .6-1.3 .5-3.4 1.7-15.5 .5-3.4 .6-1.3 .5,.6 .5,1.4 2.7,12.8 .5,1.4 .5,.5 .6-1 .5-3 1.7-13.6 .6-3 .5-1.1 .5,.7 .6,2 2.6,17.3 .5,1.9 .5,.7 .6-.7 .6-1.8 1.6-8.4 .6-1.9 .5-.7 .6,.9 1,6.1 2.1,17.7 .5,2.4 .6,.9 .5-1.4 .6-3.9 1.6-17.3 .6-3.9 .6-1.4 .5,1 1,7.3 2.1,20.9 .6,2.9 .5,1 .6-1.3 .5-3.7 1.7-16.6 .5-3.7 .6-1.3 .5,.8 .5,2.5 2.7,21.6 .5,2.5 .5,.8 .6-1.9 .5-5.5 1.7-24.3 .5-5.5 .6-1.9 .5,.6 .6,1.6 2.6,14.4 .5,1.6 .5,.6 .6-1.4 .6-4 1.6-17.8 .6-3.9 .5-1.4 .6,.5 .5,1.5 2.6,13.5 .5,1.5 .6,.5 .5-1 .6-3 1.6-13.2 .6-2.9 .5-1.1 .6,.7 .5,2.1 2.6,17.7 .6,2.1 .5,.7 .5-1.3 .6-3.6 1.7-16.3 .5-3.6 .6-1.3 .5,.6 .5,1.6 2.7,14.1 .5,1.6 .5,.6 .6-1.1 .5-3.1 1.7-13.9 .5-3.1 .6-1.1 .5,.6 .6,1.5 2.6,13.3 .5,1.5 .5,.5 .6-1.3 .5-3.6 1.7-16.4 .6-3.7 .5-1.3 .5,.8 .6,2.4 2.6,20.6 .5,2.3 .6,.8 .5-1 .6-2.7 1.6-12.2 .6-2.7 .5-.9 .6,.6 .5,1.8 2.1,13.1 1.1,4.5 .5,.7 .5-.9 .6-2.3 1.7-10.6 .5-2.4 .6-.8 .5,.6 .5,1.6 2.7,14.7 .5,1.6 .5,.6 .6-1 .5-2.9 1.7-13 .5-2.9 .6-1.1 .5,.7 .5,2 2.7,17.8 .5,2 .5,.7 .6-1 .5-2.7 1.7-12.5 .6-2.8 .5-1 .5,.7 .6,2 2.6,17.2 .5,2 .6,.7 .5-.7 .6-2 1.6-8.6 .6-2 .5-.7 .6,.4 .5,1.2 2.6,10.4 .6,1.1 .5,.4 .5-.7 .6-2.1 1.7-9.6 .5-2.1 .6-.8 .5,.6 .5,1.6 2.7,14.3 .5,1.6 .5,.6 .6-.8 .5-2.1 1.7-9.7 .5-2.1 .6-.8 .5,.8 .5,2.2 2.7,20 .5,2.2 .5,.8 .6-1 .5-2.8 1.7-12.8 .6-2.8 .5-1 .5,.8 .6,2.4 2.6,20.7 .5,2.3 .6,.8 .5-.7 .6-2 1.6-9.2 .6-2.1 .5-.7 .6,.4 .5,1.2 2.6,10.6 .6,1.2 .5,.4 .5-1.1 .6-3.2 1.7-14.5 .5-3.3 .6-1.1 .5,.3 .5,1 2.7,8.4 .5,.9 .5,.4 .6-.9 .5-2.5 1.7-11.1 .5-2.5 .6-.9 .5,.6 .5,1.9 2.1,13.7 1.1,4.7 .5,.7 .6-1.1 .5-3.1 1.7-13.8 .6-3.1 .5-1.1 .5,.6 .6,1.6 2.6,14.1 .5,1.6 .6,.6 .5-1.1 .6-2.8 1.6-12.6 .6-2.8 .5-1 .6,.6 .5,1.7 2.6,15.6 .5,1.7 .6,.6 .5-.8 .6-2.2 1.6-9.9 .6-2.2 .6-.7 .5,.5 .5,1.5 2.6,13.7 .6,1.6 .5,.5 .6-.8 .5-2.5 1.7-11.1 .5-2.5 .6-.8 .5,.6 .5,1.8 2.7,16.3 .5,1.9 .5,.6 .6-1.1 .5-3.1 1.7-14 .6-3.1 .5-1.1 .5,.6 .6,1.8 2.6,15.6 .5,1.7 .5,.7 .6-.8 .6-2.2 1.6-10 .6-2.2 .5-.8 .6,.9 .5,2.4 2.6,21.6 .5,2.4 .6,.8 .5-1.2 .6-3.5 1.6-15.9 .6-3.5 .6-1.3 .5,.7 .5,1.9 2.6,17 .6,1.9 .5,.7 .6-.7 .5-2.1 1.7-9.5 .5-2.1 .6-.7 .5,.2 .5,.7 2.7,6 .5,.7 .5,.3 .6-.7 .5-1.9 1.7-8.3 .5-1.9 .6-.6 .5,.4 .6,1.4 2.6,11.7 .5,1.4 .5,.4 .6-.6 .6-1.6 1.6-7.5 .6-1.7 .5-.6 .6,.7 1,4.6 2.1,13.1 .5,1.9 .6,.6 .5-.7 .6-1.8 1.6-8.3 .6-1.8 .5-.6 .6,.3 .5,1.1 2.6,9.7 .6,1 .5,.4 .5-.9 .6-2.6 1.7-11.8 .5-2.7 .6-.9 .5,.6 .5,1.8 2.7,15.8 .5,1.8 .5,.7 .6-.8 .5-2.2 1.7-9.7 .5-2.2 .6-.8 .5,.5 .6,1.4 2.6,12.7 .5,1.4 .5,.5 .6-.7 .5-2 1.7-9.1 .6-2 .5-.8 .5,.7 .6,1.9 2.6,16.7 .5,1.9 .6,.7 .5-1 .6-2.8 1.6-12.7 .6-2.8 .5-1 .6,.5 .5,1.3 2.6,11.6 .6,1.3 .5,.5 .5-.8 .6-2.3 1.7-10.4 .5-2.3 .6-.8 .5,.4 .5,1.3 2.7,10.9 .5,1.3 .5,.4 .6-.7 .5-2 1.7-9 .5-2.1 .6-.7 .5,.6 .5,1.7 2.7,14.6 .5,1.7 .5,.5 .6-.9 .5-2.5 1.7-11.5 .6-2.6 .5-.9 .5,.5 .6,1.3 2.6,11.7 .5,1.3 .6,.5 .5-1.3 .6-3.4 1.6-15.6 .6-3.4 .5-1.3 .6,.8 .5,2.4 2.6,20.4 .6,2.4 .5,.8 .5-1.2 .6-3.2 1.7-14.4 .5-3.2 .6-1.2 .5,.6 .5,1.6 2.7,14.1 .5,1.6 .5,.6 .6-.9 .5-2.4 1.7-10.7 .5-2.4 .6-.8 .5,.6 1.1,4.2 2.1,12.1 .5,1.6 .5,.6 .6-1.2 .5-3.5 1.7-15.5 .6-3.5 .5-1.2 .5,.4 .6,1.4 2.6,12.3 .5,1.4 .6,.5 .5-.7 .6-2.2 1.6-9.6 .6-2.2 .5-.7 .6,.5 1,3.9 2.1,11.3 .6,1.5 .5,.5 .5-.7 .6-1.9 1.7-8.7 .5-2 .6-.7 .5,.7 .5,2 2.7,17.5 .5,2 .5,.6 .6-.7 .5-2.1 1.7-9.6 .5-2.1 .6-.7 .5,.3 .5,1 2.7,8.8 .5,1 .5,.4 .6-.9 .5-2.4 1.7-10.7 .6-2.4 .5-.9 .5,.8 .6,2.3 2.6,20 .5,2.2 .6,.8 .5-1 .6-2.8 1.6-12.8 .6-2.8 .5-1.1 .6,.6 .5,1.7 2.1,12.2 1,4.2 .6,.6 .5-.8 .6-2.3 1.6-10.4 .6-2.3 .6-.8 .5,.5 .5,1.4 2.6,12.5 .6,1.4 .5,.5 .6-1 .5-2.9 1.7-12.7 .5-2.8 .6-1 .5,.9 .5,2.6 2.7,23.1 .5,2.7 .5,.9 .6-1.2 .5-3.1 1.7-14.2 .6-3.2 .5-1.1 .5,.9 .6,2.8 2.1,20 1,6.9 .5,1 .6-1.2 .6-3.3 1.6-15 .6-3.3 .5-1.2 .6,.9 .5,2.6 2.1,18.7 1,6.5 .6,.9 .5-1 .6-3 1.6-13.3 .6-2.9 .6-1.1 .5,.9 .5,2.5 2.6,22 .6,2.5 .5,.9 .6-1.3 .5-3.6 1.7-16.3 .5-3.6 .6-1.3 .5,.6 .5,1.6 2.7,14.6 .5,1.7 .5,.5 .6-1.2 .5-3.3 1.7-15 .5-3.3 .6-1.2 .5,.6 1.1,5 2.1,14.3 .5,1.9 .5,.7 .6-1 .6-2.8 1.6-12.6 .6-2.7 .5-1 .6,.3 .5,.8 2.6,7.7 .5,.8 .6,.3 .5-.9 .6-2.8 1.6-12.5 .6-2.8 .5-1 .6,.5 .5,1.3 2.6,11.8 .6,1.4 .5,.4 .5-.7 .6-2 1.7-9.2 .5-2 .6-.7 .5,.5 1.1,3.5 2.1,10.1 .5,1.4 .5,.5 .6-.8 .5-2.2 1.7-9.7 .5-2.1 .6-.8 .5,.6 .6,1.8 2.6,15.8 .5,1.8 .5,.6 .6-.9 .5-2.3 1.7-10.6 .6-2.3 .5-.8 .5,.6 .6,1.9 2.6,17 .5,1.9 .6,.7 .5-1.2 .6-3.5 1.6-15.5 .6-3.5 .5-1.2 .6,.6 .5,1.6 2.6,14.6 .6,1.7 .5,.6 .5-1 .6-2.6 1.7-11.9 .5-2.6 .6-1 .5,.9 .5,2.3 2.1,16.9 1.1,5.8 .5,.8 .6-.3 .5-1 1.7-4.5 .5-1 .6-.3" fill="none" stroke="#B5B5B5" stroke-width="2.4" stroke-linejoin="round" stroke-linecap="round" />
<path d="M123.9,1205.1l.6-2 .5-5.7 1.7-25.6 .5-5.7 .6-2.1 .5,1.1 .6,3.2 2.6,28 .5,3.1 .5,1.1 .6-2 .6-5.8 1.6-25.8 .6-5.8 .5-2 .6,1 .5,3.1 2.6,27.1 .5,3 .6,1.1 .5-2 .6-5.7 1.6-25.5 .6-5.7 .5-2 .6,1.4 .5,4 2.6,35.7 .6,4 .5,1.4 .5-2 .6-5.7 1.7-25.5 .5-5.6 .6-2.1 .5,1.1 .5,3 2.7,26.9 .5,3 .5,1.1 .6-2 .5-5.8 1.7-25.8 .5-5.7 .6-2.1 .5,1 .6,2.8 2.6,24.9 .5,2.8 .5,1 .6-2.1 .5-5.9 1.7-26.2 .6-5.8 .5-2.1 .5,1.2 .6,3.2 2.6,28.4 .5,3.2 .6,1.2 .5-1.9 .6-5.3 1.6-23.9 .6-5.3 .5-1.9 .6,1 .5,3.1 2.6,26.9 .6,3.1 .5,1.1 .5-1.7 .6-4.5 1.7-20.4 .5-4.5 .6-1.6 .5,1.2 .5,3.7 2.7,32.4 .5,3.7 .5,1.2 .6-1.9 .5-5.3 1.7-24.1 .5-5.3 .6-2 .5,1.4 .5,3.9 2.7,34.6 .5,3.9 .5,1.4 .6-2.2 .5-6.1 1.7-27.4 .6-6.1 .5-2.2 .5,1.3 .6,3.7 2.6,32.5 .5,3.7 .6,1.2 .5-2.7 .6-7.6 1.6-34.1 .6-7.6 .5-2.7 .6,1.5 .5,4.2 2.6,37.2 .6,4.2 .5,1.5 .5-2.7 .6-7.6 1.7-34.2 .5-7.6 .6-2.7 .5,1.4 .5,4.1 2.7,35.6 .5,4 .5,1.4 .6-2.5 .5-7.1 1.7-32.1 .5-7.2 .6-2.5 .5,1.3 .5,3.9 2.7,34.2 .5,3.9 .5,1.3 .6-2.5 .5-7.3 1.7-32.4 .6-7.2 .5-2.6 .5,1.5 .6,4.3 2.1,31.1 1,10.8 .6,1.5 .5-1.8 .6-5.2 1.6-23.2 .6-5.2 .5-1.9 .6,1.2 .5,3.3 2.6,29.2 .6,3.3 .5,1.2 .5-2 .6-5.4 1.7-24.3 .5-5.4 .6-1.9 .5,1 .5,2.8 2.6,25 .6,2.8 .5,1 .6-2.3 .5-6.5 1.7-29.3 .5-6.5 .6-2.4 .5,1.3 .5,3.7 2.1,26.8 1.1,9.3 .5,1.2 .6-2.1 .5-6.2 1.7-27.4 .6-6.1 .5-2.2 .5,1.1 .6,3.1 2.6,28 .5,3.2 .6,1.1 .5-2.1 .6-6 1.6-27 .6-6 .5-2.1 .6,1.3 .5,3.7 2.6,33.2 .5,3.8 .6,1.3 .5-2 .6-5.5 1.6-24.8 .6-5.5 .6-2 .5,1.4 .5,3.8 2.6,33.9 .6,3.8 .5,1.3 .6-1.8 .5-5.2 1.7-23.4 .5-5.2 .6-1.9 .5,1.1 .5,3.2 2.7,28.3 .5,3.2 .5,1.1 .6-1.9 .5-5.2 1.7-23.4 .5-5.2 .6-1.9 .5,1.2 .6,3.3 2.6,29 .5,3.3 .5,1.1 .6-1.5 .6-4.4 1.6-19.8 .6-4.4 .5-1.6 .6,1 .5,2.9 2.1,20.7 1,7.2 .6,1 .5-1.4 .6-3.8 1.6-17.3 .6-3.8 .6-1.4 .5,.9 .5,2.7 2.6,23.7 .6,2.7 .5,.9 .5-1.7 .6-5 1.7-22.1 .5-4.9 .6-1.8 .5,1.1 .5,3.3 2.7,28.5 .5,3.2 .5,1.2 .6-2 .5-5.6 1.7-25.1 .5-5.5 .6-2 .5,1.2 .6,3.7 2.6,32.1 .5,3.6 .5,1.3 .6-2.3 .6-6.6 1.6-29.4 .6-6.6 .5-2.3 .6,1.2 .5,3.6 2.6,31.2 .5,3.5 .6,1.3 .5-2 .6-5.4 1.6-24.4 .6-5.4 .5-1.9 .6,1.1 .5,3.2 2.6,28.3 .6,3.2 .5,1.2 .5-1.7 .6-4.5 1.7-20.5 .5-4.6 .6-1.6 .5,.8 .5,2.4 2.1,17.6 1.1,6.2 .5,.8 .6-1.5 .5-4.3 1.7-19.3 .5-4.3 .6-1.5 .5,.7 .6,2.2 2.6,18.9 .5,2.2 .5,.7 .6-1.7 .5-4.6 1.7-21 .6-4.7 .5-1.6 .5,1.1 .6,3.2 2.1,23.4 1,8.1 .6,1.1 .5-1.2 .6-3.5 1.6-15.5 .6-3.5 .5-1.2 .6,.7 .5,2.3 2.6,19.5 .6,2.3 .5,.7 .5-2 .6-5.6 1.7-25.5 .5-5.6 .6-2.1 .5,1.4 .5,4 2.1,29 1.1,10.1 .5,1.4 .6-1.9 .5-5.3 1.7-24 .5-5.4 .6-1.9 .5,1.4 .5,3.9 2.7,34.2 .5,3.9 .5,1.3 .6-1.8 .5-5.2 1.7-23.5 .6-5.3 .5-1.8 .5,1 .6,3 2.6,26.2 .5,3 .6,1 .5-1.6 .6-4.4 1.6-19.9 .6-4.4 .5-1.6 .6,.8 .5,2.5 2.6,21.5 .6,2.4 .5,.9 .5-1.4 .6-3.9 1.7-17.6 .5-3.9 .6-1.3 .5,.9 1,6.6 2.2,19.1 .5,2.6 .5,.9 .6-1.5 .5-4.2 1.7-19.2 .5-4.3 .6-1.5 .5,.9 .5,2.6 2.7,23.2 .5,2.6 .5,.9 .6-1.4 .5-3.8 1.7-17.1 .6-3.8 .5-1.3 .5,.6 .6,2 2.6,17.4 .5,1.9 .6,.7 .5-1.5 .6-4.1 1.6-18.6 .6-4.1 .5-1.5 .6,.9 .5,2.4 2.1,17.8 1.1,6.2 .5,.8 .5-1.4 .6-3.9 1.7-17.5 .5-3.9 .6-1.4 .5,.8 .5,2.4 2.6,20.9 .6,2.4 .5,.8 .6-1.4 .5-3.9 1.7-17.7 .5-4 .6-1.4 .5,1 .5,2.7 2.7,24.5 .5,2.8 .5,.9 .6-1.3 .5-3.8 1.7-16.8 .6-3.8 .5-1.3 .5,.9 .6,2.6 2.6,22.9 .5,2.6 .6,.9 .5-1.4 .6-3.8 1.6-17.1 .6-3.8 .5-1.4 .6,.8 .5,2.2 2.6,19.1 .5,2.2 .6,.8 .5-1.2 .6-3.3 1.6-14.8 .6-3.3 .6-1.2 .5,.7 .5,2.1 2.1,15.1 1.1,5.2 .5,.7 .6-1.1 .5-3.1 1.7-14.1 .5-3.2 .6-1.1 .5,.7 .5,2.1 2.7,18.2 .5,2.1 .5,.7 .6-1.2 .5-3.3 1.7-14.8 .5-3.3 .6-1.2 .5,.9 .6,2.5 2.1,18.4 1,6.4 .5,.8 .6-1.2 .6-3.5 1.6-15.8 .6-3.6 .5-1.2 .6,.8 .5,2.5 2.6,21.8 .5,2.5 .6,.8 .5-1.3 .6-3.6 1.6-16.4 .6-3.6 .6-1.3 .5,.8 .5,2.1 2.6,19.3 .6,2.2 .5,.7 .5-1.2 .6-3.5 1.7-15.6 .5-3.4 .6-1.3 .5,.6 .5,1.8 2.7,15.8 .5,1.8 .5,.7 .6-1.2 .5-3.4 1.7-15.2 .5-3.3 .6-1.2 .5,.7 .6,2 2.6,18.1 .5,2 .5,.8 .6-1.3 .6-3.6 1.6-16.1 .6-3.6 .5-1.3 .6,.8 .5,2.3 2.6,20.5 .5,2.4 .6,.8 .5-1.2 .6-3.4 1.6-15 .6-3.4 .5-1.2 .6,.8 .5,2.2 2.6,19.5 .6,2.3 .5,.7 .5-.9 .6-2.5 1.7-11.4 .5-2.5 .6-.9 .5,.6 .5,1.9 2.7,16.2 .5,1.9 .5,.6 .6-1 .5-2.8 1.7-12.5 .5-2.8 .6-1 .5,.7 .6,2 2.6,17.7 .5,2 .5,.7 .6-1.2 .5-3.4 1.7-15.2 .6-3.3 .5-1.2 .5,.7 .6,2 2.6,18 .5,2 .6,.7 .5-1.4 .6-3.9 1.6-17.7 .6-3.9 .5-1.4 .6,1 .5,2.7 2.6,23.9 .6,2.7 .5,.9 .5-1.3 .6-3.6 1.7-16.4 .5-3.6 .6-1.3 .5,.8 .5,2.5 2.7,21.6 .5,2.4 .5,.9 .6-.9 .5-2.6 1.7-11.4 .5-2.6 .6-.9 .5,.5 .5,1.4 2.7,12.5 .5,1.4 .5,.5 .6-1 .5-3 1.7-13.2 .6-2.9 .5-1.1 .5,.6 .6,1.7 2.6,15 .5,1.7 .6,.5 .5-1 .6-3.1 1.6-13.7 .6-3.1 .5-1 .6,.6 .5,2.1 2.6,17.6 .6,2 .5,.7 .5-1.2 .6-3.6 1.7-15.9 .5-3.5 .6-1.3 .5,.6 .5,1.7 2.7,14.8 .5,1.7 .5,.5 .6-1.3 .5-3.6 1.7-16.5 .5-3.7 .6-1.3 .5,.9 .5,2.4 2.7,21.4 .5,2.5 .5,.8 .6-1.2 .5-3.4 1.7-15.1 .6-3.4 .5-1.2 .5,.8 .6,2.2 2.6,19.6 .5,2.2 .6,.8 .5-1.1 .6-3.1 1.6-13.8 .6-3.1 .5-1.1 .6,.8 1,5.6 2.1,16.3 .6,2.2 .5,.8 .5-1.3 .6-3.4 1.7-15.4 .5-3.4 .6-1.2 .5,.7 .5,2 2.6,18 .6,2.1 .5,.7 .6-1.1 .5-3.2 1.7-14 .5-3.1 .6-1.2 .5,.7 .5,2 2.7,17.6 .5,2 .5,.7 .6-1.1 .5-3.1 1.7-13.7 .6-3.1 .5-1 .5,.7 .6,2.2 2.6,19 .5,2.2 .6,.7 .5-1.1 .6-3.4 1.6-15 .6-3.3 .5-1.2 .6,.9 .5,2.4 2.6,21.5 .5,2.4 .6,.9 .5-1.4 .6-3.7 1.6-17 .6-3.8 .6-1.3 .5,.8 .5,2.4 2.6,21 .6,2.4 .5,.9 .6-1.4 .5-3.8 1.7-16.9 .5-3.8 .6-1.3 .5,.8 .5,2.4 2.7,21.2 .5,2.4 .5,.8 .6-1.3 .5-3.6 1.7-16.2 .5-3.7 .6-1.3 .5,1 1.1,6.8 2.1,19.7 .5,2.7 .5,.9 .6-1.4 .6-3.9 1.6-17.6 .6-3.9 .5-1.4 .6,.8 .5,2.1 2.6,18.8 .5,2.1 .6,.8 .5-1.1 .6-3 1.6-13.5 .6-3 .6-1.1 .5,.7 .5,2 2.6,17.7 .6,2 .5,.7 .5-1 .6-2.8 1.7-12.8 .5-2.8 .6-1 .5,.7 .5,2.2 2.7,18.9 .5,2.2 .5,.7 .6-1.1 .5-3.4 1.7-14.9 .5-3.3 .6-1.2 .5,.8 .6,2.1 2.6,18.8 .5,2.1 .5,.7 .6-1.1 .6-3.3 1.6-14.7 .6-3.3 .5-1.2 .6,.8 .5,2.2 2.6,19.7 .5,2.2 .6,.8 .5-1.2 .6-3.5 1.6-15.6 .6-3.5 .5-1.2 .6,.8 .5,2.4 2.6,20.8 .6,2.3 .5,.8 .5-1.3 .6-3.8 1.7-16.9 .5-3.8 .6-1.3 .5,.8 .5,2.5 2.7,21.6 .5,2.5 .5,.8 .6-1.4 .5-3.9 1.7-17.6 .5-3.9 .6-1.4 .5,.9 .6,2.7 2.6,23.5 .5,2.7 .5,.9 .6-1.5 .5-4.2 1.7-19 .6-4.2 .5-1.6 .5,1 .6,2.8 2.1,20.1 1,7 .6,.9 .5-1.3 .6-3.8 1.6-16.9 .6-3.7 .5-1.4 .6,1 .5,2.7 2.6,24 .6,2.7 .5,1 .5-1.6 .6-4.3 1.7-19.5 .5-4.3 .6-1.6 .5,1.1 .5,2.9 2.7,26.4 .5,3 .5,1 .6-1.6 .5-4.5 1.7-20.2 .5-4.6 .6-1.6 .5,.9 .5,2.6 2.7,22.6 .5,2.5 .5,.9 .6-1.4 .5-3.8 1.7-17.2 .6-3.8 .5-1.3 .5,.7 .6,2.2 2.6,19.2 .5,2.1 .6,.8 .5-1.1 .6-3.2 1.6-14 .6-3.2 .5-1.1 .6,.7 .5,1.9 2.1,14.2 1.1,4.9 .5,.6 .5-.9 .6-2.7 1.7-12 .5-2.6 .6-1 .5,.7 .5,1.9 2.7,16.9 .5,1.9 .5,.7 .6-1 .5-2.7 1.7-12 .5-2.7 .6-1 .5,.6 .5,1.9 2.7,15.9 .5,1.8 .5,.7 .6-1.2 .5-3.4 1.7-15.2 .6-3.4 .5-1.2 .5,.9 .6,2.4 2.6,21.1 .5,2.4 .6,.8 .5-1.1 .6-3.1 1.6-14.2 .6-3.1 .5-1.1 .6,.7 .5,2 2.6,18.1 .6,2 .5,.7 .5-1.4 .6-4.2 1.7-18.5 .5-4.1 .6-1.5 .5,.9 .5,2.6 2.6,22.8 .6,2.6 .5,.9 .6-1.3 .5-3.6 1.7-16.3 .5-3.7 .6-1.3 .5,1 .5,2.9 2.7,25.1 .5,2.8 .5,1 .6-.9 .5-2.5 1.7-11.3 .6-2.6 .5-.9" fill="none" stroke="#B5B5B5" stroke-width="2.4" stroke-linejoin="round" stroke-linecap="round" />
<path d="M123.4,1254.5l.6-1.8 .5-5.3 1.7-23.4 .5-5.3 .6-1.8 .5,1.1 .6,3.3 2.6,29.2 .5,3.3 .5,1.1 .6-2 .6-5.9 1.6-26.1 .6-5.8 .5-2.1 .6,1 .5,3 2.6,26.6 .5,3.1 .6,1 .5-1.8 .6-5.1 1.6-23 .6-5.1 .5-1.8 .6,1.5 .5,4.2 2.6,37.2 .6,4.2 .5,1.5 .5-2.3 .6-6.2 1.7-27.9 .5-6.2 .6-2.2 .5,1 .5,2.9 2.7,25.5 .5,2.9 .5,1 .6-2.1 .5-5.9 1.7-26.4 .5-5.9 .6-2.1 .5,1 .6,2.8 2.6,24.8 .5,2.9 .5,.9 .6-2 .5-5.7 1.7-25.6 .6-5.7 .5-2.1 .5,1.1 .6,3.1 2.6,27.6 .5,3.1 .6,1.1 .5-2 .6-5.6 1.6-25.1 .6-5.6 .5-2 .6,1 .5,2.7 2.6,24.4 .6,2.8 .5,1 .5-1.5 .6-4.1 1.7-18.6 .5-4.1 .6-1.5 .5,1.4 1,10.3 2.2,29.5 .5,4 .5,1.4 .6-1.8 .5-4.9 1.7-22.3 .5-4.9 .6-1.8 .5,1.5 1.1,10.6 2.1,30.7 .5,4.2 .5,1.4 .6-2.1 .5-5.8 1.7-26.4 .6-5.9 .5-2.1 .5,1.4 .6,4.2 2.6,36.6 .5,4.2 .6,1.4 .5-2.5 .6-7.2 1.6-32 .6-7.2 .5-2.5 .6,1.5 .5,4.3 2.6,37.9 .6,4.3 .5,1.5 .5-2.7 .6-7.8 1.7-34.8 .5-7.7 .6-2.8 .5,1.4 .5,3.8 2.7,34 .5,3.8 .5,1.3 .6-2.6 .5-7.3 1.7-32.7 .5-7.3 .6-2.6 .5,1.4 .5,3.8 2.7,34.3 .5,3.8 .5,1.4 .6-2.6 .5-7.3 1.7-32.9 .6-7.4 .5-2.6 .5,1.3 .6,3.6 2.6,32.3 .5,3.6 .6,1.3 .5-2.1 .6-6 1.6-26.6 .6-5.9 .5-2.1 .6,1.1 .5,3.2 2.1,23.5 1.1,8.2 .5,1.1 .5-2 .6-5.5 1.7-24.8 .5-5.5 .6-2 .5,1.1 .5,3.1 2.6,27.6 .6,3.1 .5,1.1 .6-2.2 .5-5.9 1.7-26.9 .5-6 .6-2.1 .5,1.3 .5,3.7 2.7,32.6 .5,3.8 .5,1.2 .6-2.2 .5-6.4 1.7-28.7 .6-6.4 .5-2.3 .5,1 .6,3.1 2.6,27 .5,3.1 .6,1 .5-2.1 .6-5.9 1.6-26.5 .6-5.9 .5-2.1 .6,1.3 .5,3.7 2.1,27.3 1,9.5 .6,1.3 .5-2 .6-5.6 1.6-25.1 .6-5.6 .6-2 .5,1.3 .5,3.7 2.6,32.7 .6,3.8 .5,1.2 .6-1.9 .5-5.5 1.7-24.7 .5-5.5 .6-2 .5,1.1 .5,3.1 2.7,27.4 .5,3.1 .5,1.1 .6-2 .5-5.3 1.7-24.3 .5-5.4 .6-1.9 .5,1.1 .6,3 2.6,26.8 .5,3 .5,1.1 .6-1.7 .6-4.9 1.6-21.9 .6-4.8 .5-1.8 .6,.9 .5,2.5 2.6,22.1 .5,2.5 .6,.9 .5-1.4 .6-3.7 1.6-16.7 .6-3.7 .6-1.3 .5,1.1 1,7.7 2.1,22.3 .6,3.1 .5,1.1 .5-1.6 .6-4.4 1.7-19.8 .5-4.5 .6-1.5 .5,1.2 .5,3.5 2.7,31.1 .5,3.5 .5,1.2 .6-1.8 .5-5 1.7-22.6 .5-5 .6-1.8 .5,1.5 .6,4 2.6,36.1 .5,4 .5,1.5 .6-2.4 .6-6.7 1.6-30.1 .6-6.7 .5-2.4 .6,1.1 .5,3.2 2.6,27.6 .5,3.1 .6,1.1 .5-2.1 .6-6 1.6-26.9 .6-5.9 .5-2.2 .6,1 .5,2.9 2.6,25 .6,2.8 .5,1 .5-1.8 .6-5.2 1.7-23 .5-5.1 .6-1.8 .5,.7 .5,2.2 2.7,19 .5,2.2 .5,.8 .6-1.6 .5-4.4 1.7-19.8 .5-4.4 .6-1.6 .5,.8 .6,2.2 2.6,19.9 .5,2.3 .5,.7 .6-1.5 .5-4.3 1.7-19.5 .6-4.4 .5-1.5 .5,1 .6,2.8 2.6,25.1 .5,2.9 .6,1 .5-1.2 .6-3.5 1.6-15.3 .6-3.5 .5-1.2 .6,1 1,7.4 2.1,21.2 .6,2.9 .5,1.1 .5-1.7 .6-4.7 1.7-21.2 .5-4.7 .6-1.7 .5,1.5 .5,4.1 2.7,36.8 .5,4.2 .5,1.5 .6-1.9 .5-5.4 1.7-23.9 .5-5.3 .6-1.9 .5,1.4 .5,3.7 2.7,33.5 .5,3.7 .5,1.4 .6-2.1 .5-5.8 1.7-26.1 .6-5.8 .5-2.1 .5,.9 .6,2.5 2.6,22.1 .5,2.5 .6,.8 .5-1.8 .6-4.9 1.6-22.5 .6-5 .5-1.8 .6,.8 .5,2.2 2.6,19.3 .6,2.1 .5,.8 .5-1.4 .6-3.9 1.7-17.4 .5-3.9 .6-1.4 .5,1 1,7.1 2.2,20.6 .5,2.9 .5,1 .6-1.6 .5-4.2 1.7-19.1 .5-4.2 .6-1.5 .5,.8 .5,2.4 2.7,21.3 .5,2.4 .5,.8 .6-1.4 .5-4.2 1.7-18.5 .6-4.1 .5-1.5 .5,.7 .6,2 2.6,17.4 .5,2 .6,.7 .5-1.4 .6-4 1.6-17.9 .6-4 .5-1.5 .6,.9 .5,2.5 2.6,21.7 .6,2.5 .5,.8 .5-1.4 .6-3.9 1.7-17.5 .5-3.9 .6-1.4 .5,.8 .5,2.4 2.6,21 .6,2.3 .5,.9 .6-1.4 .5-3.8 1.7-17.1 .5-3.8 .6-1.4 .5,1 .5,2.8 2.7,24.6 .5,2.8 .5,1 .6-1.4 .5-3.8 1.7-17 .6-3.8 .5-1.4 .5,.9 .6,2.6 2.6,22.6 .5,2.6 .6,.9 .5-1.4 .6-4.1 1.6-18.3 .6-4.1 .5-1.4 .6,.6 .5,1.9 2.6,16.7 .5,1.9 .6,.7 .5-1.3 .6-3.6 1.6-15.9 .6-3.6 .6-1.2 .5,.7 .5,2 2.6,18 .6,2 .5,.7 .6-1.1 .5-3.1 1.7-14.1 .5-3.2 .6-1.1 .5,.7 .5,2.2 2.7,18.8 .5,2.1 .5,.8 .6-1.1 .5-3.1 1.7-13.7 .5-3 .6-1.1 .5,.9 .6,2.7 2.1,19.7 1,6.9 .5,.9 .6-1.2 .6-3.4 1.6-15.2 .6-3.3 .5-1.2 .6,.8 .5,2.5 2.6,22.1 .5,2.5 .6,.9 .5-1.4 .6-3.9 1.6-17.3 .6-3.9 .6-1.4 .5,.7 .5,2.1 2.6,17.8 .6,2.1 .5,.7 .5-1.3 .6-3.8 1.7-16.7 .5-3.7 .6-1.4 .5,.6 .5,1.7 2.7,15 .5,1.7 .5,.6 .6-1.2 .5-3.2 1.7-14.8 .5-3.2 .6-1.2 .5,.8 .6,2.2 2.6,19.4 .5,2.2 .5,.8 .6-1.2 .6-3.5 1.6-15.4 .6-3.4 .5-1.2 .6,.8 .5,2.3 2.6,20.2 .5,2.3 .6,.8 .5-1.3 .6-3.6 1.6-15.9 .6-3.6 .5-1.2 .6,.6 .5,1.9 2.6,16.7 .6,1.9 .5,.7 .5-1 .6-2.9 1.7-12.7 .5-2.9 .6-1 .5,.7 .5,1.9 2.7,16.7 .5,1.9 .5,.6 .6-.9 .5-2.5 1.7-11.6 .5-2.5 .6-1 .5,.8 .6,2.2 2.6,19.7 .5,2.2 .5,.8 .6-1.2 .5-3.1 1.7-14.3 .6-3.2 .5-1.2 .5,.8 .6,2.2 2.6,19.7 .5,2.3 .6,.8 .5-1.3 .6-3.5 1.6-15.9 .6-3.6 .5-1.2 .6,.9 .5,2.7 2.6,24.1 .6,2.7 .5,1 .5-1.5 .6-3.9 1.7-17.9 .5-4 .6-1.4 .5,.7 .5,2.1 2.7,17.9 .5,2 .5,.7 .6-1.1 .5-3.3 1.7-14.4 .5-3.2 .6-1.2 .5,.5 .5,1.4 2.7,12.2 .5,1.3 .5,.5 .6-1 .5-2.8 1.7-12.5 .6-2.7 .5-1 .5,.6 1.1,4.5 2.1,13 .5,1.8 .6,.6 .5-1 .6-2.7 1.6-12.5 .6-2.7 .5-1 .6,.8 .5,2.2 2.6,19.6 .6,2.2 .5,.8 .5-1.3 .6-3.6 1.7-16.1 .5-3.5 .6-1.3 .5,.6 .5,1.7 2.7,15.1 .5,1.8 .5,.6 .6-1.3 .5-3.4 1.7-15.4 .5-3.4 .6-1.3 .5,.9 1.1,6.2 2.1,18 .5,2.4 .5,.9 .6-1.3 .5-3.5 1.7-15.8 .6-3.6 .5-1.2 .5,.7 .6,2.1 2.6,18.2 .5,2 .6,.8 .5-1.1 .6-3.1 1.6-13.7 .6-3.1 .5-1.1 .6,.8 .5,2.4 2.6,20.8 .6,2.4 .5,.8 .5-1.3 .6-3.5 1.7-15.7 .5-3.5 .6-1.3 .5,.7 .5,1.8 2.6,16.7 .6,1.9 .5,.6 .6-1.1 .5-3.2 1.7-14.6 .5-3.2 .6-1.1 .5,.6 .5,2 2.7,17.4 .5,1.9 .5,.7 .6-1 .5-3 1.7-13.2 .6-2.9 .5-1 .5,.8 .6,2.3 2.6,20.2 .5,2.3 .6,.8 .5-1.1 .6-3 1.6-13.8 .6-3.1 .5-1.1 .6,.9 1,6.7 2.1,19.2 .5,2.7 .6,.9 .5-1.3 .6-3.7 1.6-16.7 .6-3.7 .6-1.3 .5,.8 .5,2.3 2.6,20.7 .6,2.3 .5,.8 .6-1.3 .5-3.8 1.7-17 .5-3.8 .6-1.4 .5,.9 .5,2.3 2.7,21.1 .5,2.3 .5,.9 .6-1.2 .5-3.4 1.7-15 .5-3.3 .6-1.2 .5,1 .6,2.9 2.6,25.5 .5,2.9 .5,1 .6-1.6 .6-4.6 1.6-20.5 .6-4.5 .5-1.7 .6,.6 .5,1.7 2.6,15 .5,1.7 .6,.6 .5-1.1 .6-3.2 1.6-14.3 .6-3.1 .6-1.2 .5,.7 .5,1.9 2.6,16.7 .6,1.8 .5,.7 .5-.9 .6-2.6 1.7-11.6 .5-2.6 .6-.9 .5,.8 1.1,6 2.1,17.2 .5,2.3 .5,.9 .6-1.2 .5-3.4 1.7-15 .5-3.4 .6-1.2 .5,.8 .6,2 2.6,18.5 .5,2.1 .5,.8 .6-1.2 .6-3.1 1.6-14.3 .6-3.1 .5-1.1 .6,.8 1,5.8 2.1,16.8 .5,2.3 .6,.8 .5-1.2 .6-3.3 1.6-14.8 .6-3.3 .5-1.2 .6,.9 .5,2.5 2.6,21.9 .6,2.5 .5,.9 .5-1.3 .6-3.7 1.7-16.5 .5-3.6 .6-1.3 .5,.8 .5,2.5 2.7,22.2 .5,2.5 .5,.9 .6-1.3 .5-3.7 1.7-16.6 .5-3.7 .6-1.3 .5,1 .6,2.8 2.6,25 .5,2.9 .5,1 .6-1.6 .5-4.3 1.7-19.2 .6-4.3 .5-1.5 .5,.9 .6,2.5 2.6,22.9 .5,2.6 .6,.9 .5-1.3 .6-3.7 1.6-16.4 .6-3.7 .5-1.3 .6,1 .5,2.9 2.6,25.7 .6,2.9 .5,1 .5-1.4 .6-4.1 1.7-18.4 .5-4.1 .6-1.5 .5,1.1 .5,3.1 2.7,27.4 .5,3.1 .5,1 .6-1.7 .5-4.9 1.7-21.9 .5-4.9 .6-1.7 .5,.8 .5,2.2 2.7,19.9 .5,2.3 .5,.8 .6-1.5 .5-4.3 1.7-19.1 .6-4.2 .5-1.5 .5,.6 .6,1.9 2.6,16.8 .5,1.9 .6,.7 .5-1.2 .6-3.5 1.6-15.7 .6-3.4 .5-1.3 .6,.6 .5,1.8 2.6,15.2 .6,1.8 .5,.6 .5-1 .6-2.8 1.7-12.3 .5-2.8 .6-1 .5,.7 1,4.8 2.2,13.8 .5,1.9 .5,.7 .6-1 .5-2.5 1.7-11.6 .5-2.6 .6-.9 .5,.7 .5,2 2.7,17.9 .5,2 .5,.7 .6-1 .5-3.1 1.7-13.5 .6-3 .5-1 .5,.8 .6,2.4 2.6,21.3 .5,2.4 .6,.8 .5-1.1 .6-3.2 1.6-14.2 .6-3.2 .5-1.1 .6,.8 .5,2.3 2.6,20.5 .6,2.3 .5,.8 .5-1.4 .6-3.8 1.7-17 .5-3.8 .6-1.4 .5,.9 .5,2.5 2.6,22.1 .6,2.5 .5,.8 .6-1.3 .5-3.7 1.7-16.6 .5-3.6 .6-1.4 .5,.9 .5,2.5 2.7,22.2 .5,2.5 .5,.9 .6-1 .5-2.8 1.7-12.4 .6-2.8 .5-1" fill="none" stroke="#B5B5B5" stroke-width="2.4" stroke-linejoin="round" stroke-linecap="round" />
<path d="M121.1,1233.8l.3,.8 .3,2.3 1.2,14.9 .3,2.3 .4,.8 .3-.5 .9-6.3 2.1-25.2 .6-3.5 .3-.5 .3,.3 .9,3.4 2,12 .9,3.4 .3,.3 .7-.4 2.1-3.9 .6-.6 .7,0 .6,.7 1.8,3.9 .7,.7 .3,.1 .3,.5 1.5,11.1 .3,1.5 .4,.5 .3-.4 .3-1.2 1.2-7.5 .3-1.1 .3-.5 .3,.2 .7,1.6 .6,2.8 2.2,13 .6,2.2 .3,.6 .3,.2 .3-.4 .6-3.6 2.3-26.2 .6-5.1 .3-1.4 .4-.5 .3,.5 .6,3.2 2.1,23.5 .6,4.7 .3,1.2 .3,.4 .3-.6 .6-4.8 1.9-26.3 .6-4.9 .3-.6 .3,.3 .3,.7 .6,2.6 2.5,17.6 .6,2.7 .3,.7 .3,.2 .4-.6 .6-4.5 1.8-24.5 .7-4.5 .3-.6 .3,.2 .3,.6 .6,2.4 2.8,16.8 .6,1.6 .3,.2 .3-.6 1-8.9 1.5-22.9 .6-4.9 .3-.6 .4,.2 .3,.6 .6,2.3 2.8,16.6 .6,1.6 .3,.3 .3-.7 .9-8.8 1.6-22.7 .6-4.9 .3-.6 .3,.2 .3,.6 .7,2.4 2.4,15.4 .7,2.4 .3,.6 .3,.2 .3-.6 .6-4.1 2.2-24.9 .3-1.6 .3-.6 .3,.4 .6,2.4 .7,4.5 2.1,20.7 .6,3.5 .4,1 .3,.3 .3-.5 .6-4 2.2-23.7 .3-1.6 .3-.5 .3,.3 .6,2.3 .6,4.1 2.2,19.1 .6,3.3 .3,.9 .3,.3 .3-.6 .7-4.8 1.5-22 .9-8.5 .4-.6 .3,.3 .6,1.9 2.8,19.6 .6,2.8 .3,.7 .3,.3 .3-.6 .6-4.1 1.9-22.4 .6-4.1 .3-.6 .3,.3 .4,.7 .6,2.6 2.5,17.2 .6,2.6 .3,.7 .3,.2 .3-.3 .6-2.9 2.2-17.1 .3-1.1 .3-.4 .3,.3 .6,2.6 .7,4.7 2.1,21.6 .7,3.7 .3,1 .3,.3 .3-.4 .6-3.3 2.2-20.1 .3-1.3 .3-.4 .3,.3 .6,2.3 .6,4.4 2.2,19.9 .6,3.4 .3,.9 .4,.3 .3-.6 .6-4 1.5-19 1-7.4 .3-.5 .3,.2 .6,1.9 2.8,19.7 .6,2.8 .3,.7 .3,.2 .3-.5 .7-4.1 2.1-25 .3-1.6 .4-.5 .3,.3 .6,2.2 .6,4.2 2.2,19.1 .6,3.3 .3,.8 .3,.3 .3-.5 .6-4.1 1.9-22.2 .6-4.1 .3-.6 .3,.3 .3,.9 .7,3.3 2.1,19.3 .7,4.2 .6,2.3 .3,.2 .3-.7 .3-2 1.6-20.5 .7-5.3 .3-.7 .3,.4 .6,3 2.1,22.3 .9,5.6 .3,.4 .3-.3 .3-1.1 2.2-16.1 .6-2.7 .3-.4 .4,.4 .6,3 2.1,18.2 .4,1.1 .6,.6 .3,.7 1.2,4.2 .3,.6 .3,.3 .4-.3 1.5-4.8 .3-.7 .3-.2 .6,.2 .7,.7 2.4,4.2 .7,.6 .6,.3 .3-.2 .6-1.4 1.9-7.3 .6-1.4 .3-.2 .6,.4 .6,1 2.8,7.3 .7,.7 .3,.1 .3-.4 .6-2.4 .6-4.6 2.2-20.8 .6-3.6 .3-.9 .3-.3 .3,.4 .7,3 2.1,18.1 .3,1.2 .3,.3 .4-.3 .9-5.4 2.2-21.4 .7-3 .3-.4 .3,.4 .6,2.7 2.1,19.7 .9,4.9 .3,.4 .3-.4 .6-2.8 2.1-20.6 .6-4 .3-1.1 .3-.4 .4,.3 .3,.9 .6,3.4 2.2,17.1 .7,2.3 .3,.3 .3-.6 .6-4.2 1.9-23.3 .6-4.3 .3-.6 .3,.3 .3,.9 .7,3.3 2.4,21.6 .7,3.3 .3,.8 .3,.3 .1-1 .3-.6 .3-1.8 .3-2.9 1.8-26 .7-4.7 .3-.7 .3,.3 .3,.8 .6,3 2.4,19.9 .7,3 .3,.8 .3,.3 .3-.6 .6-5 1.5-22.8 1-8.9 .3-.6 .3,.2 .6,1.9 2.8,19.7 .6,2.8 .3,.8 .3,.2 .3-.5 .6-4.2 1.6-19.2 .9-7.4 .3-.5 .3,.2 .6,1.9 2.8,18.7 .6,2.6 .3,.7 .3,.3 .3-.6 .7-4.1 1.8-22.4 .6-4.1 .3-.6 .3,.4 .3,1.2 .7,4.6 2.4,30.1 .6,4.6 .3,1.2 .3,.4 .4-.6 .6-4.4 1.8-24.2 .6-4.4 .4-.6 .3,.4 .3,1 .6,4 2.1,23.3 .6,5.1 .7,2.7 .3,.4 .3-.6 .3-1.6 2.2-26 .6-4.3 .3-.5 .3,.3 .3,.8 .6,3.4 2.5,21.7 .6,3.3 .3,.9 .3,.3 .3-.6 .6-4.6 1.9-25 .6-4.6 .3-.6 .3,.3 .3,1 .6,3.9 2.2,22.2 .6,4.9 .6,2.6 .3,.4 .3-.6 .3-1.7 2.2-27 .6-4.4 .3-.6 .3,.3 .3,1 .7,3.7 2.4,24.3 .6,3.7 .3,.9 .3,.4 .4-.6 .6-4.8 1.8-25.8 .6-4.8 .4-.6 .3,.4 .3,1.1 .6,4.2 2.1,24.6 .6,5.3 .7,2.9 .3,.4 .3-.6 .3-1.7 2.1-27.4 .7-4.5 .3-.6 .3,.4 .3,1.1 .6,4.1 2.5,27.2 .6,4.2 .3,1.1 .3,.3 .3-.6 .6-4.7 2.2-28.8 .3-1.8 .3-.6 .3,.4 .6,3 .6,5.5 2.2,25.4 .6,4.4 .3,1.2 .3,.3 .3-.6 .6-4.6 2.2-27.9 .3-1.8 .3-.6 .3,.4 .6,3.2 .7,5.8 2.1,26.6 .6,4.6 .3,1.2 .3,.4 .3-.6 .7-5 1.8-27.2 .6-5 .3-.6 .4,.3 .3,1.1 .6,4 2.4,26.3 .6,4 .4,1.1 .3,.3 .3-.7 .6-5.2 1.8-28.5 .7-5.2 .3-.7 .3,.4 .3,1 .6,3.9 2.5,25.1 .6,3.9 .3,1 .3,.3 .3-.7 .6-5.2 1.6-24.4 .9-9.4 .3-.7 .3,.3 .6,2.1 2.8,22.1 .6,3.2 .3,.8 .3,.2 .3-.6 .6-4.8 1.9-26.2 .6-4.8 .3-.6 .3,.3 .3,.8 .6,3 2.2,17.7 .6,3.9 .6,2.1 .3,.3 .3-.6 .4-1.7 2.1-26.6 .6-4.3 .3-.6 .4,.3 .3,.7 .6,3 2.4,19.4 .6,2.9 .4,.8 .3,.3 .3-.5 .6-3.4 1.8-18.6 .7-3.5 .3-.4 .3,.3 .6,2.2 1.8,12.9 .6,3.2 .3,.8 .3,.3 .3-.4 .3-1 .9-6.6 2.2-22.8 .6-4 .3-1 .3-.3 .4,.5 .3,1.4 1.6,12.5 .4,1.4 .6,1.4 1,8.4 .4,2.3 .3,.8" fill="none" stroke="#352755" stroke-width="3.6" stroke-linejoin="round" stroke-linecap="round" />
<path d="M518.4,1144.5l.3,.3 .6,1.5 1.5,7.2 1,2.7 .3,.3 .3-.2 1.5-4.3 .4-.6 .3-.2 .3,.1 .9,1.5 2.2,6.7 .9,2 .3,.3 .9,.3 1,.8 2.8,4.5 .9,1.1 .9,.3 2.5,0 .3-.6 .3-1.9 1.7-18.7 .6-4.9 .3-.6 .3,.2 .3,.6 .6,2.3 2.1,11.9 .6,1.6 .3,.2 .4-.3 .9-4.4 2.2-17.8 .7-2.4 .3-.4 .3,.5 .6,3.3 2.1,24.4 .9,6.1 .3,.5 .3-.1 3.4-.9-8.1-33.8 .3,.4 .3,1 .7,3.7 2.1,21.9 .6,4.8 .7,2.6 .3,.4 .6-.5 2.2-5.5 .6-.9 .6,0 .6,.6 1,2 2.7,8.3 1,1.6 .6,.3 .3-.4 .3-1.3 1.3-8 .3-1.3 .3-.4 .6,.4 .6,1.1 2.5,7.4 .6,1.1 .6,.4 .3-.2 .7-1.8 1.8-9.8 .6-1.8 .4-.3 .3,.2 .6,1.4 2.2,8.1 .6,.7 .3-.4 .9-5.9 2.3-23.7 .6-3.3 .3-.4 .3,.3 .3,.7 .6,2.6 2.1,13.2 .7,1.8 .3,.3 .3-.3 .9-4 2.1-16.1 .6-2.2 .3-.2 .3,.2 .3,.7 .6,2.9 3,26.5 .6,3.7 .6,1.9 .3,.3 .3-.7 .3-1.7 1.6-17.5 .7-4.6 .3-.6 .3,.3 .3,.9 .6,3.3 2.2,19.6 .6,4.3 .6,2.3 .4,.3 .3-.4 .3-1.2 2.1-18.5 .7-3 .3-.5 .3,.3 .3,.9 .6,3.2 2.2,18.8 .6,4.1 .6,2.2 .3,.3 .3-.4 .4-1.2 2.1-18.5 .6-3.1 .3-.4 .7,.8 .9,3.7 2.7,17.4 .6,2.2 .6,.7 .3-.6 .3-1.7 1.7-17.3 .6-4.5 .3-.7 .3,.3 .3,.6 .9,4.5 2.8,20.9 .6,2.6 .3,.7 .3,.2 .3-.8 .3-2.3 1.6-22.5 .7-5.8 .3-.8 .6,.8 .6,2.2 2.7,18.4 1,3.8 .6,.8 .3-1 .3-2.9 1.7-25.7 .3-2.9 .3-1 .3,.2 .6,1.6 .6,2.9 3,21.1 .6,2.2 .6,.8 .4-.8 .3-2.4 1.6-23.6 .6-6.1 .4-.8 .3,.2 .3,.9 .6,3.1 2.5,20.3 .6,3.1 .3,.9 .3,.2 .3-.6 .7-4.5 1.5-20.9 .9-8.1 .3-.6 .3,.2 1,2.6 2.7,16.8 .9,3.5 .6,.7 .3-1.1 .3-3.1 1.3-20.3 .3-3.1 .3-1.1 .6,.6 .6,2 3,18.2 .6,2.5 .6,1.3 .3,.2 .3-.6 .3-1.8 1.4-12.5 .6-4.4 .4-.6 .3,.2 .3,.6 .6,2.4 .6,3.7 2.8,21.5 .9,4 .3,.6 .4,.2 .3-1 .3-3.1 1.2-20 .3-3 .3-1.1 .6,.7 .6,2.3 3,20.7 .9,3.8 .6,.7 .4-1 .3-3.1 1.7-27.4 .3-3.1 .3-1.1 .3,.3 .3,.6 .7,2.5 .9,6.1 2.5,20.2 .9,4.2 .3,.6 .3,.3 .3-1.2 .3-3.2 1.3-21 .3-3.3 .3-1.1 .3,.2 .6,1.9 .6,3.5 3,25.5 .6,2.7 .3,.7 .3,.2 .3-.9 .4-2.5 1.6-22 .3-2.5 .4-.9 .3,.3 .3,.6 .6,2.3 2.7,19.3 .9,4 .3,.6 .3,.2 .3-.8 .4-2.3 1.6-22.5 .6-5.8 .3-.8 .6,.6 .9,3.2 3,17.5 .6,1.8 .6,.7 .4-.9 .3-2.6 1.7-22.8 .3-2.6 .3-.9 .3,.2 .7,1.4 .9,4.3 2.8,18.3 .9,3.4 .6,.7 .3-1.1 .3-3.3 1.3-21 .3-3.2 .3-1.1 .6,.5 .9,2.9 3,15.6 .6,1.7 .6,.6 .3-1 .3-2.7 1.3-17.5 .3-2.7 .3-.9 .3,.2 .3,.8 .6,3 2.7,24.5 .9,5.1 .3,.8 .3,.3 .4-.5 .3-1.3 1.9-15.3 .3-1.3 .4-.5 .3,.3 .6,1.8 .6,3.5 2.7,22 .6,2.8 .3,.7 .3,.2 .3-.7 .7-4.7 1.6-18.4 .3-1.8 .3-.7 .6,.7 .7,2.1 2.7,16.8 .9,3.5 .6,.7 .3-.7 .3-1.9 1.7-19 .6-5 .3-.7 .3,.2 .9,2.4 2.8,15.5 .9,3.2 .6,.7 .3-.5 .7-3.7 1.8-18.2 .4-1.4 .3-.5 .3,.2 .3,.7 .6,2.6 2.7,20.1 .6,2.6 .3,.7 .3,.2 .4-.4 .6-3.4 1.9-16.6 .3-1.3 .3-.4 .3,.3 .3,.7 .9,5.2 2.5,21.1 .6,3.1 .3,.8 .3,.2 .3-.4 .6-3.5 1.6-15 .6-3.5 .3-.5 .3,.2 .6,1.4 .9,4.2 2.2,12.4 .6,2 .6,.7 .3-.4 .6-3 1.9-14.7 .3-1.1 .3-.4 .4,.2 .6,1.9 .6,3.4 2.4,18.8 .6,2.7 .3,.7 .3,.3 .3-.5 .7-3.3 1.8-16.3 .4-1.3 .3-.5 .6,.8 .6,2.1 2.4,14.7 .6,2.7 .6,1.4 .3,.2 .4-.4 .3-1.3 1.9-16.4 .6-3.3 .3-.5 .3,.2 .3,.7 .6,2.3 2.1,14.3 1,4.9 .6,1.6 .3,.2 .3-.5 .6-3.9 1.6-16.8 .6-4 .3-.5 .6,.7 .6,2 2.8,15.3 .6,2 .6,.7 .3-.5 .6-4.1 1.6-17.6 .6-4.1 .3-.5 .3,.1 .7,1.1 .9,3.5 2.1,10.1 .6,1.7 .6,.6 .3-.5 .7-3.5 1.8-17.1 .4-1.3 .3-.5 .3,.2 .3,.7 .6,2.5 2.4,17.7 .6,3.2 .6,1.7 .3,.3 .4-.4 .3-1.2 2.2-16.7 .3-1.2 .3-.4 .3,.3 .3,.9 .9,5.8 2.1,21 .7,4.3 .6,2.4 .3,.3 .3-.4 .3-1.2 2.2-16.1 .3-1.2 .3-.4 .3,.3 .6,2 .6,3.8 2.5,20.3 .6,3 .3,.7 .3,.3 .3-.6 .3-1.7 1.9-21.8 .6-4.4 .3-.6 .6,.4 .7,1 2.4,7.4 .6,1.3 .6,.8 .6-.1 .3-.4 2.2-6.2 .7-.6 .6,.8 .9,3.8 2.4,15.2 .6,2.2 .6,.7 .3-.5 .7-4 1.9-19.7 .3-1.6 .3-.5 .3,.2 .6,1.9 .6,3.7 2.4,19.5 .7,2.8 .3,.8 .3,.2 .3-.4 .6-3.5 1.9-17.3 .3-1.3 .3-.5 .3,.3 .6,2 .6,3.7 2.5,20.3 .6,3 .3,.7 .3,.3 .3-.5 .3-1.2 1.9-16.2 .6-3.3 .3-.5 .6,.7 .7,2 2.7,15.4 .6,2 .6,.7 .3-.5 .6-3.5 1.6-15.1 .6-3.5 .4-.5 .9,1 1.6,3.5 .6,.7" fill="none" stroke="#352755" stroke-width="3.6" stroke-linejoin="round" stroke-linecap="round" />
<line x1="544.0" y1="11.9" x2="544.0" y2="1271.8" stroke="#F40000" stroke-opacity="0.54" stroke-width="3.3"/>
<path d="M583.6,61.2 L546.5,61.2" fill="none" stroke="#000" stroke-width="3.4"/>
<path d="M556.6,51.4 L545.4,61.2 L556.6,71.0" fill="none" stroke="#000" stroke-width="3.4" stroke-linecap="round" stroke-linejoin="round"/>
<text x="590.3" y="44.6" font-size="16.2" fill="#000">McKinney rain-on-wildfire event</text>
<text x="590.3" y="64.1" font-size="16.2" fill="#000">August 2, 2022</text>
<text x="590.3" y="83.6" font-size="16.2" fill="#000">17:30 PDT to 20:30 PDT</text>
<line x1="676" y1="271.0" x2="701" y2="271.0" stroke="#B5B5B5" stroke-width="2.4"/>
<line x1="676" y1="302.3" x2="701" y2="302.3" stroke="#352755" stroke-width="3.2"/>
<text x="714" y="276.8" font-size="16.15" fill="#000">Historic 2012 - 2021</text>
<text x="714" y="307.7" font-size="16.15" fill="#000">2022</text>
</svg>
</body></html>
